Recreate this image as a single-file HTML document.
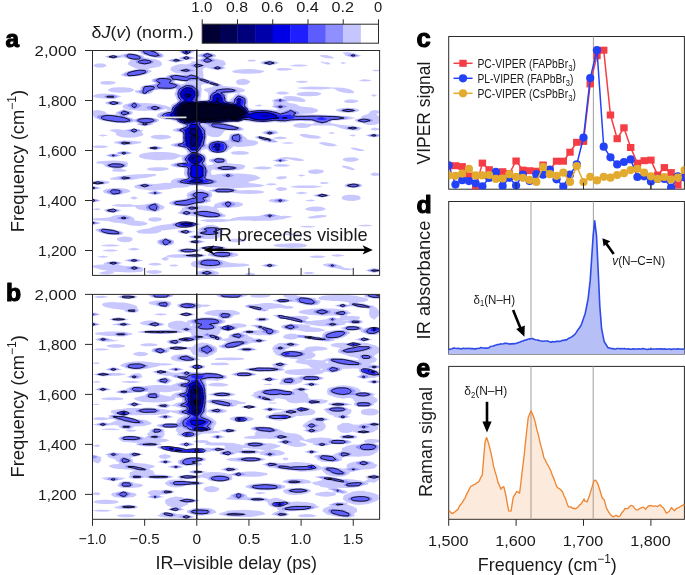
<!DOCTYPE html>
<html><head><meta charset="utf-8"><style>
html,body{margin:0;padding:0;background:#fff;}
svg{display:block;will-change:transform;}
text{font-family:'Liberation Sans', sans-serif;}
</style></head><body>
<svg width="685" height="575" viewBox="0 0 685 575">
<rect width="685" height="575" fill="#fff"/>
<clipPath id="cpa"><rect x="92.5" y="50.5" width="287.10" height="224.90"/></clipPath>
<g clip-path="url(#cpa)">
<path d="M160.3,57.9 155.1,57.8 150.7,56.8 149.9,56.6 145.9,55.5 144.6,55.1 141.5,54.2 140.8,53.0 139.4,52.0 138.5,51.8 136.7,50.5 137.4,49.2 139.4,48.6 144.6,48.3 149.8,49.2 149.9,49.3 154.1,50.5 155.1,50.8 158.4,51.8 160.1,53.0 160.3,53.1 163.4,54.2 163.8,55.5 163.6,56.8 160.3,57.9ZM186.4,55.1 183.2,54.2 181.2,53.0 181.1,53.0 178.3,51.8 181.2,50.5 181.2,50.5 183.2,49.2 186.4,48.5 189.7,49.2 191.6,50.3 192.3,50.5 194.9,51.8 192.1,53.0 191.6,53.1 190.1,54.2 186.4,55.1ZM165.5,189.6 160.3,190.1 155.1,190.4 149.9,190.4 144.6,189.7 140.7,189.2 139.4,189.1 135.2,188.0 134.5,186.8 134.5,185.5 139.4,184.3 139.7,184.2 144.6,183.2 149.9,183.8 155.1,183.9 160.3,183.4 163.4,183.0 165.5,182.7 170.4,183.0 170.7,183.0 170.8,183.0 170.9,181.8 171.3,180.5 173.7,179.2 175.9,178.6 180.8,178.0 181.2,178.0 182.6,178.0 186.4,178.0 186.4,178.0 186.4,177.3 186.0,176.8 184.4,175.5 184.3,174.2 183.9,173.0 184.1,171.8 184.2,170.5 184.6,169.2 184.1,168.0 181.2,167.8 175.9,167.3 173.1,166.8 170.7,165.5 170.6,165.5 170.7,165.1 170.9,164.2 175.0,163.0 175.9,162.8 181.2,162.2 182.8,161.8 182.2,160.5 181.7,159.2 181.4,158.0 181.4,156.8 181.2,155.9 180.1,156.8 177.3,158.0 175.9,158.6 175.0,159.2 170.7,159.8 165.5,159.8 160.3,160.3 155.1,160.2 149.9,159.6 146.4,159.2 144.6,159.0 141.5,158.0 139.4,157.2 138.5,156.8 139.4,155.7 139.6,155.5 139.9,154.2 144.6,153.1 145.1,153.0 149.9,152.2 155.1,151.9 160.3,151.9 165.5,152.0 170.7,152.5 174.5,153.0 175.9,153.4 178.2,154.2 181.2,155.3 186.4,154.4 186.6,154.2 187.6,153.0 187.0,151.8 186.4,150.5 186.4,150.5 184.4,149.2 182.7,148.0 181.2,147.7 175.9,147.0 174.5,146.8 170.9,145.5 171.2,144.2 175.9,143.0 175.9,143.0 181.2,142.2 181.9,141.8 182.0,140.5 182.1,139.2 181.9,138.0 182.0,136.8 182.0,135.5 182.0,134.2 181.8,133.0 181.2,132.6 176.2,131.8 175.9,131.7 172.6,130.5 173.1,129.2 175.9,128.4 177.6,128.0 181.2,127.4 182.7,126.8 182.9,125.5 181.2,124.5 180.5,124.2 177.7,123.0 176.3,121.8 175.9,121.4 173.1,120.5 170.7,120.0 165.5,119.5 164.2,119.2 160.3,118.2 159.1,118.0 157.1,116.8 156.8,115.5 157.5,114.2 159.2,113.0 160.3,112.6 163.7,111.8 165.5,111.3 167.9,110.5 166.6,109.2 165.5,108.5 165.0,109.2 160.3,110.3 159.3,110.5 155.1,111.3 149.9,110.5 144.6,110.9 139.4,110.8 135.4,110.5 134.2,110.3 129.0,109.9 126.0,109.2 123.8,108.2 123.0,108.0 122.8,106.8 122.9,105.5 123.8,105.2 124.8,104.2 129.0,103.4 129.7,103.0 134.2,102.0 139.3,103.0 139.4,103.1 144.6,103.1 149.9,103.3 155.1,103.7 159.1,104.2 160.3,104.4 165.3,105.5 165.5,105.6 168.9,106.8 170.7,107.4 170.9,106.8 171.1,105.5 172.0,104.2 174.7,103.0 175.9,102.6 176.7,101.8 177.1,100.5 176.6,99.2 176.1,98.0 175.9,97.1 175.7,96.8 174.8,95.5 174.5,94.2 174.5,93.0 175.5,91.8 175.7,90.5 175.9,90.3 176.4,89.2 175.9,89.0 174.3,89.2 170.7,89.7 165.5,89.9 160.3,89.5 155.1,90.2 154.1,90.5 153.0,91.8 151.9,93.0 149.9,93.5 147.0,94.2 144.6,94.8 142.2,94.2 139.4,93.4 137.0,93.0 135.0,91.8 134.9,90.5 139.4,89.9 140.4,89.2 140.6,88.0 141.0,86.8 143.8,85.5 144.6,85.3 149.9,84.7 152.9,84.2 155.1,83.4 155.9,83.0 155.1,82.7 152.0,81.8 151.6,80.5 152.0,79.2 155.1,78.3 156.2,78.0 160.3,77.2 165.5,77.1 166.5,76.8 166.8,75.5 170.7,74.4 175.9,74.3 181.2,74.4 186.2,74.2 181.2,73.8 175.9,73.2 175.6,73.0 173.0,71.8 170.8,70.5 170.7,70.2 170.4,69.2 170.7,68.6 171.0,68.0 171.7,66.8 175.1,65.5 175.9,65.1 179.6,64.2 181.2,64.1 184.8,64.2 186.4,64.4 186.9,64.2 191.0,63.0 191.3,61.8 191.6,61.6 196.8,61.2 197.0,60.5 197.9,59.2 202.0,58.5 203.1,58.0 202.0,57.6 198.2,56.8 197.9,55.5 198.8,54.2 202.0,53.6 204.1,53.0 207.2,52.3 210.4,53.0 212.4,53.6 215.1,54.2 216.2,55.5 215.7,56.8 212.4,57.8 211.9,58.0 212.4,58.2 217.7,59.2 217.7,59.2 222.9,60.3 223.5,60.5 224.9,61.8 225.4,63.0 226.0,64.2 224.5,65.5 222.9,66.4 222.8,66.8 222.9,66.8 226.6,68.0 222.9,69.1 222.2,69.2 217.7,70.2 212.8,69.2 212.4,69.2 207.6,68.0 207.2,67.4 204.1,68.0 203.3,69.2 202.4,70.5 203.4,71.8 203.0,73.0 203.5,74.2 203.6,75.5 203.3,76.8 203.8,78.0 206.2,79.2 207.2,79.5 210.8,80.5 212.4,81.1 215.1,81.8 216.2,83.0 217.7,83.4 221.6,84.2 222.5,85.5 222.9,85.7 228.1,86.4 233.2,86.8 233.3,86.8 238.5,87.5 240.3,88.0 243.7,89.1 244.0,89.2 245.2,90.5 243.7,91.7 243.7,91.8 238.5,92.9 237.3,93.0 233.3,93.3 228.1,93.8 227.6,94.2 227.3,95.5 227.1,96.8 227.3,98.0 227.3,99.2 227.6,100.5 228.1,100.9 229.5,100.5 230.2,99.2 231.7,98.0 233.3,97.2 233.6,96.8 234.5,95.5 235.5,94.2 238.5,93.1 241.1,94.2 243.7,95.0 244.8,95.5 246.6,96.8 247.4,98.0 247.7,99.2 247.8,100.5 247.9,101.8 247.8,103.0 247.7,104.2 247.7,105.5 248.2,106.8 248.9,108.0 248.9,108.1 251.6,109.2 254.2,109.5 258.7,109.2 259.4,109.2 264.6,109.2 265.4,109.2 269.8,109.4 275.0,110.0 279.6,109.2 275.2,108.0 275.0,107.9 271.5,106.8 273.3,105.5 273.5,104.2 273.3,103.0 273.6,101.8 271.6,100.5 275.0,99.3 275.3,99.2 280.2,98.1 285.4,99.2 285.5,99.3 285.6,99.2 285.5,99.1 283.3,98.0 283.6,96.8 285.5,96.2 290.7,96.1 295.9,96.4 296.7,96.8 301.1,97.8 301.6,98.0 304.1,99.2 306.0,100.5 304.6,101.8 301.1,102.1 298.6,101.8 295.9,101.4 290.7,100.7 286.5,101.8 289.4,103.0 290.7,103.2 295.9,104.0 296.6,104.2 298.3,105.5 301.1,106.6 303.1,106.8 306.3,106.9 311.5,107.5 313.3,108.0 316.7,109.1 317.2,109.2 318.2,110.5 317.1,111.8 316.7,112.0 313.6,113.0 311.5,113.4 306.3,113.8 301.1,114.1 300.9,114.2 301.1,114.3 306.3,114.4 311.5,114.4 316.7,114.6 322.0,114.7 327.2,114.9 332.4,115.1 335.7,115.5 337.6,115.6 342.8,115.9 348.0,116.3 350.8,116.8 353.2,117.4 356.1,118.0 353.2,118.6 350.7,119.2 348.0,119.6 342.8,120.1 337.6,120.4 335.8,120.5 332.4,120.8 330.8,121.8 330.1,123.0 332.4,123.6 337.2,124.2 337.6,124.4 342.8,124.9 347.1,125.5 348.0,125.6 353.2,125.8 357.5,126.8 358.5,127.0 362.1,128.0 359.9,129.2 358.9,130.5 358.5,130.6 356.8,130.5 353.2,130.4 348.0,129.9 345.2,129.2 342.8,128.7 339.9,128.0 337.6,127.1 336.5,126.8 332.4,125.5 327.2,125.5 322.0,125.6 318.4,125.5 316.7,125.4 313.5,125.5 311.5,125.6 309.7,126.8 306.3,127.7 301.1,127.9 295.9,127.2 294.3,126.8 292.9,125.5 294.3,124.2 295.9,123.8 301.1,123.1 306.3,123.5 311.5,123.9 314.8,123.0 313.2,121.8 311.5,121.2 306.3,121.3 301.1,121.1 295.9,121.1 291.1,121.8 290.7,121.9 285.5,122.5 280.2,122.5 275.0,122.0 269.8,122.5 264.6,122.9 259.4,122.8 254.2,122.5 250.0,121.8 248.9,121.6 243.7,121.0 241.3,121.8 238.5,122.5 233.3,122.6 228.1,122.9 227.1,123.0 228.1,123.3 229.7,124.2 233.3,124.9 235.6,125.5 238.5,126.4 240.1,126.8 242.6,128.0 243.7,129.0 244.4,129.2 243.7,129.6 241.9,130.5 238.5,131.0 233.3,131.0 229.2,130.5 228.1,130.4 224.8,130.5 224.3,131.8 222.9,133.0 222.9,133.1 222.2,134.2 221.0,135.5 218.9,136.8 217.7,137.2 212.4,137.0 211.5,136.8 207.8,135.5 207.2,135.1 207.2,135.5 207.0,136.8 206.8,138.0 206.6,139.2 206.4,140.5 206.3,141.8 206.2,143.0 206.9,144.2 207.2,144.7 207.5,144.2 208.4,143.0 209.4,141.8 212.4,140.8 214.9,140.5 217.7,139.8 221.5,140.5 222.9,140.6 225.6,140.5 228.1,140.1 228.6,139.2 229.0,138.0 229.2,136.8 229.4,135.5 230.5,134.2 233.3,133.6 238.5,133.0 238.5,133.0 238.5,133.0 242.0,134.2 243.0,135.5 243.7,136.3 244.9,136.8 246.4,138.0 247.2,139.2 248.9,139.8 254.2,140.4 254.6,140.5 257.9,141.8 258.2,143.0 257.0,144.2 254.2,145.5 254.1,145.5 248.9,146.2 243.7,146.7 243.1,146.8 238.5,146.9 236.9,146.8 233.3,146.3 232.9,146.8 231.6,148.0 229.8,149.2 228.1,149.9 227.6,150.5 226.9,151.8 222.9,152.8 221.6,153.0 217.7,153.6 214.2,153.0 212.4,152.7 209.3,151.8 208.2,150.5 207.4,149.2 207.2,148.9 205.5,149.2 202.0,149.9 201.6,150.5 201.0,151.8 201.1,153.0 202.0,153.4 204.4,154.2 205.7,155.5 206.3,156.8 206.5,158.0 206.6,159.2 206.4,160.5 206.2,161.8 206.2,163.0 206.7,164.2 207.2,165.5 207.2,165.5 207.3,165.5 212.4,164.4 213.5,164.2 213.5,163.0 212.4,162.6 209.9,161.8 208.7,160.5 209.3,159.2 212.4,158.6 214.7,158.0 217.7,157.3 222.9,157.7 224.0,158.0 226.6,159.2 227.1,160.5 227.2,161.8 227.2,163.0 228.1,163.3 233.3,163.7 238.5,163.9 240.7,164.2 243.7,165.0 245.0,165.5 245.1,166.8 244.5,168.0 243.7,168.4 242.2,169.2 238.5,170.0 233.3,170.5 232.0,170.5 228.1,170.8 222.9,170.7 220.3,170.5 217.7,170.4 212.4,169.4 211.6,170.5 211.0,171.8 211.1,173.0 211.5,174.2 212.4,175.1 217.4,174.2 217.7,174.2 222.9,173.6 228.1,173.0 233.3,173.4 238.5,173.5 243.7,173.7 248.9,174.2 249.3,174.2 254.2,175.0 256.3,175.5 258.4,176.8 259.4,177.3 260.8,178.0 259.4,178.7 258.0,179.2 254.7,180.5 254.2,180.6 248.9,181.7 248.9,181.8 248.5,183.0 248.9,183.0 254.2,183.4 259.4,184.2 260.2,184.2 264.6,185.3 267.1,185.5 264.6,185.6 261.0,186.8 259.4,186.9 254.2,187.2 248.9,187.6 243.7,187.8 238.5,187.9 233.3,187.9 228.1,187.8 222.9,187.7 217.7,187.6 212.4,187.3 207.2,187.0 205.8,186.8 202.0,186.0 196.8,185.7 194.5,185.5 191.6,185.5 190.7,185.5 188.3,186.8 186.4,187.3 181.2,187.8 175.9,187.7 173.4,188.0 170.7,188.9 169.0,189.2 165.5,189.6ZM353.2,57.7 349.4,56.8 348.0,56.4 344.9,55.5 344.7,54.2 342.8,53.0 342.8,53.0 342.8,52.6 348.0,52.0 352.1,53.0 353.2,53.1 357.1,54.2 358.5,54.7 361.1,55.5 358.5,56.7 358.3,56.8 353.2,57.7ZM129.0,77.0 127.1,76.8 123.8,76.3 121.3,75.5 121.3,74.2 123.8,73.1 123.9,73.0 125.9,71.8 129.0,70.9 130.9,70.5 134.2,69.5 138.2,69.2 134.9,68.0 134.2,67.8 132.2,66.8 129.6,65.5 129.0,65.0 128.0,64.2 128.1,63.0 129.0,61.9 129.2,61.8 130.3,60.5 129.5,59.2 129.0,59.1 125.1,58.0 123.8,57.2 118.6,58.0 118.5,58.0 113.4,58.8 108.4,58.0 108.1,57.9 104.7,56.8 108.1,55.6 108.5,55.5 113.4,54.7 118.6,55.4 122.4,54.2 123.8,53.9 129.0,53.3 134.2,53.5 137.6,54.2 139.4,54.7 143.0,55.5 143.9,56.8 144.6,57.5 148.6,58.0 149.9,58.4 155.1,59.1 155.6,59.2 159.0,60.5 160.3,61.2 161.0,61.8 161.7,63.0 162.2,64.2 161.3,65.5 160.3,66.3 159.2,66.8 155.1,67.5 152.3,68.0 149.9,68.4 147.7,69.2 149.9,69.9 151.2,70.5 151.6,71.8 149.9,72.3 148.8,73.0 146.7,74.2 144.6,74.7 141.9,75.5 139.4,76.1 134.2,76.6 131.5,76.8 129.0,77.0ZM332.4,58.5 327.2,58.3 326.0,58.0 322.0,57.0 321.2,56.8 319.6,55.5 322.0,54.9 327.2,55.3 328.2,55.5 332.2,56.8 332.4,56.8 333.9,58.0 332.4,58.5ZM186.4,60.2 181.5,59.2 181.2,59.1 178.0,58.0 181.2,57.0 182.0,56.8 186.4,55.8 190.9,56.8 191.6,57.0 196.0,58.0 191.6,59.1 191.3,59.2 186.4,60.2ZM175.9,62.7 171.5,61.8 170.7,61.6 166.5,60.5 170.7,59.5 171.5,59.2 175.9,58.4 180.8,59.2 181.2,59.4 185.1,60.5 181.2,61.6 180.4,61.8 175.9,62.7ZM254.2,61.4 248.9,61.4 247.3,60.5 248.9,59.7 254.2,59.7 256.2,60.5 254.2,61.4ZM275.0,64.4 269.8,65.4 264.6,64.6 263.1,64.2 260.0,63.0 261.6,61.8 264.6,60.7 267.4,60.5 269.8,60.3 271.8,60.5 275.0,61.0 276.8,61.8 279.4,63.0 275.4,64.2 275.0,64.4ZM322.0,63.0 320.4,61.8 322.0,61.4 324.6,61.8 322.0,63.0ZM327.2,64.4 326.4,64.2 322.0,63.0 327.2,62.1 329.8,63.0 330.5,64.2 327.2,64.4ZM342.8,64.0 340.1,63.0 342.8,62.0 346.9,63.0 342.8,64.0ZM102.9,67.5 97.7,67.8 95.0,66.8 93.1,65.5 95.0,64.2 97.7,63.4 102.9,63.4 105.3,64.2 106.6,65.5 105.3,66.8 102.9,67.5ZM306.3,65.9 301.1,66.5 295.9,66.4 290.7,65.7 289.7,65.5 290.7,65.3 295.9,64.6 301.1,64.6 306.3,65.1 308.2,65.5 306.3,65.9ZM285.5,70.6 280.2,70.7 278.8,70.5 275.7,69.2 279.7,68.0 280.2,67.9 285.5,67.9 286.0,68.0 290.7,68.6 292.5,69.2 290.7,70.0 286.2,70.5 285.5,70.6ZM259.4,73.2 254.2,73.6 248.9,73.8 243.7,73.8 238.5,73.3 236.1,73.0 233.3,72.4 231.8,71.8 233.3,70.8 233.7,70.5 238.5,69.5 243.7,69.3 244.1,69.2 248.9,69.0 253.8,69.2 254.2,69.3 259.4,70.0 262.8,70.5 264.5,71.8 260.4,73.0 259.4,73.2ZM379.3,71.2 374.1,71.2 372.0,70.5 374.1,69.8 379.3,69.8 381.1,70.5 379.3,71.2ZM243.7,85.1 238.5,84.8 237.6,84.2 236.2,83.0 236.0,81.8 236.5,80.5 238.5,79.5 240.1,79.2 243.7,78.7 246.0,79.2 248.9,80.4 249.2,80.5 250.4,81.8 249.2,83.0 248.9,83.3 247.5,84.2 243.7,85.1ZM182.0,84.2 185.3,83.0 186.0,81.8 181.2,81.4 176.1,80.5 175.9,80.5 175.8,80.5 174.3,81.8 175.9,82.8 177.0,83.0 180.7,84.2 181.2,84.6 182.0,84.2ZM368.9,81.3 363.7,81.5 358.5,80.5 363.7,79.3 368.9,79.8 371.6,80.5 368.9,81.3ZM108.1,84.8 102.9,84.5 102.0,84.2 99.9,83.0 100.9,81.8 102.9,81.3 108.1,81.1 113.4,81.4 114.7,81.8 115.9,83.0 113.4,84.1 112.8,84.2 108.1,84.8ZM306.3,82.4 301.1,82.9 295.9,82.0 295.3,81.8 295.9,81.5 301.1,80.7 306.3,81.1 308.2,81.8 306.3,82.4ZM207.8,99.2 207.9,98.0 207.9,96.8 208.1,95.5 208.2,94.2 208.0,93.0 207.2,92.0 206.1,91.8 204.5,90.5 203.3,89.2 207.2,88.2 207.8,88.0 212.4,86.9 213.4,86.8 213.3,85.5 212.4,85.3 208.4,84.2 207.2,83.9 202.4,84.2 202.0,84.7 201.2,85.5 201.0,86.8 201.6,88.0 201.8,89.2 201.8,90.5 201.6,91.8 201.4,93.0 201.4,94.2 201.2,95.5 200.9,96.8 200.7,98.0 200.1,99.2 202.0,100.0 207.2,99.7 207.8,99.2ZM353.2,93.2 348.0,93.2 346.7,93.0 342.8,92.4 340.4,91.8 337.6,90.9 336.7,90.5 335.3,89.2 332.4,88.5 327.2,89.0 323.9,89.2 322.0,89.4 316.7,89.5 311.5,89.5 306.3,89.3 305.7,89.2 301.1,88.7 296.4,88.0 301.1,87.3 306.3,86.9 308.4,86.8 311.5,86.6 316.7,86.7 320.1,86.8 322.0,86.8 327.2,87.0 332.4,87.6 337.6,87.5 342.8,87.8 343.9,88.0 348.0,88.7 350.0,89.2 352.3,90.5 353.2,91.1 354.2,91.8 353.8,93.0 353.2,93.2ZM129.0,92.2 123.8,92.5 118.6,92.7 113.4,92.3 110.6,91.8 108.1,90.7 107.8,90.5 108.1,89.9 108.6,89.2 111.2,88.0 113.4,87.6 118.6,87.3 123.8,87.3 129.0,87.7 130.5,88.0 133.7,89.2 133.6,90.5 131.3,91.8 129.0,92.2ZM285.5,94.6 280.2,94.5 279.2,94.2 275.2,93.0 279.5,91.8 280.2,91.6 285.3,91.8 285.5,91.8 289.8,93.0 286.3,94.2 285.5,94.6ZM316.7,95.8 311.5,96.3 306.3,96.3 301.1,95.9 298.7,95.5 296.4,94.2 297.4,93.0 301.1,92.2 306.0,91.8 306.3,91.7 310.8,91.8 311.5,91.8 316.7,92.1 320.9,93.0 321.2,94.2 318.3,95.5 316.7,95.8ZM113.4,98.9 108.1,98.8 102.9,98.4 98.1,98.0 97.7,98.0 93.4,96.8 93.2,95.5 96.6,94.2 97.7,94.1 102.9,93.6 108.1,93.7 113.4,94.1 113.7,94.2 118.6,95.5 118.6,95.5 121.6,96.8 118.6,97.5 117.5,98.0 113.4,98.9ZM374.1,96.7 370.9,95.5 374.1,94.3 377.1,95.5 374.1,96.7ZM353.2,103.1 348.0,103.1 347.3,103.0 343.6,101.8 344.7,100.5 348.0,99.6 353.2,99.5 357.9,100.5 358.3,101.8 353.7,103.0 353.2,103.1ZM118.6,105.0 113.4,105.3 108.1,104.6 106.9,104.2 104.8,103.0 106.7,101.8 108.1,101.4 113.4,100.8 118.6,101.2 121.1,101.8 122.7,103.0 122.4,104.2 118.6,105.0ZM259.4,106.6 254.3,105.5 259.4,104.4 262.6,105.5 259.4,106.6ZM353.2,112.6 348.0,112.8 342.8,112.5 338.6,111.8 337.6,111.2 336.0,110.5 336.5,109.2 337.6,108.9 342.8,108.0 343.3,108.0 348.0,107.7 352.6,108.0 353.2,108.0 358.5,109.2 358.6,109.2 359.5,110.5 358.5,111.0 357.4,111.8 353.2,112.6ZM144.6,126.3 140.6,125.5 139.4,125.2 136.4,124.2 138.0,123.0 134.2,121.9 129.4,123.0 129.0,123.1 123.8,123.3 120.2,123.0 118.6,122.9 113.4,122.6 108.1,121.8 108.0,121.8 102.9,120.8 101.7,120.5 98.0,119.2 97.7,119.1 95.0,118.0 93.9,116.8 93.1,115.5 92.5,115.1 90.5,114.2 90.3,113.0 90.8,111.8 92.5,110.8 93.9,110.5 97.7,110.1 100.9,110.5 102.9,110.9 105.4,111.8 106.1,113.0 108.1,114.0 108.9,114.2 113.4,114.5 116.4,114.2 115.4,113.0 116.7,111.8 118.6,111.2 120.0,110.5 123.8,109.3 128.5,110.5 129.0,110.6 132.9,111.8 132.8,113.0 132.2,114.2 129.0,115.2 127.7,115.5 127.2,116.8 129.0,117.3 131.8,118.0 134.2,119.2 138.2,118.0 139.4,117.7 144.6,117.2 149.9,117.3 153.6,118.0 155.1,118.3 158.9,119.2 158.9,120.5 158.2,121.8 155.1,122.7 153.7,123.0 153.1,124.2 149.9,125.2 148.6,125.5 144.6,126.3ZM374.1,125.1 368.9,125.1 365.5,124.2 363.7,123.7 362.8,123.0 358.5,122.5 356.2,121.8 354.6,120.5 355.2,119.2 358.5,118.4 360.6,118.0 361.3,116.8 363.0,115.5 363.7,115.2 367.4,114.2 368.9,113.3 369.3,113.0 369.6,111.8 372.1,110.5 374.1,110.1 378.1,110.5 379.3,110.7 381.1,111.8 379.6,113.0 379.3,113.2 375.9,114.2 378.0,115.5 379.3,116.6 379.5,116.8 381.2,118.0 381.6,119.2 381.5,120.5 380.8,121.8 379.7,123.0 379.3,123.2 377.0,124.2 374.1,125.1ZM374.1,130.5 373.9,130.5 370.1,129.2 372.7,128.0 374.1,127.6 376.3,128.0 379.3,128.5 380.9,129.2 379.3,130.0 374.7,130.5 374.1,130.5ZM134.2,137.6 129.0,137.8 123.8,137.5 120.4,136.8 118.6,136.1 117.2,135.5 115.8,134.2 116.2,133.0 113.4,131.8 113.3,131.8 109.0,130.5 113.0,129.2 113.4,129.2 118.6,129.2 118.8,129.2 123.8,130.1 129.0,129.3 129.2,129.2 134.2,128.3 139.1,129.2 139.4,129.4 143.4,130.5 141.3,131.8 142.5,133.0 143.5,134.2 142.6,135.5 139.4,136.5 138.1,136.8 134.2,137.6ZM269.8,135.1 265.8,134.2 264.6,133.8 261.4,133.0 263.7,131.8 264.6,131.2 267.6,130.5 269.8,130.2 274.7,130.5 275.0,130.5 277.4,131.8 278.7,133.0 275.0,134.0 274.2,134.2 269.8,135.1ZM332.4,133.9 327.2,133.0 332.4,132.1 334.8,133.0 332.4,133.9ZM316.7,138.8 311.5,138.5 308.2,138.0 306.3,137.7 302.5,136.8 301.1,136.1 299.6,135.5 300.4,134.2 301.1,134.1 306.3,134.1 307.1,134.2 311.5,134.9 316.1,135.5 316.7,135.6 320.3,136.8 321.1,138.0 316.7,138.8ZM374.1,137.5 369.7,136.8 368.9,136.6 365.2,135.5 368.9,134.5 369.7,134.2 374.1,133.4 378.2,134.2 379.3,134.6 382.5,135.5 379.3,136.4 378.1,136.8 374.1,137.5ZM108.1,135.6 102.9,136.6 98.2,135.5 102.9,134.4 108.1,135.4 108.7,135.5 108.1,135.6ZM160.3,139.5 157.8,139.2 155.1,138.8 151.5,138.0 150.7,136.8 152.8,135.5 155.1,135.0 160.3,134.7 165.5,135.0 169.0,135.5 170.7,136.4 171.2,136.8 170.7,137.8 170.5,138.0 165.5,139.0 163.7,139.2 160.3,139.5ZM353.2,136.4 348.8,135.5 353.2,134.6 356.0,135.5 353.2,136.4ZM275.0,142.7 269.8,142.5 266.2,141.8 264.6,141.3 260.7,140.5 260.2,139.2 259.4,139.0 255.4,138.0 254.8,136.8 259.4,135.9 263.1,136.8 264.6,137.1 268.8,138.0 269.8,138.3 274.5,139.2 275.0,140.1 275.6,140.5 278.7,141.8 275.0,142.7ZM280.2,139.3 279.3,139.2 275.0,138.8 273.0,138.0 275.0,137.2 278.6,136.8 280.2,136.6 281.8,136.8 285.5,137.3 287.2,138.0 285.5,138.8 281.2,139.2 280.2,139.3ZM134.2,144.3 129.0,145.0 123.8,145.2 119.1,144.2 118.6,144.1 113.8,143.0 114.6,141.8 118.6,141.0 123.8,140.6 129.0,140.6 134.2,140.9 139.4,141.4 141.3,141.8 141.1,143.0 139.4,143.3 134.5,144.2 134.2,144.3ZM290.7,143.8 285.5,143.8 281.0,143.0 285.5,142.2 290.7,142.3 294.5,143.0 290.7,143.8ZM337.6,145.5 332.4,146.6 327.2,145.9 325.0,145.5 322.0,144.6 320.9,144.2 318.5,143.0 322.0,142.0 327.2,142.5 329.5,143.0 332.4,143.6 334.7,144.2 337.6,145.5 337.6,145.5 337.6,145.5ZM102.9,148.0 97.7,148.0 97.2,148.0 92.5,147.3 91.0,146.8 92.5,146.2 96.6,145.5 97.7,145.4 102.9,145.4 104.3,145.5 108.1,146.5 109.0,146.8 108.1,147.0 103.4,148.0 102.9,148.0ZM155.1,150.3 150.4,149.2 149.9,149.1 146.3,148.0 149.9,146.8 150.3,146.8 155.1,145.9 159.6,146.8 160.3,146.9 163.6,148.0 160.3,149.1 159.6,149.2 155.1,150.3ZM363.7,151.1 358.5,150.9 356.8,150.5 353.2,149.6 352.1,149.2 350.4,148.0 353.2,147.4 356.7,148.0 358.5,148.4 361.5,149.2 363.7,150.0 364.7,150.5 363.7,151.1ZM123.8,155.1 119.1,154.2 118.6,154.1 115.3,153.0 118.6,152.0 119.4,151.8 123.8,150.9 128.4,151.8 129.0,151.9 132.9,153.0 129.0,154.1 128.3,154.2 123.8,155.1ZM243.7,154.7 238.5,154.8 233.3,154.4 232.8,154.2 230.4,153.0 232.5,151.8 233.3,151.6 238.5,151.1 243.7,151.2 247.0,151.8 248.9,152.7 249.6,153.0 248.9,153.4 247.0,154.2 243.7,154.7ZM113.4,157.5 109.7,156.8 108.1,156.3 105.2,155.5 108.1,154.7 109.5,154.2 113.4,153.4 117.9,154.2 118.6,154.5 121.7,155.5 118.6,156.3 117.1,156.8 113.4,157.5ZM280.2,162.6 276.7,161.8 275.0,161.2 272.4,160.5 275.0,159.8 276.9,159.2 279.7,158.0 280.2,157.8 285.5,157.1 290.7,157.5 295.9,157.7 297.3,158.0 301.1,158.9 302.6,159.2 304.4,160.5 301.1,160.9 295.9,160.7 294.9,160.5 290.7,159.6 288.0,159.2 285.5,158.9 284.8,159.2 285.5,159.4 288.9,160.5 285.5,161.2 283.8,161.8 280.2,162.6ZM353.2,161.8 348.0,161.8 347.5,161.8 343.4,160.5 342.8,159.6 342.6,159.2 342.8,159.1 344.8,158.0 348.0,157.4 353.2,157.2 356.6,158.0 358.5,158.8 359.1,159.2 358.5,159.8 357.5,160.5 353.5,161.8 353.2,161.8ZM118.6,171.8 117.3,171.8 113.4,171.4 111.3,170.5 113.4,169.6 115.2,169.2 113.4,168.9 112.0,168.0 108.1,167.4 105.4,166.8 104.4,165.5 103.1,164.2 102.9,164.1 97.7,163.4 96.0,163.0 97.0,161.8 97.7,161.6 102.9,161.1 108.1,160.7 113.4,160.5 118.6,160.7 123.8,161.2 126.8,161.8 127.8,163.0 127.8,164.2 127.6,165.5 127.1,166.8 123.8,167.6 120.6,168.0 122.7,169.2 123.8,169.4 127.3,170.5 123.8,171.7 121.1,171.8 118.6,171.8ZM280.2,166.8 279.0,166.8 275.0,166.2 273.3,165.5 275.0,164.7 277.7,164.2 280.2,164.0 285.5,164.2 285.8,164.2 290.7,165.4 291.1,165.5 290.7,165.6 285.5,166.7 284.6,166.8 280.2,166.8ZM264.6,169.5 259.4,169.3 259.0,169.2 254.2,168.4 251.8,168.0 254.2,167.6 258.5,166.8 259.4,166.6 264.6,166.6 266.4,166.8 269.8,167.1 272.3,168.0 269.8,168.8 267.2,169.2 264.6,169.5ZM353.2,170.2 348.0,169.3 348.0,169.2 344.7,168.0 342.8,167.2 341.9,166.8 342.8,165.5 348.0,166.3 349.6,166.8 352.6,168.0 353.2,168.2 355.3,169.2 353.2,170.2ZM160.3,171.0 155.1,171.0 150.6,170.5 149.9,170.4 146.3,169.2 148.5,168.0 149.9,167.8 155.1,167.3 160.3,167.2 165.5,167.6 167.6,168.0 169.2,169.2 165.5,170.3 164.5,170.5 160.3,171.0ZM322.0,173.0 316.7,173.9 311.5,173.7 309.1,173.0 308.0,171.8 308.7,170.5 311.5,169.7 316.0,169.2 316.7,169.2 317.3,169.2 322.0,169.9 323.6,170.5 323.8,171.8 322.0,173.0 322.0,173.0ZM374.1,176.0 372.0,175.5 370.3,174.2 372.3,173.0 374.1,172.6 377.8,173.0 379.3,173.4 380.6,174.2 379.3,175.5 379.3,175.5 374.1,176.0ZM134.2,179.4 129.0,180.1 123.8,180.3 118.6,180.0 113.4,179.8 109.5,179.2 110.9,178.0 113.4,177.5 116.2,176.8 118.6,176.3 123.8,175.6 125.5,175.5 129.0,175.0 134.2,174.5 139.4,174.3 140.2,174.2 144.6,174.1 149.9,173.9 155.1,174.1 156.2,174.2 156.0,175.5 155.1,175.8 151.3,176.8 149.9,177.0 145.4,178.0 144.6,178.1 139.4,178.6 135.5,179.2 134.2,179.4ZM301.1,176.4 297.5,175.5 301.1,174.6 305.9,175.5 301.1,176.4ZM280.2,179.5 278.8,179.2 275.3,178.0 277.8,176.8 280.2,176.2 285.5,176.3 286.9,176.8 286.5,178.0 285.5,178.5 282.3,179.2 280.2,179.5ZM102.9,184.5 97.7,185.1 92.5,184.3 92.0,184.2 88.3,183.0 90.4,181.8 92.5,181.2 97.7,180.5 102.9,180.5 108.1,181.3 109.2,181.8 109.5,183.0 108.1,183.5 104.8,184.2 102.9,184.5ZM327.2,183.7 322.0,183.9 319.7,183.0 322.0,182.1 327.2,182.3 329.0,183.0 327.2,183.7ZM275.0,185.1 269.8,185.5 265.4,184.2 269.8,183.3 275.0,183.6 277.0,184.2 275.0,185.1ZM358.5,187.5 353.2,187.7 348.0,187.4 345.2,186.8 344.4,185.5 345.5,184.2 348.0,183.6 353.2,183.3 358.5,183.5 361.7,184.2 362.1,185.5 361.4,186.8 358.5,187.5ZM311.5,188.0 306.3,188.1 301.1,188.0 300.8,188.0 295.9,187.8 290.7,187.0 289.6,186.8 290.7,186.5 295.9,185.8 299.1,185.5 301.1,185.4 306.3,185.4 311.5,185.4 313.1,185.5 316.7,185.8 322.0,186.6 322.4,186.8 322.0,186.8 316.7,187.6 312.2,188.0 311.5,188.0ZM92.5,190.1 88.4,189.2 87.3,188.9 84.2,188.0 87.3,187.1 88.3,186.8 92.5,185.9 96.6,186.8 97.7,187.1 101.5,188.0 97.7,189.0 96.6,189.2 92.5,190.1ZM280.2,191.0 277.8,190.5 275.9,189.2 276.6,188.0 280.2,187.1 285.5,187.7 286.6,188.0 287.0,189.2 285.5,190.2 284.3,190.5 280.2,191.0ZM118.6,195.0 113.4,195.2 109.0,194.2 108.1,193.9 104.2,193.0 103.3,191.8 102.9,190.7 102.7,190.5 102.9,190.4 105.6,189.2 108.1,188.7 113.4,188.1 118.6,188.1 123.8,188.4 127.7,189.2 129.0,189.9 130.1,190.5 130.1,191.8 129.0,192.3 126.3,193.0 123.8,193.4 122.4,194.2 118.6,195.0ZM259.4,193.5 254.2,193.8 248.9,193.9 243.7,193.7 238.5,193.5 234.3,193.0 233.3,192.9 228.1,192.8 222.9,192.7 217.7,192.7 212.6,191.8 212.4,191.7 207.8,190.5 212.4,189.4 212.8,189.2 217.7,188.1 222.9,188.1 228.1,188.0 233.3,188.0 236.5,189.2 238.5,190.5 238.5,190.5 238.5,190.5 243.7,190.2 248.9,190.1 254.2,190.3 259.4,190.4 259.8,190.5 264.5,191.8 262.9,193.0 259.4,193.5ZM222.9,217.3 217.7,217.8 212.4,217.9 207.2,217.8 202.0,217.4 196.8,216.9 196.0,216.8 191.6,215.8 190.2,215.5 186.4,215.4 181.4,214.2 181.2,214.2 177.2,213.0 179.7,211.8 180.6,210.5 181.2,210.0 182.1,209.2 181.9,208.0 186.1,206.8 181.2,206.5 175.9,206.1 173.5,205.5 170.7,204.4 170.1,204.2 168.4,203.0 170.2,201.8 170.7,201.6 173.8,200.5 175.9,200.0 181.2,199.6 183.5,199.2 186.4,198.3 187.6,198.0 187.0,196.8 186.8,195.5 186.8,194.2 187.5,193.0 190.1,191.8 191.6,191.1 193.0,190.5 196.8,189.6 202.0,189.3 205.5,190.5 207.2,190.9 211.5,191.8 211.6,193.0 212.2,194.2 212.2,195.5 211.8,196.8 210.4,198.0 210.2,199.2 210.8,200.5 210.4,201.8 207.2,202.5 205.0,203.0 202.0,203.9 196.8,204.1 196.3,204.2 196.8,205.2 201.9,205.5 202.0,205.5 207.2,205.8 211.9,206.8 212.4,207.0 213.6,206.8 214.1,205.5 214.8,204.2 217.4,203.0 217.7,202.9 221.3,201.8 222.9,201.6 228.1,200.7 233.3,201.6 235.2,201.8 238.5,202.1 241.8,203.0 243.0,204.2 242.7,205.5 238.9,206.8 238.5,206.9 233.3,207.6 228.1,207.9 222.9,207.8 218.1,208.0 217.7,208.1 216.8,209.2 217.7,209.6 219.3,210.5 218.8,211.8 221.6,213.0 222.9,213.8 224.2,214.2 225.9,215.5 225.3,216.8 222.9,217.3ZM155.1,195.0 151.3,194.2 149.9,193.9 146.7,193.0 149.9,192.1 151.1,191.8 155.1,190.5 159.1,191.8 160.3,192.1 163.4,193.0 160.3,193.8 158.8,194.2 155.1,195.0ZM306.3,193.4 301.1,194.2 295.9,193.2 295.4,193.0 295.9,192.8 301.1,191.8 306.3,192.6 307.4,193.0 306.3,193.4ZM322.0,197.6 317.1,196.8 316.7,196.7 312.8,195.5 316.7,194.3 317.1,194.2 322.0,193.4 327.2,194.2 327.2,194.3 331.2,195.5 327.2,196.7 326.9,196.8 322.0,197.6ZM353.2,200.9 348.0,200.8 346.2,200.5 342.8,199.5 342.2,199.2 341.7,198.0 342.2,196.8 342.8,196.3 344.2,195.5 348.0,194.8 353.2,194.7 358.1,195.5 358.5,195.6 360.1,196.8 360.6,198.0 360.3,199.2 358.5,199.9 356.0,200.5 353.2,200.9ZM134.2,199.4 133.3,199.2 129.7,198.0 132.9,196.8 134.2,196.5 135.4,196.8 138.1,198.0 135.1,199.2 134.2,199.4ZM92.5,202.6 88.0,201.8 87.3,201.5 84.2,200.5 87.3,199.5 87.9,199.2 92.5,198.4 97.2,199.2 97.7,199.4 100.9,200.5 97.7,201.5 97.0,201.8 92.5,202.6ZM285.5,202.0 280.2,202.9 275.0,202.7 269.8,201.8 269.8,201.8 268.5,200.5 269.8,199.7 270.8,199.2 275.0,198.7 280.2,198.2 285.2,199.2 285.5,199.3 289.3,200.5 286.2,201.8 285.5,202.0ZM311.5,201.4 306.3,200.9 305.3,200.5 306.3,200.2 311.5,199.5 315.4,200.5 311.5,201.4ZM155.1,212.1 152.6,211.8 149.9,211.2 144.6,210.5 144.5,210.5 139.4,209.5 138.3,209.2 136.2,208.0 135.2,206.8 134.2,206.5 129.7,206.8 129.0,206.8 123.8,206.9 120.6,206.8 118.6,206.6 113.4,206.1 111.1,205.5 113.4,204.9 117.3,204.2 118.6,204.2 123.8,204.2 129.0,204.2 129.9,204.2 134.2,204.9 139.4,205.0 144.6,204.4 145.0,204.2 149.9,203.4 152.0,203.0 155.1,202.5 157.5,203.0 159.8,204.2 160.3,204.8 162.7,205.5 164.6,206.8 164.3,208.0 163.0,209.2 160.3,210.0 159.7,210.5 156.9,211.8 155.1,212.1ZM322.0,210.7 316.7,211.4 311.5,211.1 307.9,210.5 306.3,210.0 305.1,209.2 306.3,208.2 306.6,208.0 311.5,206.8 311.6,206.8 316.7,206.5 319.6,206.8 322.0,207.1 324.6,208.0 325.8,209.2 323.1,210.5 322.0,210.7ZM97.7,210.2 92.5,209.4 92.1,209.2 92.5,209.1 97.7,208.3 101.1,209.2 97.7,210.2ZM113.4,212.7 108.1,212.4 105.9,211.8 104.2,210.5 104.6,209.2 108.1,208.7 113.4,208.4 117.9,209.2 118.6,209.5 121.7,210.5 118.6,211.5 117.9,211.8 113.4,212.7ZM222.9,221.9 217.7,222.1 212.4,222.2 207.2,221.9 206.6,221.8 202.0,221.0 199.7,220.5 202.0,220.0 207.2,219.3 208.5,219.2 212.4,219.0 217.7,218.7 222.9,219.1 225.3,219.2 228.1,219.4 230.3,219.2 233.0,218.0 233.3,217.9 238.5,216.9 240.3,216.8 243.7,216.6 248.9,216.2 254.2,216.2 259.4,216.1 260.1,215.5 264.6,214.4 265.2,214.2 269.8,213.4 274.6,214.2 275.0,214.4 279.6,215.5 280.2,216.1 285.5,215.7 290.7,216.3 292.0,216.8 290.7,217.4 286.7,218.0 285.5,218.5 283.0,219.2 280.2,219.6 275.0,220.3 272.6,220.5 269.8,220.7 264.6,220.8 259.4,220.8 254.2,220.9 248.9,220.6 243.7,220.6 241.5,220.5 238.5,220.3 236.7,220.5 233.3,220.7 228.1,221.3 224.2,221.8 222.9,221.9ZM139.4,225.9 134.2,225.8 131.3,225.5 129.0,225.1 126.1,224.2 123.8,223.6 118.6,223.0 118.2,223.0 113.4,222.5 110.9,221.8 108.1,221.0 102.9,220.8 97.7,220.6 97.0,220.5 92.5,219.9 90.4,219.2 92.5,218.6 97.6,218.0 97.7,218.0 102.9,217.9 108.1,217.4 111.1,216.8 113.4,215.7 114.2,215.5 118.6,214.9 123.8,214.7 127.9,215.5 129.0,215.8 131.8,216.8 133.8,218.0 134.2,219.1 134.4,219.2 134.5,220.5 139.4,221.1 144.2,221.8 144.6,221.9 147.5,223.0 147.1,224.2 144.6,225.2 143.2,225.5 139.4,225.9ZM316.7,218.2 311.5,218.4 307.7,218.0 308.6,216.8 311.5,216.2 315.6,215.5 316.7,215.3 322.0,215.1 327.2,215.5 327.3,215.5 327.2,215.6 326.0,216.8 322.0,217.5 318.6,218.0 316.7,218.2ZM155.1,221.8 154.5,221.8 149.9,220.9 148.9,220.5 148.2,219.2 149.4,218.0 149.9,217.8 155.1,217.2 160.3,217.8 160.9,218.0 161.8,219.2 160.9,220.5 160.3,220.8 155.5,221.8 155.1,221.8ZM92.5,225.0 88.5,224.2 87.3,224.0 84.0,223.0 87.3,222.0 88.4,221.8 92.5,220.7 96.6,221.8 97.7,222.1 101.2,223.0 97.7,224.0 96.5,224.2 92.5,225.0ZM155.1,233.4 149.9,233.7 144.6,233.7 139.4,233.2 138.4,233.0 136.1,231.8 137.7,230.5 139.4,230.0 142.7,229.2 144.6,228.9 149.9,228.2 150.4,228.0 153.4,226.8 155.1,226.4 158.9,225.5 160.3,225.2 165.5,224.5 167.6,224.2 170.7,224.0 172.5,223.0 175.9,222.3 178.1,221.8 181.2,221.1 186.4,220.9 191.0,221.8 191.6,221.8 196.4,223.0 196.8,223.1 201.3,224.2 196.8,225.4 196.6,225.5 195.2,226.8 191.6,227.6 186.4,227.9 183.1,228.0 181.2,228.3 175.9,229.1 174.4,229.2 170.7,229.5 165.5,230.2 161.1,230.5 161.0,231.8 160.3,232.0 157.0,233.0 155.1,233.4ZM217.7,238.2 212.4,239.1 207.2,239.0 202.0,238.7 196.8,238.9 192.2,238.0 191.6,237.8 188.2,236.8 191.6,235.7 192.3,235.5 196.8,234.4 197.9,234.2 196.8,233.5 195.2,233.0 196.8,232.4 197.6,231.8 199.1,230.5 197.7,229.2 200.1,228.0 202.0,227.0 203.4,226.8 206.7,225.5 207.2,225.1 212.4,224.7 215.3,225.5 217.7,226.3 218.6,226.8 222.4,228.0 222.9,228.2 226.1,229.2 222.9,230.5 222.9,230.5 222.9,230.6 223.1,231.8 222.9,232.2 222.7,233.0 222.3,234.2 221.7,235.5 220.4,236.8 218.0,238.0 217.7,238.2ZM368.9,226.3 363.7,226.4 358.5,225.7 357.7,225.5 358.5,225.3 363.7,224.7 368.9,224.7 373.2,225.5 368.9,226.3ZM311.5,227.5 306.3,227.6 301.1,227.1 299.5,226.8 301.1,226.3 306.3,225.8 311.5,226.0 316.0,226.8 311.5,227.5ZM118.6,235.2 113.4,235.1 108.1,234.7 106.1,234.2 102.9,233.5 100.7,233.0 98.4,231.8 97.7,231.4 95.5,230.5 95.7,229.2 97.7,228.7 102.9,228.2 108.1,228.4 112.9,229.2 113.4,229.3 118.2,230.5 118.6,230.6 122.1,231.8 123.6,233.0 123.2,234.2 118.6,235.2ZM186.4,233.9 181.2,233.4 179.3,233.0 177.5,231.8 178.4,230.5 181.2,229.7 186.4,229.5 190.5,230.5 191.6,230.9 195.9,231.8 191.6,232.6 190.7,233.0 186.4,233.9ZM301.1,234.4 295.9,235.1 290.7,235.4 285.5,235.1 280.2,234.3 280.2,234.2 280.2,234.2 285.5,233.5 290.7,233.2 295.9,233.4 301.1,234.1 301.7,234.2 301.1,234.4ZM129.0,242.0 123.8,242.2 120.5,241.8 118.6,241.1 117.7,240.5 116.6,239.2 117.6,238.0 118.6,237.6 122.5,236.8 123.8,236.6 127.8,236.8 129.0,236.8 132.4,238.0 132.7,239.2 132.1,240.5 130.0,241.8 129.0,242.0ZM165.5,246.1 162.8,245.5 160.3,244.7 158.7,244.2 157.2,243.0 157.1,241.8 157.3,240.5 160.3,239.5 160.9,239.2 165.5,238.1 170.7,239.2 170.7,239.3 173.9,240.5 174.2,241.8 174.0,243.0 173.0,244.2 170.7,244.9 168.4,245.5 165.5,246.1ZM238.5,242.3 233.3,242.3 230.0,241.8 228.1,240.9 227.2,240.5 228.1,240.1 230.4,239.2 233.3,238.7 238.5,238.7 243.3,239.2 243.7,239.4 246.1,240.5 243.7,241.7 243.5,241.8 238.5,242.3ZM196.8,243.8 191.6,243.3 190.2,243.0 187.9,241.8 190.5,240.5 191.6,240.2 196.8,239.6 201.1,240.5 202.0,240.8 206.0,241.8 202.0,242.6 200.8,243.0 196.8,243.8ZM301.1,247.4 295.9,247.8 290.7,247.9 285.5,247.4 280.2,247.2 277.2,246.8 275.0,246.2 273.0,245.5 275.0,244.6 276.6,244.2 280.2,243.8 285.5,243.7 290.7,243.3 295.9,243.3 301.1,243.6 305.0,244.2 306.3,244.9 307.5,245.5 306.3,246.3 305.4,246.8 301.1,247.4ZM118.6,245.9 113.4,246.6 108.1,246.6 102.9,246.1 100.6,245.5 102.9,244.9 108.1,244.5 113.4,244.4 118.6,245.2 119.9,245.5 118.6,245.9ZM222.9,249.7 217.7,250.1 212.4,250.1 207.2,250.1 202.2,249.2 202.0,249.2 198.2,248.0 202.0,246.8 202.0,246.7 207.2,245.9 212.4,245.8 217.7,245.9 222.9,246.4 224.3,246.8 227.5,248.0 224.4,249.2 222.9,249.7ZM134.2,250.6 133.7,250.5 129.0,249.7 128.0,249.2 129.0,248.8 132.6,248.0 134.2,247.8 135.8,248.0 139.4,249.0 140.0,249.2 139.4,249.5 134.7,250.5 134.2,250.6ZM196.8,252.1 191.6,252.6 186.4,252.7 181.2,252.5 178.4,251.8 177.5,250.5 178.8,249.2 181.2,248.7 186.4,248.4 191.6,248.4 196.8,248.8 201.2,249.2 200.4,250.5 198.2,251.8 196.8,252.1ZM113.4,251.4 108.1,251.4 102.9,250.8 102.0,250.5 102.9,250.2 108.1,249.5 113.4,249.4 118.5,250.5 113.4,251.4ZM233.3,257.0 228.1,257.8 222.9,258.0 217.7,257.8 212.6,256.8 212.4,256.7 208.1,255.5 208.0,254.2 209.1,253.0 212.4,252.2 214.5,251.8 217.7,251.1 222.9,251.0 228.1,251.4 230.2,251.8 233.3,252.5 236.0,253.0 238.2,254.2 238.4,255.5 234.5,256.8 233.3,257.0ZM202.0,257.0 196.8,257.7 191.6,257.7 186.4,257.6 181.2,257.8 175.9,257.7 170.7,257.4 165.9,256.8 167.2,255.5 170.7,254.8 175.9,254.3 177.9,254.2 181.2,254.2 186.4,254.1 191.6,253.5 196.8,253.4 202.0,254.1 203.3,254.2 206.7,255.5 202.9,256.8 202.0,257.0ZM316.7,258.0 316.1,258.0 311.5,257.5 309.4,256.8 311.5,256.0 316.3,255.5 316.7,255.5 317.8,255.5 322.0,255.7 326.1,256.8 322.0,257.8 317.9,258.0 316.7,258.0ZM342.8,256.1 337.6,256.7 332.4,255.9 330.8,255.5 332.4,255.1 337.6,254.3 342.8,255.0 344.5,255.5 342.8,256.1ZM108.1,256.9 102.9,257.8 97.7,257.1 96.6,256.8 97.7,256.4 102.9,255.7 108.1,256.6 108.5,256.8 108.1,256.9ZM165.5,260.8 164.0,260.5 161.4,259.2 162.3,258.0 165.5,256.8 168.8,258.0 168.6,259.2 166.6,260.5 165.5,260.8ZM134.2,262.6 129.1,261.8 129.0,261.7 123.8,260.5 128.1,259.2 129.0,259.1 134.2,258.4 138.9,259.2 139.4,259.4 143.7,260.5 139.4,261.6 139.0,261.8 134.2,262.6ZM217.7,268.3 212.4,268.7 207.2,269.0 202.0,268.6 199.2,268.0 196.8,267.5 193.4,266.8 191.6,265.7 191.3,265.5 191.0,264.2 190.8,263.0 191.6,262.4 192.2,261.8 196.8,260.5 196.9,260.5 201.5,259.2 202.0,259.2 207.2,258.3 212.4,258.3 217.3,259.2 217.7,259.3 222.7,260.5 222.9,260.6 227.2,261.8 228.1,262.3 231.9,263.0 233.3,263.1 238.5,263.4 243.7,263.5 248.3,264.2 248.9,264.7 250.4,265.5 248.9,265.8 243.7,266.5 239.2,266.8 238.5,266.8 233.3,266.9 228.1,267.2 222.9,267.6 219.1,268.0 217.7,268.3ZM108.1,274.4 104.6,274.2 102.9,274.2 98.2,273.0 102.9,271.8 103.1,271.8 107.8,270.5 102.9,269.9 99.4,269.2 97.7,268.6 95.4,268.0 92.5,267.2 91.6,266.8 92.5,266.0 93.4,265.5 97.7,264.7 102.9,264.4 104.0,264.2 103.9,263.0 108.1,261.8 108.6,261.8 113.4,260.9 118.2,261.8 118.6,261.8 122.4,263.0 118.6,264.2 118.5,264.2 118.6,264.4 122.0,265.5 123.8,265.7 129.0,266.3 134.2,265.8 139.3,266.8 139.4,266.8 143.5,268.0 143.2,269.2 143.5,270.5 141.7,271.8 139.4,272.0 134.2,272.2 129.0,272.5 123.8,272.3 118.6,272.0 114.5,271.8 113.4,271.7 112.3,271.8 113.4,272.0 114.6,273.0 113.4,273.3 109.0,274.2 108.1,274.4ZM155.1,265.6 153.7,265.5 149.9,264.9 148.1,264.2 149.9,263.5 152.7,263.0 155.1,262.8 157.5,263.0 160.3,263.5 162.0,264.2 160.3,265.0 156.8,265.5 155.1,265.6ZM269.8,267.6 265.2,266.8 264.6,266.6 260.8,265.5 264.6,264.5 265.2,264.2 269.8,263.4 274.6,264.2 275.0,264.4 278.4,265.5 275.0,266.5 274.5,266.8 269.8,267.6ZM353.2,269.5 348.0,270.2 342.8,269.7 340.5,269.2 337.6,268.5 334.1,268.0 332.4,267.9 327.2,266.8 327.2,266.7 323.5,265.5 322.8,264.2 327.2,263.6 332.4,263.3 336.3,264.2 337.6,264.8 340.4,265.5 342.3,266.8 342.8,267.1 344.8,268.0 348.0,268.3 353.2,269.0 353.9,269.2 353.2,269.5ZM175.9,266.5 170.7,266.2 169.0,265.5 170.7,264.8 175.9,264.4 178.6,265.5 175.9,266.5ZM379.3,271.8 374.1,272.7 369.3,271.8 368.9,271.6 365.5,270.5 368.9,269.3 368.9,269.2 374.1,268.1 379.3,268.9 380.3,269.2 383.1,270.5 379.5,271.8 379.3,271.8ZM160.3,273.1 155.1,273.9 149.9,273.4 147.7,273.0 146.0,271.8 148.4,270.5 149.9,270.5 155.1,270.1 159.0,270.5 160.3,270.8 162.2,271.8 160.6,273.0 160.3,273.1ZM212.4,275.6 207.2,275.8 202.0,275.6 201.2,275.5 196.8,274.2 196.8,274.2 196.1,273.0 196.4,271.8 196.8,271.6 201.7,270.5 202.0,270.3 207.2,269.4 212.4,270.0 213.1,270.5 217.7,271.7 217.9,271.8 219.2,273.0 217.7,274.2 217.7,274.3 213.0,275.5 212.4,275.6ZM248.9,275.9 246.9,275.5 245.0,274.2 247.0,273.0 248.9,272.6 252.4,273.0 254.2,273.6 255.3,274.2 254.2,275.1 253.0,275.5 248.9,275.9ZM311.5,274.0 306.3,274.0 302.9,273.0 306.3,272.0 311.5,271.9 315.3,273.0 311.5,274.0Z" fill="#c8c8ff" fill-rule="evenodd"/>
<path d="M160.3,57.1 155.1,57.2 153.2,56.8 149.9,56.0 147.9,55.5 144.6,54.4 144.2,54.2 142.6,53.0 141.4,51.8 139.4,50.6 139.3,50.5 139.4,50.3 141.2,49.2 144.6,48.9 146.8,49.2 149.9,49.9 152.0,50.5 155.1,51.3 156.5,51.8 158.2,53.0 160.3,53.9 161.1,54.2 161.9,55.5 161.2,56.8 160.3,57.1ZM186.4,54.5 185.2,54.2 182.4,53.0 181.2,51.9 180.7,51.8 181.2,51.6 182.5,50.5 185.3,49.2 186.4,49.0 187.5,49.2 190.3,50.5 191.6,51.5 192.3,51.8 191.6,52.0 190.4,53.0 187.7,54.2 186.4,54.5ZM212.4,61.8 207.2,63.0 202.3,61.8 202.0,61.6 200.0,60.5 202.0,59.6 202.8,59.2 205.5,58.0 202.4,56.8 202.0,56.6 200.4,55.5 202.0,54.5 202.5,54.2 206.7,53.0 207.2,52.9 207.8,53.0 212.3,54.2 212.4,54.3 214.3,55.5 212.5,56.8 212.4,56.8 209.2,58.0 212.2,59.2 212.4,59.3 215.2,60.5 212.7,61.8 212.4,61.8ZM144.6,65.0 141.6,64.2 139.4,63.8 136.0,63.0 135.8,61.8 136.8,60.5 134.2,59.9 131.9,59.2 129.0,58.6 126.9,58.0 125.2,56.8 123.8,55.5 123.8,55.5 123.8,55.5 125.7,54.2 129.0,53.7 134.2,54.0 135.4,54.2 139.4,55.3 140.5,55.5 141.9,56.8 142.8,58.0 144.6,58.8 146.6,59.2 149.9,59.9 152.4,60.5 153.8,61.8 153.0,63.0 149.9,63.9 148.1,64.2 144.6,65.0ZM353.2,57.1 351.8,56.8 348.0,55.6 347.6,55.5 348.0,55.1 349.8,54.2 353.2,53.8 354.8,54.2 358.4,55.5 355.1,56.8 353.2,57.1ZM113.4,58.4 111.0,58.0 108.1,57.3 106.5,56.8 108.1,56.2 111.1,55.5 113.4,55.1 115.9,55.5 118.6,56.2 121.3,56.8 118.6,57.3 115.8,58.0 113.4,58.4ZM186.4,59.8 183.8,59.2 181.2,58.4 180.1,58.0 181.2,57.7 183.9,56.8 186.4,56.2 189.0,56.8 191.6,57.7 192.8,58.0 191.6,58.3 189.0,59.2 186.4,59.8ZM175.9,62.1 174.2,61.8 170.7,60.9 169.2,60.5 170.7,60.1 173.7,59.2 175.9,58.8 178.4,59.2 181.2,60.0 182.9,60.5 181.2,61.0 177.7,61.8 175.9,62.1ZM269.8,64.9 266.7,64.2 264.6,63.7 262.3,63.0 264.6,62.1 266.1,61.8 269.8,61.1 272.9,61.8 275.0,62.4 277.0,63.0 275.0,63.6 272.7,64.2 269.8,64.9ZM196.8,67.7 193.0,66.8 191.6,66.0 189.8,65.5 191.6,65.0 193.5,64.2 196.8,63.5 200.7,64.2 202.0,64.6 205.5,65.5 202.0,66.5 201.1,66.8 196.8,67.7ZM217.7,69.7 215.5,69.2 212.4,68.4 210.7,68.0 212.4,67.4 214.4,66.8 217.7,65.8 220.4,66.8 222.9,67.6 224.0,68.0 222.9,68.3 219.7,69.2 217.7,69.7ZM186.4,72.3 183.3,71.8 181.2,71.3 177.5,70.5 181.2,69.6 182.5,69.2 186.4,68.3 190.2,69.2 191.6,69.7 195.0,70.5 191.6,71.3 189.9,71.8 186.4,72.3ZM134.2,76.0 129.0,76.3 124.2,75.5 124.2,74.2 126.0,73.0 128.2,71.8 129.0,71.5 133.6,70.5 134.2,70.3 139.4,69.7 144.6,69.7 147.7,70.5 148.2,71.8 147.0,73.0 144.6,74.0 143.4,74.2 139.4,75.4 138.8,75.5 134.2,76.0ZM202.0,184.6 196.8,184.7 191.6,184.7 186.4,184.3 185.5,184.2 181.2,183.8 178.7,183.0 176.6,181.8 177.2,180.5 181.2,179.5 182.3,179.2 186.4,178.7 187.9,178.0 187.6,176.8 187.1,175.5 186.9,174.2 186.6,173.0 186.7,171.8 186.9,170.5 187.0,169.2 187.3,168.0 186.4,167.5 181.2,167.1 178.0,166.8 175.9,166.3 173.9,165.5 173.9,164.2 175.9,163.7 180.9,163.0 181.2,163.0 185.7,161.8 184.0,160.5 183.6,159.2 183.7,158.0 184.3,156.8 186.4,155.6 186.5,155.5 188.2,154.2 190.0,153.0 188.8,151.8 188.0,150.5 187.0,149.2 186.4,148.3 185.9,148.0 181.2,147.1 179.0,146.8 175.9,146.0 174.1,145.5 174.6,144.2 175.9,143.9 181.0,143.0 181.2,143.0 182.9,141.8 183.0,140.5 183.1,139.2 182.9,138.0 183.0,136.8 183.1,135.5 182.9,134.2 182.8,133.0 181.2,131.8 180.6,131.8 176.3,130.5 177.0,129.2 181.2,128.3 182.0,128.0 184.8,126.8 185.8,125.5 184.0,124.2 181.2,123.4 180.2,123.0 177.7,121.8 176.4,120.5 175.9,120.0 171.7,119.2 170.7,119.1 165.5,118.7 162.7,118.0 160.3,116.8 160.3,116.8 159.8,115.5 160.3,114.9 160.9,114.2 163.2,113.0 165.5,112.4 170.0,111.8 170.7,111.5 171.3,110.5 171.3,109.2 171.7,108.0 172.2,106.8 173.2,105.5 175.2,104.2 175.9,104.0 177.0,103.0 178.3,101.8 179.1,100.5 178.4,99.2 177.6,98.0 177.2,96.8 177.0,95.5 176.7,94.2 176.7,93.0 177.2,91.8 177.4,90.5 177.9,89.2 175.9,88.0 170.7,89.0 165.6,89.2 165.5,89.3 165.5,89.2 160.3,88.7 157.1,89.2 155.1,89.6 151.9,90.5 150.9,91.8 149.9,92.5 148.9,93.0 144.6,94.1 140.6,93.0 139.4,92.3 138.2,91.8 139.4,91.2 140.7,90.5 142.1,89.2 142.2,88.0 142.8,86.8 144.6,86.0 148.2,85.5 149.9,85.3 155.1,84.8 156.0,84.2 158.0,83.0 155.1,82.0 154.2,81.8 153.5,80.5 154.1,79.2 155.1,79.0 158.7,78.0 160.3,77.7 165.5,77.7 168.5,76.8 169.4,75.5 170.7,75.1 175.9,74.8 181.2,75.3 186.4,75.2 191.6,74.5 195.7,75.5 196.8,75.9 199.7,76.8 200.5,78.0 202.0,78.4 204.5,79.2 207.2,80.0 209.1,80.5 212.4,81.7 212.4,81.8 214.6,83.0 217.7,83.8 219.8,84.2 220.3,85.5 217.7,86.2 215.3,85.5 212.4,84.9 210.1,84.2 207.2,83.4 204.8,83.0 203.7,81.8 202.0,81.3 198.2,80.5 196.8,79.9 191.9,80.5 191.6,80.6 186.4,81.2 181.2,80.9 179.0,80.5 175.9,79.9 173.5,80.5 172.4,81.8 173.1,83.0 175.9,83.7 177.9,84.2 179.7,85.5 181.2,86.6 182.9,85.5 186.4,84.5 191.6,84.5 194.4,85.5 196.0,86.8 196.6,88.0 196.8,88.2 198.3,89.2 199.4,90.5 199.6,91.8 199.6,93.0 199.6,94.2 199.6,95.5 199.0,96.8 198.7,98.0 197.1,99.2 196.8,99.9 196.6,100.5 196.8,100.6 202.0,100.9 207.2,100.7 207.9,100.5 209.1,99.2 209.1,98.0 209.2,96.8 209.5,95.5 210.2,94.2 210.7,93.0 212.4,91.8 212.5,91.8 213.8,90.5 216.6,89.2 217.7,88.9 222.9,88.3 228.1,88.3 233.3,88.7 235.7,89.2 237.5,90.5 235.5,91.8 233.3,92.2 228.1,92.5 224.2,93.0 225.2,94.2 225.6,95.5 225.6,96.8 226.0,98.0 226.1,99.2 226.2,100.5 227.7,101.8 228.1,101.9 230.3,101.8 233.1,100.5 233.3,100.1 233.5,99.2 234.6,98.0 235.4,96.8 237.2,95.5 238.5,95.0 240.6,95.5 243.7,96.5 244.2,96.8 245.6,98.0 246.3,99.2 246.4,100.5 246.5,101.8 246.5,103.0 246.1,104.2 246.0,105.5 246.5,106.8 247.8,108.0 248.3,109.2 248.9,110.5 248.9,110.6 251.2,110.5 254.2,110.4 259.4,109.9 264.6,110.0 269.8,110.3 271.0,110.5 275.0,111.3 276.9,111.8 280.2,113.0 283.6,111.8 285.5,111.1 286.8,110.5 290.7,109.3 294.6,110.5 295.9,111.0 298.5,111.8 299.4,113.0 297.5,114.2 295.9,115.0 295.2,115.5 295.9,115.7 300.8,115.5 301.1,115.5 306.3,115.5 311.5,115.2 316.7,115.4 321.5,115.5 322.0,115.5 327.2,115.7 332.4,115.9 337.6,116.2 342.8,116.6 344.5,116.8 348.0,117.7 349.1,118.0 348.0,118.3 345.1,119.2 342.8,119.5 337.6,119.8 332.4,120.1 330.8,120.5 328.9,121.8 327.2,122.5 324.8,123.0 322.0,123.8 319.3,123.0 316.7,122.4 315.2,121.8 311.5,120.6 306.3,120.6 304.3,120.5 301.1,120.3 295.9,120.3 291.2,120.5 290.7,120.6 285.5,121.5 280.2,121.5 275.0,121.0 269.8,121.5 267.2,121.8 264.6,122.0 259.4,122.0 256.8,121.8 254.2,121.5 248.9,120.5 248.8,120.5 243.7,120.1 242.7,120.5 238.5,121.6 233.3,121.7 232.0,121.8 228.1,121.9 222.9,122.7 220.2,123.0 222.9,123.4 226.3,124.2 228.1,124.6 232.6,125.5 233.3,125.7 237.0,126.8 238.5,127.2 240.5,128.0 241.2,129.2 238.5,130.1 233.3,130.2 228.1,129.9 222.9,129.4 221.5,129.2 217.7,128.8 213.8,128.0 212.4,127.7 209.6,126.8 208.4,125.5 207.3,124.2 207.2,124.2 202.4,123.0 202.0,123.0 201.9,123.0 200.8,124.2 201.5,125.5 202.0,126.2 203.4,126.8 205.1,128.0 205.9,129.2 206.1,130.5 206.1,131.8 205.9,133.0 206.1,134.2 205.9,135.5 205.9,136.8 205.7,138.0 205.4,139.2 205.2,140.5 205.1,141.8 204.8,143.0 205.2,144.2 205.6,145.5 205.3,146.8 202.0,147.6 201.7,148.0 201.1,149.2 200.1,150.5 199.2,151.8 198.6,153.0 201.6,154.2 202.0,154.4 204.0,155.5 204.9,156.8 205.4,158.0 205.5,159.2 205.2,160.5 204.8,161.8 204.1,163.0 204.6,164.2 205.6,165.5 206.2,166.8 206.8,168.0 207.2,169.2 207.4,169.2 208.0,170.5 208.2,171.8 207.4,173.0 207.2,174.2 207.2,174.3 206.9,175.5 206.3,176.8 206.3,178.0 207.2,178.7 211.5,179.2 212.4,179.4 215.9,180.5 217.2,181.8 215.1,183.0 212.4,183.7 207.2,184.2 207.0,184.2 202.0,184.6ZM222.9,86.8 222.7,86.8 222.9,86.7 223.0,86.8 222.9,86.8ZM113.4,98.4 108.1,98.1 107.7,98.0 104.0,96.8 105.6,95.5 108.1,95.2 113.4,95.0 115.5,95.5 117.7,96.8 115.1,98.0 113.4,98.4ZM280.2,102.6 277.6,101.8 275.0,100.9 274.2,100.5 275.0,100.2 277.8,99.2 280.2,98.7 282.8,99.2 285.5,100.3 286.6,100.5 285.5,100.8 282.7,101.8 280.2,102.6ZM113.4,104.9 109.7,104.2 108.1,103.6 106.7,103.0 108.1,102.3 109.7,101.8 113.4,101.2 117.6,101.8 118.6,102.1 120.6,103.0 118.6,103.8 117.4,104.2 113.4,104.9ZM134.2,108.7 131.5,108.0 129.4,106.8 129.0,106.5 127.1,105.5 129.0,104.6 129.6,104.2 131.9,103.0 134.2,102.5 136.9,103.0 139.2,104.2 139.4,104.4 142.0,105.5 140.0,106.8 139.4,106.9 138.1,108.0 134.2,108.7ZM280.2,108.6 277.9,108.0 275.0,107.1 274.0,106.8 275.0,106.3 277.5,105.5 280.2,104.5 284.4,105.5 285.5,105.8 287.6,106.8 285.5,107.2 283.0,108.0 280.2,108.6ZM155.1,110.3 149.9,109.4 148.4,109.2 146.6,108.0 146.9,106.8 149.9,106.1 155.1,105.6 160.0,106.8 160.3,106.8 162.9,108.0 160.3,109.2 160.2,109.2 155.1,110.3ZM348.0,112.3 344.2,111.8 342.8,111.5 339.7,110.5 342.8,109.2 342.8,109.2 348.0,108.6 352.6,109.2 353.2,109.4 356.6,110.5 353.2,111.6 352.0,111.8 348.0,112.3ZM129.0,122.1 123.8,122.6 118.6,122.4 113.4,122.1 111.3,121.8 108.1,121.1 105.1,120.5 102.9,120.0 100.3,119.2 98.0,118.0 97.7,117.8 96.8,116.8 97.7,115.9 98.5,115.5 102.9,114.7 108.1,114.8 113.4,115.1 117.0,115.5 118.6,115.8 120.7,115.5 120.0,114.2 118.6,113.4 117.8,113.0 118.6,112.5 120.0,111.8 122.4,110.5 123.8,110.1 125.6,110.5 129.0,111.4 130.2,111.8 131.0,113.0 130.0,114.2 129.0,114.5 125.0,115.5 124.4,116.8 128.9,118.0 129.0,118.0 131.5,119.2 133.2,120.5 130.5,121.8 129.0,122.1ZM144.6,125.8 143.0,125.5 139.4,124.5 138.5,124.2 139.4,123.8 141.6,123.0 139.4,122.5 136.7,121.8 135.1,120.5 136.6,119.2 139.4,118.5 142.2,118.0 144.6,117.7 149.9,117.9 150.3,118.0 155.1,118.9 156.5,119.2 156.9,120.5 156.0,121.8 155.1,122.0 150.7,123.0 151.1,124.2 149.9,124.6 146.2,125.5 144.6,125.8ZM368.9,122.1 363.7,122.5 359.6,121.8 358.5,121.5 356.3,120.5 358.5,119.5 359.6,119.2 363.7,118.4 368.9,118.6 371.5,119.2 373.0,120.5 370.6,121.8 368.9,122.1ZM353.2,129.8 350.1,129.2 348.0,128.8 344.7,128.0 348.0,127.2 350.2,126.8 353.2,126.4 354.9,126.8 358.5,127.6 360.0,128.0 358.5,128.6 356.1,129.2 353.2,129.8ZM134.2,132.8 130.4,131.8 129.0,131.2 126.6,130.5 129.0,130.0 131.3,129.2 134.2,128.7 137.0,129.2 139.4,130.1 141.0,130.5 139.4,131.0 137.5,131.8 134.2,132.8ZM269.8,134.7 267.9,134.2 264.6,133.2 264.0,133.0 264.6,132.7 267.3,131.8 269.8,131.1 272.6,131.8 275.0,132.6 276.0,133.0 275.0,133.2 271.9,134.2 269.8,134.7ZM238.5,142.8 233.3,142.2 231.8,141.8 230.6,140.5 230.5,139.2 230.6,138.0 230.8,136.8 231.3,135.5 233.3,134.6 234.8,134.2 238.5,133.7 240.1,134.2 241.3,135.5 242.0,136.8 242.6,138.0 242.1,139.2 242.0,140.5 242.3,141.8 238.5,142.8ZM374.1,137.1 372.4,136.8 368.9,135.9 367.4,135.5 368.9,135.1 372.0,134.2 374.1,133.9 376.0,134.2 379.3,135.2 380.3,135.5 379.3,135.8 375.6,136.8 374.1,137.1ZM269.8,141.7 265.2,140.5 264.6,140.4 261.9,139.2 259.4,138.5 257.4,138.0 257.0,136.8 259.4,136.3 261.3,136.8 264.6,137.5 266.9,138.0 269.8,138.8 272.1,139.2 272.9,140.5 269.8,141.7ZM123.8,144.7 121.7,144.2 118.6,143.1 118.2,143.0 118.6,142.8 120.9,141.8 123.8,141.3 128.7,141.8 129.0,141.8 133.0,143.0 129.0,144.1 128.2,144.2 123.8,144.7ZM222.9,152.2 217.7,152.9 212.4,152.1 211.4,151.8 209.7,150.5 208.7,149.2 208.2,148.0 207.7,146.8 208.3,145.5 208.8,144.2 210.0,143.0 212.4,141.8 212.4,141.7 217.7,140.9 222.9,141.4 225.2,141.8 226.6,143.0 227.4,144.2 228.1,145.3 228.7,145.5 229.4,146.8 228.1,148.0 228.1,148.0 227.2,149.2 226.0,150.5 224.6,151.8 222.9,152.2ZM275.0,142.1 270.2,141.8 275.0,141.2 276.4,141.8 275.0,142.1ZM155.1,149.7 153.0,149.2 149.9,148.6 148.1,148.0 149.9,147.4 152.8,146.8 155.1,146.4 157.2,146.8 160.3,147.6 161.5,148.0 160.3,148.4 157.1,149.2 155.1,149.7ZM123.8,154.7 121.5,154.2 118.6,153.4 117.3,153.0 118.6,152.6 121.9,151.8 123.8,151.4 125.8,151.8 129.0,152.6 130.5,153.0 129.0,153.4 126.0,154.2 123.8,154.7ZM113.4,157.0 112.0,156.8 108.1,155.7 107.4,155.5 108.1,155.3 111.7,154.2 113.4,153.9 115.3,154.2 118.6,155.3 119.1,155.5 118.6,155.6 114.7,156.8 113.4,157.0ZM217.7,163.2 217.0,163.0 213.3,161.8 212.4,161.4 210.8,160.5 212.4,159.4 212.8,159.2 217.4,158.0 217.7,157.9 218.3,158.0 222.9,158.5 225.0,159.2 225.5,160.5 225.4,161.8 222.9,162.6 219.0,163.0 217.7,163.2ZM280.2,162.1 278.7,161.8 275.1,160.5 279.2,159.2 280.2,158.8 281.7,159.2 285.5,160.3 286.0,160.5 285.5,160.6 281.7,161.8 280.2,162.1ZM123.8,167.1 118.6,167.7 113.4,167.6 108.1,166.8 108.0,166.8 106.3,165.5 107.1,164.2 108.1,163.8 113.0,163.0 113.4,162.9 114.7,163.0 118.6,163.1 123.8,163.7 125.2,164.2 125.7,165.5 125.1,166.8 123.8,167.1ZM233.3,169.7 228.1,169.9 222.9,169.9 219.4,169.2 217.7,168.8 214.6,168.0 217.7,167.0 218.6,166.8 222.9,165.9 228.1,165.8 233.3,166.1 235.7,166.8 238.2,168.0 235.5,169.2 233.3,169.7ZM228.1,177.6 224.7,176.8 222.9,175.9 221.7,175.5 222.9,175.2 225.4,174.2 228.1,173.7 230.9,174.2 233.3,175.3 234.4,175.5 233.3,175.8 231.9,176.8 228.1,177.6ZM123.8,179.7 121.1,179.2 118.6,178.0 121.0,176.8 123.8,176.2 128.3,176.8 129.0,176.9 133.0,178.0 129.0,179.1 127.9,179.2 123.8,179.7ZM97.7,184.6 95.5,184.2 92.5,183.6 90.5,183.0 92.5,182.3 94.6,181.8 97.7,181.1 101.8,181.8 102.9,182.0 106.0,183.0 102.9,183.7 100.1,184.2 97.7,184.6ZM144.6,187.5 141.5,186.8 139.4,186.2 137.2,185.5 139.4,185.0 142.4,184.2 144.6,183.8 147.3,184.2 149.9,184.9 153.3,185.5 149.9,186.3 148.3,186.8 144.6,187.5ZM358.5,186.9 353.2,187.3 348.0,186.9 347.6,186.8 346.0,185.5 348.0,184.3 348.2,184.2 353.2,183.7 358.5,184.0 359.6,184.2 360.4,185.5 359.2,186.8 358.5,186.9ZM92.5,189.6 90.7,189.2 87.3,188.3 86.3,188.0 87.3,187.7 90.5,186.8 92.5,186.3 94.4,186.8 97.7,187.7 98.9,188.0 97.7,188.3 94.3,189.2 92.5,189.6ZM113.4,194.7 111.3,194.2 108.1,193.0 108.1,193.0 106.2,191.8 107.9,190.5 108.1,190.4 110.9,189.2 113.4,188.8 118.6,189.2 119.1,189.2 122.4,190.5 122.6,191.8 122.0,193.0 118.6,194.2 118.3,194.2 113.4,194.7ZM233.3,191.8 228.1,192.3 222.9,192.3 217.7,192.2 215.1,191.8 212.4,190.7 211.8,190.5 212.4,190.4 215.2,189.2 217.7,188.7 222.9,188.6 228.1,188.6 233.1,189.2 233.3,189.3 236.3,190.5 233.5,191.8 233.3,191.8ZM155.1,194.5 153.7,194.2 149.9,193.2 149.1,193.0 149.9,192.8 153.7,191.8 155.1,191.3 156.5,191.8 160.3,192.8 161.0,193.0 160.3,193.2 156.5,194.2 155.1,194.5ZM186.4,206.0 181.2,205.9 178.0,205.5 175.9,205.2 173.0,204.2 171.8,203.0 173.0,201.8 175.9,200.8 177.8,200.5 181.2,200.1 186.4,199.4 186.7,199.2 191.5,198.0 191.6,197.2 191.6,196.8 191.6,196.7 189.6,195.5 189.9,194.2 191.6,193.5 192.5,193.0 196.8,191.8 196.9,191.8 202.0,191.4 203.6,191.8 207.2,192.5 208.8,193.0 209.9,194.2 210.0,195.5 209.5,196.8 207.2,197.6 205.9,198.0 206.2,199.2 207.2,199.9 208.2,200.5 207.2,201.3 206.5,201.8 202.0,202.8 200.3,203.0 196.8,203.5 193.6,204.2 191.6,204.9 189.0,205.5 186.4,206.0ZM322.0,197.2 319.6,196.8 316.7,196.1 314.9,195.5 316.7,194.9 319.5,194.2 322.0,193.8 324.6,194.2 327.2,194.9 329.2,195.5 327.2,196.1 324.4,196.8 322.0,197.2ZM92.5,202.2 90.3,201.8 87.3,200.8 86.4,200.5 87.3,200.2 89.9,199.2 92.5,198.8 95.1,199.2 97.7,200.1 98.9,200.5 97.7,200.9 94.8,201.8 92.5,202.2ZM280.2,202.3 277.0,201.8 275.0,201.0 273.4,200.5 275.0,200.0 277.5,199.2 280.2,198.8 282.4,199.2 285.5,200.2 286.4,200.5 285.5,200.8 282.9,201.8 280.2,202.3ZM228.1,207.4 225.0,206.8 222.9,205.7 222.2,205.5 221.1,204.2 222.6,203.0 222.9,202.9 225.5,201.8 228.1,201.2 230.7,201.8 233.3,202.9 233.7,203.0 235.7,204.2 234.3,205.5 233.3,205.7 231.2,206.8 228.1,207.4ZM155.1,211.3 151.6,210.5 149.9,210.0 146.9,209.2 146.2,208.0 145.9,206.8 146.8,205.5 149.9,204.5 150.6,204.2 155.1,203.3 157.8,204.2 158.6,205.5 159.8,206.8 159.5,208.0 158.8,209.2 157.4,210.5 155.1,211.3ZM191.6,210.1 188.5,209.2 186.4,208.5 185.1,208.0 186.4,207.6 189.2,206.8 191.6,206.1 195.4,206.8 196.8,207.0 200.8,208.0 196.8,209.0 195.6,209.2 191.6,210.1ZM113.4,212.3 108.9,211.8 108.1,211.6 105.8,210.5 108.1,209.4 109.0,209.2 113.4,208.7 115.9,209.2 118.6,210.2 119.4,210.5 118.6,210.8 116.0,211.8 113.4,212.3ZM217.7,217.2 212.4,217.3 207.2,217.3 204.1,216.8 202.0,216.3 197.8,215.5 196.8,215.2 193.5,214.2 191.6,213.6 189.9,214.2 186.4,214.9 183.6,214.2 181.2,213.3 180.0,213.0 181.2,212.6 183.0,211.8 186.4,210.9 190.7,211.8 191.6,212.2 193.7,211.8 196.8,210.9 202.0,210.8 207.2,210.8 212.1,211.8 212.4,211.8 217.7,212.8 218.3,213.0 221.2,214.2 222.8,215.5 220.5,216.8 217.7,217.2ZM269.8,217.7 266.1,216.8 264.6,216.0 263.4,215.5 264.6,215.2 268.1,214.2 269.8,213.9 271.6,214.2 275.0,215.2 276.4,215.5 275.0,216.1 273.6,216.8 269.8,217.7ZM123.8,220.1 120.6,219.2 118.6,218.7 116.3,218.0 118.6,217.4 120.5,216.8 123.8,216.1 126.6,216.8 129.0,217.6 130.4,218.0 129.0,218.5 126.8,219.2 123.8,220.1ZM92.5,224.5 91.1,224.2 87.3,223.4 86.0,223.0 87.3,222.6 90.5,221.8 92.5,221.2 94.5,221.8 97.7,222.7 99.0,223.0 97.7,223.4 93.9,224.2 92.5,224.5ZM186.4,227.5 181.2,227.6 176.8,226.8 175.9,226.4 172.5,225.5 173.0,224.2 175.9,223.1 176.2,223.0 180.9,221.8 181.2,221.7 186.4,221.4 188.4,221.8 191.6,222.2 195.1,223.0 196.8,223.7 199.0,224.2 196.8,224.8 195.2,225.5 191.6,226.7 191.6,226.8 186.4,227.5ZM212.4,235.2 207.2,235.1 202.0,234.6 201.5,234.2 198.4,233.0 200.8,231.8 202.0,231.3 203.9,230.5 202.0,229.8 200.4,229.2 202.0,228.7 204.1,228.0 207.2,227.3 212.4,227.1 217.7,227.5 219.7,228.0 222.9,229.2 223.0,229.2 222.9,229.3 220.2,230.5 217.7,231.5 217.0,231.8 217.7,231.9 220.5,233.0 217.7,234.1 217.2,234.2 212.4,235.2ZM118.6,234.7 113.4,234.7 109.7,234.2 108.1,234.0 103.7,233.0 102.9,232.8 100.5,231.8 98.4,230.5 99.0,229.2 102.9,228.7 108.1,228.9 110.1,229.2 113.4,229.9 115.9,230.5 118.6,231.2 120.1,231.8 121.3,233.0 120.5,234.2 118.6,234.7ZM186.4,233.5 182.4,233.0 181.2,232.6 179.3,231.8 181.2,230.8 182.4,230.5 186.4,230.0 188.5,230.5 191.6,231.6 192.3,231.8 191.6,231.9 188.9,233.0 186.4,233.5ZM196.8,238.5 194.5,238.0 191.6,237.2 190.0,236.8 191.6,236.3 194.9,235.5 196.8,235.1 200.3,235.5 202.0,235.8 205.3,236.8 202.0,237.5 200.2,238.0 196.8,238.5ZM165.5,245.5 161.6,244.2 160.3,243.5 159.4,243.0 159.1,241.8 159.5,240.5 160.3,240.2 163.1,239.2 165.5,238.6 168.3,239.2 170.7,240.1 171.9,240.5 172.5,241.8 172.1,243.0 170.7,244.0 170.2,244.2 165.5,245.5ZM196.8,243.4 193.7,243.0 191.6,242.6 189.4,241.8 191.6,240.9 193.9,240.5 196.8,240.0 198.9,240.5 202.0,241.5 202.9,241.8 202.0,241.9 198.7,243.0 196.8,243.4ZM217.7,249.6 212.4,249.7 207.2,249.7 204.8,249.2 202.0,248.6 200.1,248.0 202.0,247.4 204.9,246.8 207.2,246.4 212.4,246.2 217.7,246.3 220.7,246.8 222.9,247.2 225.3,248.0 222.9,248.8 220.6,249.2 217.7,249.6ZM191.6,252.2 186.4,252.3 181.2,251.8 181.0,251.8 179.1,250.5 181.2,249.4 181.8,249.2 186.4,248.8 191.6,248.9 194.6,249.2 196.8,249.7 198.8,250.5 196.8,251.3 194.8,251.8 191.6,252.2ZM222.9,257.2 218.5,256.8 217.7,256.7 212.4,255.7 211.7,255.5 210.3,254.2 212.4,253.1 212.6,253.0 217.7,251.9 220.3,251.8 222.9,251.6 224.0,251.8 228.1,252.1 231.8,253.0 233.1,254.2 231.9,255.5 228.1,256.5 226.0,256.8 222.9,257.2ZM196.8,257.1 191.6,257.0 189.1,256.8 186.4,256.3 182.3,255.5 186.4,254.8 189.8,254.2 191.6,254.0 196.8,253.9 199.4,254.2 202.0,254.8 204.5,255.5 202.0,256.2 198.8,256.8 196.8,257.1ZM134.2,262.0 132.5,261.8 129.0,260.9 127.4,260.5 129.0,260.1 131.8,259.2 134.2,258.9 136.3,259.2 139.4,260.3 140.2,260.5 139.4,260.7 135.8,261.8 134.2,262.0ZM217.7,266.0 212.4,266.3 207.2,266.4 202.3,265.5 202.0,265.5 198.0,264.2 197.6,263.0 198.4,261.8 200.0,260.5 202.0,260.0 207.2,259.3 212.4,259.4 217.7,259.9 220.1,260.5 221.7,261.8 222.9,262.9 223.1,263.0 222.9,263.3 222.5,264.2 220.7,265.5 217.7,266.0ZM113.4,265.0 110.6,264.2 108.1,263.6 106.2,263.0 108.1,262.5 111.4,261.8 113.4,261.4 115.4,261.8 118.6,262.5 120.2,263.0 118.6,263.5 115.9,264.2 113.4,265.0ZM269.8,267.2 267.6,266.8 264.6,265.7 263.8,265.5 264.6,265.3 267.6,264.2 269.8,263.8 272.1,264.2 275.0,265.4 275.4,265.5 275.0,265.6 272.0,266.8 269.8,267.2ZM332.4,267.2 330.4,266.8 327.4,265.5 329.9,264.2 332.4,263.9 333.9,264.2 336.6,265.5 335.3,266.8 332.4,267.2ZM134.2,270.1 130.4,269.2 129.0,268.7 125.5,268.0 129.0,267.5 131.4,266.8 134.2,266.3 136.8,266.8 139.4,267.5 141.2,268.0 139.4,268.7 137.6,269.2 134.2,270.1ZM374.1,272.2 371.9,271.8 368.9,271.0 367.4,270.5 368.9,270.0 371.9,269.2 374.1,268.8 376.6,269.2 379.3,269.8 381.2,270.5 379.3,271.1 376.5,271.8 374.1,272.2ZM207.2,275.0 203.0,274.2 202.0,274.0 199.4,273.0 202.0,272.0 202.7,271.8 207.2,270.9 211.3,271.8 212.4,272.2 215.0,273.0 212.4,273.8 210.9,274.2 207.2,275.0Z" fill="#9090ff" fill-rule="evenodd"/>
<path d="M155.1,56.3 150.3,55.5 149.9,55.4 147.5,54.2 144.6,53.2 144.4,53.0 143.9,51.8 142.8,50.5 144.6,49.7 149.9,50.5 150.0,50.5 153.8,51.8 155.1,52.1 156.2,53.0 157.9,54.2 159.2,55.5 155.1,56.3ZM186.4,54.0 183.7,53.0 182.5,51.8 183.9,50.5 186.4,49.5 188.9,50.5 190.3,51.8 189.1,53.0 186.4,54.0ZM139.4,59.0 134.2,59.2 129.0,58.1 128.8,58.0 127.4,56.8 127.0,55.5 128.6,54.2 129.0,54.2 130.1,54.2 134.2,54.7 137.2,55.5 139.4,56.5 139.8,56.8 140.2,58.0 139.4,59.0ZM207.2,57.6 205.7,56.8 203.6,55.5 205.5,54.2 207.2,53.7 209.1,54.2 212.2,55.5 208.9,56.8 207.2,57.6ZM353.2,56.2 351.1,55.5 353.2,54.7 355.1,55.5 353.2,56.2ZM113.4,57.8 109.1,56.8 113.4,55.7 116.7,56.8 113.4,57.8ZM186.4,59.3 186.1,59.2 183.5,58.0 185.8,56.8 186.4,56.6 187.0,56.8 189.0,58.0 186.6,59.2 186.4,59.3ZM175.9,61.1 173.6,60.5 175.9,59.2 175.9,59.2 176.0,59.2 179.4,60.5 175.9,61.1ZM207.2,62.2 205.4,61.8 203.6,60.5 205.3,59.2 207.2,58.3 209.4,59.2 211.7,60.5 209.3,61.8 207.2,62.2ZM144.6,63.8 139.7,63.0 139.4,62.9 138.1,61.8 139.4,60.8 140.4,60.5 144.6,59.8 148.8,60.5 149.9,60.8 151.3,61.8 149.9,62.9 149.4,63.0 144.6,63.8ZM269.8,64.4 269.2,64.2 264.6,63.0 264.6,63.0 264.6,63.0 269.3,61.8 269.8,61.7 270.2,61.8 274.1,63.0 270.3,64.2 269.8,64.4ZM196.8,67.1 195.5,66.8 194.3,65.5 196.0,64.2 196.8,64.1 197.8,64.2 202.0,65.3 202.7,65.5 202.0,65.7 198.3,66.8 196.8,67.1ZM217.7,69.0 214.5,68.0 217.3,66.8 217.7,66.7 218.0,66.8 220.4,68.0 217.7,69.0ZM129.0,75.7 128.0,75.5 127.5,74.2 128.1,73.0 129.0,72.5 131.3,71.8 134.2,71.1 137.4,70.5 139.4,70.2 144.6,70.4 145.1,70.5 145.6,71.8 145.2,73.0 144.6,73.2 140.4,74.2 139.4,74.5 134.2,75.5 134.2,75.5 129.0,75.7ZM186.4,71.3 181.2,70.5 181.0,70.5 181.2,70.5 186.4,69.4 189.3,70.5 186.4,71.3ZM186.4,80.7 183.5,80.5 181.2,80.2 175.9,79.4 172.3,79.2 172.3,78.0 170.7,77.1 170.4,76.8 170.7,76.5 174.3,75.5 175.9,75.4 177.2,75.5 181.2,76.2 184.8,76.8 186.4,77.2 188.1,76.8 189.2,75.5 191.6,75.1 193.1,75.5 196.8,76.7 196.9,76.8 198.4,78.0 196.8,78.7 191.6,78.5 188.5,79.2 187.5,80.5 186.4,80.7ZM170.7,88.3 165.5,88.2 160.3,88.0 158.9,88.0 157.6,86.8 157.4,85.5 159.0,84.2 160.2,83.0 157.6,81.8 156.3,80.5 157.6,79.2 160.3,78.5 165.5,78.6 169.5,79.2 170.7,79.8 171.1,80.5 170.7,81.3 169.8,81.8 169.4,83.0 170.7,83.3 174.5,84.2 175.9,84.8 176.9,85.5 175.9,86.7 175.8,86.8 172.5,88.0 170.7,88.3ZM207.2,82.7 205.9,81.8 202.0,80.7 201.0,80.5 199.5,79.2 202.0,79.0 202.8,79.2 207.2,80.5 207.4,80.5 209.2,81.8 207.2,82.7ZM217.7,85.6 217.4,85.5 212.4,84.4 211.9,84.2 209.6,83.0 212.4,82.7 212.9,83.0 217.7,84.2 218.0,84.2 218.0,85.5 217.7,85.6ZM196.8,152.4 191.6,152.5 190.6,151.8 189.7,150.5 188.2,149.2 187.7,148.0 186.4,147.2 183.6,146.8 181.2,146.2 178.3,145.5 178.5,144.2 181.2,143.8 183.1,143.0 184.0,141.8 184.0,140.5 184.2,139.2 183.8,138.0 184.0,136.8 184.1,135.5 183.9,134.2 183.9,133.0 182.6,131.8 181.2,130.9 179.7,130.5 180.3,129.2 181.2,129.1 184.3,128.0 186.4,127.0 186.8,126.8 187.4,125.5 187.1,124.2 186.4,124.1 182.7,123.0 181.2,122.6 179.2,121.8 177.7,120.5 176.2,119.2 175.9,119.1 170.7,118.5 165.6,118.0 165.5,118.0 163.1,116.8 162.5,115.5 163.6,114.2 165.5,113.4 166.9,113.0 170.7,112.3 171.6,111.8 172.2,110.5 172.3,109.2 172.9,108.0 173.6,106.8 175.2,105.5 175.9,105.1 176.8,104.2 178.3,103.0 179.8,101.8 181.2,100.5 181.2,100.5 181.2,100.5 180.2,99.2 179.0,98.0 178.6,96.8 178.4,95.5 178.0,94.2 178.0,93.0 178.6,91.8 178.9,90.5 179.5,89.2 181.2,88.2 181.7,88.0 184.0,86.8 186.3,85.5 186.4,85.5 186.7,85.5 191.6,86.1 193.0,86.8 194.8,88.0 195.7,89.2 196.8,90.3 197.1,90.5 197.7,91.8 197.8,93.0 197.8,94.2 197.9,95.5 197.0,96.8 196.8,97.4 196.6,98.0 195.3,99.2 195.0,100.5 196.4,101.8 196.8,101.9 198.5,101.8 202.0,101.5 207.2,101.3 209.5,100.5 210.4,99.2 210.4,98.0 210.4,96.8 210.9,95.5 212.1,94.2 212.4,93.8 213.7,93.0 216.2,91.8 216.5,90.5 217.7,90.1 222.3,89.2 222.9,89.2 228.1,88.9 231.2,89.2 233.3,89.7 235.2,90.5 233.3,91.3 230.2,91.8 228.1,91.9 222.9,92.2 220.8,93.0 222.8,94.2 222.9,94.4 224.0,95.5 224.1,96.8 224.7,98.0 224.8,99.2 224.9,100.5 226.0,101.8 228.1,102.6 231.3,103.0 233.3,103.4 234.0,103.0 234.4,101.8 234.7,100.5 234.8,99.2 236.2,98.0 237.2,96.8 238.5,96.0 240.9,96.8 243.7,97.9 243.9,98.0 244.9,99.2 245.0,100.5 245.1,101.8 245.1,103.0 244.6,104.2 244.3,105.5 244.9,106.8 246.7,108.0 247.3,109.2 248.0,110.5 248.7,111.8 248.9,112.0 250.1,111.8 254.2,111.1 259.4,110.6 264.6,110.7 269.8,111.2 272.5,111.8 275.0,112.3 277.4,113.0 280.2,114.1 284.8,113.0 285.5,112.7 288.4,111.8 290.1,110.5 290.7,110.3 291.3,110.5 293.1,111.8 295.9,112.9 296.0,113.0 295.9,113.1 294.0,114.2 293.1,115.5 295.9,116.3 301.1,116.3 306.3,116.3 311.5,116.1 316.7,116.2 322.0,116.2 327.2,116.4 332.4,116.5 337.6,116.7 338.3,116.8 342.8,117.7 343.9,118.0 342.8,118.3 337.8,119.2 337.6,119.3 332.4,119.5 328.4,120.5 327.2,121.6 326.6,121.8 322.0,122.7 318.1,121.8 316.7,121.4 314.9,120.5 311.5,119.7 306.3,119.6 301.1,119.5 295.9,119.7 290.7,119.9 286.9,120.5 285.5,120.8 280.2,120.7 278.4,120.5 275.0,120.1 272.5,120.5 269.8,120.8 264.6,121.4 259.4,121.3 254.2,120.7 253.0,120.5 248.9,119.7 243.7,119.4 241.1,120.5 238.5,121.2 233.3,121.2 228.1,121.3 224.4,121.8 222.9,122.0 217.7,122.6 212.4,122.8 207.2,122.7 202.0,122.4 199.1,123.0 199.3,124.2 200.1,125.5 201.0,126.8 202.0,128.0 202.0,128.0 203.3,129.2 204.3,130.5 204.3,131.8 204.3,133.0 204.8,134.2 204.6,135.5 204.8,136.8 204.6,138.0 204.3,139.2 204.0,140.5 203.9,141.8 203.3,143.0 203.4,144.2 203.1,145.5 202.0,146.1 201.4,146.8 200.4,148.0 199.9,149.2 198.6,150.5 197.3,151.8 196.8,152.4ZM144.6,93.4 143.0,93.0 142.8,91.8 143.2,90.5 143.7,89.2 143.8,88.0 144.6,86.8 144.6,86.7 149.9,86.1 153.8,86.8 154.4,88.0 153.1,89.2 149.9,90.4 149.3,90.5 146.7,91.8 146.4,93.0 144.6,93.4ZM113.4,97.2 108.1,97.2 106.7,96.8 108.1,96.2 113.4,96.3 114.0,96.8 113.4,97.2ZM280.2,101.1 279.1,100.5 280.2,99.5 281.3,100.5 280.2,101.1ZM113.4,104.5 112.0,104.2 109.6,103.0 112.3,101.8 113.4,101.6 114.6,101.8 118.2,103.0 114.9,104.2 113.4,104.5ZM134.2,107.7 132.7,106.8 131.8,105.5 132.5,104.2 134.1,103.0 134.2,103.0 134.4,103.0 136.1,104.2 136.5,105.5 135.9,106.8 134.2,107.7ZM155.1,109.6 153.1,109.2 151.2,108.0 152.8,106.8 155.1,106.4 156.6,106.8 159.4,108.0 156.8,109.2 155.1,109.6ZM280.2,107.7 278.6,106.8 280.2,106.1 282.2,106.8 280.2,107.7ZM353.2,110.9 348.0,111.6 342.8,110.7 342.3,110.5 342.8,110.3 348.0,109.3 353.2,110.1 354.4,110.5 353.2,110.9ZM123.8,114.9 122.3,114.2 120.9,113.0 122.6,111.8 123.8,111.1 126.2,111.8 129.0,112.9 129.1,113.0 129.0,113.1 126.6,114.2 123.8,114.9ZM123.8,122.0 118.6,121.8 116.9,121.8 113.4,121.2 108.4,120.5 108.1,120.5 102.9,119.3 102.6,119.2 101.5,118.0 101.6,116.8 102.9,116.2 106.1,115.5 108.1,115.4 110.5,115.5 113.4,115.8 118.6,116.6 119.5,116.8 123.8,117.6 125.1,118.0 128.1,119.2 129.0,119.5 130.1,120.5 129.0,121.0 125.7,121.8 123.8,122.0ZM144.6,124.9 142.5,124.2 144.5,123.0 139.5,121.8 139.4,121.7 137.7,120.5 138.9,119.2 139.4,119.1 144.6,118.5 149.9,118.8 152.8,119.2 154.0,120.5 152.2,121.8 149.9,122.3 144.9,123.0 147.4,124.2 144.6,124.9ZM363.7,122.0 362.3,121.8 358.5,120.7 358.0,120.5 358.5,120.3 362.9,119.2 363.7,119.1 365.3,119.2 368.9,120.0 370.1,120.5 368.9,120.9 365.8,121.8 363.7,122.0ZM233.3,129.4 228.1,129.4 226.9,129.2 222.9,128.5 219.3,128.0 217.7,127.5 213.6,126.8 212.4,126.3 211.7,125.5 212.0,124.2 212.4,124.0 217.7,123.8 222.9,124.2 223.2,124.2 228.1,125.3 229.3,125.5 233.3,126.4 234.4,126.8 238.4,128.0 236.6,129.2 233.3,129.4ZM353.2,129.1 348.2,128.0 353.2,127.2 356.5,128.0 353.2,129.1ZM134.2,132.1 133.1,131.8 131.1,130.5 133.4,129.2 134.2,129.1 135.0,129.2 137.0,130.5 135.2,131.8 134.2,132.1ZM269.8,134.1 267.5,133.0 269.8,132.1 272.3,133.0 269.8,134.1ZM238.5,141.7 234.0,140.5 233.3,140.3 232.4,139.2 232.2,138.0 232.4,136.8 233.3,135.5 233.4,135.5 238.5,134.5 239.7,135.5 239.7,136.8 240.2,138.0 239.6,139.2 239.6,140.5 238.5,141.7ZM374.1,136.1 371.4,135.5 374.1,134.5 376.1,135.5 374.1,136.1ZM264.6,139.7 263.6,139.2 259.4,138.0 259.3,138.0 259.2,136.8 259.4,136.7 259.5,136.8 264.6,137.9 265.0,138.0 269.5,139.2 264.6,139.7ZM269.8,140.8 268.8,140.5 269.8,139.4 270.5,140.5 269.8,140.8ZM217.7,152.3 214.1,151.8 212.4,151.3 211.3,150.5 210.1,149.2 209.6,148.0 209.3,146.8 209.8,145.5 210.1,144.2 211.6,143.0 212.4,142.6 216.4,141.8 217.7,141.5 219.5,141.8 222.9,142.3 224.3,143.0 225.6,144.2 226.3,145.5 226.6,146.8 226.0,148.0 225.6,149.2 224.5,150.5 222.9,151.5 221.9,151.8 217.7,152.3ZM129.0,143.2 123.8,144.0 121.5,143.0 123.8,142.1 129.0,142.8 129.8,143.0 129.0,143.2ZM155.1,148.8 150.2,148.0 155.1,147.1 157.2,148.0 155.1,148.8ZM123.8,154.2 121.8,153.0 123.8,152.4 125.7,153.0 123.8,154.2ZM207.2,183.6 202.0,183.8 196.8,184.0 191.6,183.9 186.4,183.3 184.6,183.0 181.2,182.2 179.9,181.8 181.2,180.9 181.8,180.5 186.4,179.5 187.4,179.2 189.4,178.0 188.9,176.8 188.4,175.5 188.1,174.2 188.0,173.0 188.2,171.8 188.3,170.5 188.2,169.2 188.5,168.0 186.4,166.8 185.2,166.8 181.2,166.4 177.6,165.5 177.3,164.2 181.2,163.6 186.4,163.3 187.4,163.0 187.4,161.8 186.4,160.9 185.8,160.5 185.4,159.2 185.9,158.0 186.4,157.5 186.8,156.8 187.8,155.5 189.9,154.2 191.6,153.3 196.8,153.2 199.4,154.2 202.0,155.3 202.3,155.5 203.6,156.8 204.2,158.0 204.4,159.2 204.0,160.5 203.3,161.8 202.0,163.0 202.0,163.0 202.0,163.1 202.5,164.2 203.9,165.5 204.8,166.8 205.5,168.0 205.7,169.2 205.9,170.5 206.1,171.8 205.8,173.0 205.6,174.2 205.6,175.5 204.9,176.8 204.7,178.0 205.9,179.2 207.2,179.6 211.5,180.5 212.4,181.1 213.4,181.8 212.4,182.3 210.8,183.0 207.2,183.6ZM113.4,155.9 112.2,155.5 113.4,154.9 114.4,155.5 113.4,155.9ZM222.9,162.0 217.7,162.3 216.0,161.8 214.3,160.5 215.5,159.2 217.7,158.7 222.9,159.1 223.4,159.2 224.0,160.5 223.6,161.8 222.9,162.0ZM280.2,161.0 279.4,160.5 280.2,160.2 281.2,160.5 280.2,161.0ZM118.6,167.2 113.4,167.0 111.6,166.8 108.3,165.5 111.3,164.2 113.4,163.8 118.6,164.0 120.7,164.2 123.8,165.4 123.9,165.5 123.8,165.7 122.2,166.8 118.6,167.2ZM228.1,169.3 222.9,169.4 222.3,169.2 218.0,168.0 222.3,166.8 222.9,166.6 228.1,166.6 229.7,166.8 233.3,167.3 235.5,168.0 233.3,168.8 229.4,169.2 228.1,169.3ZM228.1,176.6 226.1,175.5 228.1,174.4 229.9,175.5 228.1,176.6ZM129.0,178.1 123.8,179.0 121.8,178.0 123.8,176.9 129.0,177.8 129.6,178.0 129.0,178.1ZM102.9,183.1 97.7,183.9 92.9,183.0 97.7,181.8 97.7,181.7 97.8,181.8 102.9,182.9 103.4,183.0 102.9,183.1ZM353.2,186.9 351.5,186.8 348.0,185.8 347.5,185.5 348.0,185.2 352.2,184.2 353.2,184.1 355.2,184.2 358.5,185.2 358.7,185.5 358.5,185.7 355.2,186.8 353.2,186.9ZM144.6,186.8 144.5,186.8 140.8,185.5 144.6,184.6 148.6,185.5 144.9,186.8 144.6,186.8ZM92.5,188.8 90.3,188.0 92.5,187.0 94.8,188.0 92.5,188.8ZM228.1,191.9 222.9,191.9 217.7,191.8 217.6,191.8 215.4,190.5 217.7,189.3 217.9,189.2 222.9,189.1 228.1,189.2 228.7,189.2 233.3,190.2 234.0,190.5 233.3,190.8 229.3,191.8 228.1,191.9ZM118.6,193.4 113.4,194.1 111.7,193.0 110.4,191.8 111.3,190.5 113.4,189.7 118.6,190.2 119.6,190.5 120.0,191.8 119.8,193.0 118.6,193.4ZM155.1,193.4 153.9,193.0 155.1,192.6 156.2,193.0 155.1,193.4ZM186.4,205.2 181.2,204.9 175.9,204.4 175.5,204.2 174.6,203.0 175.6,201.8 175.9,201.7 181.2,201.0 184.1,200.5 186.4,200.3 189.7,199.2 191.6,198.7 195.8,198.0 195.6,196.8 193.0,195.5 193.3,194.2 195.1,193.0 196.8,192.5 202.0,192.6 204.2,193.0 207.2,194.0 207.5,194.2 207.9,195.5 207.2,196.6 207.0,196.8 202.8,198.0 203.3,199.2 204.9,200.5 203.3,201.8 202.0,202.0 196.8,202.7 195.3,203.0 191.6,203.9 190.1,204.2 186.4,205.2ZM327.2,195.5 322.0,196.5 318.3,195.5 321.9,194.2 322.0,194.2 322.0,194.2 327.2,195.5 327.2,195.5 327.2,195.5ZM92.5,201.8 92.5,201.8 90.6,200.5 91.9,199.2 92.5,199.1 93.1,199.2 94.9,200.5 92.5,201.8 92.5,201.8ZM280.2,201.6 278.6,200.5 280.2,199.8 281.8,200.5 280.2,201.6ZM228.1,206.8 228.0,206.8 226.2,205.5 225.6,204.2 225.5,203.0 228.1,201.9 230.7,203.0 230.8,204.2 230.0,205.5 228.2,206.8 228.1,206.8ZM155.1,210.5 154.9,210.5 151.1,209.2 149.9,208.6 149.3,208.0 149.0,206.8 149.9,205.6 150.0,205.5 154.0,204.2 155.1,204.0 155.7,204.2 156.1,205.5 157.3,206.8 156.4,208.0 156.6,209.2 155.2,210.5 155.1,210.5ZM191.6,209.3 191.4,209.2 188.6,208.0 191.6,207.0 196.8,207.7 197.9,208.0 196.8,208.3 191.8,209.2 191.6,209.3ZM113.4,211.9 112.1,211.8 108.1,210.9 107.3,210.5 108.1,210.1 112.3,209.2 113.4,209.1 114.0,209.2 116.2,210.5 114.2,211.8 113.4,211.9ZM186.4,214.4 185.8,214.2 183.2,213.0 185.1,211.8 186.4,211.4 187.9,211.8 190.1,213.0 187.0,214.2 186.4,214.4ZM212.4,216.8 208.5,216.8 207.2,216.7 202.0,215.7 201.1,215.5 196.8,214.3 196.7,214.2 193.8,213.0 196.8,212.4 199.4,211.8 202.0,211.4 207.2,211.5 208.4,211.8 212.4,212.5 215.0,213.0 217.7,213.7 218.9,214.2 219.6,215.5 217.7,216.4 213.5,216.8 212.4,216.8ZM269.8,216.9 269.3,216.8 268.2,215.5 269.8,215.0 271.5,215.5 270.3,216.8 269.8,216.9ZM123.8,218.8 121.3,218.0 123.8,217.1 126.0,218.0 123.8,218.8ZM92.5,223.4 90.4,223.0 92.5,222.1 94.3,223.0 92.5,223.4ZM186.4,227.1 181.2,227.1 179.1,226.8 175.9,225.5 175.8,225.5 175.6,224.2 175.9,224.1 178.1,223.0 181.2,222.2 186.4,221.9 191.6,222.5 193.7,223.0 196.7,224.2 193.8,225.5 191.6,226.3 188.8,226.8 186.4,227.1ZM212.4,234.4 207.2,234.5 205.3,234.2 202.0,233.6 200.4,233.0 202.0,232.3 206.1,231.8 206.7,230.5 204.2,229.2 206.8,228.0 207.2,227.9 212.4,227.7 216.1,228.0 217.7,228.3 219.9,229.2 217.7,230.4 217.3,230.5 213.4,231.8 217.7,232.8 218.2,233.0 217.7,233.2 213.4,234.2 212.4,234.4ZM118.6,233.6 113.4,233.8 108.1,233.4 106.4,233.0 102.9,231.9 102.7,231.8 101.1,230.5 102.7,229.2 102.9,229.2 104.0,229.2 108.1,229.8 113.4,230.4 113.6,230.5 117.1,231.8 118.6,232.3 119.1,233.0 118.6,233.6ZM186.4,233.2 185.2,233.0 181.2,231.8 181.0,231.8 181.2,231.7 186.1,230.5 186.4,230.5 186.5,230.5 188.9,231.8 187.1,233.0 186.4,233.2ZM196.8,238.0 196.8,238.0 193.9,236.8 196.8,236.2 201.0,236.8 196.8,238.0 196.8,238.0ZM165.5,244.7 163.9,244.2 163.4,243.0 162.6,241.8 163.5,240.5 165.2,239.2 165.5,239.2 165.8,239.2 168.0,240.5 170.7,241.6 170.8,241.8 170.7,241.9 168.6,243.0 167.4,244.2 165.5,244.7ZM196.8,242.8 191.6,242.0 191.0,241.8 191.6,241.5 196.8,240.7 198.2,241.8 196.8,242.8ZM212.4,249.3 209.3,249.2 207.2,249.1 202.2,248.0 207.2,247.0 209.0,246.8 212.4,246.6 216.6,246.8 217.7,247.0 222.9,247.9 223.1,248.0 222.9,248.1 217.7,248.7 214.0,249.2 212.4,249.3ZM191.6,251.8 186.4,251.9 184.7,251.8 181.2,250.7 180.8,250.5 181.2,250.3 186.0,249.2 186.4,249.2 188.2,249.2 191.6,249.4 196.8,250.3 197.2,250.5 196.8,250.7 191.9,251.8 191.6,251.8ZM228.1,255.9 222.9,256.4 217.7,256.0 215.1,255.5 212.9,254.2 215.5,253.0 217.7,252.5 222.9,252.4 228.1,252.7 229.5,253.0 229.7,254.2 229.5,255.5 228.1,255.9ZM202.0,255.6 196.8,256.2 191.6,255.9 186.4,255.5 186.2,255.5 186.4,255.5 191.6,255.1 196.8,254.5 202.0,255.4 202.3,255.5 202.0,255.6ZM134.2,261.3 131.2,260.5 134.2,259.5 136.8,260.5 134.2,261.3ZM212.4,265.6 208.4,265.5 207.2,265.4 202.0,264.6 200.9,264.2 200.9,263.0 201.4,261.8 202.0,261.3 204.0,260.5 207.2,260.1 212.4,260.1 217.0,260.5 217.7,260.7 218.9,261.8 219.8,263.0 219.4,264.2 217.7,264.8 213.4,265.5 212.4,265.6ZM113.4,264.3 113.3,264.2 109.8,263.0 113.4,262.3 116.6,263.0 113.4,264.2 113.4,264.3ZM269.8,266.5 267.3,265.5 269.8,264.4 272.0,265.5 269.8,266.5ZM332.4,266.2 330.9,265.5 332.4,264.8 333.7,265.5 332.4,266.2ZM134.2,269.4 133.7,269.2 131.5,268.0 134.2,266.8 134.2,266.7 134.2,266.8 137.3,268.0 134.7,269.2 134.2,269.4ZM379.3,270.5 374.1,271.3 371.4,270.5 374.1,269.9 379.3,270.5 379.3,270.5 379.3,270.5ZM207.2,274.4 206.6,274.2 202.3,273.0 205.5,271.8 207.2,271.4 208.8,271.8 211.2,273.0 207.7,274.2 207.2,274.4Z" fill="#6262ff" fill-rule="evenodd"/>
<path d="M186.4,53.6 184.9,53.0 184.2,51.8 185.3,50.5 186.4,50.1 187.5,50.5 188.6,51.8 187.9,53.0 186.4,53.6ZM196.8,150.7 191.6,150.8 191.4,150.5 189.4,149.2 189.2,148.0 187.2,146.8 186.4,146.3 183.2,145.5 182.6,144.2 185.1,143.0 185.0,141.8 184.9,140.5 185.2,139.2 184.7,138.0 185.0,136.8 185.1,135.5 184.9,134.2 184.9,133.0 184.3,131.8 182.7,130.5 183.5,129.2 186.4,128.1 186.6,128.0 188.5,126.8 188.7,125.5 189.7,124.2 186.4,123.4 185.1,123.0 181.2,122.0 180.6,121.8 178.9,120.5 177.3,119.2 175.9,118.4 172.2,118.0 170.7,117.7 166.5,116.8 165.5,116.0 165.2,115.5 165.5,115.1 166.7,114.2 170.7,113.1 170.8,113.0 172.6,111.8 173.2,110.5 173.3,109.2 174.0,108.0 175.0,106.8 175.9,106.1 176.6,105.5 177.9,104.2 179.6,103.0 181.2,101.9 181.4,101.8 183.7,100.5 182.1,99.2 181.2,98.6 180.5,98.0 180.0,96.8 179.7,95.5 179.2,94.2 179.2,93.0 179.9,91.8 180.5,90.5 181.1,89.2 181.2,89.2 183.7,88.0 186.4,86.9 191.6,87.3 192.9,88.0 193.8,89.2 195.3,90.5 196.0,91.8 196.1,93.0 196.0,94.2 196.3,95.5 195.5,96.8 195.1,98.0 193.7,99.2 193.3,100.5 194.5,101.8 196.8,102.4 202.0,102.1 207.2,101.9 208.2,101.8 211.1,100.5 211.8,99.2 211.6,98.0 211.6,96.8 212.3,95.5 212.4,95.3 214.2,94.2 217.3,93.0 217.7,92.8 218.0,93.0 220.8,94.2 222.3,95.5 222.5,96.8 222.9,97.1 223.4,98.0 223.6,99.2 223.5,100.5 224.3,101.8 227.0,103.0 228.1,103.2 232.9,104.2 233.3,104.3 233.7,104.2 235.9,103.0 236.2,101.8 236.2,100.5 236.1,99.2 237.9,98.0 238.5,97.3 240.0,98.0 243.2,99.2 243.5,100.5 243.7,101.3 243.8,101.8 243.7,103.0 243.7,103.0 242.5,104.2 242.6,105.5 243.3,106.8 243.7,107.0 245.6,108.0 246.4,109.2 247.1,110.5 248.0,111.8 248.9,113.0 248.9,113.1 249.3,113.0 254.2,111.8 254.7,111.8 259.4,111.5 264.6,111.4 267.3,111.8 269.8,112.1 274.1,113.0 275.0,113.4 276.7,114.2 280.2,115.2 285.5,115.1 290.7,114.4 291.0,115.5 294.0,116.8 294.8,118.0 290.7,119.1 288.8,119.2 285.5,119.5 280.2,119.7 275.1,119.2 275.0,119.2 275.0,119.2 269.8,119.9 267.2,120.5 264.6,120.8 259.4,120.5 259.2,120.5 254.2,120.0 250.8,119.2 248.9,118.6 243.7,118.7 242.7,119.2 239.5,120.5 238.5,120.8 233.3,120.7 228.1,120.8 222.9,121.4 219.1,121.8 217.7,121.9 212.4,122.2 207.2,122.1 202.0,121.9 196.8,122.6 195.9,123.0 196.8,123.3 197.9,124.2 198.7,125.5 199.6,126.8 200.5,128.0 201.3,129.2 202.0,130.1 202.4,130.5 202.5,131.8 202.6,133.0 203.6,134.2 203.3,135.5 203.7,136.8 203.5,138.0 203.1,139.2 202.8,140.5 202.6,141.8 202.0,142.9 201.9,143.0 201.7,144.2 201.2,145.5 200.1,146.8 199.1,148.0 198.6,149.2 197.0,150.5 196.8,150.7ZM327.2,119.3 322.0,120.1 316.7,119.3 316.6,119.2 316.7,119.1 318.3,118.0 322.0,117.1 324.2,118.0 327.2,119.2 327.6,119.2 327.2,119.3ZM217.7,151.8 217.4,151.8 213.4,150.5 212.4,150.2 211.4,149.2 211.0,148.0 210.9,146.8 211.4,145.5 211.4,144.2 212.4,143.5 214.9,143.0 217.7,142.5 220.7,143.0 222.9,143.5 223.8,144.2 224.4,145.5 224.4,146.8 224.0,148.0 224.1,149.2 222.9,150.5 222.9,150.5 217.9,151.8 217.7,151.8ZM202.0,183.0 196.8,183.4 191.6,183.1 190.8,183.0 186.4,182.4 183.6,181.8 186.0,180.5 186.4,180.4 191.4,179.2 190.8,178.0 190.2,176.8 189.6,175.5 189.3,174.2 189.3,173.0 189.7,171.8 189.8,170.5 189.4,169.2 189.8,168.0 188.7,166.8 186.4,165.9 182.9,165.5 182.3,164.2 186.4,164.1 189.6,163.0 188.8,161.8 187.5,160.5 187.1,159.2 187.4,158.0 188.4,156.8 189.2,155.5 191.5,154.2 191.6,154.2 196.8,154.1 197.2,154.2 200.4,155.5 202.0,156.5 202.2,156.8 203.0,158.0 203.3,159.2 202.8,160.5 202.0,161.6 201.9,161.8 200.2,163.0 199.6,164.2 202.0,165.3 202.2,165.5 203.4,166.8 204.2,168.0 204.2,169.2 204.2,170.5 204.4,171.8 204.2,173.0 204.0,174.2 204.3,175.5 203.5,176.8 203.2,178.0 203.2,179.2 207.2,180.4 207.8,180.5 209.1,181.8 207.2,182.6 203.1,183.0 202.0,183.0ZM191.6,202.1 190.0,201.8 191.6,201.5 194.2,201.8 191.6,202.1ZM191.6,225.8 186.4,226.6 181.2,226.5 179.1,225.5 178.3,224.2 180.0,223.0 181.2,222.7 186.4,222.4 191.6,222.8 192.3,223.0 194.5,224.2 192.5,225.5 191.6,225.8Z" fill="#2222ff" fill-rule="evenodd"/>
<path d="M186.4,53.1 186.2,53.0 185.9,51.8 186.4,51.0 186.9,51.8 186.6,53.0 186.4,53.1ZM191.6,123.0 191.5,123.0 186.4,122.8 182.3,121.8 181.2,121.2 180.1,120.5 178.3,119.2 176.4,118.0 175.9,117.6 172.1,116.8 170.7,115.8 170.2,115.5 170.7,114.7 170.8,114.2 172.5,113.0 173.7,111.8 174.2,110.5 174.3,109.2 175.1,108.0 175.9,107.1 176.2,106.8 177.6,105.5 179.0,104.2 180.9,103.0 181.2,102.8 183.2,101.8 186.2,100.5 184.2,99.2 182.5,98.0 181.5,96.8 181.2,95.7 181.1,95.5 180.5,94.2 180.5,93.0 181.2,91.9 181.4,91.8 182.7,90.5 183.3,89.2 185.7,88.0 186.4,87.7 189.3,88.0 191.6,88.7 192.0,89.2 193.7,90.5 194.5,91.8 194.3,93.0 194.4,94.2 194.7,95.5 193.9,96.8 193.5,98.0 192.1,99.2 191.6,100.5 192.5,101.8 196.8,102.9 202.0,102.6 207.2,102.4 211.6,101.8 212.4,100.9 212.8,100.5 213.4,99.2 213.2,98.0 213.7,96.8 214.4,95.5 216.3,94.2 217.7,93.7 218.9,94.2 220.4,95.5 220.2,96.8 221.8,98.0 222.0,99.2 221.8,100.5 222.6,101.8 222.9,102.0 224.1,103.0 228.1,103.9 229.8,104.2 233.3,104.8 237.1,104.2 237.9,103.0 238.0,101.8 237.7,100.5 237.5,99.2 238.5,98.6 240.6,99.2 240.3,100.5 239.8,101.8 239.8,103.0 239.7,104.2 241.0,105.5 241.9,106.8 243.7,107.6 244.5,108.0 245.4,109.2 246.3,110.5 247.2,111.8 247.9,113.0 248.5,114.2 248.9,115.2 250.6,114.2 253.9,113.0 254.2,112.9 259.4,112.5 264.6,112.2 269.3,113.0 269.8,113.1 273.0,114.2 275.0,115.0 276.9,115.5 275.4,116.8 279.0,118.0 275.0,118.3 269.8,118.8 267.8,119.2 264.6,120.0 259.4,119.8 254.5,119.2 254.2,119.2 250.9,118.0 248.9,116.9 244.4,118.0 243.7,118.0 241.3,119.2 238.5,120.3 233.3,120.3 228.1,120.1 225.8,120.5 222.9,120.9 217.7,121.4 212.4,121.6 207.2,121.5 202.0,121.4 196.8,121.4 195.5,121.8 191.6,123.0 191.6,123.0ZM285.5,118.2 282.4,118.0 285.5,117.5 287.2,118.0 285.5,118.2ZM196.8,149.7 191.6,149.8 190.7,149.2 190.7,148.0 188.8,146.8 186.9,145.5 186.4,144.2 187.0,143.0 186.4,142.3 186.1,141.8 185.9,140.5 186.3,139.2 185.6,138.0 186.0,136.8 186.1,135.5 185.8,134.2 186.0,133.0 185.9,131.8 185.2,130.5 186.4,129.5 186.6,129.2 188.6,128.0 190.1,126.8 190.0,125.5 191.6,124.5 196.8,124.7 197.3,125.5 198.2,126.8 199.1,128.0 199.8,129.2 200.7,130.5 200.9,131.8 200.8,133.0 202.0,133.9 202.3,134.2 202.0,135.5 202.5,136.8 202.4,138.0 202.0,139.0 201.8,139.2 201.3,140.5 201.2,141.8 200.0,143.0 200.0,144.2 199.8,145.5 198.8,146.8 197.8,148.0 197.4,149.2 196.8,149.7ZM217.7,147.4 212.8,146.8 216.2,145.5 214.7,144.2 217.7,143.8 219.7,144.2 219.6,145.5 220.1,146.8 217.7,147.4ZM217.7,150.6 217.4,150.5 215.5,149.2 217.7,148.8 219.7,149.2 217.9,150.5 217.7,150.6ZM196.8,164.2 192.0,163.0 191.6,162.9 190.2,161.8 189.2,160.5 188.7,159.2 188.7,158.0 189.9,156.8 190.5,155.5 191.6,154.9 196.8,154.8 198.5,155.5 200.6,156.8 201.6,158.0 202.0,158.6 202.2,159.2 202.0,159.7 201.3,160.5 200.3,161.8 198.4,163.0 196.8,164.2ZM202.0,181.9 196.8,182.5 191.6,182.0 189.4,181.8 191.4,180.5 191.6,180.5 195.0,179.2 196.0,178.0 191.6,176.9 191.5,176.8 190.9,175.5 190.5,174.2 190.7,173.0 191.2,171.8 191.2,170.5 190.6,169.2 191.1,168.0 191.3,166.8 191.6,165.8 191.8,165.5 196.8,164.3 199.5,165.5 202.0,166.7 202.0,166.8 202.9,168.0 202.7,169.2 202.5,170.5 202.6,171.8 202.7,173.0 202.4,174.2 203.1,175.5 202.1,176.8 202.0,176.9 198.2,178.0 199.2,179.2 202.0,180.5 202.0,180.5 203.0,181.8 202.0,181.9ZM186.4,225.6 185.6,225.5 181.2,224.5 180.9,224.2 181.2,224.0 185.8,223.0 186.4,223.0 186.8,223.0 191.6,223.8 192.3,224.2 191.6,224.9 187.1,225.5 186.4,225.6Z" fill="#0000e6" fill-rule="evenodd"/>
<path d="M186.4,99.4 186.2,99.2 185.0,98.0 183.8,96.8 183.2,95.5 182.7,94.2 183.4,93.0 184.6,91.8 185.4,90.5 185.6,89.2 186.4,88.9 187.9,89.2 191.6,90.2 192.0,90.5 193.0,91.8 192.6,93.0 192.7,94.2 193.1,95.5 192.4,96.8 192.0,98.0 191.6,98.3 186.9,99.2 186.4,99.4ZM191.6,122.3 186.4,122.4 184.0,121.8 181.4,120.5 181.2,120.4 179.4,119.2 177.6,118.0 176.0,116.8 175.9,116.7 173.1,115.5 173.0,114.2 174.1,113.0 174.7,111.8 175.2,110.5 175.3,109.2 175.9,108.4 176.3,108.0 177.2,106.8 178.6,105.5 180.1,104.2 181.2,103.6 182.8,103.0 185.0,101.8 186.4,101.2 189.5,101.8 191.6,102.1 195.0,103.0 196.8,103.3 202.0,103.1 206.4,103.0 207.2,103.0 212.4,102.2 214.5,101.8 215.2,100.5 215.5,99.2 215.4,98.0 217.3,96.8 216.7,95.5 217.7,94.8 218.5,95.5 217.9,96.8 219.7,98.0 219.9,99.2 219.8,100.5 220.3,101.8 221.4,103.0 222.9,103.3 226.9,104.2 228.1,104.5 233.3,105.2 238.5,104.9 239.3,105.5 240.5,106.8 243.3,108.0 243.7,108.3 244.5,109.2 245.4,110.5 246.5,111.8 246.9,113.0 247.4,114.2 247.1,115.5 247.0,116.8 243.7,117.5 242.4,118.0 240.0,119.2 238.5,119.8 233.3,120.0 228.1,119.4 222.9,120.4 221.3,120.5 217.7,120.9 212.4,121.2 207.2,120.9 202.0,121.0 196.8,120.8 193.5,121.8 191.6,122.3ZM259.4,114.7 258.4,114.2 259.4,114.1 261.8,114.2 259.4,114.7ZM264.6,117.4 262.2,116.8 260.3,115.5 264.6,114.4 269.8,114.7 271.5,115.5 269.8,116.0 266.9,116.8 264.6,117.4ZM191.6,126.3 191.3,125.5 191.6,125.3 192.8,125.5 191.6,126.3ZM196.8,147.6 191.6,147.5 190.5,146.8 188.9,145.5 188.9,144.2 188.6,143.0 188.3,141.8 188.0,140.5 188.8,139.2 187.1,138.0 187.9,136.8 188.9,135.5 187.8,134.2 187.7,133.0 187.8,131.8 188.0,130.5 188.4,129.2 190.6,128.0 191.6,127.0 196.1,126.8 196.8,126.7 196.8,126.8 197.6,128.0 198.4,129.2 199.1,130.5 199.3,131.8 198.9,133.0 200.3,134.2 199.2,135.5 200.8,136.8 199.8,138.0 200.0,139.2 199.5,140.5 199.6,141.8 198.1,143.0 198.3,144.2 198.4,145.5 197.5,146.8 196.8,147.6ZM196.8,162.9 191.7,161.8 191.6,161.7 190.9,160.5 190.3,159.2 190.0,158.0 191.4,156.8 191.6,156.3 196.8,155.6 198.9,156.8 198.8,158.0 199.5,159.2 198.9,160.5 198.7,161.8 196.8,162.9ZM196.8,172.0 195.8,171.8 196.8,171.4 197.8,171.8 196.8,172.0Z" fill="#0000aa" fill-rule="evenodd"/>
<path d="M186.4,97.0 186.1,96.8 185.4,95.5 186.2,94.2 186.4,94.1 186.9,94.2 191.1,95.5 187.3,96.8 186.4,97.0ZM186.4,121.9 185.7,121.8 183.4,120.5 181.2,119.7 180.4,119.2 178.8,118.0 177.3,116.8 175.9,115.6 175.6,115.5 175.2,114.2 175.7,113.0 175.7,111.8 175.9,111.1 176.2,110.5 176.2,109.2 177.3,108.0 178.1,106.8 179.6,105.5 181.2,104.3 181.2,104.2 184.8,103.0 186.4,102.0 191.6,102.6 192.9,103.0 196.8,103.7 202.0,103.6 207.2,103.4 211.3,103.0 212.4,102.8 217.3,101.8 217.6,100.5 217.5,99.2 217.6,98.0 217.7,97.9 217.7,98.0 217.9,99.2 217.8,100.5 217.9,101.8 218.7,103.0 222.9,104.0 224.2,104.2 228.1,105.1 231.3,105.5 233.3,105.7 238.5,106.2 239.1,106.8 241.7,108.0 243.4,109.2 243.7,109.5 244.6,110.5 245.7,111.8 246.0,113.0 246.2,114.2 245.0,115.5 244.8,116.8 243.7,117.0 241.0,118.0 238.6,119.2 238.5,119.3 233.3,119.6 230.5,119.2 228.1,118.9 226.3,119.2 222.9,119.9 217.7,120.4 216.6,120.5 212.4,120.8 208.3,120.5 207.2,120.4 202.8,120.5 202.0,120.5 201.6,120.5 196.8,120.2 195.4,120.5 191.6,121.7 190.5,121.8 186.4,121.9ZM196.8,135.3 191.6,134.7 191.2,134.2 189.9,133.0 189.7,131.8 191.0,130.5 190.2,129.2 191.6,128.5 196.8,129.1 196.9,129.2 197.5,130.5 197.8,131.8 197.1,133.0 198.1,134.2 196.8,135.3ZM196.8,145.8 191.6,146.0 191.0,145.5 191.3,144.2 190.2,143.0 190.8,141.8 191.1,140.5 191.5,139.2 191.0,138.0 190.6,136.8 191.6,135.9 196.8,135.7 198.6,136.8 196.8,137.9 195.1,138.0 196.8,138.1 198.1,139.2 197.6,140.5 197.9,141.8 196.8,142.6 195.4,143.0 194.5,144.2 196.8,144.7 197.0,145.5 196.8,145.8ZM196.8,157.3 195.5,156.8 196.8,156.5 197.3,156.8 196.8,157.3ZM191.6,158.7 191.3,158.0 191.6,157.7 193.7,158.0 191.6,158.7ZM196.8,161.9 196.1,161.8 196.8,161.1 197.1,161.8 196.8,161.9Z" fill="#00007d" fill-rule="evenodd"/>
<path d="M191.6,120.8 186.4,121.1 185.3,120.5 181.8,119.2 181.2,118.9 180.0,118.0 178.6,116.8 177.3,115.5 176.7,114.2 176.9,113.0 176.9,111.8 177.4,110.5 177.3,109.2 178.4,108.0 179.1,106.8 180.6,105.5 181.2,105.1 183.2,104.2 186.4,103.2 191.6,103.2 196.8,104.1 202.0,104.0 207.2,103.9 212.4,103.6 217.7,103.5 221.1,104.2 222.9,104.9 225.7,105.5 228.1,105.7 233.3,106.3 236.4,106.8 238.5,107.2 240.2,108.0 242.2,109.2 243.7,110.5 243.7,110.5 245.0,111.8 245.0,113.0 245.1,114.2 243.7,115.2 243.1,115.5 242.5,116.8 239.6,118.0 238.5,118.6 233.3,119.2 228.1,118.6 224.0,119.2 222.9,119.5 217.7,119.7 212.4,120.3 207.2,120.0 202.0,119.9 196.8,119.7 192.5,120.5 191.6,120.8Z" fill="#00004a" fill-rule="evenodd"/>
<path d="M212.4,119.6 207.2,119.5 202.0,119.3 200.4,119.2 196.8,119.1 196.2,119.2 191.6,120.1 186.4,120.2 183.8,119.2 181.2,118.0 181.1,118.0 179.9,116.8 178.9,115.5 177.8,114.2 178.0,113.0 178.2,111.8 178.7,110.5 178.3,109.2 179.5,108.0 180.0,106.8 181.2,105.9 182.6,105.5 185.1,104.2 186.4,103.8 191.6,103.6 195.3,104.2 196.8,105.0 202.0,105.0 207.2,104.6 212.4,104.4 216.4,104.2 217.7,104.2 217.8,104.2 220.8,105.5 222.9,105.9 228.1,106.4 232.1,106.8 233.3,106.9 238.5,107.9 238.7,108.0 240.9,109.2 241.6,110.5 243.7,111.3 244.2,111.8 244.0,113.0 243.9,114.2 243.7,114.4 241.3,115.5 240.1,116.8 238.5,117.6 237.2,118.0 233.3,118.5 228.1,118.2 222.9,118.2 217.7,118.9 215.2,119.2 212.4,119.6Z" fill="#000020" fill-rule="evenodd"/>
<path d="M155.1,56.3 150.3,55.5 149.9,55.4 147.5,54.2 144.6,53.2 144.4,53.0 143.9,51.8 142.8,50.5 144.6,49.7 149.9,50.5 150.0,50.5 153.8,51.8 155.1,52.1 156.2,53.0 157.9,54.2 159.2,55.5 155.1,56.3ZM186.4,54.0 183.7,53.0 182.5,51.8 183.9,50.5 186.4,49.5 188.9,50.5 190.3,51.8 189.1,53.0 186.4,54.0ZM139.4,59.0 134.2,59.2 129.0,58.1 128.8,58.0 127.4,56.8 127.0,55.5 128.6,54.2 129.0,54.2 130.1,54.2 134.2,54.7 137.2,55.5 139.4,56.5 139.8,56.8 140.2,58.0 139.4,59.0ZM207.2,57.6 205.7,56.8 203.6,55.5 205.5,54.2 207.2,53.7 209.1,54.2 212.2,55.5 208.9,56.8 207.2,57.6ZM353.2,56.2 351.1,55.5 353.2,54.7 355.1,55.5 353.2,56.2ZM113.4,57.8 109.1,56.8 113.4,55.7 116.7,56.8 113.4,57.8ZM186.4,59.3 186.1,59.2 183.5,58.0 185.8,56.8 186.4,56.6 187.0,56.8 189.0,58.0 186.6,59.2 186.4,59.3ZM175.9,61.1 173.6,60.5 175.9,59.2 175.9,59.2 176.0,59.2 179.4,60.5 175.9,61.1ZM207.2,62.2 205.4,61.8 203.6,60.5 205.3,59.2 207.2,58.3 209.4,59.2 211.7,60.5 209.3,61.8 207.2,62.2ZM144.6,63.8 139.7,63.0 139.4,62.9 138.1,61.8 139.4,60.8 140.4,60.5 144.6,59.8 148.8,60.5 149.9,60.8 151.3,61.8 149.9,62.9 149.4,63.0 144.6,63.8ZM269.8,64.4 269.2,64.2 264.6,63.0 264.6,63.0 264.6,63.0 269.3,61.8 269.8,61.7 270.2,61.8 274.1,63.0 270.3,64.2 269.8,64.4ZM196.8,67.1 195.5,66.8 194.3,65.5 196.0,64.2 196.8,64.1 197.8,64.2 202.0,65.3 202.7,65.5 202.0,65.7 198.3,66.8 196.8,67.1ZM217.7,69.0 214.5,68.0 217.3,66.8 217.7,66.7 218.0,66.8 220.4,68.0 217.7,69.0ZM129.0,75.7 128.0,75.5 127.5,74.2 128.1,73.0 129.0,72.5 131.3,71.8 134.2,71.1 137.4,70.5 139.4,70.2 144.6,70.4 145.1,70.5 145.6,71.8 145.2,73.0 144.6,73.2 140.4,74.2 139.4,74.5 134.2,75.5 134.2,75.5 129.0,75.7ZM186.4,71.3 181.2,70.5 181.0,70.5 181.2,70.5 186.4,69.4 189.3,70.5 186.4,71.3ZM186.4,80.7 183.5,80.5 181.2,80.2 175.9,79.4 172.3,79.2 172.3,78.0 170.7,77.1 170.4,76.8 170.7,76.5 174.3,75.5 175.9,75.4 177.2,75.5 181.2,76.2 184.8,76.8 186.4,77.2 188.1,76.8 189.2,75.5 191.6,75.1 193.1,75.5 196.8,76.7 196.9,76.8 198.4,78.0 196.8,78.7 191.6,78.5 188.5,79.2 187.5,80.5 186.4,80.7ZM170.7,88.3 165.5,88.2 160.3,88.0 158.9,88.0 157.6,86.8 157.4,85.5 159.0,84.2 160.2,83.0 157.6,81.8 156.3,80.5 157.6,79.2 160.3,78.5 165.5,78.6 169.5,79.2 170.7,79.8 171.1,80.5 170.7,81.3 169.8,81.8 169.4,83.0 170.7,83.3 174.5,84.2 175.9,84.8 176.9,85.5 175.9,86.7 175.8,86.8 172.5,88.0 170.7,88.3ZM207.2,82.7 205.9,81.8 202.0,80.7 201.0,80.5 199.5,79.2 202.0,79.0 202.8,79.2 207.2,80.5 207.4,80.5 209.2,81.8 207.2,82.7ZM217.7,85.6 217.4,85.5 212.4,84.4 211.9,84.2 209.6,83.0 212.4,82.7 212.9,83.0 217.7,84.2 218.0,84.2 218.0,85.5 217.7,85.6ZM196.8,152.4 191.6,152.5 190.6,151.8 189.7,150.5 188.2,149.2 187.7,148.0 186.4,147.2 183.6,146.8 181.2,146.2 178.3,145.5 178.5,144.2 181.2,143.8 183.1,143.0 184.0,141.8 184.0,140.5 184.2,139.2 183.8,138.0 184.0,136.8 184.1,135.5 183.9,134.2 183.9,133.0 182.6,131.8 181.2,130.9 179.7,130.5 180.3,129.2 181.2,129.1 184.3,128.0 186.4,127.0 186.8,126.8 187.4,125.5 187.1,124.2 186.4,124.1 182.7,123.0 181.2,122.6 179.2,121.8 177.7,120.5 176.2,119.2 175.9,119.1 170.7,118.5 165.6,118.0 165.5,118.0 163.1,116.8 162.5,115.5 163.6,114.2 165.5,113.4 166.9,113.0 170.7,112.3 171.6,111.8 172.2,110.5 172.3,109.2 172.9,108.0 173.6,106.8 175.2,105.5 175.9,105.1 176.8,104.2 178.3,103.0 179.8,101.8 181.2,100.5 181.2,100.5 181.2,100.5 180.2,99.2 179.0,98.0 178.6,96.8 178.4,95.5 178.0,94.2 178.0,93.0 178.6,91.8 178.9,90.5 179.5,89.2 181.2,88.2 181.7,88.0 184.0,86.8 186.3,85.5 186.4,85.5 186.7,85.5 191.6,86.1 193.0,86.8 194.8,88.0 195.7,89.2 196.8,90.3 197.1,90.5 197.7,91.8 197.8,93.0 197.8,94.2 197.9,95.5 197.0,96.8 196.8,97.4 196.6,98.0 195.3,99.2 195.0,100.5 196.4,101.8 196.8,101.9 198.5,101.8 202.0,101.5 207.2,101.3 209.5,100.5 210.4,99.2 210.4,98.0 210.4,96.8 210.9,95.5 212.1,94.2 212.4,93.8 213.7,93.0 216.2,91.8 216.5,90.5 217.7,90.1 222.3,89.2 222.9,89.2 228.1,88.9 231.2,89.2 233.3,89.7 235.2,90.5 233.3,91.3 230.2,91.8 228.1,91.9 222.9,92.2 220.8,93.0 222.8,94.2 222.9,94.4 224.0,95.5 224.1,96.8 224.7,98.0 224.8,99.2 224.9,100.5 226.0,101.8 228.1,102.6 231.3,103.0 233.3,103.4 234.0,103.0 234.4,101.8 234.7,100.5 234.8,99.2 236.2,98.0 237.2,96.8 238.5,96.0 240.9,96.8 243.7,97.9 243.9,98.0 244.9,99.2 245.0,100.5 245.1,101.8 245.1,103.0 244.6,104.2 244.3,105.5 244.9,106.8 246.7,108.0 247.3,109.2 248.0,110.5 248.7,111.8 248.9,112.0 250.1,111.8 254.2,111.1 259.4,110.6 264.6,110.7 269.8,111.2 272.5,111.8 275.0,112.3 277.4,113.0 280.2,114.1 284.8,113.0 285.5,112.7 288.4,111.8 290.1,110.5 290.7,110.3 291.3,110.5 293.1,111.8 295.9,112.9 296.0,113.0 295.9,113.1 294.0,114.2 293.1,115.5 295.9,116.3 301.1,116.3 306.3,116.3 311.5,116.1 316.7,116.2 322.0,116.2 327.2,116.4 332.4,116.5 337.6,116.7 338.3,116.8 342.8,117.7 343.9,118.0 342.8,118.3 337.8,119.2 337.6,119.3 332.4,119.5 328.4,120.5 327.2,121.6 326.6,121.8 322.0,122.7 318.1,121.8 316.7,121.4 314.9,120.5 311.5,119.7 306.3,119.6 301.1,119.5 295.9,119.7 290.7,119.9 286.9,120.5 285.5,120.8 280.2,120.7 278.4,120.5 275.0,120.1 272.5,120.5 269.8,120.8 264.6,121.4 259.4,121.3 254.2,120.7 253.0,120.5 248.9,119.7 243.7,119.4 241.1,120.5 238.5,121.2 233.3,121.2 228.1,121.3 224.4,121.8 222.9,122.0 217.7,122.6 212.4,122.8 207.2,122.7 202.0,122.4 199.1,123.0 199.3,124.2 200.1,125.5 201.0,126.8 202.0,128.0 202.0,128.0 203.3,129.2 204.3,130.5 204.3,131.8 204.3,133.0 204.8,134.2 204.6,135.5 204.8,136.8 204.6,138.0 204.3,139.2 204.0,140.5 203.9,141.8 203.3,143.0 203.4,144.2 203.1,145.5 202.0,146.1 201.4,146.8 200.4,148.0 199.9,149.2 198.6,150.5 197.3,151.8 196.8,152.4ZM144.6,93.4 143.0,93.0 142.8,91.8 143.2,90.5 143.7,89.2 143.8,88.0 144.6,86.8 144.6,86.7 149.9,86.1 153.8,86.8 154.4,88.0 153.1,89.2 149.9,90.4 149.3,90.5 146.7,91.8 146.4,93.0 144.6,93.4ZM113.4,97.2 108.1,97.2 106.7,96.8 108.1,96.2 113.4,96.3 114.0,96.8 113.4,97.2ZM280.2,101.1 279.1,100.5 280.2,99.5 281.3,100.5 280.2,101.1ZM113.4,104.5 112.0,104.2 109.6,103.0 112.3,101.8 113.4,101.6 114.6,101.8 118.2,103.0 114.9,104.2 113.4,104.5ZM134.2,107.7 132.7,106.8 131.8,105.5 132.5,104.2 134.1,103.0 134.2,103.0 134.4,103.0 136.1,104.2 136.5,105.5 135.9,106.8 134.2,107.7ZM155.1,109.6 153.1,109.2 151.2,108.0 152.8,106.8 155.1,106.4 156.6,106.8 159.4,108.0 156.8,109.2 155.1,109.6ZM280.2,107.7 278.6,106.8 280.2,106.1 282.2,106.8 280.2,107.7ZM353.2,110.9 348.0,111.6 342.8,110.7 342.3,110.5 342.8,110.3 348.0,109.3 353.2,110.1 354.4,110.5 353.2,110.9ZM123.8,114.9 122.3,114.2 120.9,113.0 122.6,111.8 123.8,111.1 126.2,111.8 129.0,112.9 129.1,113.0 129.0,113.1 126.6,114.2 123.8,114.9ZM123.8,122.0 118.6,121.8 116.9,121.8 113.4,121.2 108.4,120.5 108.1,120.5 102.9,119.3 102.6,119.2 101.5,118.0 101.6,116.8 102.9,116.2 106.1,115.5 108.1,115.4 110.5,115.5 113.4,115.8 118.6,116.6 119.5,116.8 123.8,117.6 125.1,118.0 128.1,119.2 129.0,119.5 130.1,120.5 129.0,121.0 125.7,121.8 123.8,122.0ZM144.6,124.9 142.5,124.2 144.5,123.0 139.5,121.8 139.4,121.7 137.7,120.5 138.9,119.2 139.4,119.1 144.6,118.5 149.9,118.8 152.8,119.2 154.0,120.5 152.2,121.8 149.9,122.3 144.9,123.0 147.4,124.2 144.6,124.9ZM363.7,122.0 362.3,121.8 358.5,120.7 358.0,120.5 358.5,120.3 362.9,119.2 363.7,119.1 365.3,119.2 368.9,120.0 370.1,120.5 368.9,120.9 365.8,121.8 363.7,122.0ZM233.3,129.4 228.1,129.4 226.9,129.2 222.9,128.5 219.3,128.0 217.7,127.5 213.6,126.8 212.4,126.3 211.7,125.5 212.0,124.2 212.4,124.0 217.7,123.8 222.9,124.2 223.2,124.2 228.1,125.3 229.3,125.5 233.3,126.4 234.4,126.8 238.4,128.0 236.6,129.2 233.3,129.4ZM353.2,129.1 348.2,128.0 353.2,127.2 356.5,128.0 353.2,129.1ZM134.2,132.1 133.1,131.8 131.1,130.5 133.4,129.2 134.2,129.1 135.0,129.2 137.0,130.5 135.2,131.8 134.2,132.1ZM269.8,134.1 267.5,133.0 269.8,132.1 272.3,133.0 269.8,134.1ZM238.5,141.7 234.0,140.5 233.3,140.3 232.4,139.2 232.2,138.0 232.4,136.8 233.3,135.5 233.4,135.5 238.5,134.5 239.7,135.5 239.7,136.8 240.2,138.0 239.6,139.2 239.6,140.5 238.5,141.7ZM374.1,136.1 371.4,135.5 374.1,134.5 376.1,135.5 374.1,136.1ZM264.6,139.7 263.6,139.2 259.4,138.0 259.3,138.0 259.2,136.8 259.4,136.7 259.5,136.8 264.6,137.9 265.0,138.0 269.5,139.2 264.6,139.7ZM269.8,140.8 268.8,140.5 269.8,139.4 270.5,140.5 269.8,140.8ZM217.7,152.3 214.1,151.8 212.4,151.3 211.3,150.5 210.1,149.2 209.6,148.0 209.3,146.8 209.8,145.5 210.1,144.2 211.6,143.0 212.4,142.6 216.4,141.8 217.7,141.5 219.5,141.8 222.9,142.3 224.3,143.0 225.6,144.2 226.3,145.5 226.6,146.8 226.0,148.0 225.6,149.2 224.5,150.5 222.9,151.5 221.9,151.8 217.7,152.3ZM129.0,143.2 123.8,144.0 121.5,143.0 123.8,142.1 129.0,142.8 129.8,143.0 129.0,143.2ZM155.1,148.8 150.2,148.0 155.1,147.1 157.2,148.0 155.1,148.8ZM123.8,154.2 121.8,153.0 123.8,152.4 125.7,153.0 123.8,154.2ZM207.2,183.6 202.0,183.8 196.8,184.0 191.6,183.9 186.4,183.3 184.6,183.0 181.2,182.2 179.9,181.8 181.2,180.9 181.8,180.5 186.4,179.5 187.4,179.2 189.4,178.0 188.9,176.8 188.4,175.5 188.1,174.2 188.0,173.0 188.2,171.8 188.3,170.5 188.2,169.2 188.5,168.0 186.4,166.8 185.2,166.8 181.2,166.4 177.6,165.5 177.3,164.2 181.2,163.6 186.4,163.3 187.4,163.0 187.4,161.8 186.4,160.9 185.8,160.5 185.4,159.2 185.9,158.0 186.4,157.5 186.8,156.8 187.8,155.5 189.9,154.2 191.6,153.3 196.8,153.2 199.4,154.2 202.0,155.3 202.3,155.5 203.6,156.8 204.2,158.0 204.4,159.2 204.0,160.5 203.3,161.8 202.0,163.0 202.0,163.0 202.0,163.1 202.5,164.2 203.9,165.5 204.8,166.8 205.5,168.0 205.7,169.2 205.9,170.5 206.1,171.8 205.8,173.0 205.6,174.2 205.6,175.5 204.9,176.8 204.7,178.0 205.9,179.2 207.2,179.6 211.5,180.5 212.4,181.1 213.4,181.8 212.4,182.3 210.8,183.0 207.2,183.6ZM113.4,155.9 112.2,155.5 113.4,154.9 114.4,155.5 113.4,155.9ZM222.9,162.0 217.7,162.3 216.0,161.8 214.3,160.5 215.5,159.2 217.7,158.7 222.9,159.1 223.4,159.2 224.0,160.5 223.6,161.8 222.9,162.0ZM280.2,161.0 279.4,160.5 280.2,160.2 281.2,160.5 280.2,161.0ZM118.6,167.2 113.4,167.0 111.6,166.8 108.3,165.5 111.3,164.2 113.4,163.8 118.6,164.0 120.7,164.2 123.8,165.4 123.9,165.5 123.8,165.7 122.2,166.8 118.6,167.2ZM228.1,169.3 222.9,169.4 222.3,169.2 218.0,168.0 222.3,166.8 222.9,166.6 228.1,166.6 229.7,166.8 233.3,167.3 235.5,168.0 233.3,168.8 229.4,169.2 228.1,169.3ZM228.1,176.6 226.1,175.5 228.1,174.4 229.9,175.5 228.1,176.6ZM129.0,178.1 123.8,179.0 121.8,178.0 123.8,176.9 129.0,177.8 129.6,178.0 129.0,178.1ZM102.9,183.1 97.7,183.9 92.9,183.0 97.7,181.8 97.7,181.7 97.8,181.8 102.9,182.9 103.4,183.0 102.9,183.1ZM353.2,186.9 351.5,186.8 348.0,185.8 347.5,185.5 348.0,185.2 352.2,184.2 353.2,184.1 355.2,184.2 358.5,185.2 358.7,185.5 358.5,185.7 355.2,186.8 353.2,186.9ZM144.6,186.8 144.5,186.8 140.8,185.5 144.6,184.6 148.6,185.5 144.9,186.8 144.6,186.8ZM92.5,188.8 90.3,188.0 92.5,187.0 94.8,188.0 92.5,188.8ZM228.1,191.9 222.9,191.9 217.7,191.8 217.6,191.8 215.4,190.5 217.7,189.3 217.9,189.2 222.9,189.1 228.1,189.2 228.7,189.2 233.3,190.2 234.0,190.5 233.3,190.8 229.3,191.8 228.1,191.9ZM118.6,193.4 113.4,194.1 111.7,193.0 110.4,191.8 111.3,190.5 113.4,189.7 118.6,190.2 119.6,190.5 120.0,191.8 119.8,193.0 118.6,193.4ZM155.1,193.4 153.9,193.0 155.1,192.6 156.2,193.0 155.1,193.4ZM186.4,205.2 181.2,204.9 175.9,204.4 175.5,204.2 174.6,203.0 175.6,201.8 175.9,201.7 181.2,201.0 184.1,200.5 186.4,200.3 189.7,199.2 191.6,198.7 195.8,198.0 195.6,196.8 193.0,195.5 193.3,194.2 195.1,193.0 196.8,192.5 202.0,192.6 204.2,193.0 207.2,194.0 207.5,194.2 207.9,195.5 207.2,196.6 207.0,196.8 202.8,198.0 203.3,199.2 204.9,200.5 203.3,201.8 202.0,202.0 196.8,202.7 195.3,203.0 191.6,203.9 190.1,204.2 186.4,205.2ZM327.2,195.5 322.0,196.5 318.3,195.5 321.9,194.2 322.0,194.2 322.0,194.2 327.2,195.5 327.2,195.5 327.2,195.5ZM92.5,201.8 92.5,201.8 90.6,200.5 91.9,199.2 92.5,199.1 93.1,199.2 94.9,200.5 92.5,201.8 92.5,201.8ZM280.2,201.6 278.6,200.5 280.2,199.8 281.8,200.5 280.2,201.6ZM228.1,206.8 228.0,206.8 226.2,205.5 225.6,204.2 225.5,203.0 228.1,201.9 230.7,203.0 230.8,204.2 230.0,205.5 228.2,206.8 228.1,206.8ZM155.1,210.5 154.9,210.5 151.1,209.2 149.9,208.6 149.3,208.0 149.0,206.8 149.9,205.6 150.0,205.5 154.0,204.2 155.1,204.0 155.7,204.2 156.1,205.5 157.3,206.8 156.4,208.0 156.6,209.2 155.2,210.5 155.1,210.5ZM191.6,209.3 191.4,209.2 188.6,208.0 191.6,207.0 196.8,207.7 197.9,208.0 196.8,208.3 191.8,209.2 191.6,209.3ZM113.4,211.9 112.1,211.8 108.1,210.9 107.3,210.5 108.1,210.1 112.3,209.2 113.4,209.1 114.0,209.2 116.2,210.5 114.2,211.8 113.4,211.9ZM186.4,214.4 185.8,214.2 183.2,213.0 185.1,211.8 186.4,211.4 187.9,211.8 190.1,213.0 187.0,214.2 186.4,214.4ZM212.4,216.8 208.5,216.8 207.2,216.7 202.0,215.7 201.1,215.5 196.8,214.3 196.7,214.2 193.8,213.0 196.8,212.4 199.4,211.8 202.0,211.4 207.2,211.5 208.4,211.8 212.4,212.5 215.0,213.0 217.7,213.7 218.9,214.2 219.6,215.5 217.7,216.4 213.5,216.8 212.4,216.8ZM269.8,216.9 269.3,216.8 268.2,215.5 269.8,215.0 271.5,215.5 270.3,216.8 269.8,216.9ZM123.8,218.8 121.3,218.0 123.8,217.1 126.0,218.0 123.8,218.8ZM92.5,223.4 90.4,223.0 92.5,222.1 94.3,223.0 92.5,223.4ZM186.4,227.1 181.2,227.1 179.1,226.8 175.9,225.5 175.8,225.5 175.6,224.2 175.9,224.1 178.1,223.0 181.2,222.2 186.4,221.9 191.6,222.5 193.7,223.0 196.7,224.2 193.8,225.5 191.6,226.3 188.8,226.8 186.4,227.1ZM212.4,234.4 207.2,234.5 205.3,234.2 202.0,233.6 200.4,233.0 202.0,232.3 206.1,231.8 206.7,230.5 204.2,229.2 206.8,228.0 207.2,227.9 212.4,227.7 216.1,228.0 217.7,228.3 219.9,229.2 217.7,230.4 217.3,230.5 213.4,231.8 217.7,232.8 218.2,233.0 217.7,233.2 213.4,234.2 212.4,234.4ZM118.6,233.6 113.4,233.8 108.1,233.4 106.4,233.0 102.9,231.9 102.7,231.8 101.1,230.5 102.7,229.2 102.9,229.2 104.0,229.2 108.1,229.8 113.4,230.4 113.6,230.5 117.1,231.8 118.6,232.3 119.1,233.0 118.6,233.6ZM186.4,233.2 185.2,233.0 181.2,231.8 181.0,231.8 181.2,231.7 186.1,230.5 186.4,230.5 186.5,230.5 188.9,231.8 187.1,233.0 186.4,233.2ZM196.8,238.0 196.8,238.0 193.9,236.8 196.8,236.2 201.0,236.8 196.8,238.0 196.8,238.0ZM165.5,244.7 163.9,244.2 163.4,243.0 162.6,241.8 163.5,240.5 165.2,239.2 165.5,239.2 165.8,239.2 168.0,240.5 170.7,241.6 170.8,241.8 170.7,241.9 168.6,243.0 167.4,244.2 165.5,244.7ZM196.8,242.8 191.6,242.0 191.0,241.8 191.6,241.5 196.8,240.7 198.2,241.8 196.8,242.8ZM212.4,249.3 209.3,249.2 207.2,249.1 202.2,248.0 207.2,247.0 209.0,246.8 212.4,246.6 216.6,246.8 217.7,247.0 222.9,247.9 223.1,248.0 222.9,248.1 217.7,248.7 214.0,249.2 212.4,249.3ZM191.6,251.8 186.4,251.9 184.7,251.8 181.2,250.7 180.8,250.5 181.2,250.3 186.0,249.2 186.4,249.2 188.2,249.2 191.6,249.4 196.8,250.3 197.2,250.5 196.8,250.7 191.9,251.8 191.6,251.8ZM228.1,255.9 222.9,256.4 217.7,256.0 215.1,255.5 212.9,254.2 215.5,253.0 217.7,252.5 222.9,252.4 228.1,252.7 229.5,253.0 229.7,254.2 229.5,255.5 228.1,255.9ZM202.0,255.6 196.8,256.2 191.6,255.9 186.4,255.5 186.2,255.5 186.4,255.5 191.6,255.1 196.8,254.5 202.0,255.4 202.3,255.5 202.0,255.6ZM134.2,261.3 131.2,260.5 134.2,259.5 136.8,260.5 134.2,261.3ZM212.4,265.6 208.4,265.5 207.2,265.4 202.0,264.6 200.9,264.2 200.9,263.0 201.4,261.8 202.0,261.3 204.0,260.5 207.2,260.1 212.4,260.1 217.0,260.5 217.7,260.7 218.9,261.8 219.8,263.0 219.4,264.2 217.7,264.8 213.4,265.5 212.4,265.6ZM113.4,264.3 113.3,264.2 109.8,263.0 113.4,262.3 116.6,263.0 113.4,264.2 113.4,264.3ZM269.8,266.5 267.3,265.5 269.8,264.4 272.0,265.5 269.8,266.5ZM332.4,266.2 330.9,265.5 332.4,264.8 333.7,265.5 332.4,266.2ZM134.2,269.4 133.7,269.2 131.5,268.0 134.2,266.8 134.2,266.7 134.2,266.8 137.3,268.0 134.7,269.2 134.2,269.4ZM379.3,270.5 374.1,271.3 371.4,270.5 374.1,269.9 379.3,270.5 379.3,270.5 379.3,270.5ZM207.2,274.4 206.6,274.2 202.3,273.0 205.5,271.8 207.2,271.4 208.8,271.8 211.2,273.0 207.7,274.2 207.2,274.4Z" fill="none" stroke="#000" stroke-width="0.85" stroke-linejoin="round"/>
<path d="M186.4,53.1 186.2,53.0 185.9,51.8 186.4,51.0 186.9,51.8 186.6,53.0 186.4,53.1ZM191.6,123.0 191.5,123.0 186.4,122.8 182.3,121.8 181.2,121.2 180.1,120.5 178.3,119.2 176.4,118.0 175.9,117.6 172.1,116.8 170.7,115.8 170.2,115.5 170.7,114.7 170.8,114.2 172.5,113.0 173.7,111.8 174.2,110.5 174.3,109.2 175.1,108.0 175.9,107.1 176.2,106.8 177.6,105.5 179.0,104.2 180.9,103.0 181.2,102.8 183.2,101.8 186.2,100.5 184.2,99.2 182.5,98.0 181.5,96.8 181.2,95.7 181.1,95.5 180.5,94.2 180.5,93.0 181.2,91.9 181.4,91.8 182.7,90.5 183.3,89.2 185.7,88.0 186.4,87.7 189.3,88.0 191.6,88.7 192.0,89.2 193.7,90.5 194.5,91.8 194.3,93.0 194.4,94.2 194.7,95.5 193.9,96.8 193.5,98.0 192.1,99.2 191.6,100.5 192.5,101.8 196.8,102.9 202.0,102.6 207.2,102.4 211.6,101.8 212.4,100.9 212.8,100.5 213.4,99.2 213.2,98.0 213.7,96.8 214.4,95.5 216.3,94.2 217.7,93.7 218.9,94.2 220.4,95.5 220.2,96.8 221.8,98.0 222.0,99.2 221.8,100.5 222.6,101.8 222.9,102.0 224.1,103.0 228.1,103.9 229.8,104.2 233.3,104.8 237.1,104.2 237.9,103.0 238.0,101.8 237.7,100.5 237.5,99.2 238.5,98.6 240.6,99.2 240.3,100.5 239.8,101.8 239.8,103.0 239.7,104.2 241.0,105.5 241.9,106.8 243.7,107.6 244.5,108.0 245.4,109.2 246.3,110.5 247.2,111.8 247.9,113.0 248.5,114.2 248.9,115.2 250.6,114.2 253.9,113.0 254.2,112.9 259.4,112.5 264.6,112.2 269.3,113.0 269.8,113.1 273.0,114.2 275.0,115.0 276.9,115.5 275.4,116.8 279.0,118.0 275.0,118.3 269.8,118.8 267.8,119.2 264.6,120.0 259.4,119.8 254.5,119.2 254.2,119.2 250.9,118.0 248.9,116.9 244.4,118.0 243.7,118.0 241.3,119.2 238.5,120.3 233.3,120.3 228.1,120.1 225.8,120.5 222.9,120.9 217.7,121.4 212.4,121.6 207.2,121.5 202.0,121.4 196.8,121.4 195.5,121.8 191.6,123.0 191.6,123.0ZM285.5,118.2 282.4,118.0 285.5,117.5 287.2,118.0 285.5,118.2ZM196.8,149.7 191.6,149.8 190.7,149.2 190.7,148.0 188.8,146.8 186.9,145.5 186.4,144.2 187.0,143.0 186.4,142.3 186.1,141.8 185.9,140.5 186.3,139.2 185.6,138.0 186.0,136.8 186.1,135.5 185.8,134.2 186.0,133.0 185.9,131.8 185.2,130.5 186.4,129.5 186.6,129.2 188.6,128.0 190.1,126.8 190.0,125.5 191.6,124.5 196.8,124.7 197.3,125.5 198.2,126.8 199.1,128.0 199.8,129.2 200.7,130.5 200.9,131.8 200.8,133.0 202.0,133.9 202.3,134.2 202.0,135.5 202.5,136.8 202.4,138.0 202.0,139.0 201.8,139.2 201.3,140.5 201.2,141.8 200.0,143.0 200.0,144.2 199.8,145.5 198.8,146.8 197.8,148.0 197.4,149.2 196.8,149.7ZM217.7,147.4 212.8,146.8 216.2,145.5 214.7,144.2 217.7,143.8 219.7,144.2 219.6,145.5 220.1,146.8 217.7,147.4ZM217.7,150.6 217.4,150.5 215.5,149.2 217.7,148.8 219.7,149.2 217.9,150.5 217.7,150.6ZM196.8,164.2 192.0,163.0 191.6,162.9 190.2,161.8 189.2,160.5 188.7,159.2 188.7,158.0 189.9,156.8 190.5,155.5 191.6,154.9 196.8,154.8 198.5,155.5 200.6,156.8 201.6,158.0 202.0,158.6 202.2,159.2 202.0,159.7 201.3,160.5 200.3,161.8 198.4,163.0 196.8,164.2ZM202.0,181.9 196.8,182.5 191.6,182.0 189.4,181.8 191.4,180.5 191.6,180.5 195.0,179.2 196.0,178.0 191.6,176.9 191.5,176.8 190.9,175.5 190.5,174.2 190.7,173.0 191.2,171.8 191.2,170.5 190.6,169.2 191.1,168.0 191.3,166.8 191.6,165.8 191.8,165.5 196.8,164.3 199.5,165.5 202.0,166.7 202.0,166.8 202.9,168.0 202.7,169.2 202.5,170.5 202.6,171.8 202.7,173.0 202.4,174.2 203.1,175.5 202.1,176.8 202.0,176.9 198.2,178.0 199.2,179.2 202.0,180.5 202.0,180.5 203.0,181.8 202.0,181.9ZM186.4,225.6 185.6,225.5 181.2,224.5 180.9,224.2 181.2,224.0 185.8,223.0 186.4,223.0 186.8,223.0 191.6,223.8 192.3,224.2 191.6,224.9 187.1,225.5 186.4,225.6Z" fill="none" stroke="#000" stroke-width="0.85" stroke-linejoin="round"/>
<path d="M186.4,97.0 186.1,96.8 185.4,95.5 186.2,94.2 186.4,94.1 186.9,94.2 191.1,95.5 187.3,96.8 186.4,97.0ZM186.4,121.9 185.7,121.8 183.4,120.5 181.2,119.7 180.4,119.2 178.8,118.0 177.3,116.8 175.9,115.6 175.6,115.5 175.2,114.2 175.7,113.0 175.7,111.8 175.9,111.1 176.2,110.5 176.2,109.2 177.3,108.0 178.1,106.8 179.6,105.5 181.2,104.3 181.2,104.2 184.8,103.0 186.4,102.0 191.6,102.6 192.9,103.0 196.8,103.7 202.0,103.6 207.2,103.4 211.3,103.0 212.4,102.8 217.3,101.8 217.6,100.5 217.5,99.2 217.6,98.0 217.7,97.9 217.7,98.0 217.9,99.2 217.8,100.5 217.9,101.8 218.7,103.0 222.9,104.0 224.2,104.2 228.1,105.1 231.3,105.5 233.3,105.7 238.5,106.2 239.1,106.8 241.7,108.0 243.4,109.2 243.7,109.5 244.6,110.5 245.7,111.8 246.0,113.0 246.2,114.2 245.0,115.5 244.8,116.8 243.7,117.0 241.0,118.0 238.6,119.2 238.5,119.3 233.3,119.6 230.5,119.2 228.1,118.9 226.3,119.2 222.9,119.9 217.7,120.4 216.6,120.5 212.4,120.8 208.3,120.5 207.2,120.4 202.8,120.5 202.0,120.5 201.6,120.5 196.8,120.2 195.4,120.5 191.6,121.7 190.5,121.8 186.4,121.9ZM196.8,135.3 191.6,134.7 191.2,134.2 189.9,133.0 189.7,131.8 191.0,130.5 190.2,129.2 191.6,128.5 196.8,129.1 196.9,129.2 197.5,130.5 197.8,131.8 197.1,133.0 198.1,134.2 196.8,135.3ZM196.8,145.8 191.6,146.0 191.0,145.5 191.3,144.2 190.2,143.0 190.8,141.8 191.1,140.5 191.5,139.2 191.0,138.0 190.6,136.8 191.6,135.9 196.8,135.7 198.6,136.8 196.8,137.9 195.1,138.0 196.8,138.1 198.1,139.2 197.6,140.5 197.9,141.8 196.8,142.6 195.4,143.0 194.5,144.2 196.8,144.7 197.0,145.5 196.8,145.8ZM196.8,157.3 195.5,156.8 196.8,156.5 197.3,156.8 196.8,157.3ZM191.6,158.7 191.3,158.0 191.6,157.7 193.7,158.0 191.6,158.7ZM196.8,161.9 196.1,161.8 196.8,161.1 197.1,161.8 196.8,161.9Z" fill="none" stroke="#000" stroke-width="0.85" stroke-linejoin="round"/>
<path d="M212.4,119.6 207.2,119.5 202.0,119.3 200.4,119.2 196.8,119.1 196.2,119.2 191.6,120.1 186.4,120.2 183.8,119.2 181.2,118.0 181.1,118.0 179.9,116.8 178.9,115.5 177.8,114.2 178.0,113.0 178.2,111.8 178.7,110.5 178.3,109.2 179.5,108.0 180.0,106.8 181.2,105.9 182.6,105.5 185.1,104.2 186.4,103.8 191.6,103.6 195.3,104.2 196.8,105.0 202.0,105.0 207.2,104.6 212.4,104.4 216.4,104.2 217.7,104.2 217.8,104.2 220.8,105.5 222.9,105.9 228.1,106.4 232.1,106.8 233.3,106.9 238.5,107.9 238.7,108.0 240.9,109.2 241.6,110.5 243.7,111.3 244.2,111.8 244.0,113.0 243.9,114.2 243.7,114.4 241.3,115.5 240.1,116.8 238.5,117.6 237.2,118.0 233.3,118.5 228.1,118.2 222.9,118.2 217.7,118.9 215.2,119.2 212.4,119.6Z" fill="none" stroke="#000" stroke-width="0.85" stroke-linejoin="round"/>
</g>
<clipPath id="cpb"><rect x="92.5" y="294.4" width="287.10" height="224.90"/></clipPath>
<g clip-path="url(#cpb)">
<path d="M160.3,298.3 159.6,298.1 155.1,297.9 150.9,296.9 149.9,296.3 148.1,295.6 149.9,295.0 150.9,294.4 155.1,293.4 159.5,293.1 160.3,293.0 161.6,293.1 165.5,293.3 170.7,294.1 172.2,294.4 173.8,295.6 171.7,296.9 170.7,297.1 165.5,298.0 161.3,298.1 160.3,298.3ZM228.1,298.2 228.0,298.1 222.9,297.8 218.7,296.9 217.7,296.3 216.0,295.6 217.7,295.0 218.7,294.4 222.9,293.5 227.8,293.1 228.1,293.1 233.3,293.1 233.4,293.1 238.5,293.5 243.1,294.4 243.7,294.7 248.3,295.6 243.7,296.7 243.3,296.9 238.5,297.8 233.3,298.1 232.9,298.1 228.1,298.2ZM379.3,298.9 374.1,298.8 370.1,298.1 368.9,298.0 364.4,296.9 364.4,295.6 363.7,294.9 362.0,294.4 363.7,293.7 364.2,293.1 368.9,292.4 373.2,293.1 374.1,293.3 378.2,294.4 379.3,294.7 382.7,295.6 383.1,296.9 382.2,298.1 379.3,298.9ZM264.6,297.5 259.4,297.7 254.2,297.5 251.2,296.9 250.1,295.6 254.2,294.4 254.6,294.4 259.4,294.1 263.9,294.4 264.6,294.5 269.8,295.3 270.9,295.6 269.8,296.3 268.4,296.9 264.6,297.5ZM316.7,304.9 311.5,305.4 306.3,305.1 303.6,304.4 301.1,303.7 298.1,303.1 295.9,302.2 290.7,301.9 285.5,302.8 280.2,303.0 276.3,301.9 275.0,301.4 272.3,300.6 275.0,300.0 276.7,299.4 280.2,298.5 285.5,298.4 289.8,298.1 285.5,297.4 284.2,296.9 283.0,295.6 285.5,294.5 287.1,294.4 290.7,294.2 292.5,294.4 295.9,295.0 297.3,295.6 301.1,296.4 305.7,296.9 306.3,296.9 311.5,297.7 315.1,298.1 316.4,299.4 316.7,299.7 320.7,300.6 320.4,301.9 319.9,303.1 318.5,304.4 316.7,304.9ZM134.2,298.5 129.0,299.0 123.8,298.9 120.7,298.1 118.6,297.3 116.4,296.9 118.6,296.5 120.7,295.6 123.8,294.9 129.0,294.9 134.2,295.5 135.1,295.6 138.0,296.9 135.5,298.1 134.2,298.5ZM374.1,319.6 373.5,319.4 371.7,318.1 370.1,316.9 369.5,315.6 369.2,314.4 369.0,313.1 369.2,311.9 369.3,310.6 369.7,309.4 368.9,309.3 364.3,308.1 363.7,308.1 358.5,307.7 355.3,306.9 353.2,306.3 348.0,306.5 346.7,306.9 342.8,307.9 338.8,306.9 337.6,306.6 334.2,305.6 337.6,304.8 338.9,304.4 342.8,303.4 346.8,304.4 348.0,304.8 349.1,304.4 348.9,303.1 348.0,302.1 346.5,301.9 342.8,301.5 337.6,301.1 332.4,300.9 329.1,300.6 327.2,300.5 322.0,300.1 319.0,299.4 318.2,298.1 319.4,296.9 322.0,296.3 324.5,295.6 327.2,295.3 332.4,295.0 337.6,294.6 342.8,294.8 348.0,295.0 353.2,295.4 355.1,295.6 358.5,296.4 360.4,296.9 363.7,297.5 366.3,298.1 368.4,299.4 367.9,300.6 363.8,301.9 363.7,301.9 358.5,302.4 357.7,303.1 358.5,303.3 363.7,303.6 366.9,304.4 368.9,305.0 373.2,305.6 374.1,306.4 375.1,306.9 376.8,308.1 377.9,309.4 378.9,310.6 378.9,311.9 379.3,312.6 379.7,313.1 379.3,313.7 378.8,314.4 378.6,315.6 377.5,316.9 376.0,318.1 374.7,319.4 374.1,319.6ZM108.1,297.1 102.9,297.9 97.7,297.9 93.2,296.9 97.7,296.0 102.9,295.8 108.1,296.7 108.9,296.9 108.1,297.1ZM165.5,307.6 160.7,306.9 160.3,306.8 155.4,305.6 155.1,305.3 150.6,304.4 149.9,304.1 148.5,303.1 149.0,301.9 149.9,301.7 155.1,300.7 155.5,300.6 160.3,300.5 163.7,300.6 165.5,300.7 170.7,301.8 170.9,301.9 171.1,303.1 171.7,304.4 170.7,304.7 170.0,305.6 168.8,306.9 165.5,307.6ZM134.2,312.7 129.0,312.6 125.8,311.9 124.3,310.6 123.8,309.9 119.5,309.4 118.6,309.3 113.4,308.7 110.4,308.1 108.1,307.8 105.1,306.9 102.9,305.7 102.8,305.6 101.9,304.4 102.9,303.5 103.7,303.1 108.1,302.2 113.4,302.0 118.6,302.4 123.8,302.6 126.5,303.1 129.0,303.6 132.5,304.4 134.2,305.1 135.7,305.6 137.6,306.9 136.7,308.1 138.9,309.4 138.7,310.6 137.9,311.9 134.2,312.7ZM196.8,308.8 191.6,308.9 186.4,309.0 182.0,308.1 181.2,308.0 177.8,306.9 177.3,305.6 177.2,304.4 181.2,303.3 182.2,303.1 186.4,302.4 191.6,302.7 196.1,303.1 196.8,303.2 201.2,304.4 202.0,304.8 207.2,304.5 211.1,305.6 207.2,306.7 202.0,306.7 201.7,306.9 199.1,308.1 196.8,308.8ZM264.6,311.5 259.4,310.9 258.1,310.6 254.2,309.5 253.6,309.4 249.8,308.1 248.9,307.9 245.1,306.9 245.0,305.6 248.9,304.6 253.7,304.4 254.2,304.3 259.4,303.8 263.9,303.1 264.6,303.1 269.8,303.0 271.8,303.1 275.0,303.5 280.2,304.0 281.8,304.4 284.9,305.6 285.5,305.7 290.7,306.0 293.5,306.9 293.1,308.1 290.7,308.8 285.5,308.8 281.2,308.1 280.2,307.9 278.3,308.1 275.0,308.5 269.8,309.0 268.4,309.4 268.3,310.6 264.6,311.5ZM337.6,325.7 332.4,326.7 327.2,326.3 322.0,326.3 316.7,325.7 315.8,325.6 311.5,324.9 309.5,324.4 306.3,324.2 303.7,323.1 301.1,323.0 296.1,321.9 295.9,321.9 290.7,320.6 290.7,320.6 285.7,319.4 285.5,319.3 280.2,318.9 277.0,318.1 276.4,316.9 275.0,316.3 272.5,315.6 275.0,314.8 280.2,314.7 284.7,315.6 285.5,315.8 290.7,316.1 295.9,316.0 301.1,315.7 306.3,316.1 308.2,316.9 309.2,318.1 307.0,319.4 306.3,319.6 305.8,320.6 306.3,320.9 311.5,321.0 313.8,320.6 316.7,320.3 322.0,320.1 324.1,319.4 327.2,318.9 328.5,318.1 332.4,317.2 337.1,318.1 337.6,318.6 339.5,318.1 340.4,316.9 340.1,315.6 337.6,315.5 332.4,315.4 328.2,315.6 327.2,315.7 322.0,315.7 320.8,315.6 316.7,315.3 311.5,315.1 306.6,314.4 306.3,314.4 301.1,313.6 299.5,313.1 298.4,311.9 300.6,310.6 301.1,310.5 306.3,309.5 307.1,309.4 311.5,308.8 316.7,308.5 322.0,308.2 327.2,308.4 332.4,308.6 337.6,308.9 341.0,309.4 342.8,309.6 347.1,310.6 348.0,311.2 349.7,311.9 351.5,313.1 348.0,314.3 347.9,314.4 346.3,315.6 348.0,315.9 353.2,315.9 358.5,316.6 359.8,316.9 360.3,318.1 358.5,319.1 357.4,319.4 358.5,319.5 361.8,320.6 363.5,321.9 361.6,323.1 358.5,323.9 353.2,324.1 348.7,323.1 348.0,322.8 345.7,323.1 344.9,324.4 342.8,325.0 337.6,325.6 337.6,325.7ZM228.1,318.7 222.9,319.3 218.7,318.1 218.0,316.9 217.7,316.5 212.4,315.7 212.0,315.6 207.2,314.8 206.2,314.4 204.0,313.1 206.2,311.9 207.2,311.6 211.0,310.6 212.4,310.4 217.7,309.7 222.9,309.9 228.1,310.0 233.3,310.3 235.0,310.6 238.4,311.9 238.5,312.0 240.3,313.1 239.3,314.4 238.5,314.6 233.3,315.5 233.3,315.6 232.4,316.9 230.5,318.1 228.1,318.7ZM92.5,316.4 88.8,315.6 87.3,315.2 84.4,314.4 87.3,313.6 88.9,313.1 92.5,312.4 96.1,313.1 97.7,313.6 100.7,314.4 97.7,315.2 96.2,315.6 92.5,316.4ZM186.4,316.5 182.0,315.6 181.2,315.5 177.5,314.4 181.2,313.3 181.9,313.1 186.4,312.3 191.0,313.1 191.6,313.3 195.6,314.4 191.6,315.5 190.9,315.6 186.4,316.5ZM165.5,314.9 160.3,315.5 155.1,314.7 154.2,314.4 155.1,314.1 160.3,313.3 165.5,313.8 167.2,314.4 165.5,314.9ZM123.8,320.8 118.6,321.5 113.4,320.8 112.6,320.6 108.9,319.4 112.7,318.1 113.4,318.0 118.6,317.3 123.8,318.1 123.9,318.1 128.5,319.4 124.6,320.6 123.8,320.8ZM228.1,348.7 222.9,348.3 221.2,348.1 218.8,346.9 218.8,345.6 222.7,344.4 222.9,344.4 224.3,343.1 227.3,341.9 223.5,340.6 222.9,340.6 217.7,340.4 212.8,339.4 212.4,339.3 207.2,338.9 202.0,339.2 201.7,339.4 196.8,340.4 196.0,340.6 191.6,341.6 186.4,341.6 183.8,341.9 181.2,342.8 180.6,343.1 176.3,344.4 175.9,344.5 175.6,344.4 170.7,343.9 167.6,343.1 167.1,341.9 167.5,340.6 170.7,339.8 175.5,339.4 175.9,339.3 179.7,338.1 181.2,337.8 186.4,337.1 188.5,336.9 191.6,335.7 191.7,335.6 191.6,335.0 191.2,334.4 191.0,333.1 189.1,331.9 186.4,331.8 182.3,330.6 181.2,330.3 177.7,330.6 181.2,331.0 185.5,331.9 181.2,332.7 176.5,333.1 175.9,333.3 170.7,333.8 165.5,333.9 160.3,334.0 155.1,333.9 149.9,333.8 145.0,333.1 144.6,333.1 139.4,332.6 136.5,331.9 139.4,331.4 144.6,330.8 145.4,330.6 149.9,330.0 155.1,329.9 160.3,329.9 165.5,329.7 170.7,329.6 175.6,329.4 170.7,328.5 170.0,328.1 168.5,326.9 167.7,325.6 167.9,324.4 168.6,323.1 170.7,322.0 171.0,321.9 175.9,320.7 181.2,320.7 185.7,321.9 186.4,322.3 186.6,321.9 187.8,320.6 191.4,319.4 191.6,319.4 196.8,318.3 197.6,318.1 202.0,317.5 207.2,317.3 212.4,317.3 216.3,318.1 217.7,318.3 222.4,319.4 222.9,319.6 225.3,320.6 225.6,321.9 224.1,323.1 222.9,323.5 220.1,324.4 217.7,325.5 217.5,325.6 217.7,325.8 222.9,325.9 223.7,325.6 228.1,324.5 229.9,324.4 233.3,323.5 238.5,323.3 243.7,323.9 245.7,324.4 246.9,325.6 245.4,326.9 243.7,327.3 238.5,327.8 238.1,328.1 236.1,329.4 233.3,330.0 230.7,330.6 228.1,331.4 224.0,330.6 222.9,330.4 220.1,330.6 220.4,331.9 220.1,333.1 218.3,334.4 217.7,335.0 217.6,335.6 217.7,335.7 221.9,336.9 222.3,338.1 222.9,339.0 228.1,338.1 228.1,338.1 228.6,336.9 228.9,335.6 229.5,334.4 233.3,333.4 234.5,333.1 238.5,332.4 242.6,333.1 243.7,333.7 247.2,334.4 248.2,335.6 248.9,336.4 251.3,336.9 253.4,338.1 254.2,338.6 259.4,338.4 263.0,339.4 264.6,339.8 267.6,340.6 264.6,341.5 263.2,341.9 259.4,342.8 254.2,342.8 251.9,343.1 248.9,343.7 248.0,344.4 243.7,345.3 242.8,345.6 238.5,346.9 238.3,346.9 233.3,348.0 231.6,348.1 228.1,348.7ZM264.6,321.3 259.4,321.4 256.4,320.6 254.6,319.4 256.5,318.1 259.4,317.5 264.6,317.4 267.6,318.1 269.6,319.4 267.3,320.6 264.6,321.3ZM160.3,325.9 155.1,326.6 149.9,326.1 146.7,325.6 144.6,325.1 141.7,324.4 139.7,323.1 141.5,321.9 144.6,321.0 148.1,320.6 149.9,320.5 151.4,320.6 155.1,321.2 157.0,321.9 160.3,322.7 162.5,323.1 164.8,324.4 162.5,325.6 160.3,325.9ZM348.4,320.6 348.0,320.4 342.8,320.5 342.1,320.6 342.8,320.8 348.0,320.9 348.4,320.6ZM92.5,326.5 88.6,325.6 87.3,325.3 84.1,324.4 87.3,323.5 88.6,323.1 92.5,322.3 96.4,323.1 97.7,323.5 100.9,324.4 97.7,325.3 96.4,325.6 92.5,326.5ZM123.8,326.4 118.6,325.6 118.6,325.6 113.4,324.9 111.8,324.4 113.4,323.9 118.6,323.2 118.8,323.1 123.8,322.3 127.7,323.1 129.0,323.5 132.5,324.4 129.0,325.3 127.7,325.6 123.8,326.4ZM192.0,325.6 192.8,324.4 191.6,324.0 189.7,324.4 190.2,325.6 191.6,326.2 192.0,325.6ZM316.7,331.9 311.5,332.1 306.8,331.9 306.3,331.9 301.1,331.1 299.2,330.6 295.9,330.0 290.7,330.4 286.0,329.4 285.5,329.3 281.5,328.1 280.9,326.9 281.6,325.6 285.5,324.6 286.3,324.4 290.7,323.5 295.9,323.9 301.1,324.3 303.1,324.4 306.3,324.7 310.4,325.6 309.9,326.9 311.5,327.3 316.7,327.7 319.1,328.1 322.0,328.9 323.9,329.4 325.8,330.6 322.0,331.2 317.0,331.9 316.7,331.9ZM269.8,335.5 264.6,335.3 259.4,335.2 254.2,334.5 253.8,334.4 248.9,334.2 244.9,333.1 243.7,332.9 240.4,331.9 243.7,330.9 245.0,330.6 248.9,329.8 254.2,330.4 259.4,329.8 259.7,329.4 259.4,329.2 256.0,328.1 255.4,326.9 254.2,326.4 249.8,325.6 254.2,324.8 259.4,325.0 262.2,325.6 264.6,326.2 267.8,326.9 269.8,327.9 271.1,328.1 274.7,329.4 275.0,329.6 278.9,330.6 279.4,331.9 278.6,333.1 275.0,334.3 274.9,334.4 269.8,335.5ZM374.1,335.0 368.9,334.8 367.1,334.4 363.9,333.1 363.7,333.1 361.0,331.9 360.8,330.6 358.5,330.2 353.4,330.6 353.2,330.7 352.2,330.6 348.0,330.6 343.4,329.4 342.8,329.0 340.2,328.1 342.8,327.3 343.5,326.9 348.0,325.8 352.0,325.6 353.2,325.5 353.8,325.6 358.5,326.1 361.5,326.9 362.5,328.1 363.7,328.9 365.4,328.1 368.9,327.3 372.9,326.9 374.1,326.7 375.0,326.9 379.3,327.5 382.1,328.1 383.3,329.4 382.8,330.6 382.5,331.9 381.4,333.1 379.3,333.7 376.7,334.4 374.1,335.0ZM332.4,341.2 327.2,341.5 322.0,341.2 319.6,340.6 316.7,340.3 311.5,339.8 309.7,339.4 306.3,339.0 302.1,338.1 301.1,337.9 297.7,338.1 295.9,338.9 292.3,339.4 290.7,339.5 289.6,339.4 285.5,338.7 284.0,338.1 282.9,336.9 283.8,335.6 285.5,334.5 285.7,334.4 290.7,333.6 295.9,334.1 296.7,334.4 301.1,334.7 306.3,335.2 308.3,335.6 311.5,336.1 316.7,336.6 320.3,336.9 322.0,337.0 322.2,336.9 322.3,335.6 322.3,334.4 323.3,333.1 324.9,331.9 327.2,331.0 332.4,330.7 332.4,330.6 337.6,329.8 342.8,329.7 347.6,330.6 348.0,330.8 350.0,331.9 350.5,333.1 348.0,334.3 347.9,334.4 347.0,335.6 344.1,336.9 342.8,337.5 341.4,338.1 337.6,339.1 333.7,339.4 335.0,340.6 332.4,341.2ZM123.8,336.5 118.6,336.4 113.4,336.0 108.1,335.9 103.0,335.6 102.9,335.6 97.7,334.7 96.0,334.4 94.8,333.1 97.7,332.4 102.9,332.0 103.6,331.9 108.1,331.5 113.4,331.4 118.6,331.6 123.8,331.8 124.7,331.9 129.0,332.7 131.2,333.1 133.0,334.4 129.0,335.3 128.1,335.6 123.8,336.5ZM118.6,340.7 113.4,341.5 108.1,341.8 102.9,341.7 97.8,340.6 97.7,340.6 94.7,339.4 97.7,338.6 99.2,338.1 102.9,337.2 106.6,338.1 108.1,338.6 112.6,339.4 113.4,339.9 118.6,340.6 118.8,340.6 118.6,340.7ZM363.7,341.8 359.2,340.6 358.5,340.4 354.9,339.4 358.5,338.6 359.7,338.1 363.7,337.3 368.1,338.1 368.9,338.4 372.7,339.4 368.9,340.5 368.2,340.6 363.7,341.8ZM207.2,357.0 202.0,357.2 199.4,356.9 196.8,356.4 195.5,355.6 192.6,354.4 192.2,353.1 191.6,352.6 190.9,351.9 190.7,350.6 188.5,349.4 186.4,349.3 186.0,349.4 181.2,350.2 175.9,350.2 170.7,349.7 168.9,350.6 168.7,351.9 165.5,353.0 165.0,353.1 160.3,354.0 156.8,353.1 155.1,352.6 151.9,351.9 151.5,350.6 151.8,349.4 154.2,348.1 155.1,347.9 160.3,347.4 164.1,348.1 165.5,348.8 166.4,348.1 169.6,346.9 170.7,346.6 175.9,346.1 181.2,346.1 185.9,346.9 186.4,347.0 191.6,347.1 192.0,346.9 194.2,345.6 194.7,344.4 196.8,343.7 200.4,343.1 202.0,342.4 205.5,343.1 207.2,343.2 211.5,344.4 212.4,345.1 213.3,345.6 216.2,346.9 216.9,348.1 217.1,349.4 217.1,350.6 216.6,351.9 214.5,353.1 213.4,354.4 212.4,354.8 210.2,355.6 207.4,356.9 207.2,357.0ZM290.7,384.7 285.5,384.8 280.4,384.4 280.2,384.4 279.0,383.1 280.2,382.3 280.5,381.9 280.7,380.6 280.9,379.4 283.3,378.1 285.5,377.6 290.7,377.1 295.9,377.7 298.0,376.9 301.1,376.1 306.3,375.7 306.4,375.6 306.3,375.6 301.1,375.2 295.9,375.0 290.7,374.5 290.1,374.4 285.5,373.2 285.3,373.1 284.2,371.9 285.5,371.0 286.0,370.6 290.7,369.5 292.9,369.4 295.9,369.2 301.1,368.9 306.3,368.6 311.5,368.4 313.3,368.1 311.5,367.7 310.0,366.9 308.9,365.6 306.3,364.6 306.0,364.4 301.1,363.7 297.3,363.1 295.9,362.5 295.1,361.9 295.9,361.2 296.9,360.6 298.1,359.4 295.9,359.1 290.7,358.7 288.1,358.1 285.5,357.9 282.0,356.9 280.2,356.3 277.7,355.6 275.5,354.4 275.0,353.4 274.8,353.1 273.4,351.9 273.2,350.6 272.7,349.4 271.7,348.1 273.5,346.9 274.1,345.6 275.0,344.9 276.4,344.4 278.7,343.1 280.2,342.9 285.5,343.0 290.7,342.2 295.6,343.1 295.9,343.2 300.3,344.4 298.3,345.6 295.9,346.5 292.8,346.9 290.7,347.1 289.0,348.1 285.5,349.4 285.4,349.4 285.1,350.6 285.5,350.7 287.6,350.6 290.7,350.5 295.9,350.6 301.1,350.5 304.7,349.4 305.1,348.1 306.3,347.5 308.3,346.9 311.5,346.6 316.7,346.3 322.0,346.7 323.4,346.9 327.2,348.1 327.4,348.1 327.4,349.4 327.2,349.4 322.0,350.5 316.8,350.6 316.7,350.7 311.5,351.9 311.5,351.9 311.5,351.9 314.1,353.1 315.5,354.4 315.7,355.6 314.4,356.9 312.2,358.1 311.5,358.7 306.3,359.1 305.1,359.4 306.3,359.5 311.5,359.5 316.7,360.0 322.0,360.6 324.7,359.4 327.2,358.4 328.2,358.1 332.4,357.7 337.6,357.8 339.5,358.1 342.8,358.4 348.0,358.8 350.2,359.4 353.2,359.8 358.5,360.3 358.7,359.4 358.5,359.0 356.8,358.1 353.2,357.1 352.0,356.9 348.0,356.0 347.2,355.6 344.5,354.4 342.8,354.2 339.0,353.1 337.7,351.9 338.0,350.6 338.7,349.4 340.2,348.1 337.6,347.4 335.2,346.9 332.4,346.4 330.8,345.6 330.9,344.4 332.4,343.7 335.9,343.1 337.6,342.9 342.8,342.8 348.0,343.1 353.2,342.0 358.5,342.3 363.7,342.8 367.1,343.1 368.9,343.5 371.8,344.4 374.1,344.9 375.7,345.6 378.0,346.9 379.3,347.7 380.0,348.1 380.0,349.4 380.4,350.6 379.8,351.9 379.3,352.5 378.6,353.1 375.8,354.4 374.4,355.6 374.1,356.0 374.0,356.9 374.1,357.1 375.9,358.1 377.1,359.4 376.4,360.6 375.2,361.9 374.1,362.5 372.6,363.1 368.9,364.4 368.9,364.4 368.9,364.4 374.1,364.5 378.5,365.6 379.3,365.9 383.1,366.9 379.3,367.8 378.2,368.1 374.1,369.3 369.4,368.1 368.9,368.0 368.0,368.1 368.9,368.2 373.8,369.4 374.1,369.5 378.2,370.6 379.0,371.9 379.3,372.2 382.2,373.1 383.1,374.4 382.0,375.6 379.3,376.6 376.7,376.9 374.1,378.1 370.9,378.1 368.9,378.2 363.7,379.1 360.0,378.1 358.5,377.6 355.9,376.9 358.5,376.1 359.5,375.6 361.1,374.4 361.3,373.1 359.2,371.9 359.2,370.6 358.8,369.4 358.5,368.6 353.2,368.6 348.0,368.8 342.8,368.8 342.2,369.4 341.3,370.6 337.6,371.7 336.5,371.9 332.4,372.8 327.7,371.9 327.2,371.6 324.4,371.9 323.0,373.1 322.0,373.5 318.2,374.4 316.7,374.6 313.4,375.6 316.7,375.8 321.7,376.9 322.0,377.0 324.5,378.1 322.0,379.2 321.6,379.4 316.7,380.4 312.9,380.6 311.5,380.9 309.4,380.6 306.3,380.5 302.5,380.6 301.9,381.9 301.1,382.5 299.4,383.1 295.9,384.3 295.0,384.4 290.7,384.7ZM123.8,347.0 118.6,347.7 113.4,347.7 108.1,347.0 107.8,346.9 106.7,345.6 108.1,345.1 111.6,344.4 113.4,344.2 118.6,344.2 120.2,344.4 123.8,345.1 125.4,345.6 124.1,346.9 123.8,347.0ZM155.1,346.0 149.9,346.3 144.6,346.2 141.3,345.6 139.8,344.4 144.6,343.4 149.9,343.3 155.1,343.8 157.8,344.4 156.9,345.6 155.1,346.0ZM248.9,351.4 243.7,351.3 240.8,350.6 238.5,350.1 235.9,349.4 238.5,348.7 240.8,348.1 243.7,347.4 248.9,347.3 253.0,348.1 254.2,348.4 257.3,349.4 254.2,350.4 253.1,350.6 248.9,351.4ZM108.1,349.7 102.9,350.4 97.7,350.3 93.0,349.4 97.7,348.5 102.9,348.4 108.1,349.0 109.3,349.4 108.1,349.7ZM144.6,355.9 139.4,356.2 136.4,355.6 134.2,355.1 132.9,354.4 133.8,353.1 134.2,353.0 138.1,351.9 139.4,351.7 141.6,351.9 144.6,352.2 147.6,353.1 147.9,354.4 145.8,355.6 144.6,355.9ZM191.6,361.5 186.4,361.7 181.2,361.5 175.9,361.2 174.2,360.6 171.6,359.4 170.7,358.1 171.2,356.9 173.5,355.6 175.9,354.8 181.2,354.5 186.4,354.6 191.0,355.6 191.6,355.9 196.5,356.9 196.3,358.1 196.8,358.3 200.9,359.4 196.8,360.3 195.4,360.6 191.6,361.5ZM243.7,359.5 238.5,360.0 233.3,360.3 228.1,360.3 222.9,360.1 217.7,359.9 214.3,359.4 217.2,358.1 217.7,358.1 222.9,357.8 228.1,357.5 233.3,357.6 238.5,357.8 243.2,358.1 243.7,358.7 244.5,359.4 243.7,359.5ZM139.4,369.7 134.2,369.8 132.1,369.4 129.0,369.0 125.0,368.1 123.8,367.1 122.9,366.9 119.9,365.6 121.1,364.4 123.8,363.2 124.0,363.1 129.0,362.1 130.3,361.9 134.2,361.5 139.4,361.3 144.6,361.4 149.0,361.9 149.9,362.0 155.1,362.7 158.6,363.1 160.3,363.3 165.5,363.3 170.7,363.8 173.0,364.4 170.7,365.0 165.5,365.6 160.3,365.6 160.3,365.6 155.7,366.9 155.1,367.0 150.3,368.1 149.9,368.2 144.6,369.0 141.6,369.4 139.4,369.7ZM328.5,363.1 328.2,361.9 327.2,360.9 324.8,361.9 326.7,363.1 327.2,363.2 328.5,363.1ZM97.7,364.1 92.5,363.5 91.7,363.1 92.5,362.8 97.7,362.2 100.1,363.1 97.7,364.1ZM228.1,364.7 222.9,365.2 217.7,365.3 212.4,364.9 210.3,364.4 211.9,363.1 212.4,363.0 217.7,362.7 222.9,362.6 227.4,363.1 228.1,363.5 229.7,364.4 228.1,364.7ZM280.2,370.9 275.0,371.6 269.8,371.6 264.6,371.5 259.4,371.5 254.2,371.4 248.9,370.9 247.6,370.6 243.8,369.4 248.0,368.1 248.9,368.0 254.2,367.4 259.4,367.3 264.6,367.3 269.8,367.2 273.4,366.9 272.9,365.6 271.3,364.4 275.0,363.3 275.7,363.1 280.2,362.3 284.2,363.1 285.5,363.5 289.0,364.4 285.5,365.6 285.2,365.6 284.4,366.9 282.2,368.1 284.9,369.4 283.7,370.6 280.2,370.9ZM196.8,369.8 195.6,369.4 191.6,368.2 191.3,368.1 188.4,366.9 190.7,365.6 191.6,365.4 195.6,364.4 196.8,364.1 198.1,364.4 202.0,365.1 204.5,365.6 205.6,366.9 204.2,368.1 202.0,368.7 197.8,369.4 196.8,369.8ZM113.4,371.6 109.7,370.6 108.1,370.2 105.1,369.4 108.1,368.6 109.6,368.1 113.4,367.2 117.4,368.1 118.6,368.5 122.2,369.4 118.6,370.2 117.1,370.6 113.4,371.6ZM175.9,371.6 172.4,370.6 170.7,370.2 167.6,369.4 170.7,368.6 172.3,368.1 175.9,367.4 179.5,368.1 181.2,368.6 184.1,369.4 181.2,370.2 179.4,370.6 175.9,371.6ZM322.4,369.4 322.0,368.4 319.3,369.4 322.0,370.1 322.4,369.4ZM191.6,437.6 186.4,437.7 182.8,436.9 181.2,436.4 178.7,435.6 177.2,434.4 177.7,433.1 177.7,431.9 175.9,431.0 175.4,430.6 175.9,429.9 176.2,429.4 176.3,428.1 175.9,428.1 174.9,428.1 170.7,428.6 169.0,428.1 165.5,428.0 160.3,427.3 158.7,426.9 156.5,425.6 157.6,424.4 160.3,424.0 165.5,423.3 169.3,423.1 170.7,423.0 173.6,423.1 175.9,423.2 176.4,423.1 176.6,421.9 177.0,420.6 177.9,419.4 179.2,418.1 181.2,417.3 181.9,416.9 184.8,415.6 181.2,414.9 179.0,414.4 175.9,413.3 174.0,413.1 171.0,411.9 170.7,411.6 170.5,411.9 168.2,413.1 165.5,413.7 161.5,414.4 160.3,414.6 155.1,414.9 149.9,415.1 144.6,415.0 139.4,415.3 134.2,415.2 129.0,415.2 126.9,415.6 128.0,416.9 129.0,417.2 133.4,418.1 134.2,418.4 139.3,419.4 139.4,419.5 144.6,420.1 147.1,420.6 149.8,421.9 149.9,421.9 151.7,423.1 150.6,424.4 149.9,424.6 146.0,425.6 144.6,425.9 139.4,426.3 134.2,426.5 134.0,426.9 132.6,428.1 129.0,429.3 123.8,429.1 120.1,428.1 118.9,426.9 118.6,425.8 117.9,425.6 113.4,424.9 108.1,425.5 107.7,425.6 102.9,426.5 98.3,425.6 97.7,425.5 92.5,424.4 97.7,423.4 98.5,423.1 102.9,422.2 108.0,423.1 108.1,423.2 110.1,423.1 112.7,421.9 113.4,421.7 116.6,420.6 114.5,419.4 113.4,418.9 108.1,419.3 108.0,419.4 102.9,420.3 97.7,420.1 93.4,419.4 93.5,418.1 97.7,417.3 102.9,417.3 108.1,417.9 109.1,416.9 108.2,415.6 113.4,414.6 114.4,414.4 113.4,413.5 111.1,413.1 111.0,411.9 111.2,410.6 113.4,410.0 117.6,409.4 118.6,409.3 123.8,408.7 127.6,408.1 129.0,408.0 134.2,407.9 138.8,408.1 139.4,408.2 139.9,408.1 144.6,407.8 149.9,407.6 154.2,408.1 155.1,408.2 160.3,408.8 165.5,409.4 165.7,409.4 170.7,410.5 175.9,410.4 180.8,409.4 181.2,409.3 182.0,408.1 181.2,407.9 176.9,406.9 175.9,406.5 170.7,405.7 169.3,406.9 165.5,407.9 160.3,407.7 157.8,406.9 156.3,405.6 158.1,404.4 160.3,403.6 165.5,403.4 169.3,404.4 170.7,405.5 173.7,404.4 175.9,403.2 176.1,403.1 181.2,402.1 181.6,401.9 182.1,400.6 181.8,399.4 181.4,398.1 181.2,398.0 175.9,397.8 174.9,398.1 175.5,399.4 172.1,400.6 170.7,400.9 165.8,401.9 165.5,401.9 160.3,402.3 155.1,402.4 149.9,402.2 144.6,402.1 143.5,401.9 139.4,401.3 136.8,400.6 134.6,399.4 134.2,398.6 134.0,398.1 134.2,398.1 137.7,396.9 139.4,396.5 143.8,395.6 144.6,395.5 145.4,394.4 147.9,393.1 148.4,391.9 144.6,391.8 144.2,391.9 139.4,392.8 134.2,392.6 129.0,393.1 128.9,393.1 123.8,393.9 119.7,393.1 118.6,392.9 115.2,391.9 118.6,390.9 119.4,390.6 123.8,389.8 126.0,389.4 127.6,388.1 129.0,387.8 130.9,386.9 134.2,386.1 139.4,385.9 144.6,386.2 147.8,385.6 149.9,385.4 155.1,385.1 160.3,385.1 165.5,385.2 170.7,385.5 172.8,384.4 175.9,383.4 176.6,383.1 181.2,382.1 183.8,381.9 185.5,380.6 181.2,379.4 181.2,379.4 177.1,378.1 175.9,377.8 172.1,376.9 170.7,375.7 165.5,375.7 164.9,375.6 160.3,375.1 158.0,374.4 155.9,373.1 155.1,372.9 151.8,371.9 155.1,370.9 156.0,370.6 160.3,369.7 165.5,370.5 166.2,370.6 170.2,371.9 170.7,372.3 175.9,373.1 181.2,372.3 182.4,371.9 186.4,371.0 190.7,371.9 191.6,372.2 196.8,372.1 202.0,372.5 207.2,372.2 212.4,372.4 215.9,373.1 217.7,373.4 221.7,374.4 222.9,374.8 226.3,375.6 226.9,376.9 227.2,378.1 222.9,379.3 222.1,379.4 218.6,380.6 217.7,380.9 213.3,380.6 212.4,380.6 207.2,380.2 206.4,380.6 205.7,381.9 206.2,383.1 207.0,384.4 206.9,385.6 206.4,386.9 206.6,388.1 206.7,389.4 206.8,390.6 206.8,391.9 206.9,393.1 207.1,394.4 207.1,395.6 207.0,396.9 207.0,398.1 207.0,399.4 207.1,400.6 207.2,401.9 207.4,400.6 210.3,399.4 212.4,399.2 217.7,399.3 222.9,399.0 228.1,399.4 228.4,399.4 233.3,399.8 237.5,400.6 238.5,401.0 241.7,401.9 243.7,402.1 247.0,403.1 243.7,404.0 238.5,404.3 237.3,404.4 236.5,405.6 233.3,406.7 228.1,406.7 222.9,406.4 219.0,405.6 217.7,405.3 212.9,404.4 212.4,404.1 208.5,403.1 207.2,401.9 207.1,403.1 206.9,404.4 206.7,405.6 206.6,406.9 206.6,408.1 206.9,409.4 207.2,410.6 207.1,411.9 206.5,413.1 205.9,414.4 207.1,415.6 207.2,415.7 209.9,416.9 211.8,418.1 212.4,418.6 213.9,419.4 215.2,420.6 216.3,421.9 216.5,423.1 215.9,424.4 214.9,425.6 214.0,426.9 213.9,428.1 213.7,429.4 212.4,430.5 212.3,430.6 212.4,430.7 217.7,431.1 221.1,431.9 217.7,432.9 216.0,433.1 212.4,433.4 207.2,433.4 202.0,433.8 200.6,434.4 198.4,435.6 196.8,436.2 194.9,436.9 191.6,437.6ZM118.6,375.8 113.4,375.8 108.1,376.0 102.9,376.5 97.8,375.6 97.7,375.6 92.9,374.4 97.7,373.2 97.9,373.1 102.9,372.3 108.1,372.9 113.4,372.8 118.6,373.1 119.2,373.1 123.8,373.7 126.6,374.4 123.8,375.0 120.0,375.6 118.6,375.8ZM248.9,376.5 243.7,376.5 238.5,376.5 234.4,375.6 233.3,375.2 230.5,374.4 233.3,373.6 234.5,373.1 238.5,372.3 243.7,372.2 248.9,372.3 253.5,373.1 254.2,373.3 257.2,374.4 254.2,375.5 253.6,375.6 248.9,376.5ZM139.4,378.4 134.2,379.2 130.6,378.1 129.0,377.6 126.0,376.9 129.0,376.0 130.0,375.6 131.3,374.4 134.2,373.6 139.4,373.3 141.4,374.4 141.8,375.6 142.7,376.9 140.1,378.1 139.4,378.4ZM181.6,374.4 181.2,374.2 178.8,374.4 181.2,375.1 181.6,374.4ZM165.5,384.2 161.1,383.1 160.3,383.0 156.8,381.9 156.6,380.6 156.9,379.4 160.3,378.4 161.5,378.1 165.5,377.3 168.5,378.1 170.5,379.4 170.7,379.7 172.5,380.6 170.7,381.6 170.4,381.9 169.0,383.1 165.5,384.2ZM269.8,381.5 265.0,380.6 264.6,380.5 261.2,379.4 264.6,378.3 265.1,378.1 269.8,377.3 273.8,378.1 275.0,378.6 279.2,379.4 275.0,380.2 273.8,380.6 269.8,381.5ZM374.1,383.9 370.8,383.1 368.9,382.6 366.2,381.9 368.9,381.1 370.4,380.6 374.1,379.7 377.5,380.6 379.3,381.2 382.0,381.9 379.3,382.6 377.4,383.1 374.1,383.9ZM97.7,382.8 92.5,382.2 91.7,381.9 92.5,381.6 97.7,381.0 101.3,381.9 97.7,382.8ZM139.4,382.3 134.2,382.9 129.0,382.9 123.8,382.6 120.6,381.9 123.8,381.2 129.0,380.9 134.2,380.9 139.4,381.5 141.7,381.9 139.4,382.3ZM222.9,386.4 217.7,386.5 212.4,386.3 208.8,385.6 208.1,384.4 212.3,383.1 212.4,383.1 217.7,382.8 221.7,383.1 222.9,383.3 228.1,384.3 228.3,384.4 228.1,384.9 227.7,385.6 222.9,386.4ZM311.5,386.5 307.8,385.6 306.3,385.2 302.2,384.4 306.3,383.5 307.7,383.1 311.5,382.3 315.2,383.1 316.7,383.6 320.1,384.4 316.7,385.2 315.2,385.6 311.5,386.5ZM269.8,385.2 264.6,384.8 263.3,384.4 264.6,384.0 269.8,383.7 272.7,384.4 269.8,385.2ZM363.7,407.2 362.8,406.9 358.5,406.7 354.4,405.6 353.7,404.4 353.9,403.1 355.4,401.9 353.7,400.6 353.4,399.4 353.2,399.0 350.8,398.1 348.0,398.0 346.6,398.1 342.8,398.7 340.2,398.1 337.6,397.7 334.2,396.9 332.4,396.3 330.0,395.6 327.7,394.4 327.3,393.1 327.2,392.6 326.8,391.9 327.2,391.0 327.2,390.6 327.2,389.4 328.1,388.1 332.4,386.9 332.6,386.9 337.6,385.8 340.6,385.6 342.8,385.3 346.0,385.6 348.0,385.8 353.2,386.6 354.0,386.9 357.9,388.1 358.5,388.7 359.4,389.4 361.0,390.6 360.1,391.9 363.7,392.0 368.9,392.2 372.5,393.1 374.1,393.9 375.9,394.4 374.1,395.1 373.3,395.6 373.9,396.9 374.1,397.0 376.4,398.1 377.4,399.4 377.6,400.6 376.7,401.9 374.9,403.1 374.1,403.5 373.8,404.4 373.1,405.6 368.9,406.7 364.7,406.9 363.7,407.2ZM102.9,391.5 99.0,390.6 97.7,390.3 94.6,389.4 97.7,388.5 99.0,388.1 102.9,387.3 106.9,388.1 108.1,388.5 111.4,389.4 108.1,390.3 106.8,390.6 102.9,391.5ZM322.0,403.7 316.7,404.0 311.5,404.2 306.8,403.1 306.3,402.6 301.1,402.7 298.7,403.1 295.9,403.6 293.2,403.1 290.7,402.7 288.2,401.9 286.5,400.6 285.5,399.8 284.8,399.4 280.2,398.4 275.0,398.5 274.5,399.4 274.4,400.6 269.8,401.6 265.8,400.6 264.6,400.4 260.0,399.4 259.4,399.2 254.9,398.1 254.2,396.9 254.2,396.8 250.6,395.6 253.7,394.4 253.5,393.1 254.2,392.5 254.8,391.9 259.2,390.6 259.4,390.6 263.4,389.4 264.6,389.2 269.8,388.5 275.0,388.4 280.2,388.7 283.8,389.4 285.5,389.8 290.1,390.6 290.7,390.7 293.8,390.6 291.7,389.4 295.9,388.4 296.9,388.1 301.1,387.3 304.9,388.1 306.3,388.5 309.9,389.4 306.3,390.5 305.5,390.6 304.1,391.9 306.3,392.9 306.7,393.1 307.7,394.4 308.4,395.6 307.9,396.9 309.1,398.1 311.5,399.2 316.7,399.0 322.0,399.2 323.2,399.4 327.2,400.3 328.0,400.6 327.2,401.9 327.2,401.9 325.0,403.1 322.0,403.7ZM171.7,395.6 172.3,394.4 175.1,393.1 175.9,392.8 181.2,392.0 181.5,391.9 181.3,390.6 181.2,389.4 181.2,389.3 180.9,389.4 179.4,390.6 175.9,391.1 170.7,391.8 170.2,391.9 165.5,392.3 160.3,392.1 159.3,393.1 160.2,394.4 160.3,394.5 165.0,395.6 165.5,395.8 170.7,396.6 171.7,395.6ZM233.3,395.7 228.1,396.7 222.9,396.8 217.7,396.7 212.4,395.7 211.7,395.6 207.7,394.4 212.4,393.2 212.6,393.1 217.7,392.1 222.9,392.1 228.1,392.2 232.6,393.1 233.3,393.4 236.3,394.4 233.4,395.6 233.3,395.7ZM118.6,399.9 113.4,400.2 108.1,400.1 102.9,399.6 101.6,399.4 101.9,398.1 102.9,398.0 108.1,397.5 113.4,397.3 118.6,397.6 123.2,398.1 122.9,399.4 118.6,399.9ZM134.2,406.7 130.1,405.6 129.0,405.3 125.9,404.4 129.0,403.5 130.1,403.1 134.2,402.1 138.6,403.1 139.4,403.4 143.0,404.4 139.4,405.3 138.4,405.6 134.2,406.7ZM275.0,403.8 269.8,403.6 268.3,403.1 269.8,402.6 275.0,402.5 277.2,403.1 275.0,403.8ZM342.8,419.0 339.0,418.1 337.6,417.6 334.1,416.9 333.8,415.6 332.4,415.4 329.5,414.4 327.5,413.1 327.2,412.9 326.0,411.9 324.6,410.6 323.4,409.4 326.1,408.1 327.2,407.9 332.4,407.1 335.2,406.9 332.4,406.3 331.0,405.6 327.9,404.4 329.1,403.1 332.4,402.8 337.6,402.2 342.8,402.4 346.1,403.1 348.0,403.6 352.5,404.4 348.0,405.2 346.2,405.6 342.8,406.6 340.0,406.9 342.8,407.1 347.7,408.1 348.0,408.4 351.2,409.4 351.5,410.6 351.4,411.9 350.8,413.1 348.9,414.4 348.0,414.7 347.5,415.6 348.0,415.9 350.8,416.9 348.0,417.6 346.5,418.1 342.8,419.0ZM97.7,405.1 92.5,404.8 91.2,404.4 92.5,404.0 97.7,403.7 99.7,404.4 97.7,405.1ZM248.9,409.0 244.5,408.1 243.7,408.0 240.2,406.9 243.7,405.9 244.7,405.6 248.9,404.8 253.4,405.6 254.2,405.8 257.7,406.9 254.2,408.0 253.4,408.1 248.9,409.0ZM269.8,411.6 266.0,410.6 264.6,410.2 261.6,409.4 264.6,408.6 266.1,408.1 269.8,407.4 274.8,408.1 275.0,408.2 280.2,408.7 284.9,409.4 280.2,410.3 275.0,410.6 274.8,410.6 269.8,411.6ZM280.2,421.0 277.1,420.6 275.0,420.4 271.9,419.4 269.8,419.2 266.2,418.1 265.3,416.9 266.2,415.6 269.8,414.6 271.2,414.4 273.4,413.1 275.0,412.6 280.2,412.1 280.4,411.9 283.3,410.6 285.5,409.7 287.3,409.4 290.7,408.9 295.9,408.2 296.0,408.1 301.1,407.0 306.3,407.4 309.6,408.1 311.5,409.2 312.3,409.4 314.7,410.6 315.5,411.9 315.3,413.1 313.1,414.4 311.5,414.9 306.3,415.5 305.1,415.6 301.1,416.1 295.9,415.8 295.2,416.9 290.9,418.1 290.7,418.2 286.2,419.4 285.5,419.8 282.0,420.6 280.2,421.0ZM217.7,413.4 213.4,413.1 212.4,413.1 207.7,411.9 207.3,410.6 209.1,409.4 212.4,408.7 217.7,408.2 222.9,409.1 224.1,409.4 227.3,410.6 225.9,411.9 222.9,413.1 222.5,413.1 217.7,413.4ZM374.1,415.2 368.9,415.5 363.7,414.8 362.6,414.4 360.9,413.1 360.9,411.9 361.3,410.6 363.3,409.4 363.7,409.2 368.9,408.5 374.1,408.7 376.5,409.4 378.2,410.6 378.7,411.9 378.5,413.1 376.7,414.4 374.1,415.2ZM165.5,418.9 161.9,418.1 160.3,417.7 156.7,416.9 160.3,415.9 161.2,415.6 165.5,414.5 169.5,415.6 170.7,416.1 173.8,416.9 170.7,417.7 169.1,418.1 165.5,418.9ZM238.5,422.2 236.6,421.9 233.3,421.0 232.2,420.6 230.1,419.4 229.7,418.1 232.7,416.9 233.3,416.8 238.5,416.0 243.7,416.0 248.9,416.7 249.8,416.9 253.3,418.1 253.6,419.4 251.4,420.6 248.9,421.2 243.7,421.8 241.3,421.9 238.5,422.2ZM316.7,432.4 311.5,433.1 307.0,431.9 306.3,431.6 302.8,430.6 305.9,429.4 305.3,428.1 303.4,426.9 302.3,425.6 303.5,424.4 305.2,423.1 306.3,422.2 306.8,421.9 308.9,420.6 311.5,419.5 311.6,419.4 312.8,418.1 316.7,417.3 322.0,417.2 325.9,418.1 327.2,418.6 330.0,419.4 327.2,420.3 326.1,420.6 323.1,421.9 324.2,423.1 325.3,424.4 325.7,425.6 325.8,426.9 325.0,428.1 324.1,429.4 322.6,430.6 322.0,430.9 318.1,431.9 316.7,432.4ZM363.7,434.1 358.7,433.1 358.5,433.1 353.5,431.9 353.2,431.2 351.0,431.9 348.0,433.0 342.8,432.7 340.2,431.9 338.8,430.6 337.6,429.5 337.5,429.4 337.1,428.1 337.1,426.9 337.4,425.6 337.6,425.5 340.0,424.4 342.5,423.1 342.8,423.1 348.0,422.9 348.8,423.1 353.2,424.4 353.2,424.5 358.5,424.7 359.4,424.4 363.7,423.4 368.9,423.2 369.0,423.1 374.1,422.2 378.6,423.1 379.3,423.3 383.0,424.4 379.3,425.6 379.0,425.6 377.7,426.9 378.3,428.1 377.9,429.4 375.7,430.6 374.1,431.4 373.9,431.9 368.9,433.1 368.8,433.1 363.7,434.1ZM301.1,446.8 295.9,446.9 290.7,446.0 289.0,445.6 286.4,444.4 285.5,444.4 281.0,443.1 280.2,442.9 276.5,441.9 280.2,440.9 281.2,440.6 283.0,439.4 280.2,439.3 275.0,438.5 269.8,439.0 264.6,438.5 259.4,438.8 254.2,439.0 248.9,438.7 243.7,438.2 243.6,438.1 243.7,437.9 244.3,436.9 248.9,436.1 254.2,435.7 254.5,435.6 255.4,434.4 254.3,433.1 256.6,431.9 255.0,430.6 254.2,430.4 251.0,429.4 250.5,428.1 253.6,426.9 254.2,426.8 259.4,426.3 264.6,426.6 266.5,426.9 269.8,427.1 274.6,428.1 275.0,428.3 279.9,429.4 280.2,430.0 281.6,430.6 284.2,431.9 285.5,432.4 289.8,433.1 290.7,433.2 295.9,433.6 298.4,434.4 301.1,435.5 301.4,435.6 302.0,436.9 303.8,438.1 304.9,439.4 301.1,440.4 300.8,440.6 299.0,441.9 301.1,442.2 304.0,443.1 306.3,444.0 307.1,444.4 306.3,445.4 306.2,445.6 301.1,446.8ZM118.6,429.8 113.4,430.2 108.1,430.1 102.9,429.7 101.5,429.4 102.9,429.1 108.1,428.6 113.4,428.6 118.6,429.0 120.6,429.4 118.6,429.8ZM155.1,446.2 149.9,446.5 144.6,446.4 140.1,445.6 139.4,445.5 135.5,444.4 138.0,443.1 134.2,442.8 129.0,442.3 123.8,442.0 123.0,441.9 120.4,440.6 119.1,439.4 118.6,438.6 117.7,438.1 118.6,437.9 119.8,436.9 123.8,436.0 128.7,435.6 129.0,435.6 129.9,435.6 134.2,435.7 139.4,436.3 142.8,436.9 144.6,437.8 145.7,436.9 148.3,435.6 147.0,434.4 147.6,433.1 149.9,432.0 149.9,431.9 149.9,431.7 149.2,430.6 149.9,430.4 150.8,429.4 155.1,428.2 160.3,428.5 164.0,429.4 164.2,430.6 164.5,431.9 164.0,433.1 165.4,434.4 163.1,435.6 164.2,436.9 160.3,438.1 160.2,438.1 160.3,438.3 165.5,439.0 167.8,439.4 169.2,440.6 165.5,441.8 165.0,441.9 160.3,442.5 159.1,443.1 160.3,443.5 162.3,444.4 160.3,445.0 158.0,445.6 155.1,446.2ZM233.3,432.3 228.1,432.8 223.4,431.9 222.9,431.7 218.3,430.6 222.9,429.8 224.3,429.4 228.1,428.6 233.3,429.0 235.2,429.4 237.0,430.6 235.2,431.9 233.3,432.3ZM134.2,431.4 129.0,431.7 125.0,430.6 129.0,429.6 134.2,429.8 136.8,430.6 134.2,431.4ZM217.7,438.9 214.2,438.1 212.4,437.6 209.8,436.9 212.4,436.2 214.2,435.6 217.7,434.8 221.1,435.6 222.9,436.3 225.2,436.9 222.9,437.5 221.1,438.1 217.7,438.9ZM353.2,438.8 348.0,439.0 342.8,438.9 340.7,438.1 339.0,436.9 341.0,435.6 342.8,435.0 348.0,434.6 353.2,435.0 355.8,435.6 357.8,436.9 356.0,438.1 353.2,438.8ZM322.0,446.5 317.7,445.6 316.7,445.4 312.7,444.4 312.9,443.1 311.5,443.0 307.0,441.9 306.3,441.6 301.7,440.6 306.3,439.6 306.8,439.4 311.5,438.3 313.0,438.1 316.7,437.8 322.0,437.5 327.2,437.9 328.9,438.1 332.4,439.3 337.6,439.1 339.6,439.4 342.8,439.6 348.0,440.2 350.0,440.6 351.8,441.9 350.7,443.1 348.0,443.9 342.8,444.3 339.7,444.4 337.6,444.6 336.7,444.4 332.4,444.1 331.1,444.4 327.2,445.4 326.3,445.6 322.0,446.5ZM332.4,462.3 327.2,462.0 325.2,461.9 322.0,461.7 319.2,460.6 316.8,459.4 316.8,458.1 316.7,458.1 314.1,456.9 314.7,455.6 316.7,455.1 322.0,454.4 327.2,454.5 332.4,455.1 333.5,454.4 336.7,453.1 337.6,452.8 339.9,451.9 341.8,450.6 342.2,449.4 342.0,448.1 342.8,447.8 344.7,446.9 347.5,445.6 348.0,445.5 353.2,444.6 358.5,444.4 358.5,444.4 363.7,443.2 365.8,443.1 364.1,441.9 364.4,440.6 367.0,439.4 368.9,439.0 374.1,438.9 377.2,439.4 379.3,440.0 380.5,440.6 380.0,441.9 379.3,442.2 374.1,443.1 373.9,443.1 374.1,443.2 377.7,444.4 379.2,445.6 379.3,445.8 381.5,446.9 380.5,448.1 379.3,448.7 378.8,449.4 377.9,450.6 377.7,451.9 375.4,453.1 374.1,453.9 373.6,454.4 370.6,455.6 368.9,456.1 363.7,456.2 358.5,456.8 353.2,456.5 348.0,456.7 345.7,456.9 342.8,457.6 341.4,458.1 342.0,459.4 341.7,460.6 337.6,461.7 334.7,461.9 332.4,462.3ZM275.0,455.9 269.8,456.7 264.9,455.6 264.6,455.6 259.8,454.4 259.8,453.1 259.4,452.7 259.0,453.1 254.2,453.7 248.9,454.0 243.7,453.8 240.2,453.1 238.5,452.8 237.1,453.1 233.4,454.4 233.3,454.4 228.9,455.6 228.1,455.9 227.3,455.6 222.9,455.0 220.3,454.4 219.3,453.1 219.8,451.9 222.9,450.8 224.1,450.6 222.9,450.6 222.6,450.6 217.7,451.6 212.4,451.0 209.2,451.9 207.2,452.2 202.0,453.0 198.3,453.1 196.8,453.4 195.5,453.1 191.6,453.0 186.4,453.0 181.2,452.8 175.9,452.5 173.2,451.9 170.7,451.6 166.7,450.6 165.5,450.4 161.6,449.4 160.3,448.9 157.5,448.1 156.9,446.9 160.3,446.0 165.5,445.9 170.7,446.0 175.7,446.9 175.9,446.9 181.2,447.4 184.1,448.1 186.4,448.7 191.6,448.4 194.8,448.1 196.8,447.7 202.0,447.9 207.2,447.8 210.1,448.1 212.4,448.3 212.9,448.1 217.7,447.3 222.6,448.1 222.9,448.2 224.3,448.1 225.4,446.9 224.0,445.6 222.9,445.5 218.2,445.6 217.7,445.7 217.3,445.6 212.4,445.4 207.2,444.9 204.5,444.4 206.5,443.1 202.0,443.0 196.8,442.6 193.5,441.9 195.2,440.6 196.8,440.4 202.0,440.1 207.2,440.6 207.6,440.6 209.4,441.9 212.4,442.6 217.7,442.6 222.9,442.5 228.1,442.7 233.3,443.1 233.8,443.1 238.5,444.2 240.9,444.4 243.7,445.6 243.8,444.4 245.1,443.1 248.9,442.3 254.2,442.2 259.4,442.2 264.6,443.1 264.6,443.2 269.8,443.3 275.0,444.0 276.5,444.4 280.2,445.6 280.5,445.6 280.2,445.9 279.4,446.9 275.8,448.1 275.0,448.5 270.4,449.4 275.0,449.8 280.1,450.6 280.2,450.7 283.9,451.9 285.0,453.1 283.7,454.4 280.2,455.4 278.0,455.6 275.0,455.9ZM186.4,446.5 181.6,445.6 181.2,445.5 178.0,444.4 181.2,443.3 181.4,443.1 186.4,442.2 191.3,443.1 191.6,443.3 195.1,444.4 191.6,445.5 191.3,445.6 186.4,446.5ZM97.7,446.9 97.3,446.9 92.5,445.9 92.0,445.6 92.5,445.4 97.6,444.4 97.7,444.4 97.8,444.4 100.2,445.6 97.9,446.9 97.7,446.9ZM264.6,450.6 264.6,450.6 259.4,449.5 258.4,449.4 254.2,449.1 248.9,448.5 244.8,448.1 243.7,447.9 243.5,448.1 242.1,449.4 243.7,449.6 248.9,449.6 254.2,449.6 257.5,450.6 259.4,451.6 264.6,450.7 264.6,450.6ZM311.5,454.0 308.0,453.1 306.3,452.5 303.9,451.9 306.3,451.3 308.0,450.6 311.5,449.9 315.0,450.6 316.7,451.2 319.5,451.9 316.7,452.6 315.1,453.1 311.5,454.0ZM165.5,479.0 160.3,479.0 155.1,478.9 149.9,478.5 147.8,478.1 144.6,477.5 142.8,478.1 139.4,478.8 134.2,478.9 129.6,478.1 129.0,477.3 128.0,476.9 129.0,476.6 129.8,475.6 130.1,474.4 129.1,473.1 130.6,471.9 134.2,470.8 135.3,470.6 134.2,470.5 129.0,469.6 125.1,469.4 123.8,469.3 118.6,468.9 113.4,468.3 112.6,468.1 110.0,466.9 108.6,465.6 112.4,464.4 113.4,464.2 118.6,463.9 119.4,463.1 118.6,462.3 117.8,461.9 115.7,460.6 115.4,459.4 113.4,458.8 110.1,458.1 108.1,457.1 107.9,456.9 107.6,455.6 104.7,454.4 108.1,453.5 109.3,453.1 113.4,452.2 118.6,453.0 120.2,453.1 123.8,453.4 129.0,453.4 129.5,453.1 134.2,452.3 139.4,453.1 139.7,453.1 143.1,454.4 139.9,455.6 139.4,455.8 134.2,456.9 133.7,456.9 130.4,458.1 132.8,459.4 132.9,460.6 133.0,461.9 134.2,463.0 136.8,463.1 139.4,463.3 144.6,463.5 149.1,464.4 149.9,464.6 154.1,465.6 154.8,466.9 151.8,468.1 149.9,468.5 149.3,469.4 149.9,469.8 153.0,470.6 153.6,471.9 154.4,473.1 154.8,474.4 155.1,474.4 160.3,474.7 165.5,475.0 168.7,475.6 170.7,476.0 174.2,476.9 170.7,477.8 168.8,478.1 165.5,479.0ZM165.5,459.0 160.3,458.2 160.2,458.1 158.6,456.9 159.5,455.6 160.3,455.1 163.3,454.4 165.5,454.1 167.0,454.4 170.6,455.6 170.7,456.6 170.8,456.9 170.7,456.9 168.8,458.1 165.5,459.0ZM97.7,463.5 96.2,463.1 93.7,461.9 92.5,460.8 92.4,460.6 91.9,459.4 88.9,458.1 87.3,457.5 84.9,456.9 87.3,456.3 89.1,455.6 92.5,454.8 96.9,455.6 97.7,455.9 101.5,456.9 100.9,458.1 101.3,459.4 101.1,460.6 100.2,461.9 98.7,463.1 97.7,463.5ZM196.8,466.1 194.8,465.6 191.6,465.4 189.1,465.6 186.4,466.1 184.1,465.6 181.2,464.9 179.5,464.4 177.9,463.1 177.8,461.9 178.1,460.6 180.9,459.4 181.2,459.3 184.1,458.1 186.4,457.6 191.6,457.0 195.3,456.9 196.8,456.8 197.3,456.9 202.0,457.4 205.2,458.1 206.0,459.4 205.2,460.6 202.0,461.4 197.2,461.9 201.0,463.1 202.0,464.4 202.1,464.4 202.0,464.5 199.6,465.6 196.8,466.1ZM259.4,461.4 254.2,461.7 248.9,461.8 243.7,461.7 238.5,461.5 233.3,461.2 228.5,460.6 228.1,460.5 226.0,459.4 228.1,458.8 231.1,458.1 233.3,457.9 238.5,457.4 243.7,457.1 248.9,457.1 254.2,457.1 259.4,457.4 262.7,458.1 264.6,458.9 266.5,459.4 264.6,459.9 262.7,460.6 259.4,461.4ZM285.5,460.4 282.7,459.4 283.1,458.1 285.5,457.5 288.0,458.1 288.4,459.4 285.5,460.4ZM165.5,464.0 161.9,463.1 160.3,462.7 157.3,461.9 160.3,461.2 162.1,460.6 165.5,459.6 168.9,460.6 170.7,461.3 173.2,461.9 170.7,462.5 168.9,463.1 165.5,464.0ZM342.8,476.5 337.6,476.7 332.4,476.5 329.0,475.6 327.2,474.9 325.9,474.4 324.8,473.1 323.3,471.9 322.4,470.6 322.0,469.4 322.0,468.5 321.8,469.4 317.2,470.6 316.7,470.7 311.5,471.3 306.3,471.5 301.1,471.7 295.9,471.3 292.2,470.6 290.7,470.6 285.5,470.2 282.3,469.4 280.2,469.2 275.0,468.2 274.4,468.1 269.8,467.4 268.0,466.9 265.2,465.6 264.6,465.3 262.0,464.4 264.6,463.7 265.9,463.1 269.8,462.2 275.0,462.5 280.0,463.1 280.2,463.2 284.1,463.1 285.5,463.1 290.7,462.4 295.9,462.0 301.1,462.2 306.3,462.7 309.3,463.1 311.5,463.7 316.4,464.4 316.7,464.5 319.1,465.6 321.9,466.9 322.0,467.8 322.1,466.9 327.2,466.1 331.3,466.9 332.4,467.0 337.6,467.9 340.2,468.1 342.8,468.8 346.5,468.1 347.1,466.9 346.4,465.6 347.1,464.4 348.0,463.9 349.5,463.1 353.2,461.9 353.2,461.9 358.5,461.0 361.4,460.6 363.7,460.2 365.6,460.6 368.9,461.1 372.4,461.9 373.9,463.1 374.1,463.4 376.9,464.4 377.3,465.6 376.0,466.9 374.9,468.1 374.1,468.4 368.9,469.2 365.1,469.4 363.7,469.5 358.5,470.5 357.7,470.6 353.2,471.7 349.9,471.9 350.0,473.1 348.3,474.4 348.0,474.6 345.8,475.6 342.8,476.5ZM175.9,468.9 172.5,468.1 170.7,467.7 167.2,466.9 170.7,466.1 172.4,465.6 175.9,464.9 179.4,465.6 181.2,466.1 183.9,466.9 181.2,467.6 179.4,468.1 175.9,468.9ZM233.3,471.4 228.1,471.7 224.0,470.6 222.9,470.2 220.1,469.4 222.9,468.7 224.4,468.1 228.1,467.3 233.3,467.5 236.9,468.1 238.5,469.1 239.0,469.4 238.5,469.6 236.4,470.6 233.3,471.4ZM196.8,474.2 191.9,473.1 191.6,473.1 188.2,471.9 191.6,470.7 192.1,470.6 196.8,469.9 201.0,470.6 202.0,470.8 206.9,471.9 202.0,473.1 201.8,473.1 196.8,474.2ZM228.1,481.1 222.9,481.8 217.7,481.8 212.4,481.3 209.2,480.6 207.7,479.4 207.2,478.8 204.5,478.1 202.0,477.2 199.3,478.1 196.8,478.4 191.6,479.0 186.4,479.2 181.2,479.4 178.6,478.1 177.1,476.9 179.7,475.6 181.2,475.3 186.4,474.8 191.6,474.8 196.8,475.2 201.6,474.4 202.0,474.1 204.1,473.1 207.2,472.6 211.7,471.9 212.4,471.8 214.5,471.9 217.7,472.0 222.9,472.7 225.2,473.1 228.1,474.3 233.3,473.2 233.4,473.1 238.5,472.0 241.9,471.9 243.7,471.8 248.9,471.6 254.2,471.6 259.4,471.9 259.5,471.9 264.6,472.7 266.8,473.1 267.9,474.4 264.6,475.6 264.4,475.6 259.4,476.4 254.2,476.8 248.9,476.8 243.7,476.6 238.5,476.7 233.5,475.6 233.3,475.6 231.3,475.6 232.3,476.9 232.4,478.1 232.1,479.4 230.1,480.6 228.1,481.1ZM342.8,494.0 339.7,493.1 337.6,493.0 332.8,491.9 333.3,490.6 332.4,490.4 328.4,489.4 328.4,488.1 327.2,487.7 322.0,487.1 321.3,486.9 318.7,485.6 316.7,485.2 314.4,484.4 311.6,483.1 313.5,481.9 316.7,481.6 320.2,480.6 322.0,480.3 322.3,479.4 322.0,479.3 318.1,478.1 316.7,477.5 314.8,476.9 316.7,476.2 322.0,475.9 327.2,475.9 331.6,476.9 332.4,477.0 337.5,478.1 337.6,478.2 342.8,478.9 348.0,479.0 352.1,479.4 353.2,479.6 358.5,480.2 360.7,480.6 363.7,481.4 366.0,480.6 367.6,479.4 367.0,478.1 365.0,476.9 368.2,475.6 368.9,475.3 373.4,474.4 374.1,474.2 374.7,474.4 379.1,475.6 379.3,475.7 382.8,476.9 379.7,478.1 379.3,478.8 378.9,479.4 378.0,480.6 375.9,481.9 374.1,482.8 368.9,482.1 368.5,483.1 367.8,484.4 363.7,485.5 363.4,485.6 358.5,486.9 358.3,486.9 353.2,487.8 348.0,488.0 342.8,488.0 337.6,487.8 336.7,488.1 337.6,488.2 341.9,489.4 342.8,490.2 345.1,490.6 347.6,491.9 347.4,493.1 342.8,494.0ZM113.4,481.5 109.7,480.6 108.1,480.2 104.1,479.4 102.9,478.6 99.5,478.1 102.9,477.7 108.1,477.1 113.4,477.0 118.6,477.2 123.8,477.7 126.9,478.1 123.8,478.6 122.6,479.4 118.6,480.2 117.1,480.6 113.4,481.5ZM306.3,483.4 301.1,483.8 295.9,484.2 290.7,484.2 285.6,483.1 285.5,483.1 281.8,481.9 284.2,480.6 285.5,480.0 287.4,479.4 290.7,479.0 295.9,478.8 301.1,478.9 305.0,479.4 306.3,479.8 309.4,480.6 311.0,481.9 311.5,483.1 306.3,483.4ZM175.9,487.4 172.0,486.9 170.7,486.7 167.4,485.6 165.7,484.4 165.5,483.9 164.9,483.1 165.5,482.6 166.0,481.9 168.3,480.6 170.7,479.8 175.9,479.5 181.2,479.4 185.7,480.6 186.4,480.7 191.6,481.0 196.8,481.1 200.6,481.9 202.0,482.3 205.2,483.1 202.0,484.0 200.6,484.4 196.8,485.2 191.6,485.3 186.4,485.6 186.3,485.6 181.2,486.9 181.0,486.9 175.9,487.4ZM139.4,487.2 134.2,487.8 129.0,488.1 123.8,487.9 119.1,486.9 118.6,486.4 117.2,485.6 118.0,484.4 118.6,484.2 119.2,483.1 120.8,481.9 123.8,481.2 129.0,481.3 132.2,481.9 134.2,483.1 134.2,483.2 139.4,483.8 142.4,484.4 143.1,485.6 140.8,486.9 139.4,487.2ZM275.0,489.9 269.8,490.3 264.6,490.3 259.4,490.2 254.2,489.4 254.1,489.4 248.9,488.4 247.7,488.1 245.0,486.9 246.6,485.6 248.9,484.8 250.5,484.4 254.2,483.7 259.4,483.2 264.6,483.2 269.8,483.2 275.0,483.4 280.2,484.3 280.6,484.4 284.9,485.6 285.2,486.9 284.8,488.1 280.2,489.2 278.1,489.4 275.0,489.9ZM212.4,492.3 207.7,491.9 207.2,491.8 204.8,490.6 203.6,489.4 204.3,488.1 205.9,486.9 207.2,486.4 212.4,486.1 215.8,486.9 217.7,487.5 218.8,488.1 219.2,489.4 218.3,490.6 217.7,491.0 214.6,491.9 212.4,492.3ZM301.1,494.5 295.9,494.9 290.7,494.8 288.9,494.4 285.5,493.4 284.9,493.1 283.3,491.9 283.0,490.6 284.4,489.4 285.5,489.0 290.7,488.2 293.3,488.1 295.9,488.0 301.1,487.9 302.6,488.1 306.3,488.4 310.0,489.4 311.0,490.6 310.3,491.9 307.8,493.1 306.3,493.6 301.8,494.4 301.1,494.5ZM155.1,499.0 151.5,498.1 149.9,497.7 146.6,496.9 149.9,495.9 150.8,495.6 149.9,494.7 149.0,494.4 147.8,493.1 148.1,491.9 149.9,491.0 150.8,490.6 155.1,490.0 160.3,490.5 165.5,489.7 170.7,490.1 172.8,490.6 174.7,491.9 173.0,493.1 170.7,493.8 165.5,494.2 162.6,494.4 160.3,494.9 159.5,495.6 160.3,495.9 164.1,496.9 160.3,497.7 158.8,498.1 155.1,499.0ZM129.0,497.6 123.8,498.1 118.6,497.6 114.0,496.9 113.4,496.6 111.9,495.6 110.9,494.4 112.3,493.1 113.4,492.8 117.3,491.9 118.6,491.7 123.8,490.8 128.9,491.9 129.0,491.9 134.2,493.1 134.3,493.1 136.9,494.4 136.1,495.6 134.2,496.7 133.7,496.9 129.0,497.6ZM332.4,496.1 327.2,496.8 322.0,496.6 317.4,495.6 316.7,495.4 314.7,494.4 316.4,493.1 316.7,493.1 322.0,491.9 322.2,491.9 327.2,491.6 330.1,491.9 332.4,492.3 335.3,493.1 336.2,494.4 334.7,495.6 332.4,496.1ZM363.7,504.5 358.5,505.0 354.2,504.4 353.2,504.3 349.2,503.1 348.0,502.7 346.3,501.9 344.2,500.6 342.8,499.4 342.8,499.4 342.8,499.3 343.2,498.1 343.2,496.9 343.8,495.6 345.5,494.4 348.0,493.5 349.2,493.1 352.1,491.9 353.2,491.6 358.5,490.8 363.7,490.8 367.9,491.9 368.9,492.1 373.5,493.1 374.1,493.3 377.1,494.4 378.9,495.6 378.3,496.9 379.1,498.1 378.4,499.4 377.4,500.6 374.3,501.9 374.1,502.0 371.0,503.1 368.9,503.8 364.5,504.4 363.7,504.5ZM97.7,495.2 92.5,494.5 92.3,494.4 91.4,493.1 92.5,492.7 97.7,492.3 99.7,493.1 100.2,494.4 97.7,495.2ZM285.5,516.2 280.2,516.8 275.6,515.6 275.0,515.4 271.1,514.4 273.2,513.1 275.0,512.0 275.2,511.9 279.4,510.6 277.5,509.4 277.0,508.1 275.0,507.5 272.4,506.9 269.8,506.0 269.2,505.6 268.1,504.4 267.9,503.1 267.3,501.9 264.6,501.1 259.4,501.5 254.2,501.3 250.5,500.6 248.9,500.3 243.7,500.0 238.5,500.1 233.3,499.8 228.1,499.5 227.3,499.4 225.9,498.1 228.1,497.8 229.6,496.9 230.3,495.6 231.3,494.4 233.3,493.9 235.3,493.1 238.5,492.4 241.7,493.1 243.7,493.8 246.0,494.4 247.0,495.6 247.5,496.9 248.9,497.4 254.2,497.3 259.4,497.3 264.6,497.9 266.5,498.1 269.8,499.2 273.7,498.1 275.0,497.8 277.4,498.1 280.2,498.7 282.6,499.4 285.1,500.6 285.5,500.7 290.6,501.9 290.7,501.9 292.0,501.9 295.9,501.6 301.1,501.8 302.5,501.9 306.3,502.1 311.5,502.9 312.3,503.1 315.9,504.4 316.4,505.6 316.7,505.8 319.9,506.9 316.7,508.1 316.7,508.1 312.2,509.4 311.5,509.5 306.3,510.4 301.1,510.6 299.6,510.6 295.9,511.2 290.7,511.3 285.5,511.4 283.6,511.9 285.5,512.2 287.6,513.1 289.3,514.4 287.5,515.6 285.5,516.2ZM264.6,493.6 259.4,494.3 254.5,493.1 259.4,492.1 264.6,492.6 266.0,493.1 264.6,493.6ZM175.9,511.6 171.4,510.6 170.7,510.5 166.9,509.4 170.7,508.2 171.1,508.1 171.7,506.9 170.7,506.8 167.5,505.6 166.6,504.4 165.5,503.4 165.3,503.1 165.2,501.9 165.1,500.6 165.5,499.9 165.9,499.4 169.3,498.1 170.7,497.4 173.3,496.9 175.9,496.6 179.8,496.9 181.2,497.0 184.6,498.1 186.4,498.2 191.6,498.5 195.8,499.4 196.8,499.6 200.1,500.6 196.8,501.6 195.7,501.9 191.6,503.0 188.3,503.1 188.1,504.4 186.4,505.3 185.7,505.6 182.3,506.9 181.2,507.3 180.8,508.1 181.2,508.3 185.0,509.4 181.2,510.2 180.0,510.6 175.9,511.6ZM113.4,503.8 108.1,504.1 102.9,504.1 97.7,503.6 95.3,503.1 93.2,501.9 95.9,500.6 97.7,500.3 102.9,499.8 108.1,499.8 113.4,500.2 116.4,500.6 118.6,501.7 118.9,501.9 118.6,502.2 117.3,503.1 113.4,503.8ZM348.0,517.7 342.8,517.2 340.1,516.9 337.6,516.7 332.4,515.8 332.0,515.6 327.2,514.6 326.5,514.4 325.3,513.1 323.1,511.9 322.5,510.6 322.9,509.4 324.5,508.1 327.2,507.0 327.4,506.9 330.9,505.6 328.3,504.4 332.4,503.5 333.6,503.1 337.6,502.2 342.8,502.3 347.5,503.1 347.7,504.4 348.0,505.1 350.3,505.6 353.2,506.6 354.0,506.9 356.3,508.1 357.0,509.4 357.1,510.6 357.0,511.9 354.8,513.1 353.9,514.4 355.3,515.6 353.2,516.5 352.4,516.9 348.0,517.7ZM134.2,508.7 129.0,509.1 123.8,509.1 118.6,508.7 114.7,508.1 114.5,506.9 118.6,506.1 119.7,505.6 123.8,505.0 129.0,504.8 134.2,505.4 135.4,505.6 138.3,506.9 136.6,508.1 134.2,508.7ZM207.2,515.1 202.0,515.5 196.8,515.4 192.0,514.4 191.6,514.3 187.6,513.1 186.9,511.9 187.1,510.6 190.8,509.4 191.6,509.1 195.4,508.1 196.8,507.9 202.0,507.7 207.2,507.9 208.8,508.1 212.4,509.1 213.3,509.4 214.9,510.6 216.4,511.9 215.6,513.1 212.4,513.8 210.8,514.4 207.2,515.1ZM108.1,511.4 102.9,511.7 97.7,511.4 92.5,510.7 92.5,510.6 92.5,510.6 97.7,509.8 102.9,509.7 108.1,509.9 111.8,510.6 108.1,511.4ZM248.9,517.1 243.7,516.9 241.8,516.9 238.5,516.9 233.3,516.8 228.1,516.6 223.8,515.6 222.9,515.5 218.8,514.4 220.2,513.1 222.9,512.3 224.3,511.9 228.0,510.6 228.1,510.6 233.3,510.3 238.5,510.0 243.7,509.8 248.9,510.0 254.2,510.5 255.1,510.6 259.4,511.1 262.9,511.9 264.6,513.1 264.7,513.1 264.9,514.4 264.6,514.5 259.4,515.5 259.0,515.6 254.2,516.5 250.5,516.9 248.9,517.1ZM186.4,519.0 182.0,518.1 181.2,517.9 175.9,517.7 170.7,517.7 165.5,517.5 160.7,516.9 160.3,516.8 156.6,515.6 160.1,514.4 160.3,514.2 160.5,513.1 165.5,512.1 170.7,512.4 174.7,513.1 175.9,513.7 181.2,514.1 183.7,514.4 186.4,514.5 190.8,515.6 191.6,515.9 195.1,516.9 191.6,517.8 190.4,518.1 186.4,519.0ZM129.0,517.3 123.8,517.2 120.3,516.9 118.6,516.6 116.4,515.6 118.6,514.8 121.9,514.4 123.8,514.3 129.0,514.2 131.1,514.4 134.2,515.0 135.6,515.6 134.2,516.2 132.2,516.9 129.0,517.3ZM311.5,517.1 306.3,517.3 301.1,517.1 300.2,516.9 297.4,515.6 301.1,514.5 301.6,514.4 306.3,514.0 311.5,514.3 311.9,514.4 316.7,515.5 317.4,515.6 316.7,515.8 313.3,516.9 311.5,517.1Z" fill="#c8c8ff" fill-rule="evenodd"/>
<path d="M379.3,298.2 378.0,298.1 374.1,298.0 368.9,297.0 368.7,296.9 366.4,295.6 365.5,294.4 367.2,293.1 368.9,292.9 370.5,293.1 374.1,293.8 376.4,294.4 379.3,295.2 380.9,295.6 381.6,296.9 379.6,298.1 379.3,298.2ZM165.5,297.5 160.3,297.7 155.1,297.4 152.9,296.9 151.3,295.6 152.9,294.4 155.1,293.9 160.3,293.7 165.5,293.7 169.2,294.4 170.7,295.1 171.6,295.6 170.7,296.1 168.9,296.9 165.5,297.5ZM238.5,297.4 233.3,297.7 228.1,297.6 222.9,297.3 221.0,296.9 219.0,295.6 220.8,294.4 222.9,294.0 228.1,293.7 233.3,293.6 238.5,293.9 241.0,294.4 243.2,295.6 241.1,296.9 238.5,297.4ZM129.0,298.6 123.8,298.3 123.0,298.1 119.8,296.9 123.0,295.6 123.8,295.5 129.0,295.3 131.5,295.6 134.2,296.2 136.2,296.9 134.2,297.7 132.2,298.1 129.0,298.6ZM311.5,304.8 306.6,304.4 306.3,304.4 301.9,303.1 301.1,303.0 297.8,301.9 296.7,300.6 295.9,300.0 294.4,299.4 295.9,298.9 297.0,298.1 301.1,297.3 306.3,297.6 309.2,298.1 311.5,298.7 314.0,299.4 315.4,300.6 316.7,301.3 317.8,301.9 317.4,303.1 316.7,303.6 314.5,304.4 311.5,304.8ZM285.5,302.3 280.2,302.4 278.5,301.9 275.2,300.6 278.6,299.4 280.2,299.0 285.5,299.0 288.1,299.4 290.7,300.1 293.7,300.6 290.7,301.0 287.6,301.9 285.5,302.3ZM165.5,307.1 164.2,306.9 160.3,306.2 157.9,305.6 156.7,304.4 156.3,303.1 160.3,302.2 163.3,301.9 165.5,301.6 166.7,301.9 168.8,303.1 169.1,304.4 168.4,305.6 166.4,306.9 165.5,307.1ZM186.4,308.5 184.8,308.1 181.2,307.4 179.7,306.9 179.1,305.6 179.4,304.4 181.2,303.9 185.3,303.1 186.4,303.0 188.1,303.1 191.6,303.5 196.0,304.4 196.8,304.9 198.9,305.6 196.8,306.6 196.4,306.9 191.6,307.8 189.1,308.1 186.4,308.5ZM368.9,308.3 368.3,308.1 363.7,307.6 358.5,307.1 357.6,306.9 353.3,305.6 353.2,305.6 350.8,304.4 352.1,303.1 353.2,302.8 354.5,303.1 358.5,303.8 363.7,304.2 364.3,304.4 368.4,305.6 368.9,305.8 371.9,306.9 369.8,308.1 368.9,308.3ZM342.8,307.4 341.0,306.9 337.6,306.0 336.3,305.6 337.6,305.3 340.8,304.4 342.8,303.9 344.9,304.4 348.0,305.4 352.8,305.6 348.0,305.9 344.6,306.9 342.8,307.4ZM259.4,310.2 256.1,309.4 254.2,309.0 251.3,308.1 248.9,307.4 247.1,306.9 247.1,305.6 248.9,305.1 251.8,305.6 254.2,306.1 258.1,306.9 259.4,307.2 263.0,308.1 263.3,309.4 259.4,310.2ZM134.2,312.3 129.1,311.9 129.0,311.9 126.2,310.6 128.2,309.4 129.0,309.2 134.2,308.9 135.9,309.4 136.8,310.6 135.8,311.9 134.2,312.3ZM322.0,314.9 319.6,314.4 316.7,313.6 314.4,313.1 313.3,311.9 314.0,310.6 316.7,310.1 319.5,309.4 322.0,308.9 324.8,309.4 327.2,310.0 329.7,310.6 331.1,311.9 330.0,313.1 327.2,313.8 324.7,314.4 322.0,314.9ZM264.6,311.0 261.9,310.6 264.6,309.9 266.2,310.6 264.6,311.0ZM342.8,315.2 337.6,314.8 335.2,314.4 333.6,313.1 334.7,311.9 337.6,311.4 342.8,310.9 346.3,311.9 347.5,313.1 345.7,314.4 342.8,315.2ZM92.5,316.0 91.0,315.6 87.3,314.5 86.8,314.4 87.3,314.3 91.2,313.1 92.5,312.9 93.8,313.1 97.7,314.2 98.6,314.4 97.7,314.6 94.0,315.6 92.5,316.0ZM186.4,316.1 184.0,315.6 181.2,315.0 179.1,314.4 181.2,313.8 183.9,313.1 186.4,312.7 188.9,313.1 191.6,313.9 193.5,314.4 191.6,314.9 188.7,315.6 186.4,316.1ZM222.9,318.3 222.3,318.1 220.0,316.9 219.0,315.6 218.8,314.4 219.7,313.1 222.9,312.5 228.0,313.1 228.1,313.2 231.7,314.4 231.2,315.6 230.5,316.9 228.1,317.9 224.6,318.1 222.9,318.3ZM306.3,322.1 301.1,322.5 298.3,321.9 295.9,321.4 292.7,320.6 290.7,320.1 287.7,319.4 285.5,318.9 280.2,318.4 279.1,318.1 277.8,316.9 275.3,315.6 280.2,315.1 283.0,315.6 285.5,316.2 290.7,316.9 290.7,316.9 295.9,317.6 298.7,318.1 300.8,319.4 301.1,319.5 303.8,320.6 306.3,321.8 306.9,321.9 306.3,322.1ZM118.6,320.9 116.7,320.6 113.4,320.2 110.8,319.4 113.4,318.6 116.3,318.1 118.6,317.8 120.7,318.1 123.8,318.7 126.5,319.4 123.8,320.1 120.4,320.6 118.6,320.9ZM207.2,330.3 202.0,329.8 200.4,329.4 196.8,328.5 195.9,328.1 194.5,326.9 196.8,325.8 197.0,325.6 198.2,324.4 196.8,324.1 193.4,323.1 191.6,322.3 190.6,321.9 191.6,320.9 191.7,320.6 194.8,319.4 196.8,319.0 202.0,318.3 204.1,318.1 207.2,318.0 210.0,318.1 212.4,318.3 217.7,319.0 219.4,319.4 222.0,320.6 222.6,321.9 220.6,323.1 217.7,324.0 215.1,324.4 215.1,325.6 216.0,326.9 215.8,328.1 212.4,329.3 211.4,329.4 207.2,330.3ZM264.6,320.7 259.4,320.8 258.7,320.6 256.8,319.4 259.0,318.1 259.4,318.1 264.6,318.0 265.3,318.1 267.4,319.4 264.7,320.6 264.6,320.7ZM332.4,321.4 329.7,320.6 328.9,319.4 330.7,318.1 332.4,317.7 334.4,318.1 336.0,319.4 334.6,320.6 332.4,321.4ZM358.5,323.4 353.2,323.5 351.6,323.1 349.0,321.9 351.0,320.6 353.2,320.0 358.5,320.3 359.5,320.6 361.4,321.9 359.3,323.1 358.5,323.4ZM92.5,326.0 90.7,325.6 87.3,324.7 86.2,324.4 87.3,324.1 90.6,323.1 92.5,322.8 94.4,323.1 97.7,324.1 98.8,324.4 97.7,324.7 94.3,325.6 92.5,326.0ZM123.8,326.0 121.7,325.6 118.6,324.9 116.0,324.4 118.6,323.9 121.7,323.1 123.8,322.8 125.4,323.1 129.0,324.1 130.2,324.4 129.0,324.7 125.4,325.6 123.8,326.0ZM155.1,326.2 151.4,325.6 149.9,325.2 146.7,324.4 149.9,323.4 150.5,323.1 155.1,322.3 158.7,323.1 160.3,323.8 162.3,324.4 160.3,325.0 158.5,325.6 155.1,326.2ZM332.4,326.0 330.1,325.6 327.2,324.9 324.8,324.4 327.2,323.6 328.6,323.1 332.4,322.3 335.4,323.1 337.6,323.7 339.8,324.4 337.6,324.9 334.4,325.6 332.4,326.0ZM290.7,329.8 288.8,329.4 285.5,328.5 284.3,328.1 283.1,326.9 284.8,325.6 285.5,325.5 289.3,324.4 290.7,324.1 292.6,324.4 295.9,325.4 297.2,325.6 299.4,326.9 297.7,328.1 295.9,328.5 293.1,329.4 290.7,329.8ZM228.1,330.6 222.9,329.6 221.6,329.4 219.4,328.1 219.9,326.9 222.9,326.4 225.9,325.6 228.1,325.1 231.4,325.6 233.3,326.3 235.9,326.9 236.1,328.1 233.3,329.3 233.1,329.4 228.1,330.6ZM269.8,334.6 268.2,334.4 264.7,333.1 264.6,333.1 261.2,331.9 263.7,330.6 261.6,329.4 259.4,328.5 258.4,328.1 256.9,326.9 254.2,325.8 253.5,325.6 254.2,325.5 259.4,325.5 259.8,325.6 264.6,326.7 265.5,326.9 268.0,328.1 269.8,328.5 273.1,329.4 275.0,330.4 276.0,330.6 276.4,331.9 275.0,332.5 274.0,333.1 271.0,334.4 269.8,334.6ZM358.5,329.7 353.2,330.2 348.0,330.1 345.4,329.4 343.7,328.1 345.7,326.9 348.0,326.3 353.2,326.1 358.5,326.7 359.3,326.9 360.9,328.1 361.0,329.4 358.5,329.7ZM186.4,331.0 185.0,330.6 181.2,329.5 180.8,329.4 181.2,329.3 183.9,328.1 186.4,327.6 188.5,328.1 191.6,329.3 192.1,329.4 191.6,329.5 188.3,330.6 186.4,331.0ZM374.1,334.2 368.9,334.0 366.2,333.1 363.7,331.9 363.6,331.9 363.4,330.6 363.7,330.4 365.2,329.4 367.8,328.1 368.9,327.9 374.1,327.1 379.3,328.1 379.6,328.1 382.0,329.4 381.1,330.6 380.5,331.9 379.3,332.7 378.1,333.1 374.1,334.2ZM170.7,333.3 165.5,333.4 160.3,333.5 155.1,333.4 149.9,333.2 149.9,333.1 144.6,332.5 141.0,331.9 144.6,331.3 149.9,330.7 150.4,330.6 155.1,330.5 160.3,330.4 165.5,330.2 170.7,330.6 171.0,330.6 175.9,331.1 180.9,331.9 175.9,332.6 171.6,333.1 170.7,333.3ZM248.9,333.5 247.6,333.1 243.7,332.2 242.6,331.9 243.7,331.6 247.8,330.6 248.9,330.4 250.7,330.6 254.2,331.3 257.9,331.9 254.2,332.6 250.9,333.1 248.9,333.5ZM327.2,341.0 323.4,340.6 322.0,340.4 316.7,339.9 313.1,339.4 311.5,339.1 306.3,338.5 304.5,338.1 301.1,337.3 298.1,336.9 297.2,335.6 301.1,335.3 304.1,335.6 306.3,336.0 311.5,336.5 314.5,336.9 316.7,337.3 322.0,337.8 324.3,336.9 324.3,335.6 324.7,334.4 327.2,333.5 328.2,333.1 330.6,331.9 332.4,331.5 337.6,330.8 340.3,330.6 342.8,330.5 343.6,330.6 346.6,331.9 347.4,333.1 345.7,334.4 344.6,335.6 342.8,336.2 340.9,336.9 337.6,337.8 335.1,338.1 332.4,338.6 329.6,339.4 330.0,340.6 327.2,341.0ZM123.8,335.8 120.5,335.6 118.6,335.5 114.1,334.4 116.1,333.1 118.6,332.9 123.8,332.6 126.0,333.1 128.2,334.4 124.8,335.6 123.8,335.8ZM238.5,338.9 236.1,338.1 233.3,337.4 231.8,336.9 230.8,335.6 231.7,334.4 233.3,334.0 237.3,333.1 238.5,332.9 239.8,333.1 242.3,334.4 243.7,335.1 245.0,335.6 243.7,336.6 243.3,336.9 241.2,338.1 238.5,338.9ZM217.7,340.0 214.9,339.4 212.4,338.3 211.4,338.1 208.8,336.9 207.2,336.0 204.6,335.6 203.6,334.4 207.2,333.3 211.5,334.4 212.4,334.5 215.7,335.6 217.7,336.3 219.6,336.9 220.6,338.1 220.9,339.4 217.7,340.0ZM191.6,341.0 186.4,341.3 182.5,340.6 181.2,340.4 177.4,339.4 181.2,338.4 182.7,338.1 186.4,337.5 191.6,337.2 192.1,336.9 194.8,335.6 196.8,335.0 200.4,335.6 202.0,335.9 205.2,336.9 202.0,337.9 200.0,338.1 198.2,339.4 196.8,339.7 193.3,340.6 191.6,341.0ZM102.9,341.1 100.6,340.6 97.7,339.6 97.2,339.4 97.7,339.3 101.3,338.1 102.9,337.8 104.5,338.1 108.1,339.1 109.6,339.4 108.1,340.2 106.8,340.6 102.9,341.1ZM363.7,341.2 361.5,340.6 358.5,339.6 357.7,339.4 358.5,339.2 361.6,338.1 363.7,337.7 366.0,338.1 368.9,338.9 370.7,339.4 368.9,339.9 365.9,340.6 363.7,341.2ZM259.4,342.3 256.3,341.9 254.2,341.3 250.9,340.6 254.2,340.2 257.5,339.4 259.4,339.1 260.6,339.4 264.6,340.5 265.3,340.6 264.6,340.8 261.1,341.9 259.4,342.3ZM175.9,343.9 170.7,343.4 169.7,343.1 168.8,341.9 169.5,340.6 170.7,340.3 175.9,339.9 179.6,340.6 180.5,341.9 178.6,343.1 175.9,343.9ZM233.3,347.5 228.1,348.0 222.9,347.2 222.1,346.9 221.7,345.6 222.9,345.3 224.8,344.4 226.9,343.1 228.1,342.7 231.2,341.9 233.3,341.2 238.5,340.8 243.7,340.8 248.3,341.9 246.8,343.1 243.8,344.4 243.7,344.4 240.6,345.6 238.5,346.2 236.0,346.9 233.3,347.5ZM290.7,346.2 287.7,345.6 285.5,345.1 283.2,344.4 285.5,343.9 288.4,343.1 290.7,342.7 292.8,343.1 295.9,344.0 297.5,344.4 295.9,345.0 293.2,345.6 290.7,346.2ZM353.2,346.8 349.1,345.6 348.0,345.3 344.2,344.4 348.0,343.7 349.8,343.1 353.2,342.4 357.0,343.1 358.5,343.5 362.2,344.4 358.5,345.4 357.3,345.6 353.2,346.8ZM207.2,354.5 206.5,354.4 202.6,353.1 202.0,352.9 199.4,351.9 198.2,350.6 198.7,349.4 198.2,348.1 200.6,346.9 202.0,346.4 203.7,345.6 207.2,344.8 209.9,345.6 212.0,346.9 212.4,347.1 214.0,348.1 214.5,349.4 214.6,350.6 212.8,351.9 212.4,352.0 210.4,353.1 207.7,354.4 207.2,354.5ZM181.2,349.7 175.9,349.8 172.9,349.4 170.7,349.0 168.3,348.1 170.7,347.3 173.1,346.9 175.9,346.5 181.2,346.6 182.7,346.9 186.4,347.6 189.3,348.1 186.4,348.7 183.0,349.4 181.2,349.7ZM280.2,350.1 277.2,349.4 275.0,348.2 275.0,348.1 275.0,348.1 277.5,346.9 280.2,346.1 282.9,346.9 285.5,348.0 285.7,348.1 285.5,348.2 282.4,349.4 280.2,350.1ZM353.2,352.7 348.0,352.9 342.8,352.6 340.8,351.9 340.4,350.6 342.8,349.7 343.8,349.4 346.6,348.1 348.0,347.7 353.2,347.1 353.9,346.9 358.5,346.0 363.7,345.9 368.9,346.0 372.1,346.9 372.3,348.1 370.3,349.4 368.9,349.8 365.9,350.6 363.7,351.2 358.5,351.8 358.0,351.9 353.2,352.7ZM160.3,353.5 158.8,353.1 155.1,351.9 155.0,351.9 153.4,350.6 153.7,349.4 155.1,348.8 159.0,348.1 160.3,348.0 161.1,348.1 164.4,349.4 165.5,349.9 167.1,350.6 166.5,351.9 165.5,352.2 162.2,353.1 160.3,353.5ZM248.9,350.9 243.7,350.7 243.4,350.6 238.7,349.4 243.6,348.1 243.7,348.1 248.9,347.9 250.2,348.1 254.2,349.1 255.2,349.4 254.2,349.7 250.3,350.6 248.9,350.9ZM295.9,357.2 290.7,357.2 288.7,356.9 285.5,356.6 281.6,355.6 280.2,354.9 278.6,354.4 280.2,353.7 281.0,353.1 282.7,351.9 285.5,351.5 290.7,351.1 295.9,351.3 300.3,351.9 301.1,352.1 304.7,353.1 305.0,354.4 303.6,355.6 301.1,356.3 298.1,356.9 295.9,357.2ZM191.6,360.9 186.4,361.0 183.9,360.6 181.2,360.1 178.0,359.4 177.1,358.1 177.8,356.9 181.2,356.1 183.7,355.6 186.4,355.2 188.2,355.6 190.8,356.9 191.6,357.2 193.8,358.1 196.8,359.1 197.9,359.4 196.8,359.6 192.8,360.6 191.6,360.9ZM368.9,359.1 363.7,359.2 360.6,358.1 360.3,356.9 360.0,355.6 363.7,354.7 368.9,354.9 371.4,355.6 372.1,356.9 372.1,358.1 368.9,359.1ZM358.5,365.6 353.2,365.5 348.0,365.3 342.8,364.8 341.3,364.4 337.6,363.8 335.9,363.1 332.4,361.9 332.3,361.9 329.4,360.6 328.6,359.4 332.4,358.5 337.6,358.6 342.8,358.8 346.2,359.4 348.0,359.8 352.8,360.6 353.2,360.8 357.5,361.9 358.5,362.2 361.5,363.1 362.0,364.4 358.5,365.6ZM280.2,366.4 277.0,365.6 275.0,365.1 273.4,364.4 275.0,363.9 277.9,363.1 280.2,362.7 282.3,363.1 285.5,364.1 286.6,364.4 285.5,364.8 282.6,365.6 280.2,366.4ZM139.4,368.9 134.2,369.0 129.0,368.2 128.7,368.1 125.8,366.9 125.7,365.6 126.5,364.4 129.0,363.7 134.2,363.2 139.4,363.2 144.6,364.3 145.0,364.4 148.2,365.6 147.5,366.9 144.6,367.9 144.0,368.1 139.4,368.9ZM196.8,369.1 192.9,368.1 191.6,367.4 190.4,366.9 191.6,366.4 192.7,365.6 196.8,364.6 201.6,365.6 202.0,365.9 204.0,366.9 202.0,367.9 201.5,368.1 196.8,369.1ZM374.1,368.7 372.0,368.1 368.9,367.2 367.2,366.9 368.9,366.5 372.0,365.6 374.1,365.2 375.7,365.6 379.3,366.6 380.5,366.9 379.3,367.2 375.9,368.1 374.1,368.7ZM332.4,372.1 331.1,371.9 328.3,370.6 327.2,369.9 326.2,369.4 327.2,368.7 327.9,368.1 330.1,366.9 332.4,366.3 335.5,366.9 337.6,367.3 340.1,368.1 340.1,369.4 339.0,370.6 337.6,371.0 333.5,371.9 332.4,372.1ZM113.4,371.0 111.7,370.6 108.1,369.6 107.4,369.4 108.1,369.2 111.7,368.1 113.4,367.7 115.2,368.1 118.6,369.1 119.6,369.4 118.6,369.6 115.0,370.6 113.4,371.0ZM175.9,370.9 174.8,370.6 170.7,369.6 170.1,369.4 170.7,369.2 174.6,368.1 175.9,367.9 177.2,368.1 181.2,369.2 181.9,369.4 181.2,369.6 177.1,370.6 175.9,370.9ZM275.0,371.0 269.8,371.1 264.6,371.1 259.4,371.2 254.2,370.9 251.8,370.6 248.9,370.1 246.5,369.4 248.9,368.7 252.3,368.1 254.2,367.9 259.4,367.6 264.6,367.7 269.8,367.7 275.0,367.6 277.1,368.1 280.2,368.8 282.1,369.4 280.2,369.9 277.0,370.6 275.0,371.0ZM374.1,375.7 374.1,375.6 368.9,375.0 367.1,374.4 364.7,373.1 363.7,372.8 360.8,371.9 360.4,370.6 360.2,369.4 363.7,368.2 368.9,368.7 372.0,369.4 374.1,370.3 375.3,370.6 377.9,371.9 379.1,373.1 379.3,373.3 381.1,374.4 379.3,375.4 374.2,375.6 374.1,375.7ZM160.3,373.9 158.2,373.1 155.1,372.3 153.9,371.9 155.1,371.5 158.2,370.6 160.3,370.2 163.0,370.6 165.5,371.2 168.1,371.9 165.5,372.8 163.8,373.1 160.3,373.9ZM191.6,436.6 186.4,436.9 181.9,435.6 181.2,435.1 180.0,434.4 181.2,433.8 182.1,433.1 186.2,431.9 186.4,431.8 190.2,430.6 186.5,429.4 186.4,429.3 183.1,428.1 182.6,426.9 181.2,426.3 179.7,426.9 175.9,427.5 170.7,427.7 165.5,427.5 162.1,426.9 160.3,426.1 159.4,425.6 160.3,425.3 162.1,424.4 165.5,423.8 170.7,423.6 175.9,423.8 179.7,423.1 179.7,421.9 180.8,420.6 181.2,420.3 181.9,419.4 184.0,418.1 186.4,417.1 186.7,416.9 188.0,415.6 186.9,414.4 186.4,414.2 181.2,413.5 179.9,413.1 178.5,411.9 179.9,410.6 181.2,410.4 185.3,409.4 185.6,408.1 182.3,406.9 181.2,406.7 177.6,405.6 177.8,404.4 180.9,403.1 181.2,403.1 184.0,401.9 184.1,400.6 183.6,399.4 183.8,398.1 181.2,397.0 180.8,396.9 177.0,395.6 176.4,394.4 180.9,393.1 181.2,393.1 184.2,391.9 184.6,390.6 184.9,389.4 185.5,388.1 181.2,386.9 181.0,386.9 177.5,385.6 177.6,384.4 181.2,383.2 182.0,383.1 186.4,382.7 187.7,381.9 187.8,380.6 186.4,380.1 183.5,379.4 181.2,378.9 178.7,378.1 175.9,377.3 174.1,376.9 173.8,375.6 175.9,375.1 178.3,375.6 181.2,376.2 184.6,375.6 183.9,374.4 181.2,373.4 179.9,373.1 181.2,372.9 184.3,371.9 186.4,371.5 188.6,371.9 191.6,372.8 195.2,373.1 196.8,373.4 202.0,373.5 204.0,373.1 207.2,372.7 212.4,373.0 213.2,373.1 217.7,373.8 220.0,374.4 222.9,375.3 224.1,375.6 225.0,376.9 224.7,378.1 222.9,378.6 217.7,378.9 212.4,378.6 207.2,379.0 204.7,379.4 203.2,380.6 203.7,381.9 204.3,383.1 205.0,384.4 205.4,385.6 205.1,386.9 205.4,388.1 205.7,389.4 205.8,390.6 205.7,391.9 206.0,393.1 206.0,394.4 206.2,395.6 206.0,396.9 206.1,398.1 206.1,399.4 206.1,400.6 206.2,401.9 206.0,403.1 205.8,404.4 205.7,405.6 205.5,406.9 205.3,408.1 205.4,409.4 205.5,410.6 205.3,411.9 204.3,413.1 203.2,414.4 203.0,415.6 204.7,416.9 207.2,417.9 207.9,418.1 210.0,419.4 211.7,420.6 212.4,421.2 213.5,421.9 213.0,423.1 212.4,423.7 211.8,424.4 211.0,425.6 210.4,426.9 211.3,428.1 211.5,429.4 208.1,430.6 207.2,431.3 202.0,431.8 196.8,431.7 191.8,431.9 195.4,433.1 196.3,434.4 195.0,435.6 191.6,436.6ZM102.9,376.0 100.9,375.6 97.7,375.0 95.4,374.4 97.7,373.8 101.1,373.1 102.9,372.8 105.1,373.1 108.1,373.7 111.9,374.4 108.1,375.2 105.4,375.6 102.9,376.0ZM248.9,376.0 243.7,376.1 238.5,376.1 236.5,375.6 233.3,374.4 233.2,374.4 233.3,374.4 236.7,373.1 238.5,372.8 243.7,372.6 248.9,372.8 251.0,373.1 254.2,374.1 255.0,374.4 254.2,374.7 251.1,375.6 248.9,376.0ZM134.2,378.6 132.8,378.1 129.0,377.0 128.7,376.9 129.0,376.8 132.3,375.6 134.2,375.0 137.4,375.6 139.4,376.8 139.5,376.9 139.4,376.9 136.5,378.1 134.2,378.6ZM363.7,378.5 362.2,378.1 358.8,376.9 361.8,375.6 363.7,375.0 367.3,375.6 368.5,376.9 365.8,378.1 363.7,378.5ZM316.7,380.0 311.5,380.2 306.3,380.1 302.2,379.4 301.1,378.9 299.0,378.1 301.1,377.5 302.6,376.9 306.3,376.2 311.5,376.1 316.7,376.3 319.3,376.9 321.8,378.1 319.6,379.4 316.7,380.0ZM165.5,383.4 164.4,383.1 160.3,382.4 158.8,381.9 158.3,380.6 158.6,379.4 160.3,378.9 164.7,378.1 165.5,378.0 166.1,378.1 168.5,379.4 169.5,380.6 168.3,381.9 166.4,383.1 165.5,383.4ZM269.8,381.1 267.2,380.6 264.6,380.0 262.9,379.4 264.6,378.9 267.3,378.1 269.8,377.7 271.9,378.1 275.0,379.3 275.5,379.4 275.0,379.5 271.9,380.6 269.8,381.1ZM290.7,383.6 285.8,383.1 285.5,383.1 282.5,381.9 282.5,380.6 283.0,379.4 285.5,378.6 288.6,378.1 290.7,377.8 292.3,378.1 294.4,379.4 295.2,380.6 294.5,381.9 292.8,383.1 290.7,383.6ZM374.1,383.4 373.1,383.1 369.1,381.9 372.8,380.6 374.1,380.3 375.3,380.6 379.3,381.9 379.5,381.9 379.3,381.9 375.1,383.1 374.1,383.4ZM311.5,386.0 309.9,385.6 306.3,384.7 305.0,384.4 306.3,384.1 310.0,383.1 311.5,382.8 313.0,383.1 316.7,384.2 317.7,384.4 316.7,384.6 313.2,385.6 311.5,386.0ZM139.4,392.1 135.0,391.9 134.2,391.8 130.7,390.6 129.2,389.4 130.6,388.1 134.1,386.9 134.2,386.9 139.4,386.7 140.9,386.9 144.6,387.6 147.9,388.1 148.0,389.4 147.4,390.6 144.6,391.2 140.7,391.9 139.4,392.1ZM368.9,396.2 363.7,396.6 358.5,396.3 355.1,395.6 353.2,395.0 348.0,395.0 342.8,395.4 337.6,395.0 335.1,394.4 332.4,393.6 331.2,393.1 329.5,391.9 329.4,390.6 330.0,389.4 332.4,388.4 333.2,388.1 337.6,387.2 342.4,386.9 342.8,386.8 343.1,386.9 348.0,387.4 351.1,388.1 353.2,389.3 353.6,389.4 355.5,390.6 355.1,391.9 353.2,392.8 352.7,393.1 353.2,393.4 354.2,393.1 358.5,392.6 363.7,392.4 368.9,392.9 370.0,393.1 372.4,394.4 370.3,395.6 368.9,396.2ZM102.9,391.0 101.2,390.6 97.7,389.7 96.7,389.4 97.7,389.1 101.1,388.1 102.9,387.8 104.7,388.1 108.1,389.1 109.3,389.4 108.1,389.7 104.7,390.6 102.9,391.0ZM301.1,391.2 299.0,390.6 295.9,389.8 294.7,389.4 295.9,389.1 299.7,388.1 301.1,387.9 302.4,388.1 306.3,389.0 307.7,389.4 306.3,389.8 302.8,390.6 301.1,391.2ZM290.7,395.3 285.5,395.3 280.2,394.9 275.0,395.3 269.8,395.4 265.6,394.4 264.6,394.2 261.0,393.1 261.1,391.9 262.4,390.6 264.6,390.1 268.7,389.4 269.8,389.2 275.0,389.0 279.8,389.4 280.2,389.5 285.3,390.6 285.5,390.7 290.7,391.2 294.0,391.9 294.2,393.1 294.6,394.4 290.7,395.3ZM123.8,393.4 122.6,393.1 118.6,392.4 117.1,391.9 118.6,391.4 121.8,390.6 123.8,390.2 126.8,390.6 129.0,391.2 133.9,391.9 129.0,392.5 125.3,393.1 123.8,393.4ZM155.1,398.8 151.8,398.1 149.9,398.0 146.3,396.9 146.5,395.6 147.2,394.4 149.9,393.6 153.5,393.1 155.1,392.8 156.0,393.1 158.3,394.4 159.3,395.6 159.5,396.9 157.4,398.1 155.1,398.8ZM228.1,395.8 222.9,396.3 217.7,396.1 215.4,395.6 212.4,394.8 210.9,394.4 212.4,394.0 215.6,393.1 217.7,392.7 222.9,392.6 228.0,393.1 228.1,393.2 232.3,394.4 228.8,395.6 228.1,395.8ZM269.8,401.0 268.4,400.6 264.6,399.9 262.3,399.4 259.4,398.5 258.0,398.1 256.6,396.9 258.0,395.6 259.4,395.5 260.5,395.6 264.6,396.2 266.7,396.9 268.3,398.1 269.8,398.6 272.2,399.4 271.5,400.6 269.8,401.0ZM233.3,405.7 228.1,406.3 222.9,405.8 222.4,405.6 217.7,404.6 216.6,404.4 213.6,403.1 212.4,402.8 209.6,401.9 210.0,400.6 212.4,400.0 217.7,400.0 221.0,400.6 222.9,401.0 227.0,401.9 228.1,402.2 232.1,403.1 231.8,404.4 233.3,405.6 233.5,405.6 233.3,405.7ZM311.5,403.7 309.1,403.1 307.5,401.9 309.1,400.6 311.5,400.1 315.2,400.6 316.7,400.8 321.1,401.9 316.7,402.9 314.9,403.1 311.5,403.7ZM134.2,406.2 132.0,405.6 129.0,404.7 128.1,404.4 129.0,404.1 132.0,403.1 134.2,402.6 136.5,403.1 139.4,404.0 140.8,404.4 139.4,404.8 136.4,405.6 134.2,406.2ZM342.8,405.8 337.6,406.2 335.3,405.6 332.4,405.2 330.1,404.4 332.4,403.7 335.1,403.1 337.6,402.8 342.8,403.1 343.0,403.1 348.0,404.2 349.0,404.4 348.0,404.6 343.2,405.6 342.8,405.8ZM368.9,406.2 363.7,406.4 358.5,406.2 356.2,405.6 355.8,404.4 355.9,403.1 358.5,402.4 363.7,402.1 368.9,402.2 371.7,403.1 371.9,404.4 371.1,405.6 368.9,406.2ZM165.5,407.4 162.5,406.9 160.3,406.5 158.0,405.6 160.3,404.7 162.8,404.4 165.5,404.0 166.9,404.4 168.8,405.6 167.2,406.9 165.5,407.4ZM248.9,408.6 246.7,408.1 243.7,407.4 242.1,406.9 243.7,406.4 247.1,405.6 248.9,405.3 250.9,405.6 254.2,406.3 256.0,406.9 254.2,407.5 251.2,408.1 248.9,408.6ZM269.8,411.1 268.1,410.6 264.6,409.6 263.9,409.4 264.6,409.2 268.3,408.1 269.8,407.8 271.8,408.1 275.0,409.0 277.3,409.4 275.0,409.8 272.0,410.6 269.8,411.1ZM301.1,411.7 296.8,410.6 295.9,410.0 294.5,409.4 295.9,409.1 297.8,408.1 301.1,407.4 305.3,408.1 306.3,408.4 310.0,409.4 306.3,410.6 305.9,410.6 301.1,411.7ZM342.8,411.6 337.6,411.8 332.4,411.5 328.9,410.6 327.2,409.9 326.2,409.4 327.2,409.0 329.3,408.1 332.4,407.6 337.6,407.3 342.8,407.6 345.5,408.1 347.2,409.4 346.1,410.6 342.8,411.6ZM155.1,412.7 149.9,413.0 144.6,412.9 139.4,412.5 136.6,411.9 135.4,410.6 138.3,409.4 139.4,409.2 144.6,408.6 149.9,408.5 155.1,408.8 158.2,409.4 160.2,410.6 158.9,411.9 155.1,412.7ZM217.7,412.6 214.0,411.9 212.4,411.6 209.6,410.6 212.4,409.8 214.1,409.4 217.7,408.8 220.7,409.4 222.9,410.5 223.3,410.6 222.9,410.8 220.8,411.9 217.7,412.6ZM290.7,413.9 287.6,413.1 285.5,412.6 283.1,411.9 285.5,411.3 287.7,410.6 290.7,409.9 294.6,410.6 295.9,411.0 299.8,411.9 295.9,412.8 294.3,413.1 290.7,413.9ZM123.8,415.5 118.6,414.4 118.6,414.4 115.0,413.1 117.7,411.9 118.6,411.6 123.8,410.7 128.6,411.9 129.0,412.2 132.9,413.1 129.0,414.1 128.5,414.4 123.8,415.5ZM139.4,423.9 134.2,423.4 133.1,423.1 129.0,422.7 126.0,421.9 123.8,421.5 121.1,420.6 118.6,419.8 117.4,419.4 114.6,418.1 113.4,417.8 111.1,416.9 111.2,415.6 113.4,415.2 117.6,415.6 118.6,415.8 123.8,416.0 126.1,416.9 129.0,417.6 131.4,418.1 134.2,418.8 136.9,419.4 139.4,420.2 141.5,420.6 143.0,421.9 144.5,423.1 139.4,423.9ZM165.5,418.4 164.2,418.1 160.3,417.2 159.2,416.9 160.3,416.6 163.6,415.6 165.5,415.2 167.3,415.6 170.7,416.8 171.1,416.9 170.7,417.0 166.8,418.1 165.5,418.4ZM285.5,419.0 280.2,419.1 275.0,419.1 269.8,418.5 268.6,418.1 267.2,416.9 268.7,415.6 269.8,415.3 275.0,414.7 280.2,414.7 285.5,414.8 289.1,415.6 290.7,416.2 293.0,416.9 290.7,417.5 288.9,418.1 285.5,419.0ZM342.8,418.5 341.2,418.1 337.9,416.9 340.1,415.6 342.8,414.9 345.0,415.6 347.7,416.9 344.4,418.1 342.8,418.5ZM243.7,421.4 238.5,421.6 234.5,420.6 234.3,419.4 234.3,418.1 238.5,417.1 243.7,417.2 247.7,418.1 248.0,419.4 247.3,420.6 243.7,421.4ZM322.0,421.2 316.7,420.8 316.1,420.6 313.6,419.4 316.7,418.2 316.9,418.1 322.0,417.7 323.8,418.1 327.2,419.4 327.3,419.4 327.2,419.4 323.7,420.6 322.0,421.2ZM102.9,426.0 100.9,425.6 97.7,424.7 96.5,424.4 97.7,424.2 101.2,423.1 102.9,422.8 104.9,423.1 108.1,424.2 109.2,424.4 108.1,424.6 105.0,425.6 102.9,426.0ZM374.1,426.3 371.4,425.6 368.9,425.1 366.4,424.4 368.9,423.9 372.2,423.1 374.1,422.8 375.8,423.1 379.3,423.9 381.0,424.4 379.3,424.9 375.9,425.6 374.1,426.3ZM311.5,428.0 307.6,426.9 306.3,426.2 305.3,425.6 306.3,425.2 307.5,424.4 311.5,423.3 316.2,424.4 316.7,424.8 319.1,425.6 316.7,426.6 316.2,426.9 311.5,428.0ZM129.0,428.4 123.8,428.3 123.1,428.1 120.9,426.9 122.1,425.6 123.8,425.1 129.0,425.1 130.5,425.6 131.8,426.9 129.7,428.1 129.0,428.4ZM363.7,429.0 360.5,428.1 358.5,427.2 357.6,426.9 358.5,426.7 361.1,425.6 363.7,425.0 366.8,425.6 368.9,426.6 370.2,426.9 368.9,427.3 367.4,428.1 363.7,429.0ZM269.8,432.7 266.8,431.9 264.6,431.7 259.4,431.3 257.5,430.6 254.2,429.5 253.8,429.4 252.5,428.1 254.2,427.5 259.4,427.1 264.6,427.3 269.8,427.6 272.4,428.1 275.0,428.9 277.0,429.4 277.6,430.6 275.0,431.6 273.1,431.9 269.8,432.7ZM160.3,432.6 155.1,433.0 151.9,431.9 151.9,430.6 152.5,429.4 155.1,428.7 160.3,429.0 162.0,429.4 162.4,430.6 162.1,431.9 160.3,432.6ZM228.1,432.3 225.9,431.9 222.9,430.9 221.7,430.6 222.9,430.4 226.3,429.4 228.1,429.0 231.6,429.4 233.3,429.7 235.5,430.6 233.3,431.6 231.5,431.9 228.1,432.3ZM311.5,432.5 309.3,431.9 306.3,430.8 305.8,430.6 306.3,430.4 308.7,429.4 311.5,428.4 315.1,429.4 316.7,430.0 318.5,430.6 316.7,431.1 314.2,431.9 311.5,432.5ZM363.7,433.5 361.9,433.1 358.5,432.6 355.8,431.9 358.5,431.2 361.3,430.6 363.7,429.9 366.5,430.6 368.9,431.1 371.4,431.9 368.9,432.5 365.5,433.1 363.7,433.5ZM155.1,438.8 152.9,438.1 149.9,437.6 147.9,436.9 149.9,436.2 152.8,435.6 155.1,434.8 157.7,435.6 160.3,436.2 162.0,436.9 160.3,437.4 156.9,438.1 155.1,438.8ZM217.7,438.4 216.4,438.1 212.8,436.9 216.2,435.6 217.7,435.3 219.1,435.6 222.2,436.9 218.9,438.1 217.7,438.4ZM280.2,438.8 277.3,438.1 275.0,437.3 272.8,436.9 275.0,436.2 276.3,435.6 280.2,434.8 284.2,435.6 285.5,435.9 289.5,436.9 285.5,437.9 284.3,438.1 280.2,438.8ZM348.0,438.5 345.3,438.1 342.8,437.7 340.9,436.9 342.8,436.1 344.7,435.6 348.0,435.1 352.3,435.6 353.2,435.9 355.7,436.9 353.2,438.1 353.2,438.1 348.0,438.5ZM139.4,440.2 134.2,440.4 129.0,440.3 123.8,440.1 121.3,439.4 120.5,438.1 122.0,436.9 123.8,436.5 129.0,436.1 134.2,436.2 139.2,436.9 139.4,437.0 142.6,438.1 142.3,439.4 139.4,440.2ZM285.5,443.8 283.0,443.1 280.2,442.2 279.1,441.9 280.2,441.6 283.6,440.6 285.5,440.0 288.5,440.6 290.7,441.4 292.4,441.9 290.7,442.7 289.7,443.1 285.5,443.8ZM342.8,443.8 337.6,443.9 332.4,443.7 329.4,443.1 328.2,441.9 329.1,440.6 332.4,440.0 337.6,439.8 342.8,440.0 346.4,440.6 348.0,441.3 349.2,441.9 348.0,442.4 346.4,443.1 342.8,443.8ZM149.9,446.0 144.6,445.8 143.5,445.6 139.4,444.9 137.6,444.4 139.4,443.8 143.2,443.1 144.6,442.7 149.9,442.4 154.0,443.1 155.1,443.3 159.0,444.4 155.1,445.4 153.6,445.6 149.9,446.0ZM186.4,446.1 183.7,445.6 181.2,444.7 180.3,444.4 181.2,444.1 183.8,443.1 186.4,442.7 189.0,443.1 191.6,444.1 192.4,444.4 191.6,444.7 189.1,445.6 186.4,446.1ZM259.4,446.5 254.2,446.6 248.9,446.1 247.6,445.6 245.9,444.4 247.7,443.1 248.9,442.9 254.2,442.6 259.4,442.7 261.7,443.1 264.6,444.1 266.2,444.4 264.6,444.9 263.0,445.6 259.4,446.5ZM322.0,446.1 319.7,445.6 316.7,444.8 315.2,444.4 316.7,443.9 319.4,443.1 322.0,442.4 324.4,443.1 327.2,443.8 328.8,444.4 327.2,444.8 324.3,445.6 322.0,446.1ZM374.1,450.0 368.9,450.5 363.7,450.4 359.3,449.4 358.5,448.9 356.2,448.1 355.6,446.9 357.5,445.6 358.5,445.4 361.2,444.4 363.7,443.9 368.9,443.6 374.1,444.2 374.7,444.4 377.1,445.6 378.0,446.9 377.1,448.1 376.2,449.4 374.1,450.0ZM202.0,452.6 196.8,452.9 191.6,452.6 186.4,452.6 181.2,452.5 176.0,451.9 175.9,451.9 170.7,451.2 168.2,450.6 165.5,450.0 163.1,449.4 160.3,448.3 159.9,448.1 159.0,446.9 160.3,446.5 165.5,446.2 170.7,446.4 173.7,446.9 175.9,447.3 181.2,448.0 181.8,448.1 186.4,449.2 191.6,448.7 196.8,448.3 202.0,448.6 206.2,449.4 206.7,450.6 205.8,451.9 202.0,452.6ZM217.7,451.1 214.8,450.6 212.4,449.9 209.4,449.4 212.4,449.0 215.4,448.1 217.7,447.7 220.0,448.1 222.9,448.7 226.0,449.4 222.9,450.1 220.3,450.6 217.7,451.1ZM248.9,453.5 243.7,453.2 243.7,453.1 238.5,452.0 237.9,451.9 238.5,451.8 243.7,450.7 243.9,450.6 248.9,450.3 251.3,450.6 254.2,451.0 257.3,451.9 254.2,452.8 251.7,453.1 248.9,453.5ZM311.5,453.5 310.1,453.1 306.8,451.9 310.1,450.6 311.5,450.3 313.0,450.6 316.7,451.9 313.0,453.1 311.5,453.5ZM228.1,455.2 223.0,454.4 222.9,454.4 221.0,453.1 222.7,451.9 222.9,451.8 228.1,451.1 231.5,451.9 233.3,452.8 234.1,453.1 233.3,453.4 231.4,454.4 228.1,455.2ZM113.4,456.4 110.8,455.6 108.1,454.6 107.7,454.4 108.1,454.3 111.7,453.1 113.4,452.8 115.6,453.1 118.6,454.2 119.7,454.4 118.6,454.8 117.3,455.6 113.4,456.4ZM134.2,456.2 131.1,455.6 129.2,454.4 131.9,453.1 134.2,452.7 136.8,453.1 139.4,453.7 141.4,454.4 139.4,455.1 136.8,455.6 134.2,456.2ZM269.8,456.0 268.0,455.6 264.6,454.6 263.9,454.4 264.6,454.1 266.7,453.1 269.8,452.3 273.9,453.1 275.0,453.9 275.9,454.4 275.0,454.6 271.8,455.6 269.8,456.0ZM348.0,455.8 342.8,456.5 339.4,455.6 338.1,454.4 339.5,453.1 342.8,452.2 348.0,452.5 351.0,453.1 351.6,454.4 348.9,455.6 348.0,455.8ZM92.5,458.7 91.0,458.1 88.0,456.9 91.2,455.6 92.5,455.3 94.1,455.6 97.7,456.8 97.9,456.9 97.7,457.0 95.7,458.1 92.5,458.7ZM337.6,460.9 332.4,461.4 327.2,461.1 324.9,460.6 322.0,459.7 320.9,459.4 318.7,458.1 318.0,456.9 318.6,455.6 322.0,455.0 327.2,455.1 329.8,455.6 332.4,456.1 335.5,456.9 336.6,458.1 337.6,458.7 339.0,459.4 338.7,460.6 337.6,460.9ZM123.8,463.6 122.7,463.1 120.5,461.9 119.2,460.6 120.0,459.4 120.9,458.1 123.8,457.3 126.2,458.1 129.0,458.9 130.3,459.4 131.1,460.6 130.7,461.9 129.0,462.5 125.2,463.1 123.8,463.6ZM191.6,464.8 186.4,465.3 182.7,464.4 181.2,463.8 179.9,463.1 179.7,461.9 180.2,460.6 181.2,460.2 183.1,459.4 186.4,458.3 187.3,458.1 191.6,457.5 196.8,457.4 202.0,457.9 203.0,458.1 204.2,459.4 202.9,460.6 202.0,460.9 196.8,461.5 194.4,461.9 196.8,462.6 198.7,463.1 196.8,464.0 195.3,464.4 191.6,464.8ZM259.4,460.7 254.2,461.2 248.9,461.3 243.7,461.1 240.9,460.6 238.5,460.0 235.8,459.4 238.5,458.8 240.9,458.1 243.7,457.8 248.9,457.5 254.2,457.6 259.4,458.1 259.7,458.1 263.1,459.4 259.5,460.6 259.4,460.7ZM165.5,463.5 164.2,463.1 160.3,462.0 160.0,461.9 160.3,461.8 164.4,460.6 165.5,460.3 166.6,460.6 170.3,461.9 166.7,463.1 165.5,463.5ZM363.7,465.4 358.5,464.6 357.9,464.4 355.8,463.1 358.5,462.1 358.9,461.9 363.7,461.1 368.0,461.9 368.9,462.3 371.1,463.1 368.9,464.2 368.3,464.4 363.7,465.4ZM311.5,469.7 306.3,470.2 301.1,470.3 295.9,470.1 290.7,469.9 287.5,469.4 285.5,469.0 280.2,468.6 278.1,468.1 276.0,466.9 275.0,466.0 269.8,466.4 267.3,465.6 265.1,464.4 267.9,463.1 269.8,462.7 273.9,463.1 275.0,463.3 278.8,464.4 280.2,465.0 285.5,465.3 286.9,465.6 290.7,466.3 295.9,466.0 301.1,466.0 306.3,466.0 307.5,465.6 311.5,464.8 315.1,465.6 316.7,466.9 316.7,466.9 318.5,468.1 316.7,468.7 313.4,469.4 311.5,469.7ZM144.6,470.9 144.2,470.6 139.4,470.2 135.8,469.4 134.2,469.0 130.0,468.1 129.0,467.9 124.7,466.9 125.7,465.6 129.0,465.3 131.5,465.6 134.2,465.8 138.6,466.9 139.4,467.1 143.9,468.1 144.6,468.3 147.4,469.4 145.6,470.6 144.6,470.9ZM175.9,468.4 174.9,468.1 170.7,467.0 170.1,466.9 170.7,466.8 174.9,465.6 175.9,465.4 177.0,465.6 181.2,466.8 181.5,466.9 181.2,467.0 177.0,468.1 175.9,468.4ZM228.1,471.1 226.1,470.6 223.2,469.4 226.6,468.1 228.1,467.8 231.4,468.1 233.3,468.4 236.6,469.4 233.3,470.4 231.6,470.6 228.1,471.1ZM342.8,475.0 337.6,475.0 334.8,474.4 332.4,473.8 330.3,473.1 328.8,471.9 327.2,471.2 325.7,470.6 324.3,469.4 324.4,468.1 327.2,467.2 332.4,467.5 335.5,468.1 337.6,468.6 340.7,469.4 341.9,470.6 342.8,471.0 345.7,471.9 346.1,473.1 345.2,474.4 342.8,475.0ZM353.2,471.0 351.1,470.6 348.0,469.8 346.2,469.4 348.0,469.0 351.0,468.1 353.2,467.5 356.0,468.1 358.5,468.8 360.5,469.4 358.5,469.8 355.0,470.6 353.2,471.0ZM196.8,473.6 194.8,473.1 191.6,472.4 190.0,471.9 191.6,471.4 195.3,470.6 196.8,470.4 198.1,470.6 202.0,471.4 204.4,471.9 202.0,472.5 198.8,473.1 196.8,473.6ZM238.5,476.2 236.1,475.6 233.3,474.9 231.3,474.4 233.3,473.9 235.7,473.1 238.5,472.5 242.4,473.1 243.7,473.7 246.6,474.4 243.7,474.9 241.6,475.6 238.5,476.2ZM139.4,478.2 134.2,478.3 133.4,478.1 130.9,476.9 132.7,475.6 134.2,475.1 139.4,475.3 140.6,475.6 143.5,476.9 139.6,478.1 139.4,478.2ZM160.3,478.5 155.1,478.4 152.7,478.1 149.9,477.7 146.1,476.9 149.9,475.9 151.6,475.6 155.1,475.2 160.3,475.2 165.1,475.6 165.5,475.7 170.7,476.6 171.7,476.9 170.7,477.2 165.5,478.0 164.3,478.1 160.3,478.5ZM191.6,478.5 186.4,478.7 183.2,478.1 181.2,477.8 178.8,476.9 181.2,476.0 183.2,475.6 186.4,475.2 191.6,475.3 194.1,475.6 196.8,476.2 199.7,476.9 196.8,477.6 194.2,478.1 191.6,478.5ZM222.9,481.3 217.7,481.3 212.7,480.6 212.4,480.6 209.8,479.4 209.0,478.1 209.5,476.9 212.4,476.0 214.8,475.6 217.7,475.0 222.9,475.2 224.4,475.6 228.1,476.4 229.5,476.9 230.5,478.1 230.3,479.4 228.1,480.3 226.7,480.6 222.9,481.3ZM374.1,479.2 370.9,478.1 368.9,477.7 366.8,476.9 368.9,476.2 371.5,475.6 374.1,475.0 376.5,475.6 379.3,476.3 381.0,476.9 379.3,477.5 376.9,478.1 374.1,479.2ZM358.5,486.3 353.2,486.7 348.0,486.7 343.8,485.6 343.8,484.4 345.7,483.1 342.8,482.8 338.6,481.9 337.6,481.7 332.4,481.2 330.5,480.6 327.2,480.1 324.7,479.4 322.0,478.6 320.4,478.1 318.7,476.9 322.0,476.4 325.6,476.9 327.2,477.2 332.4,477.6 334.8,478.1 337.6,478.8 340.5,479.4 342.8,479.9 346.2,480.6 348.0,481.3 350.6,481.9 353.2,482.2 358.5,482.0 363.7,482.7 365.2,483.1 363.7,484.2 363.4,484.4 361.1,485.6 358.5,486.3ZM113.4,481.0 111.7,480.6 108.1,479.7 106.7,479.4 108.1,478.6 109.7,478.1 113.4,477.6 116.7,478.1 118.6,478.9 119.6,479.4 118.6,479.6 115.1,480.6 113.4,481.0ZM295.9,483.5 290.7,483.4 289.4,483.1 285.8,481.9 289.1,480.6 290.7,480.2 295.9,480.0 298.9,480.6 301.1,481.1 303.8,481.9 301.1,482.6 298.1,483.1 295.9,483.5ZM129.0,487.0 123.8,487.0 123.3,486.9 120.3,485.6 120.3,484.4 121.0,483.1 123.7,481.9 123.8,481.9 125.1,481.9 129.0,482.0 131.9,483.1 132.8,484.4 133.1,485.6 129.3,486.9 129.0,487.0ZM196.8,484.7 191.6,484.6 186.4,485.1 181.2,485.4 175.9,485.4 171.2,484.4 170.7,484.1 168.8,483.1 170.7,482.2 171.3,481.9 175.9,481.0 181.2,480.9 186.4,481.3 191.6,481.6 196.8,481.6 198.2,481.9 202.0,482.9 203.0,483.1 202.0,483.4 198.2,484.4 196.8,484.7ZM269.8,489.7 264.6,489.8 259.4,489.5 259.1,489.4 254.2,488.7 251.6,488.1 249.2,486.9 250.9,485.6 254.2,484.9 258.7,484.4 259.4,484.3 264.6,483.9 269.8,484.1 272.2,484.4 275.0,484.7 280.2,485.5 280.8,485.6 281.9,486.9 280.6,488.1 280.2,488.2 275.0,489.0 272.1,489.4 269.8,489.7ZM301.1,492.8 295.9,492.8 290.7,492.4 288.8,491.9 287.1,490.6 289.9,489.4 290.7,489.2 295.9,488.7 301.1,488.6 306.0,489.4 306.3,489.5 309.1,490.6 306.3,491.9 306.2,491.9 301.1,492.8ZM342.8,492.6 337.6,492.3 335.8,491.9 335.1,490.6 332.4,489.8 330.8,489.4 332.4,488.8 337.6,488.9 339.5,489.4 341.0,490.6 342.8,491.2 345.1,491.9 342.8,492.6ZM165.5,493.7 162.0,493.1 161.4,491.9 163.2,490.6 165.5,490.3 168.9,490.6 170.7,490.9 173.2,491.9 170.7,492.9 168.9,493.1 165.5,493.7ZM123.8,497.4 121.3,496.9 118.6,496.1 116.8,495.6 115.8,494.4 116.9,493.1 118.6,492.7 121.0,491.9 123.8,491.4 126.4,491.9 129.0,493.0 129.6,493.1 130.8,494.4 129.0,495.2 128.5,495.6 126.3,496.9 123.8,497.4ZM238.5,499.0 235.3,498.1 233.8,496.9 233.3,496.4 232.6,495.6 233.3,495.1 234.2,494.4 237.8,493.1 238.5,493.0 239.3,493.1 243.1,494.4 243.7,494.8 244.9,495.6 243.7,496.5 243.0,496.9 242.1,498.1 238.5,499.0ZM155.1,498.5 153.7,498.1 149.9,497.0 149.3,496.9 149.9,496.7 153.6,495.6 155.1,495.0 156.6,495.6 160.3,496.7 160.9,496.9 160.3,497.0 156.5,498.1 155.1,498.5ZM363.7,502.0 358.5,502.3 356.5,501.9 353.2,501.4 350.2,500.6 348.0,499.5 347.7,499.4 348.0,499.0 348.5,498.1 351.1,496.9 353.2,496.3 358.5,495.8 363.7,495.9 368.9,496.5 370.2,496.9 372.0,498.1 372.2,499.4 371.4,500.6 368.9,501.2 364.1,501.9 363.7,502.0ZM259.4,501.0 254.2,500.8 253.6,500.6 248.9,499.7 246.4,499.4 248.9,498.9 252.1,498.1 254.2,497.9 259.4,497.8 261.9,498.1 264.6,498.7 267.2,499.4 264.6,500.1 261.7,500.6 259.4,501.0ZM191.6,502.3 186.4,502.6 182.5,501.9 181.2,501.6 177.3,500.6 181.2,499.7 182.3,499.4 186.4,498.7 191.6,499.0 193.2,499.4 196.8,500.3 198.0,500.6 196.8,501.0 193.2,501.9 191.6,502.3ZM280.2,506.7 275.0,506.5 271.6,505.6 271.1,504.4 271.3,503.1 275.0,502.1 280.2,502.0 281.4,501.9 285.5,501.4 287.8,501.9 290.5,503.1 289.0,504.4 285.5,505.1 284.4,505.6 280.2,506.7ZM337.6,506.3 335.3,505.6 332.4,504.8 331.2,504.4 332.4,504.1 336.2,503.1 337.6,502.8 340.2,503.1 342.8,503.6 345.3,504.4 342.8,505.2 340.6,505.6 337.6,506.3ZM129.0,508.5 123.8,508.2 123.6,508.1 120.0,506.9 123.7,505.6 123.8,505.6 129.0,505.3 131.4,505.6 134.2,506.1 136.5,506.9 134.2,507.8 132.0,508.1 129.0,508.5ZM306.3,509.8 301.1,510.1 295.9,510.3 290.7,510.4 285.5,510.1 281.7,509.4 282.3,508.1 285.5,507.3 287.3,506.9 290.7,506.1 295.9,505.8 301.1,505.7 306.3,505.7 311.5,506.1 314.5,506.9 313.9,508.1 311.5,508.7 308.6,509.4 306.3,509.8ZM175.9,511.1 173.5,510.6 170.7,510.0 168.8,509.4 170.7,508.8 173.3,508.1 175.9,507.4 178.6,508.1 181.2,509.2 181.7,509.4 181.2,509.5 178.1,510.6 175.9,511.1ZM202.0,514.7 196.8,514.5 196.2,514.4 191.6,513.5 190.4,513.1 189.1,511.9 189.6,510.6 191.6,510.1 195.0,509.4 196.8,509.0 202.0,509.0 204.4,509.4 207.2,509.7 210.5,510.6 210.7,511.9 210.3,513.1 207.2,514.0 204.0,514.4 202.0,514.7ZM348.0,516.8 342.8,516.4 338.2,515.6 337.6,515.5 333.8,514.4 332.4,514.0 329.6,513.1 329.0,511.9 327.8,510.6 329.3,509.4 332.4,508.8 337.4,509.4 337.6,509.4 342.8,509.8 345.5,510.6 347.1,511.9 348.0,512.2 350.9,513.1 351.1,514.4 351.5,515.6 348.0,516.8ZM175.9,515.7 170.7,516.5 165.5,515.6 165.5,515.6 162.3,514.4 162.3,513.1 165.5,512.5 170.7,513.1 171.3,513.1 174.7,514.4 175.9,515.6 176.3,515.6 175.9,515.7ZM238.5,516.1 233.3,516.1 229.3,515.6 228.1,515.5 223.1,514.4 228.1,513.2 228.5,513.1 233.3,512.4 238.5,512.4 242.1,513.1 243.7,513.4 247.8,514.4 243.7,515.3 241.7,515.6 238.5,516.1ZM280.2,516.1 278.3,515.6 275.0,514.5 274.5,514.4 275.0,514.2 277.9,513.1 280.2,512.5 283.6,513.1 285.5,513.4 287.8,514.4 285.5,515.3 283.4,515.6 280.2,516.1ZM186.4,518.6 184.1,518.1 181.2,517.2 178.7,516.9 181.2,516.3 183.0,515.6 186.4,515.1 188.7,515.6 191.6,516.6 192.7,516.9 191.6,517.2 188.5,518.1 186.4,518.6Z" fill="#9090ff" fill-rule="evenodd"/>
<path d="M165.5,297.1 160.3,297.2 155.1,297.0 154.8,296.9 154.0,295.6 154.8,294.4 155.1,294.3 160.3,294.2 165.5,294.2 166.7,294.4 168.5,295.6 166.6,296.9 165.5,297.1ZM238.5,297.0 233.3,297.3 228.1,297.0 225.3,296.9 222.9,296.5 221.6,295.6 222.9,294.5 223.7,294.4 228.1,294.2 233.3,294.1 238.5,294.3 238.9,294.4 240.1,295.6 238.9,296.9 238.5,297.0ZM379.3,297.3 374.1,297.4 371.6,296.9 368.9,295.9 368.4,295.6 367.8,294.4 368.9,293.7 374.1,294.3 374.6,294.4 378.3,295.6 379.3,296.0 380.1,296.9 379.3,297.3ZM129.0,298.2 128.5,298.1 123.8,297.6 122.0,296.9 123.8,296.2 129.0,296.2 134.2,296.8 134.4,296.9 134.2,297.0 129.2,298.1 129.0,298.2ZM311.5,304.0 306.3,303.5 305.0,303.1 301.1,302.2 300.1,301.9 299.5,300.6 299.0,299.4 300.1,298.1 301.1,297.9 305.0,298.1 306.3,298.3 311.5,299.4 311.7,299.4 312.5,300.6 314.5,301.9 314.0,303.1 311.5,304.0ZM285.5,301.6 280.2,301.7 277.7,300.6 280.2,299.6 285.5,299.7 289.0,300.6 285.5,301.6ZM165.5,306.3 160.7,305.6 160.3,305.5 159.0,304.4 159.5,303.1 160.3,303.0 165.5,302.6 166.7,303.1 167.1,304.4 166.7,305.6 165.5,306.3ZM191.6,307.3 186.4,307.5 183.2,306.9 181.2,306.2 180.8,305.6 181.2,305.0 182.4,304.4 186.4,303.8 191.6,304.1 193.1,304.4 195.2,305.6 193.4,306.9 191.6,307.3ZM342.8,306.6 340.0,305.6 342.6,304.4 342.8,304.4 343.0,304.4 345.1,305.6 342.8,306.6ZM368.9,307.1 363.7,307.1 361.3,306.9 358.5,306.4 356.1,305.6 353.2,304.8 352.4,304.4 353.2,303.8 358.5,304.3 359.9,304.4 363.7,305.1 365.3,305.6 368.9,306.7 369.3,306.9 368.9,307.1ZM259.4,309.7 258.3,309.4 254.2,308.5 252.9,308.1 249.5,306.9 254.2,306.7 255.3,306.9 259.4,307.7 260.9,308.1 260.7,309.4 259.4,309.7ZM134.2,311.4 129.0,311.1 128.0,310.6 129.0,310.2 134.2,310.0 135.0,310.6 134.2,311.4ZM322.0,313.9 319.3,313.1 316.7,312.2 316.4,311.9 316.7,311.6 318.7,310.6 322.0,309.8 325.0,310.6 327.2,311.6 327.6,311.9 327.2,312.1 324.7,313.1 322.0,313.9ZM342.8,314.6 340.7,314.4 337.6,313.9 336.2,313.1 337.6,312.5 339.8,311.9 342.8,311.5 344.4,311.9 344.9,313.1 343.5,314.4 342.8,314.6ZM186.4,315.7 186.1,315.6 181.2,314.5 180.7,314.4 181.2,314.3 185.9,313.1 186.4,313.1 186.9,313.1 191.3,314.4 186.6,315.6 186.4,315.7ZM92.5,314.8 91.8,314.4 92.5,314.1 93.4,314.4 92.5,314.8ZM228.1,317.1 222.9,317.3 222.0,316.9 221.0,315.6 221.3,314.4 222.9,313.6 228.1,313.9 229.7,314.4 229.2,315.6 228.5,316.9 228.1,317.1ZM301.1,322.0 300.6,321.9 295.9,320.9 294.7,320.6 290.7,319.6 289.7,319.4 285.5,318.5 282.0,318.1 280.2,317.7 279.2,316.9 278.4,315.6 280.2,315.4 281.2,315.6 285.5,316.6 287.5,316.9 290.7,317.7 293.4,318.1 295.9,318.8 297.7,319.4 301.1,320.3 301.8,320.6 302.1,321.9 301.1,322.0ZM123.8,319.6 118.6,320.0 113.4,319.6 112.7,319.4 113.4,319.2 118.6,318.7 123.8,319.2 124.5,319.4 123.8,319.6ZM212.4,328.5 207.2,329.1 202.0,328.8 199.4,328.1 198.1,326.9 200.4,325.6 202.0,324.4 196.8,323.2 196.7,323.1 195.3,321.9 194.8,320.6 196.8,319.9 199.0,319.4 202.0,319.0 207.2,318.9 212.4,319.1 214.9,319.4 217.7,320.4 218.1,320.6 218.6,321.9 217.7,323.1 217.5,323.1 212.4,323.6 209.5,324.4 212.4,325.5 212.6,325.6 213.5,326.9 213.4,328.1 212.4,328.5ZM264.6,319.6 259.4,319.7 259.0,319.4 259.4,319.2 264.6,319.1 265.1,319.4 264.6,319.6ZM332.4,320.0 331.5,319.4 332.4,318.7 333.3,319.4 332.4,320.0ZM358.5,322.4 353.2,322.6 351.9,321.9 353.2,321.0 358.5,321.4 359.3,321.9 358.5,322.4ZM155.1,325.9 153.8,325.6 149.9,324.4 149.7,324.4 149.9,324.3 153.3,323.1 155.1,322.8 156.5,323.1 159.0,324.4 156.3,325.6 155.1,325.9ZM92.5,325.4 90.0,324.4 92.5,323.3 94.9,324.4 92.5,325.4ZM123.8,325.1 120.4,324.4 123.8,323.6 126.3,324.4 123.8,325.1ZM332.4,325.2 329.5,324.4 332.4,323.5 335.7,324.4 332.4,325.2ZM290.7,328.9 288.3,328.1 285.5,327.0 285.3,326.9 285.5,326.8 288.6,325.6 290.7,325.1 292.7,325.6 294.4,326.9 292.8,328.1 290.7,328.9ZM228.1,330.2 224.2,329.4 222.9,328.6 221.8,328.1 222.9,327.1 223.1,326.9 228.1,325.7 232.2,326.9 233.3,327.6 234.2,328.1 233.3,328.5 231.5,329.4 228.1,330.2ZM259.4,327.5 258.5,326.9 259.4,326.4 262.0,326.9 259.4,327.5ZM353.2,329.7 348.0,329.6 347.4,329.4 346.1,328.1 347.9,326.9 348.0,326.9 353.2,326.7 355.2,326.9 358.5,327.6 359.2,328.1 358.5,328.8 356.2,329.4 353.2,329.7ZM269.8,333.8 267.4,333.1 266.4,331.9 267.2,330.6 264.6,329.9 263.5,329.4 262.3,328.1 264.6,327.6 265.7,328.1 269.8,329.0 271.4,329.4 272.8,330.6 272.8,331.9 271.8,333.1 269.8,333.8ZM374.1,333.4 368.9,333.3 368.6,333.1 366.8,331.9 367.1,330.6 368.1,329.4 368.9,329.0 369.9,328.1 374.1,327.4 377.9,328.1 379.3,328.7 380.8,329.4 379.4,330.6 379.3,330.8 377.1,331.9 374.9,333.1 374.1,333.4ZM186.4,330.1 184.4,329.4 186.4,328.6 188.4,329.4 186.4,330.1ZM175.9,332.0 170.7,332.4 165.5,332.1 160.3,332.8 155.1,332.2 149.9,332.3 144.8,331.9 149.9,331.5 155.1,331.7 160.3,331.4 165.5,331.5 170.7,331.5 175.9,331.8 176.9,331.9 175.9,332.0ZM248.9,332.5 246.2,331.9 248.9,331.3 253.1,331.9 248.9,332.5ZM337.6,337.2 332.4,337.7 327.2,337.3 326.5,336.9 326.4,335.6 327.0,334.4 327.2,334.4 330.9,333.1 332.4,332.5 335.0,331.9 337.6,331.5 342.8,331.6 343.7,331.9 344.8,333.1 343.4,334.4 342.8,335.0 341.6,335.6 338.5,336.9 337.6,337.2ZM123.8,334.7 118.6,334.8 116.9,334.4 118.6,333.8 123.8,333.9 124.7,334.4 123.8,334.7ZM207.2,334.4 207.1,334.4 207.2,334.4 207.3,334.4 207.2,334.4ZM238.5,337.5 236.0,336.9 233.3,336.1 232.7,335.6 233.3,335.0 235.9,334.4 238.5,334.0 239.4,334.4 240.9,335.6 240.1,336.9 238.5,337.5ZM212.4,337.5 210.8,336.9 209.7,335.6 212.4,335.2 213.8,335.6 216.8,336.9 212.4,337.5ZM202.0,337.0 196.8,337.4 195.6,336.9 196.8,336.3 202.0,336.8 202.5,336.9 202.0,337.0ZM306.3,337.4 304.7,336.9 306.3,336.8 311.5,336.9 306.3,337.4ZM186.4,340.9 184.8,340.6 181.2,340.0 178.9,339.4 181.2,338.8 185.1,338.1 186.4,337.9 189.1,338.1 191.6,338.8 193.8,339.4 191.6,340.1 189.8,340.6 186.4,340.9ZM217.7,339.5 217.0,339.4 215.0,338.1 217.7,337.1 219.0,338.1 218.5,339.4 217.7,339.5ZM322.0,339.6 316.7,339.5 316.3,339.4 311.5,338.5 307.8,338.1 311.5,336.9 316.7,337.9 319.3,338.1 322.0,339.0 325.3,339.4 322.0,339.6ZM363.7,340.6 361.0,339.4 363.5,338.1 363.7,338.1 363.9,338.1 368.4,339.4 363.7,340.6ZM102.9,340.3 100.9,339.4 102.9,338.6 105.5,339.4 102.9,340.3ZM175.9,343.3 174.1,343.1 170.7,342.2 170.4,341.9 170.7,341.5 173.3,340.6 175.9,340.4 176.9,340.6 177.6,341.9 176.6,343.1 175.9,343.3ZM259.4,341.6 256.4,340.6 259.4,340.0 261.7,340.6 259.4,341.6ZM233.3,347.0 228.1,347.3 226.0,346.9 225.1,345.6 226.7,344.4 228.1,343.7 230.2,343.1 233.3,342.3 237.0,341.9 238.5,341.8 242.1,341.9 243.7,342.5 244.0,343.1 243.7,343.2 240.3,344.4 238.5,345.5 238.2,345.6 233.7,346.9 233.3,347.0ZM353.2,346.2 351.4,345.6 348.0,344.5 347.4,344.4 348.0,344.3 351.5,343.1 353.2,342.8 355.1,343.1 358.5,343.9 360.4,344.4 358.5,344.9 355.1,345.6 353.2,346.2ZM290.7,345.3 287.4,344.4 290.7,343.5 293.9,344.4 290.7,345.3ZM207.2,353.4 206.5,353.1 205.0,351.9 202.0,350.8 201.7,350.6 201.8,349.4 201.5,348.1 202.0,347.9 205.2,346.9 207.2,345.7 208.7,346.9 210.6,348.1 211.3,349.4 211.7,350.6 208.8,351.9 207.7,353.1 207.2,353.4ZM348.0,352.2 345.5,351.9 342.9,350.6 346.5,349.4 348.0,348.8 351.5,348.1 353.2,347.9 357.2,346.9 358.5,346.6 363.7,346.7 368.9,346.8 369.2,346.9 369.4,348.1 368.9,348.4 365.8,349.4 363.7,350.0 361.3,350.6 358.5,351.2 353.2,351.8 352.8,351.9 348.0,352.2ZM186.4,348.2 181.2,348.8 175.9,349.3 170.7,348.3 170.1,348.1 170.7,348.0 175.9,347.1 181.2,347.6 186.4,348.1 186.5,348.1 186.4,348.2ZM280.2,349.0 278.1,348.1 280.2,347.1 282.5,348.1 280.2,349.0ZM160.3,352.8 157.9,351.9 155.6,350.6 156.4,349.4 160.3,348.7 162.1,349.4 164.4,350.6 163.4,351.9 160.3,352.8ZM248.9,349.8 243.7,349.7 242.5,349.4 243.7,349.1 248.9,349.0 250.7,349.4 248.9,349.8ZM295.9,356.2 290.7,356.1 285.5,356.1 283.6,355.6 281.5,354.4 282.8,353.1 285.5,352.2 288.0,351.9 290.7,351.6 295.8,351.9 295.9,351.9 301.1,353.0 301.7,353.1 302.2,354.4 301.1,354.9 298.3,355.6 295.9,356.2ZM368.9,358.3 363.7,358.4 362.9,358.1 362.3,356.9 362.2,355.6 363.7,355.3 368.3,355.6 368.9,355.8 370.1,356.9 369.6,358.1 368.9,358.3ZM191.6,360.0 186.4,360.3 182.2,359.4 181.2,359.0 179.7,358.1 181.1,356.9 181.2,356.9 186.4,356.1 188.2,356.9 190.9,358.1 191.6,358.4 193.8,359.4 191.6,360.0ZM358.5,364.5 353.2,364.6 348.0,364.5 347.7,364.4 342.8,363.7 340.1,363.1 337.6,362.6 335.6,361.9 332.4,360.9 331.7,360.6 331.5,359.4 332.4,359.2 337.6,359.3 342.8,359.3 343.4,359.4 348.0,360.4 349.2,360.6 353.2,361.5 354.7,361.9 358.5,363.0 359.0,363.1 358.7,364.4 358.5,364.5ZM280.2,365.6 276.0,364.4 280.1,363.1 280.2,363.1 280.4,363.1 283.5,364.4 280.2,365.6ZM139.4,368.2 134.2,368.4 132.5,368.1 129.0,367.4 127.9,366.9 128.6,365.6 129.0,365.1 130.5,364.4 134.2,364.0 139.4,363.9 141.7,364.4 144.6,365.5 145.1,365.6 144.6,366.2 143.5,366.9 140.0,368.1 139.4,368.2ZM196.8,368.8 194.3,368.1 192.6,366.9 194.1,365.6 196.8,365.0 199.9,365.6 202.0,366.7 202.3,366.9 202.0,367.1 199.9,368.1 196.8,368.8ZM374.1,367.8 372.1,366.9 374.1,366.3 376.3,366.9 374.1,367.8ZM269.8,370.7 264.6,370.7 259.4,370.8 257.1,370.6 254.2,370.1 249.5,369.4 254.2,368.8 257.1,368.1 259.4,368.0 264.6,368.1 268.9,368.1 269.8,368.2 275.0,368.9 277.8,369.4 275.0,370.0 271.3,370.6 269.8,370.7ZM332.4,371.3 330.7,370.6 329.6,369.4 330.8,368.1 332.4,367.5 335.5,368.1 337.6,369.0 338.0,369.4 337.6,369.8 335.7,370.6 332.4,371.3ZM113.4,370.3 110.9,369.4 113.4,368.5 115.9,369.4 113.4,370.3ZM175.9,369.8 174.8,369.4 175.9,369.0 177.2,369.4 175.9,369.8ZM374.1,375.1 370.5,374.4 368.9,374.1 366.1,373.1 363.7,372.3 362.4,371.9 361.7,370.6 361.6,369.4 363.7,368.7 368.9,369.1 370.1,369.4 373.0,370.6 374.1,370.9 376.7,371.9 377.4,373.1 378.9,374.4 374.1,375.1ZM165.5,372.1 160.3,373.0 157.0,371.9 160.3,370.7 165.5,371.8 166.0,371.9 165.5,372.1ZM186.4,374.5 186.2,374.4 184.3,373.1 186.2,371.9 186.4,371.9 186.6,371.9 189.2,373.1 187.0,374.4 186.4,374.5ZM243.7,375.7 239.5,375.6 238.5,375.5 237.0,374.4 238.5,373.6 240.0,373.1 243.7,373.0 247.7,373.1 248.9,373.4 251.4,374.4 248.9,375.4 247.0,375.6 243.7,375.7ZM108.1,374.4 102.9,375.2 98.4,374.4 102.9,373.6 108.1,374.4 108.3,374.4 108.1,374.4ZM202.0,431.2 196.8,430.9 195.3,430.6 191.6,429.9 189.6,429.4 187.9,428.1 186.6,426.9 186.4,426.8 183.2,425.6 183.3,424.4 182.7,423.1 183.2,421.9 183.8,420.6 184.9,419.4 186.4,418.8 187.8,418.1 189.4,416.9 190.1,415.6 188.9,414.4 186.4,413.5 184.5,413.1 181.7,411.9 184.6,410.6 186.4,410.2 187.3,409.4 187.2,408.1 186.6,406.9 186.4,406.7 181.2,405.8 180.7,405.6 181.2,404.6 181.2,404.4 184.7,403.1 186.4,402.0 186.4,401.9 186.4,401.7 186.1,400.6 185.4,399.4 186.1,398.1 184.5,396.9 181.2,395.9 180.3,395.6 179.2,394.4 181.2,393.9 184.9,393.1 186.4,392.4 186.6,391.9 186.8,390.6 187.0,389.4 187.3,388.1 186.8,386.9 186.4,386.6 181.2,385.7 180.9,385.6 181.2,384.7 181.3,384.4 186.4,383.6 187.6,383.1 189.3,381.9 189.5,380.6 186.4,379.5 185.9,379.4 181.2,378.4 180.2,378.1 177.8,376.9 181.2,376.8 183.2,376.9 186.4,377.4 187.5,376.9 188.3,375.6 191.6,374.8 195.1,374.4 196.8,374.2 202.0,374.3 207.2,373.6 212.4,373.8 217.7,374.3 218.3,374.4 221.2,375.6 222.9,376.6 223.1,376.9 222.9,377.3 217.7,377.8 212.4,377.4 207.2,377.7 206.2,378.1 202.0,378.9 200.3,379.4 200.9,380.6 201.6,381.9 202.0,382.7 202.3,383.1 203.1,384.4 203.8,385.6 203.8,386.9 204.3,388.1 204.7,389.4 204.8,390.6 204.6,391.9 205.0,393.1 204.9,394.4 205.3,395.6 205.1,396.9 205.2,398.1 205.1,399.4 205.0,400.6 205.1,401.9 205.0,403.1 204.7,404.4 204.6,405.6 204.4,406.9 204.0,408.1 203.9,409.4 203.9,410.6 203.5,411.9 202.0,413.1 202.0,413.2 201.3,414.4 200.8,415.6 200.8,416.9 202.0,417.7 203.0,418.1 206.6,419.4 207.2,419.6 209.2,420.6 211.0,421.9 210.3,423.1 209.1,424.4 207.9,425.6 207.5,426.9 209.6,428.1 210.3,429.4 207.2,430.3 204.7,430.6 202.0,431.2ZM134.2,377.7 132.1,376.9 134.2,375.9 136.2,376.9 134.2,377.7ZM316.7,379.6 311.5,379.6 306.3,379.6 305.1,379.4 303.4,378.1 305.1,376.9 306.3,376.7 311.5,376.7 316.7,376.9 316.8,376.9 318.9,378.1 317.6,379.4 316.7,379.6ZM363.7,377.6 362.4,376.9 363.7,376.1 364.9,376.9 363.7,377.6ZM269.8,380.7 269.5,380.6 265.2,379.4 269.5,378.1 269.8,378.1 270.1,378.1 271.8,379.4 270.1,380.6 269.8,380.7ZM165.5,382.3 162.3,381.9 160.3,381.3 159.9,380.6 160.3,379.7 161.0,379.4 165.5,378.9 166.5,379.4 167.2,380.6 166.2,381.9 165.5,382.3ZM290.7,382.6 285.5,382.3 284.5,381.9 284.3,380.6 285.1,379.4 285.5,379.3 290.7,378.7 292.2,379.4 292.5,380.6 292.0,381.9 290.7,382.6ZM374.1,382.5 372.4,381.9 374.1,381.2 376.0,381.9 374.1,382.5ZM311.5,385.3 308.9,384.4 311.5,383.6 314.0,384.4 311.5,385.3ZM139.4,391.3 134.2,390.9 133.5,390.6 132.3,389.4 132.8,388.1 134.2,387.6 139.4,387.7 142.0,388.1 144.6,389.3 144.7,389.4 144.6,389.5 143.3,390.6 139.4,391.3ZM342.8,394.5 341.7,394.4 337.6,393.8 335.1,393.1 332.4,392.1 332.0,391.9 331.5,390.6 332.4,389.7 333.1,389.4 337.0,388.1 337.6,388.0 342.8,387.8 346.3,388.1 348.0,388.6 349.4,389.4 351.0,390.6 351.2,391.9 349.8,393.1 348.0,393.8 344.0,394.4 342.8,394.5ZM102.9,390.3 100.4,389.4 102.9,388.5 105.7,389.4 102.9,390.3ZM301.1,390.1 298.6,389.4 301.1,388.7 304.4,389.4 301.1,390.1ZM285.5,394.7 282.6,394.4 280.2,393.8 277.2,394.4 275.0,394.6 269.8,394.5 269.5,394.4 264.6,393.3 264.0,393.1 263.5,391.9 264.6,391.1 266.9,390.6 269.8,390.3 275.0,389.6 280.2,390.3 281.7,390.6 285.5,391.4 290.7,391.8 291.3,391.9 291.5,393.1 290.7,394.2 290.3,394.4 285.5,394.7ZM123.8,392.3 120.8,391.9 123.8,391.1 126.9,391.9 123.8,392.3ZM222.9,395.7 220.9,395.6 217.7,395.4 214.4,394.4 217.7,393.5 221.8,393.1 222.9,393.1 223.3,393.1 228.1,393.8 230.0,394.4 228.1,395.0 223.7,395.6 222.9,395.7ZM363.7,396.0 358.5,395.7 358.4,395.6 355.9,394.4 358.5,393.6 359.8,393.1 363.7,392.9 366.4,393.1 368.9,393.9 369.7,394.4 368.9,394.9 366.3,395.6 363.7,396.0ZM155.1,397.6 149.9,397.3 148.7,396.9 148.5,395.6 149.0,394.4 149.9,394.1 155.1,393.8 156.4,394.4 156.5,395.6 157.1,396.9 155.1,397.6ZM259.4,397.2 258.9,396.9 259.4,396.7 260.6,396.9 259.4,397.2ZM269.8,399.5 264.6,399.4 264.6,399.4 262.3,398.1 264.6,397.6 265.7,398.1 269.8,399.4 269.9,399.4 269.8,399.5ZM228.1,405.8 226.5,405.6 222.9,405.0 220.2,404.4 217.7,403.8 215.8,403.1 212.4,402.1 211.9,401.9 212.4,400.9 217.7,400.8 222.9,401.6 224.3,401.9 228.1,402.9 229.2,403.1 229.7,404.4 229.5,405.6 228.1,405.8ZM311.5,403.2 311.5,403.1 309.0,401.9 311.5,400.8 316.7,401.2 319.5,401.9 316.7,402.5 311.6,403.1 311.5,403.2ZM134.2,405.7 134.0,405.6 131.5,404.4 134.0,403.1 134.2,403.1 134.4,403.1 137.5,404.4 134.4,405.6 134.2,405.7ZM368.9,405.7 363.7,405.8 358.5,405.8 357.9,405.6 357.8,404.4 357.9,403.1 358.5,403.0 363.7,402.6 368.9,403.1 369.0,403.1 370.1,404.4 369.1,405.6 368.9,405.7ZM342.8,404.7 337.6,405.1 332.4,404.4 332.3,404.4 332.4,404.4 337.6,403.6 342.8,404.2 344.0,404.4 342.8,404.7ZM165.5,406.6 160.3,405.9 159.6,405.6 160.3,405.4 165.5,404.9 166.7,405.6 165.5,406.6ZM248.9,408.2 248.9,408.1 244.2,406.9 248.9,405.9 254.2,406.9 254.3,406.9 254.2,406.9 249.0,408.1 248.9,408.2ZM301.1,411.1 299.1,410.6 297.2,409.4 299.6,408.1 301.1,407.8 302.9,408.1 306.3,408.8 308.4,409.4 306.3,410.1 303.3,410.6 301.1,411.1ZM342.8,410.7 337.6,411.2 332.4,410.8 331.8,410.6 329.5,409.4 332.0,408.1 332.4,408.1 337.6,407.8 342.8,408.1 343.2,408.1 344.8,409.4 342.9,410.6 342.8,410.7ZM155.1,412.0 149.9,412.2 144.6,412.4 141.9,411.9 139.4,410.9 138.8,410.6 139.4,410.4 142.5,409.4 144.6,409.1 149.9,409.1 155.1,409.3 155.5,409.4 156.7,410.6 155.5,411.9 155.1,412.0ZM217.7,411.9 217.6,411.9 212.4,410.8 211.9,410.6 212.4,410.5 217.0,409.4 217.7,409.3 218.2,409.4 220.1,410.6 217.7,411.9 217.7,411.9ZM269.8,410.2 267.9,409.4 269.8,408.7 272.0,409.4 269.8,410.2ZM290.7,413.2 290.4,413.1 286.0,411.9 290.2,410.6 290.7,410.5 291.2,410.6 295.9,411.9 296.0,411.9 295.9,411.9 291.0,413.1 290.7,413.2ZM123.8,415.1 120.2,414.4 118.6,413.7 116.9,413.1 118.6,412.5 120.0,411.9 123.8,411.1 127.1,411.9 129.0,413.1 129.0,413.1 129.0,413.2 127.0,414.4 123.8,415.1ZM285.5,418.5 280.2,418.4 275.0,418.6 271.7,418.1 269.8,417.5 269.0,416.9 269.8,416.4 272.8,415.6 275.0,415.4 280.2,415.3 285.5,415.2 287.1,415.6 290.7,416.9 290.7,416.9 290.7,416.9 287.1,418.1 285.5,418.5ZM139.4,422.5 134.2,422.5 130.7,421.9 129.0,421.3 124.6,420.6 123.8,420.4 121.8,419.4 118.6,418.7 117.3,418.1 113.4,417.0 113.0,416.9 113.4,416.4 118.6,416.6 123.8,416.7 124.2,416.9 129.0,418.0 129.5,418.1 134.2,419.3 134.6,419.4 137.1,420.6 139.4,421.6 139.8,421.9 139.4,422.5ZM165.5,417.4 163.6,416.9 165.5,416.1 167.0,416.9 165.5,417.4ZM342.8,417.8 340.9,416.9 342.8,415.8 344.7,416.9 342.8,417.8ZM243.7,421.0 238.5,421.3 235.9,420.6 235.6,419.4 235.7,418.1 238.5,417.5 243.7,417.7 245.5,418.1 246.4,419.4 245.2,420.6 243.7,421.0ZM322.0,420.2 316.7,419.9 315.7,419.4 316.7,419.0 322.0,418.4 323.8,419.4 322.0,420.2ZM102.9,425.4 100.4,424.4 102.9,423.6 105.3,424.4 102.9,425.4ZM170.7,427.1 165.5,427.0 164.8,426.9 162.8,425.6 164.6,424.4 165.5,424.2 170.7,424.1 175.9,424.3 176.7,424.4 177.5,425.6 175.9,426.6 174.7,426.9 170.7,427.1ZM311.5,427.2 310.3,426.9 308.5,425.6 309.6,424.4 311.5,423.9 313.7,424.4 314.9,425.6 313.0,426.9 311.5,427.2ZM374.1,425.1 370.7,424.4 374.1,423.6 378.2,424.4 374.1,425.1ZM129.0,427.2 123.8,427.3 122.9,426.9 123.8,426.3 129.0,426.5 129.6,426.9 129.0,427.2ZM363.7,427.9 362.1,426.9 363.7,426.1 365.3,426.9 363.7,427.9ZM269.8,431.4 264.6,431.0 260.9,430.6 259.4,430.3 257.0,429.4 255.6,428.1 259.4,427.8 264.6,427.8 269.8,428.1 270.1,428.1 273.1,429.4 274.4,430.6 269.8,431.4ZM155.1,432.3 153.9,431.9 154.3,430.6 154.2,429.4 155.1,429.1 159.4,429.4 160.3,429.9 160.6,430.6 160.3,431.1 158.7,431.9 155.1,432.3ZM311.5,431.8 308.7,430.6 311.2,429.4 311.5,429.3 311.9,429.4 314.9,430.6 311.5,431.8ZM233.3,430.9 228.1,431.7 225.9,430.6 228.1,429.6 233.3,430.4 233.9,430.6 233.3,430.9ZM363.7,432.6 358.5,432.0 358.1,431.9 358.5,431.8 363.7,431.0 368.7,431.9 363.7,432.6ZM191.6,435.9 186.4,436.4 183.7,435.6 182.3,434.4 184.1,433.1 186.4,432.5 191.6,432.9 192.5,433.1 194.1,434.4 192.5,435.6 191.6,435.9ZM280.2,438.2 279.8,438.1 277.5,436.9 279.8,435.6 280.2,435.6 280.7,435.6 285.5,436.7 286.3,436.9 285.5,437.1 280.8,438.1 280.2,438.2ZM134.2,439.7 129.0,439.6 123.8,439.5 123.6,439.4 122.8,438.1 123.8,437.3 125.2,436.9 129.0,436.6 134.2,436.7 135.8,436.9 139.4,437.9 140.1,438.1 139.4,438.6 136.5,439.4 134.2,439.7ZM155.1,437.3 151.3,436.9 155.1,436.5 157.6,436.9 155.1,437.3ZM217.7,437.5 216.5,436.9 217.7,436.3 218.8,436.9 217.7,437.5ZM353.2,437.0 348.0,437.5 342.8,436.9 348.0,435.8 353.2,436.8 353.5,436.9 353.2,437.0ZM342.8,443.3 337.6,443.3 332.4,443.2 331.9,443.1 331.5,441.9 332.4,440.7 332.6,440.6 337.6,440.4 342.8,440.5 343.5,440.6 345.4,441.9 343.7,443.1 342.8,443.3ZM285.5,443.3 285.0,443.1 282.6,441.9 285.5,440.9 288.3,441.9 286.2,443.1 285.5,443.3ZM186.4,445.8 185.7,445.6 184.0,444.4 186.1,443.1 186.4,443.1 186.7,443.1 188.6,444.4 187.0,445.6 186.4,445.8ZM254.2,446.0 251.6,445.6 248.9,444.9 248.0,444.4 248.9,443.8 252.8,443.1 254.2,443.1 256.7,443.1 259.4,443.4 262.4,444.4 259.4,445.6 259.2,445.6 254.2,446.0ZM155.1,444.8 149.9,444.8 144.6,444.5 142.9,444.4 144.6,444.3 149.9,443.7 155.1,444.0 156.4,444.4 155.1,444.8ZM322.0,445.7 321.7,445.6 319.4,444.4 322.0,443.6 324.9,444.4 322.3,445.6 322.0,445.7ZM368.9,449.7 363.7,449.6 362.8,449.4 360.6,448.1 360.4,446.9 361.0,445.6 363.7,444.5 365.4,444.4 368.9,444.3 370.0,444.4 374.1,445.2 375.1,445.6 375.8,446.9 374.5,448.1 374.1,448.7 372.3,449.4 368.9,449.7ZM202.0,452.3 196.8,452.6 191.6,452.3 186.4,452.3 181.2,452.1 179.1,451.9 175.9,451.5 170.7,450.9 169.6,450.6 165.5,449.6 164.6,449.4 162.2,448.1 161.4,446.9 165.5,446.5 170.7,446.7 171.7,446.9 175.9,447.6 179.6,448.1 181.2,448.5 184.9,449.4 186.4,449.7 188.2,449.4 191.6,449.0 196.8,448.7 202.0,449.0 203.9,449.4 204.9,450.6 204.0,451.9 202.0,452.3ZM217.7,450.7 217.4,450.6 215.2,449.4 217.7,448.4 222.9,449.3 223.6,449.4 222.9,449.5 217.9,450.6 217.7,450.7ZM228.1,454.8 225.9,454.4 222.9,453.2 222.7,453.1 222.9,453.1 226.8,451.9 228.1,451.7 228.9,451.9 230.8,453.1 229.5,454.4 228.1,454.8ZM254.2,452.2 248.9,452.2 243.7,452.3 241.8,451.9 243.7,451.5 248.9,451.7 254.2,451.6 255.1,451.9 254.2,452.2ZM311.5,452.7 309.8,451.9 311.5,451.1 313.4,451.9 311.5,452.7ZM342.8,456.0 341.5,455.6 341.2,454.4 341.5,453.1 342.8,452.8 345.9,453.1 348.0,453.7 349.2,454.4 348.0,454.9 345.1,455.6 342.8,456.0ZM113.4,455.5 111.3,454.4 113.4,453.6 115.4,454.4 113.4,455.5ZM139.4,454.5 134.2,455.5 132.1,454.4 134.2,453.3 139.4,454.3 139.8,454.4 139.4,454.5ZM269.8,455.1 267.9,454.4 269.8,453.4 271.7,454.4 269.8,455.1ZM92.5,457.3 92.1,456.9 92.5,456.7 93.0,456.9 92.5,457.3ZM332.4,460.7 331.3,460.6 327.2,460.2 324.5,459.4 322.0,458.8 320.6,458.1 320.9,456.9 322.0,455.7 327.2,456.0 332.4,456.7 333.0,456.9 333.9,458.1 335.8,459.4 333.2,460.6 332.4,460.7ZM186.4,464.6 185.4,464.4 182.7,463.1 182.9,461.9 183.4,460.6 185.1,459.4 186.4,459.0 190.4,458.1 191.6,458.0 196.8,457.9 199.2,458.1 202.0,459.0 202.4,459.4 202.0,459.8 199.8,460.6 196.8,461.0 191.9,461.9 195.6,463.1 191.6,464.2 190.0,464.4 186.4,464.6ZM254.2,460.8 248.9,460.9 246.0,460.6 243.7,460.1 241.3,459.4 243.7,458.7 245.9,458.1 248.9,457.9 254.2,458.0 255.7,458.1 259.4,459.1 260.2,459.4 259.4,459.7 255.6,460.6 254.2,460.8ZM123.8,462.5 122.6,461.9 122.1,460.6 122.1,459.4 123.8,458.4 127.1,459.4 129.0,460.2 129.4,460.6 129.0,461.2 127.4,461.9 123.8,462.5ZM165.5,462.6 163.6,461.9 165.5,461.3 167.1,461.9 165.5,462.6ZM363.7,464.8 361.6,464.4 359.7,463.1 361.9,461.9 363.7,461.6 365.2,461.9 367.6,463.1 365.5,464.4 363.7,464.8ZM269.8,465.7 269.5,465.6 267.8,464.4 269.8,463.3 275.0,464.0 276.4,464.4 275.0,464.9 270.5,465.6 269.8,465.7ZM306.3,469.6 301.1,469.8 295.9,469.5 293.6,469.4 290.7,469.0 285.5,468.4 282.9,468.1 280.2,467.7 278.5,466.9 280.2,466.0 285.5,466.4 288.8,466.9 290.7,467.4 294.2,466.9 295.9,466.8 301.1,466.7 306.3,466.5 309.6,465.6 311.5,465.2 313.3,465.6 315.0,466.9 315.7,468.1 311.5,469.1 307.7,469.4 306.3,469.6ZM144.6,469.8 139.4,469.7 138.1,469.4 134.2,468.3 133.4,468.1 129.0,467.2 127.8,466.9 129.0,466.5 134.2,466.5 135.9,466.9 139.4,467.7 141.2,468.1 144.6,469.1 145.5,469.4 144.6,469.8ZM175.9,467.4 174.5,466.9 175.9,466.5 177.3,466.9 175.9,467.4ZM342.8,473.9 337.6,473.9 334.4,473.1 332.4,472.5 331.4,471.9 330.2,470.6 327.2,469.8 326.5,469.4 326.9,468.1 327.2,468.1 332.4,468.0 333.1,468.1 337.6,469.2 338.4,469.4 339.4,470.6 342.4,471.9 342.8,472.1 343.6,473.1 342.8,473.9ZM233.3,469.8 228.1,470.5 226.3,469.4 228.1,468.6 233.3,469.0 234.6,469.4 233.3,469.8ZM353.2,469.7 352.2,469.4 353.2,469.0 354.6,469.4 353.2,469.7ZM196.8,472.3 194.3,471.9 196.8,471.6 201.9,471.9 196.8,472.3ZM238.5,475.5 235.6,474.4 238.0,473.1 238.5,473.0 239.3,473.1 241.0,474.4 238.5,475.5ZM139.4,477.4 134.2,477.4 133.0,476.9 134.2,476.2 139.4,476.4 140.9,476.9 139.4,477.4ZM165.5,477.2 160.3,477.2 155.1,477.3 149.9,477.0 149.5,476.9 149.9,476.8 155.1,476.6 160.3,476.5 165.5,476.5 167.7,476.9 165.5,477.2ZM186.4,478.2 186.3,478.1 181.2,477.1 180.5,476.9 181.2,476.7 186.4,475.7 191.6,476.1 196.8,476.8 197.1,476.9 196.8,477.0 191.6,477.8 186.9,478.1 186.4,478.2ZM222.9,480.8 217.7,480.8 216.3,480.6 212.4,479.6 211.9,479.4 211.4,478.1 212.4,477.3 213.8,476.9 217.7,476.3 222.9,476.4 225.4,476.9 228.1,477.7 228.6,478.1 228.6,479.4 228.1,479.6 223.8,480.6 222.9,480.8ZM374.1,478.2 373.8,478.1 368.9,477.0 368.5,476.9 368.9,476.8 374.1,475.9 378.5,476.9 374.3,478.1 374.1,478.2ZM327.2,479.4 324.0,478.1 327.2,477.8 331.4,478.1 327.2,479.4ZM113.4,480.3 111.0,479.4 113.4,478.6 115.2,479.4 113.4,480.3ZM342.8,482.0 342.4,481.9 337.6,481.1 334.8,480.6 332.4,479.7 327.7,479.4 332.4,478.6 337.6,479.3 337.9,479.4 342.8,480.6 343.2,480.6 343.7,481.9 342.8,482.0ZM186.4,484.5 181.2,484.8 175.9,484.7 174.2,484.4 173.5,483.1 174.2,481.9 175.9,481.6 181.2,481.5 186.4,481.8 187.6,481.9 191.6,482.4 196.8,482.6 198.8,483.1 196.8,483.7 191.6,483.8 187.7,484.4 186.4,484.5ZM295.9,482.6 290.7,482.5 288.7,481.9 290.7,481.2 295.9,481.1 299.8,481.9 295.9,482.6ZM129.0,486.2 123.8,486.2 122.4,485.6 122.2,484.4 122.8,483.1 123.8,482.7 129.0,482.9 129.6,483.1 130.5,484.4 130.8,485.6 129.0,486.2ZM358.5,485.7 353.2,486.0 348.0,486.0 346.7,485.6 346.4,484.4 348.0,483.8 351.4,483.1 353.2,482.9 358.5,482.6 361.6,483.1 360.5,484.4 358.9,485.6 358.5,485.7ZM275.0,488.4 269.8,488.9 264.6,488.9 259.4,488.7 255.1,488.1 254.2,487.9 252.2,486.9 253.7,485.6 254.2,485.5 259.4,485.2 264.6,484.6 269.8,485.0 275.0,485.6 275.5,485.6 277.3,486.9 276.5,488.1 275.0,488.4ZM301.1,492.1 295.9,492.2 293.6,491.9 290.7,491.3 289.3,490.6 290.7,490.1 294.2,489.4 295.9,489.2 301.1,489.1 302.8,489.4 306.3,490.3 307.1,490.6 306.3,491.0 302.1,491.9 301.1,492.1ZM337.6,491.2 336.9,490.6 337.6,489.8 338.5,490.6 337.6,491.2ZM123.8,496.5 120.7,495.6 119.3,494.4 120.5,493.1 123.7,491.9 123.8,491.9 123.9,491.9 126.5,493.1 127.0,494.4 125.9,495.6 123.8,496.5ZM170.7,492.3 165.5,492.9 164.0,491.9 165.5,491.0 170.7,491.5 171.6,491.9 170.7,492.3ZM238.5,497.8 236.8,496.9 236.7,495.6 236.5,494.4 238.5,493.7 240.6,494.4 240.9,495.6 240.2,496.9 238.5,497.8ZM155.1,497.3 154.1,496.9 155.1,496.5 156.1,496.9 155.1,497.3ZM363.7,501.2 358.5,501.1 353.4,500.6 353.2,500.6 351.5,499.4 351.3,498.1 353.2,497.4 356.2,496.9 358.5,496.6 363.7,496.6 365.6,496.9 368.9,498.1 369.0,498.1 369.2,499.4 368.9,499.7 367.1,500.6 363.7,501.2ZM186.4,501.9 186.2,501.9 181.2,500.8 180.4,500.6 181.2,500.5 185.6,499.4 186.4,499.3 188.5,499.4 191.6,500.0 194.2,500.6 191.6,501.3 186.9,501.9 186.4,501.9ZM259.4,499.8 254.2,499.9 251.4,499.4 254.2,498.8 259.4,498.8 263.6,499.4 259.4,499.8ZM280.2,506.3 275.0,506.0 273.5,505.6 272.7,504.4 273.3,503.1 275.0,502.7 280.2,502.4 285.5,502.1 287.8,503.1 285.7,504.4 285.5,504.5 282.9,505.6 280.2,506.3ZM342.8,504.4 337.6,504.9 336.4,504.4 337.6,504.1 342.8,504.4 343.0,504.4 342.8,504.4ZM134.2,507.1 129.0,507.6 123.8,507.3 122.6,506.9 123.8,506.5 129.0,506.1 134.2,506.7 134.7,506.9 134.2,507.1ZM301.1,509.6 295.9,509.7 290.7,509.8 285.5,509.4 285.4,509.4 285.2,508.1 285.5,508.1 290.7,507.0 290.9,506.9 295.9,506.4 301.1,506.5 306.3,506.4 310.9,506.9 309.6,508.1 306.3,508.8 304.3,509.4 301.1,509.6ZM175.9,510.7 175.7,510.6 170.7,509.4 170.6,509.4 170.7,509.4 175.5,508.1 175.9,508.0 176.3,508.1 178.3,509.4 176.2,510.6 175.9,510.7ZM207.2,513.3 202.0,513.8 196.8,513.6 194.5,513.1 191.6,512.1 191.3,511.9 191.6,511.5 192.8,510.6 196.8,509.9 202.0,510.1 207.2,510.4 208.1,510.6 208.2,511.9 207.8,513.1 207.2,513.3ZM348.0,516.0 342.8,515.9 341.3,515.6 337.6,514.8 336.4,514.4 332.4,513.2 332.2,513.1 331.4,511.9 331.4,510.6 332.4,510.2 337.6,510.3 340.1,510.6 342.8,511.1 344.8,511.9 348.0,513.1 348.3,513.1 348.9,514.4 348.9,515.6 348.0,516.0ZM170.7,515.9 169.0,515.6 165.5,514.8 164.4,514.4 164.2,513.1 165.5,512.9 167.9,513.1 170.7,513.8 172.4,514.4 172.5,515.6 170.7,515.9ZM243.7,514.6 238.5,514.9 233.3,515.0 228.1,514.7 226.9,514.4 228.1,514.1 233.3,513.5 238.5,513.9 243.7,514.2 244.4,514.4 243.7,514.6ZM285.5,514.7 280.2,515.3 278.2,514.4 280.2,513.6 285.5,514.1 286.2,514.4 285.5,514.7ZM186.4,518.2 186.2,518.1 183.0,516.9 186.2,515.6 186.4,515.6 186.5,515.6 189.6,516.9 186.6,518.1 186.4,518.2Z" fill="#6262ff" fill-rule="evenodd"/>
<path d="M285.5,300.9 280.2,300.7 280.1,300.6 280.2,300.6 285.5,300.4 286.3,300.6 285.5,300.9ZM191.6,306.1 186.4,305.7 186.4,305.6 186.4,305.6 191.6,305.3 192.2,305.6 191.6,306.1ZM186.4,314.6 185.6,314.4 186.4,314.2 186.9,314.4 186.4,314.6ZM228.1,329.8 226.0,329.4 224.4,328.1 225.6,326.9 228.1,326.3 230.2,326.9 231.7,328.1 229.9,329.4 228.1,329.8ZM374.1,331.6 370.3,330.6 370.8,329.4 371.7,328.1 374.1,327.7 376.3,328.1 379.3,329.3 379.5,329.4 379.3,329.6 377.2,330.6 374.1,331.6ZM186.4,340.4 181.2,339.6 180.5,339.4 181.2,339.2 186.4,338.5 190.1,339.4 186.4,340.4ZM358.5,344.4 353.2,345.5 350.2,344.4 353.2,343.2 358.5,344.4 358.6,344.4 358.5,344.4ZM285.5,355.5 284.2,354.4 284.6,353.1 285.5,352.8 290.4,353.1 288.4,354.4 285.5,355.5ZM186.4,359.4 186.3,359.4 186.4,359.3 186.5,359.4 186.4,359.4ZM196.8,368.4 195.6,368.1 195.0,366.9 195.5,365.6 196.8,365.3 198.3,365.6 199.3,366.9 198.2,368.1 196.8,368.4ZM374.1,374.6 373.0,374.4 368.9,373.6 367.6,373.1 364.8,371.9 363.7,371.6 362.9,370.6 363.1,369.4 363.7,369.2 366.7,369.4 368.9,369.7 371.0,370.6 374.1,371.4 375.5,371.9 375.6,373.1 375.6,374.4 374.1,374.6ZM207.2,430.0 202.0,430.6 196.8,430.4 192.2,429.4 191.9,428.1 191.6,427.2 191.4,426.9 186.7,425.6 186.4,424.9 186.2,424.4 185.3,423.1 186.4,422.3 187.0,421.9 186.9,420.6 188.8,419.4 190.8,418.1 191.6,417.5 194.0,416.9 192.4,415.6 191.6,415.1 190.9,414.4 187.5,413.1 186.4,412.4 185.2,411.9 186.4,411.5 187.3,410.6 188.4,409.4 188.3,408.1 188.0,406.9 186.4,405.6 186.4,405.6 184.5,404.4 186.4,403.8 187.0,403.1 187.4,401.9 187.4,400.6 187.0,399.4 187.4,398.1 187.0,396.9 186.4,396.4 183.7,395.6 183.5,394.4 186.4,393.9 187.0,393.1 187.8,391.9 187.9,390.6 188.0,389.4 188.5,388.1 188.0,386.9 186.4,385.9 185.1,385.6 185.4,384.4 186.4,384.2 189.7,383.1 190.9,381.9 191.2,380.6 191.6,380.4 195.9,379.4 193.7,378.1 191.6,377.3 190.9,376.9 191.6,375.9 192.0,375.6 196.8,375.1 202.0,375.5 204.6,375.6 203.0,376.9 202.0,377.8 201.7,378.1 197.3,379.4 199.0,380.6 199.4,381.9 200.6,383.1 201.2,384.4 202.0,385.3 202.3,385.6 202.5,386.9 203.2,388.1 203.6,389.4 203.8,390.6 203.6,391.9 204.1,393.1 203.8,394.4 204.4,395.6 204.2,396.9 204.3,398.1 204.1,399.4 204.0,400.6 204.0,401.9 204.0,403.1 203.7,404.4 203.5,405.6 203.2,406.9 202.8,408.1 202.5,409.4 202.2,410.6 202.0,411.1 201.8,411.9 201.0,413.1 199.9,414.4 199.1,415.6 197.6,416.9 199.3,418.1 202.0,419.0 203.3,419.4 206.5,420.6 207.2,420.9 208.8,421.9 207.7,423.1 207.2,423.6 205.7,424.4 204.2,425.6 202.9,426.9 207.2,427.8 207.9,428.1 209.0,429.4 207.2,430.0ZM285.5,393.3 284.8,393.1 285.5,392.8 285.9,393.1 285.5,393.3ZM316.7,402.2 311.5,402.4 310.5,401.9 311.5,401.4 316.7,401.6 317.8,401.9 316.7,402.2ZM306.3,409.6 301.1,410.5 299.1,409.4 301.1,408.4 306.3,409.3 306.8,409.4 306.3,409.6ZM123.8,414.8 121.8,414.4 118.9,413.1 121.8,411.9 123.8,411.5 125.5,411.9 126.7,413.1 125.6,414.4 123.8,414.8ZM285.5,418.0 280.2,417.1 278.4,416.9 280.2,416.6 285.5,415.9 287.8,416.9 285.5,418.0ZM238.5,421.0 237.3,420.6 236.9,419.4 237.1,418.1 238.5,417.8 243.0,418.1 243.7,418.4 244.8,419.4 243.7,420.3 242.5,420.6 238.5,421.0ZM186.4,435.9 185.4,435.6 184.2,434.4 186.0,433.1 186.4,433.1 187.4,433.1 191.6,434.2 191.9,434.4 191.6,434.6 188.7,435.6 186.4,435.9ZM202.0,451.9 196.8,452.2 191.6,452.0 186.4,451.9 185.7,451.9 181.2,451.6 175.9,451.1 171.6,450.6 170.7,450.4 166.8,449.4 165.5,448.9 164.4,448.1 164.5,446.9 165.5,446.8 167.6,446.9 170.7,447.3 175.9,447.9 177.4,448.1 181.2,449.1 182.5,449.4 186.4,450.3 191.2,449.4 191.6,449.4 196.8,449.0 201.2,449.4 202.0,449.7 203.1,450.6 202.3,451.9 202.0,451.9ZM311.5,468.6 308.1,468.1 307.1,466.9 311.5,465.7 313.4,466.9 313.6,468.1 311.5,468.6ZM186.4,477.0 185.5,476.9 186.4,476.8 187.6,476.9 186.4,477.0ZM186.4,483.2 185.9,483.1 186.4,483.1 187.3,483.1 186.4,483.2ZM186.4,500.7 186.1,500.6 186.4,500.6 186.7,500.6 186.4,500.7ZM280.2,506.0 276.0,505.6 275.0,505.3 274.3,504.4 275.0,503.4 275.6,503.1 280.2,502.8 284.9,503.1 283.4,504.4 281.5,505.6 280.2,506.0Z" fill="#2222ff" fill-rule="evenodd"/>
<path d="M228.1,329.4 227.9,329.4 227.4,328.1 228.1,326.9 228.1,326.9 228.1,326.9 228.7,328.1 228.3,329.4 228.1,329.4ZM374.1,330.9 373.0,330.6 373.4,329.4 373.5,328.1 374.1,328.0 374.7,328.1 375.4,329.4 375.0,330.6 374.1,330.9ZM186.4,339.7 184.2,339.4 186.4,339.1 187.5,339.4 186.4,339.7ZM353.2,344.5 352.9,344.4 353.2,344.2 354.0,344.4 353.2,344.5ZM368.9,371.1 368.0,370.6 368.9,370.6 369.1,370.6 368.9,371.1ZM374.1,372.6 371.1,371.9 374.1,371.8 374.3,371.9 374.1,372.6ZM196.8,416.1 195.5,415.6 193.3,414.4 191.6,413.9 189.5,413.1 187.8,411.9 188.8,410.6 189.6,409.4 189.4,408.1 189.3,406.9 188.1,405.6 187.1,404.4 188.2,403.1 188.3,401.9 188.6,400.6 188.1,399.4 188.5,398.1 188.4,396.9 186.7,395.6 187.5,394.4 188.1,393.1 189.0,391.9 188.9,390.6 189.1,389.4 189.7,388.1 189.2,386.9 188.3,385.6 189.1,384.4 191.6,383.3 191.9,383.1 195.5,381.9 195.7,380.6 196.8,380.4 197.2,380.6 197.2,381.9 199.0,383.1 199.5,384.4 200.7,385.6 200.9,386.9 202.0,388.1 202.0,388.1 202.6,389.4 202.7,390.6 202.5,391.9 203.1,393.1 202.7,394.4 203.5,395.6 203.2,396.9 203.4,398.1 203.2,399.4 202.9,400.6 202.9,401.9 202.9,403.1 202.6,404.4 202.4,405.6 202.1,406.9 202.0,407.1 201.3,408.1 201.3,409.4 201.1,410.6 200.7,411.9 199.9,413.1 198.5,414.4 197.5,415.6 196.8,416.1ZM301.1,409.5 301.0,409.4 301.1,409.3 301.5,409.4 301.1,409.5ZM123.8,414.5 123.4,414.4 122.8,413.1 123.6,411.9 123.8,411.9 124.0,411.9 124.4,413.1 124.2,414.4 123.8,414.5ZM238.5,420.3 238.2,419.4 238.5,418.2 240.5,419.4 238.5,420.3ZM196.8,425.8 195.8,425.6 191.6,424.4 191.6,424.4 191.5,423.1 189.9,421.9 190.9,420.6 191.6,420.3 196.8,420.0 202.0,420.5 202.3,420.6 205.5,421.9 203.7,423.1 202.0,424.0 199.6,424.4 197.1,425.6 196.8,425.8ZM207.2,429.6 202.0,430.1 196.8,430.0 194.0,429.4 194.6,428.1 196.8,427.2 202.0,427.4 205.6,428.1 207.2,428.9 207.8,429.4 207.2,429.6ZM186.4,434.6 186.1,434.4 186.4,434.3 187.0,434.4 186.4,434.6ZM170.7,449.5 170.2,449.4 169.2,448.1 170.7,448.0 172.8,448.1 173.2,449.4 170.7,449.5ZM196.8,451.7 194.6,450.6 196.1,449.4 196.8,449.4 197.4,449.4 199.3,450.6 196.8,451.7ZM181.2,450.7 175.9,450.8 175.0,450.6 175.9,449.9 181.2,450.5 181.9,450.6 181.2,450.7ZM311.5,467.7 311.2,466.9 311.5,466.8 311.7,466.9 311.5,467.7ZM280.2,505.3 278.1,504.4 280.2,503.4 281.1,504.4 280.2,505.3Z" fill="#0000e6" fill-rule="evenodd"/>
<path d="M196.8,414.8 196.0,414.4 191.6,413.2 191.5,413.1 190.0,411.9 190.2,410.6 190.8,409.4 190.6,408.1 190.7,406.9 189.8,405.6 189.0,404.4 189.4,403.1 189.3,401.9 189.9,400.6 189.3,399.4 189.6,398.1 189.7,396.9 188.4,395.6 189.5,394.4 189.2,393.1 190.2,391.9 189.9,390.6 190.1,389.4 190.8,388.1 190.3,386.9 191.0,385.6 191.6,385.1 193.3,384.4 195.5,383.1 196.8,382.8 197.4,383.1 197.9,384.4 199.1,385.6 199.3,386.9 200.6,388.1 201.5,389.4 201.7,390.6 201.3,391.9 202.0,392.9 202.2,393.1 202.0,393.5 201.3,394.4 202.0,394.8 202.6,395.6 202.3,396.9 202.5,398.1 202.2,399.4 202.0,400.2 201.9,400.6 201.8,401.9 201.9,403.1 201.4,404.4 201.2,405.6 200.3,406.9 199.5,408.1 200.3,409.4 200.0,410.6 199.6,411.9 198.8,413.1 197.2,414.4 196.8,414.8ZM202.0,429.6 196.8,429.6 195.7,429.4 196.8,428.4 198.7,428.1 202.0,428.0 202.8,428.1 204.5,429.4 202.0,429.6Z" fill="#0000aa" fill-rule="evenodd"/>
<path d="M196.8,413.8 194.3,413.1 192.4,411.9 191.8,410.6 192.2,409.4 192.2,408.1 193.1,406.9 191.6,405.9 191.5,405.6 190.9,404.4 190.6,403.1 190.2,401.9 191.1,400.6 190.5,399.4 190.7,398.1 191.1,396.9 190.0,395.6 191.4,394.4 190.3,393.1 191.4,391.9 191.0,390.6 191.2,389.4 191.6,388.8 192.5,388.1 191.6,387.0 191.5,386.9 191.6,386.8 194.7,385.6 196.8,384.9 197.6,385.6 197.6,386.9 199.2,388.1 200.3,389.4 200.4,390.6 200.0,391.9 200.7,393.1 199.1,394.4 200.5,395.6 198.9,396.9 199.8,398.1 200.3,399.4 200.7,400.6 200.4,401.9 200.5,403.1 200.0,404.4 199.9,405.6 198.5,406.9 197.7,408.1 199.3,409.4 199.0,410.6 198.5,411.9 197.7,413.1 196.8,413.8Z" fill="#00007d" fill-rule="evenodd"/>
<path d="M196.8,394.8 196.5,394.4 191.6,393.3 191.4,393.1 191.6,392.9 193.6,391.9 192.5,390.6 192.9,389.4 195.1,388.1 196.8,387.5 197.7,388.1 199.0,389.4 199.1,390.6 198.7,391.9 199.2,393.1 196.9,394.4 196.8,394.8ZM196.8,406.8 193.6,405.6 193.2,404.4 192.0,403.1 191.6,402.8 191.2,401.9 191.6,401.4 192.7,400.6 192.1,399.4 196.8,398.6 198.2,399.4 199.5,400.6 198.9,401.9 199.1,403.1 198.7,404.4 198.6,405.6 196.8,406.8ZM196.8,412.9 195.2,411.9 194.3,410.6 194.1,409.4 196.8,408.5 198.3,409.4 197.9,410.6 197.4,411.9 196.8,412.9Z" fill="#00004a" fill-rule="evenodd"/>
<path d="M196.8,393.6 194.7,393.1 195.8,391.9 194.9,390.6 195.1,389.4 196.8,388.5 197.8,389.4 197.8,390.6 197.4,391.9 197.7,393.1 196.8,393.6ZM196.8,406.0 195.9,405.6 195.7,404.4 194.8,403.1 194.5,401.9 194.5,400.6 196.8,399.7 198.3,400.6 197.5,401.9 197.8,403.1 197.4,404.4 197.3,405.6 196.8,406.0ZM196.8,410.7 196.7,410.6 195.9,409.4 196.8,409.1 197.3,409.4 196.8,410.6 196.8,410.7Z" fill="#000020" fill-rule="evenodd"/>
<path d="M165.5,297.1 160.3,297.2 155.1,297.0 154.8,296.9 154.0,295.6 154.8,294.4 155.1,294.3 160.3,294.2 165.5,294.2 166.7,294.4 168.5,295.6 166.6,296.9 165.5,297.1ZM238.5,297.0 233.3,297.3 228.1,297.0 225.3,296.9 222.9,296.5 221.6,295.6 222.9,294.5 223.7,294.4 228.1,294.2 233.3,294.1 238.5,294.3 238.9,294.4 240.1,295.6 238.9,296.9 238.5,297.0ZM379.3,297.3 374.1,297.4 371.6,296.9 368.9,295.9 368.4,295.6 367.8,294.4 368.9,293.7 374.1,294.3 374.6,294.4 378.3,295.6 379.3,296.0 380.1,296.9 379.3,297.3ZM129.0,298.2 128.5,298.1 123.8,297.6 122.0,296.9 123.8,296.2 129.0,296.2 134.2,296.8 134.4,296.9 134.2,297.0 129.2,298.1 129.0,298.2ZM311.5,304.0 306.3,303.5 305.0,303.1 301.1,302.2 300.1,301.9 299.5,300.6 299.0,299.4 300.1,298.1 301.1,297.9 305.0,298.1 306.3,298.3 311.5,299.4 311.7,299.4 312.5,300.6 314.5,301.9 314.0,303.1 311.5,304.0ZM285.5,301.6 280.2,301.7 277.7,300.6 280.2,299.6 285.5,299.7 289.0,300.6 285.5,301.6ZM165.5,306.3 160.7,305.6 160.3,305.5 159.0,304.4 159.5,303.1 160.3,303.0 165.5,302.6 166.7,303.1 167.1,304.4 166.7,305.6 165.5,306.3ZM191.6,307.3 186.4,307.5 183.2,306.9 181.2,306.2 180.8,305.6 181.2,305.0 182.4,304.4 186.4,303.8 191.6,304.1 193.1,304.4 195.2,305.6 193.4,306.9 191.6,307.3ZM342.8,306.6 340.0,305.6 342.6,304.4 342.8,304.4 343.0,304.4 345.1,305.6 342.8,306.6ZM368.9,307.1 363.7,307.1 361.3,306.9 358.5,306.4 356.1,305.6 353.2,304.8 352.4,304.4 353.2,303.8 358.5,304.3 359.9,304.4 363.7,305.1 365.3,305.6 368.9,306.7 369.3,306.9 368.9,307.1ZM259.4,309.7 258.3,309.4 254.2,308.5 252.9,308.1 249.5,306.9 254.2,306.7 255.3,306.9 259.4,307.7 260.9,308.1 260.7,309.4 259.4,309.7ZM134.2,311.4 129.0,311.1 128.0,310.6 129.0,310.2 134.2,310.0 135.0,310.6 134.2,311.4ZM322.0,313.9 319.3,313.1 316.7,312.2 316.4,311.9 316.7,311.6 318.7,310.6 322.0,309.8 325.0,310.6 327.2,311.6 327.6,311.9 327.2,312.1 324.7,313.1 322.0,313.9ZM342.8,314.6 340.7,314.4 337.6,313.9 336.2,313.1 337.6,312.5 339.8,311.9 342.8,311.5 344.4,311.9 344.9,313.1 343.5,314.4 342.8,314.6ZM186.4,315.7 186.1,315.6 181.2,314.5 180.7,314.4 181.2,314.3 185.9,313.1 186.4,313.1 186.9,313.1 191.3,314.4 186.6,315.6 186.4,315.7ZM92.5,314.8 91.8,314.4 92.5,314.1 93.4,314.4 92.5,314.8ZM228.1,317.1 222.9,317.3 222.0,316.9 221.0,315.6 221.3,314.4 222.9,313.6 228.1,313.9 229.7,314.4 229.2,315.6 228.5,316.9 228.1,317.1ZM301.1,322.0 300.6,321.9 295.9,320.9 294.7,320.6 290.7,319.6 289.7,319.4 285.5,318.5 282.0,318.1 280.2,317.7 279.2,316.9 278.4,315.6 280.2,315.4 281.2,315.6 285.5,316.6 287.5,316.9 290.7,317.7 293.4,318.1 295.9,318.8 297.7,319.4 301.1,320.3 301.8,320.6 302.1,321.9 301.1,322.0ZM123.8,319.6 118.6,320.0 113.4,319.6 112.7,319.4 113.4,319.2 118.6,318.7 123.8,319.2 124.5,319.4 123.8,319.6ZM212.4,328.5 207.2,329.1 202.0,328.8 199.4,328.1 198.1,326.9 200.4,325.6 202.0,324.4 196.8,323.2 196.7,323.1 195.3,321.9 194.8,320.6 196.8,319.9 199.0,319.4 202.0,319.0 207.2,318.9 212.4,319.1 214.9,319.4 217.7,320.4 218.1,320.6 218.6,321.9 217.7,323.1 217.5,323.1 212.4,323.6 209.5,324.4 212.4,325.5 212.6,325.6 213.5,326.9 213.4,328.1 212.4,328.5ZM264.6,319.6 259.4,319.7 259.0,319.4 259.4,319.2 264.6,319.1 265.1,319.4 264.6,319.6ZM332.4,320.0 331.5,319.4 332.4,318.7 333.3,319.4 332.4,320.0ZM358.5,322.4 353.2,322.6 351.9,321.9 353.2,321.0 358.5,321.4 359.3,321.9 358.5,322.4ZM155.1,325.9 153.8,325.6 149.9,324.4 149.7,324.4 149.9,324.3 153.3,323.1 155.1,322.8 156.5,323.1 159.0,324.4 156.3,325.6 155.1,325.9ZM92.5,325.4 90.0,324.4 92.5,323.3 94.9,324.4 92.5,325.4ZM123.8,325.1 120.4,324.4 123.8,323.6 126.3,324.4 123.8,325.1ZM332.4,325.2 329.5,324.4 332.4,323.5 335.7,324.4 332.4,325.2ZM290.7,328.9 288.3,328.1 285.5,327.0 285.3,326.9 285.5,326.8 288.6,325.6 290.7,325.1 292.7,325.6 294.4,326.9 292.8,328.1 290.7,328.9ZM228.1,330.2 224.2,329.4 222.9,328.6 221.8,328.1 222.9,327.1 223.1,326.9 228.1,325.7 232.2,326.9 233.3,327.6 234.2,328.1 233.3,328.5 231.5,329.4 228.1,330.2ZM259.4,327.5 258.5,326.9 259.4,326.4 262.0,326.9 259.4,327.5ZM353.2,329.7 348.0,329.6 347.4,329.4 346.1,328.1 347.9,326.9 348.0,326.9 353.2,326.7 355.2,326.9 358.5,327.6 359.2,328.1 358.5,328.8 356.2,329.4 353.2,329.7ZM269.8,333.8 267.4,333.1 266.4,331.9 267.2,330.6 264.6,329.9 263.5,329.4 262.3,328.1 264.6,327.6 265.7,328.1 269.8,329.0 271.4,329.4 272.8,330.6 272.8,331.9 271.8,333.1 269.8,333.8ZM374.1,333.4 368.9,333.3 368.6,333.1 366.8,331.9 367.1,330.6 368.1,329.4 368.9,329.0 369.9,328.1 374.1,327.4 377.9,328.1 379.3,328.7 380.8,329.4 379.4,330.6 379.3,330.8 377.1,331.9 374.9,333.1 374.1,333.4ZM186.4,330.1 184.4,329.4 186.4,328.6 188.4,329.4 186.4,330.1ZM175.9,332.0 170.7,332.4 165.5,332.1 160.3,332.8 155.1,332.2 149.9,332.3 144.8,331.9 149.9,331.5 155.1,331.7 160.3,331.4 165.5,331.5 170.7,331.5 175.9,331.8 176.9,331.9 175.9,332.0ZM248.9,332.5 246.2,331.9 248.9,331.3 253.1,331.9 248.9,332.5ZM337.6,337.2 332.4,337.7 327.2,337.3 326.5,336.9 326.4,335.6 327.0,334.4 327.2,334.4 330.9,333.1 332.4,332.5 335.0,331.9 337.6,331.5 342.8,331.6 343.7,331.9 344.8,333.1 343.4,334.4 342.8,335.0 341.6,335.6 338.5,336.9 337.6,337.2ZM123.8,334.7 118.6,334.8 116.9,334.4 118.6,333.8 123.8,333.9 124.7,334.4 123.8,334.7ZM207.2,334.4 207.1,334.4 207.2,334.4 207.3,334.4 207.2,334.4ZM238.5,337.5 236.0,336.9 233.3,336.1 232.7,335.6 233.3,335.0 235.9,334.4 238.5,334.0 239.4,334.4 240.9,335.6 240.1,336.9 238.5,337.5ZM212.4,337.5 210.8,336.9 209.7,335.6 212.4,335.2 213.8,335.6 216.8,336.9 212.4,337.5ZM202.0,337.0 196.8,337.4 195.6,336.9 196.8,336.3 202.0,336.8 202.5,336.9 202.0,337.0ZM306.3,337.4 304.7,336.9 306.3,336.8 311.5,336.9 306.3,337.4ZM186.4,340.9 184.8,340.6 181.2,340.0 178.9,339.4 181.2,338.8 185.1,338.1 186.4,337.9 189.1,338.1 191.6,338.8 193.8,339.4 191.6,340.1 189.8,340.6 186.4,340.9ZM217.7,339.5 217.0,339.4 215.0,338.1 217.7,337.1 219.0,338.1 218.5,339.4 217.7,339.5ZM322.0,339.6 316.7,339.5 316.3,339.4 311.5,338.5 307.8,338.1 311.5,336.9 316.7,337.9 319.3,338.1 322.0,339.0 325.3,339.4 322.0,339.6ZM363.7,340.6 361.0,339.4 363.5,338.1 363.7,338.1 363.9,338.1 368.4,339.4 363.7,340.6ZM102.9,340.3 100.9,339.4 102.9,338.6 105.5,339.4 102.9,340.3ZM175.9,343.3 174.1,343.1 170.7,342.2 170.4,341.9 170.7,341.5 173.3,340.6 175.9,340.4 176.9,340.6 177.6,341.9 176.6,343.1 175.9,343.3ZM259.4,341.6 256.4,340.6 259.4,340.0 261.7,340.6 259.4,341.6ZM233.3,347.0 228.1,347.3 226.0,346.9 225.1,345.6 226.7,344.4 228.1,343.7 230.2,343.1 233.3,342.3 237.0,341.9 238.5,341.8 242.1,341.9 243.7,342.5 244.0,343.1 243.7,343.2 240.3,344.4 238.5,345.5 238.2,345.6 233.7,346.9 233.3,347.0ZM353.2,346.2 351.4,345.6 348.0,344.5 347.4,344.4 348.0,344.3 351.5,343.1 353.2,342.8 355.1,343.1 358.5,343.9 360.4,344.4 358.5,344.9 355.1,345.6 353.2,346.2ZM290.7,345.3 287.4,344.4 290.7,343.5 293.9,344.4 290.7,345.3ZM207.2,353.4 206.5,353.1 205.0,351.9 202.0,350.8 201.7,350.6 201.8,349.4 201.5,348.1 202.0,347.9 205.2,346.9 207.2,345.7 208.7,346.9 210.6,348.1 211.3,349.4 211.7,350.6 208.8,351.9 207.7,353.1 207.2,353.4ZM348.0,352.2 345.5,351.9 342.9,350.6 346.5,349.4 348.0,348.8 351.5,348.1 353.2,347.9 357.2,346.9 358.5,346.6 363.7,346.7 368.9,346.8 369.2,346.9 369.4,348.1 368.9,348.4 365.8,349.4 363.7,350.0 361.3,350.6 358.5,351.2 353.2,351.8 352.8,351.9 348.0,352.2ZM186.4,348.2 181.2,348.8 175.9,349.3 170.7,348.3 170.1,348.1 170.7,348.0 175.9,347.1 181.2,347.6 186.4,348.1 186.5,348.1 186.4,348.2ZM280.2,349.0 278.1,348.1 280.2,347.1 282.5,348.1 280.2,349.0ZM160.3,352.8 157.9,351.9 155.6,350.6 156.4,349.4 160.3,348.7 162.1,349.4 164.4,350.6 163.4,351.9 160.3,352.8ZM248.9,349.8 243.7,349.7 242.5,349.4 243.7,349.1 248.9,349.0 250.7,349.4 248.9,349.8ZM295.9,356.2 290.7,356.1 285.5,356.1 283.6,355.6 281.5,354.4 282.8,353.1 285.5,352.2 288.0,351.9 290.7,351.6 295.8,351.9 295.9,351.9 301.1,353.0 301.7,353.1 302.2,354.4 301.1,354.9 298.3,355.6 295.9,356.2ZM368.9,358.3 363.7,358.4 362.9,358.1 362.3,356.9 362.2,355.6 363.7,355.3 368.3,355.6 368.9,355.8 370.1,356.9 369.6,358.1 368.9,358.3ZM191.6,360.0 186.4,360.3 182.2,359.4 181.2,359.0 179.7,358.1 181.1,356.9 181.2,356.9 186.4,356.1 188.2,356.9 190.9,358.1 191.6,358.4 193.8,359.4 191.6,360.0ZM358.5,364.5 353.2,364.6 348.0,364.5 347.7,364.4 342.8,363.7 340.1,363.1 337.6,362.6 335.6,361.9 332.4,360.9 331.7,360.6 331.5,359.4 332.4,359.2 337.6,359.3 342.8,359.3 343.4,359.4 348.0,360.4 349.2,360.6 353.2,361.5 354.7,361.9 358.5,363.0 359.0,363.1 358.7,364.4 358.5,364.5ZM280.2,365.6 276.0,364.4 280.1,363.1 280.2,363.1 280.4,363.1 283.5,364.4 280.2,365.6ZM139.4,368.2 134.2,368.4 132.5,368.1 129.0,367.4 127.9,366.9 128.6,365.6 129.0,365.1 130.5,364.4 134.2,364.0 139.4,363.9 141.7,364.4 144.6,365.5 145.1,365.6 144.6,366.2 143.5,366.9 140.0,368.1 139.4,368.2ZM196.8,368.8 194.3,368.1 192.6,366.9 194.1,365.6 196.8,365.0 199.9,365.6 202.0,366.7 202.3,366.9 202.0,367.1 199.9,368.1 196.8,368.8ZM374.1,367.8 372.1,366.9 374.1,366.3 376.3,366.9 374.1,367.8ZM269.8,370.7 264.6,370.7 259.4,370.8 257.1,370.6 254.2,370.1 249.5,369.4 254.2,368.8 257.1,368.1 259.4,368.0 264.6,368.1 268.9,368.1 269.8,368.2 275.0,368.9 277.8,369.4 275.0,370.0 271.3,370.6 269.8,370.7ZM332.4,371.3 330.7,370.6 329.6,369.4 330.8,368.1 332.4,367.5 335.5,368.1 337.6,369.0 338.0,369.4 337.6,369.8 335.7,370.6 332.4,371.3ZM113.4,370.3 110.9,369.4 113.4,368.5 115.9,369.4 113.4,370.3ZM175.9,369.8 174.8,369.4 175.9,369.0 177.2,369.4 175.9,369.8ZM374.1,375.1 370.5,374.4 368.9,374.1 366.1,373.1 363.7,372.3 362.4,371.9 361.7,370.6 361.6,369.4 363.7,368.7 368.9,369.1 370.1,369.4 373.0,370.6 374.1,370.9 376.7,371.9 377.4,373.1 378.9,374.4 374.1,375.1ZM165.5,372.1 160.3,373.0 157.0,371.9 160.3,370.7 165.5,371.8 166.0,371.9 165.5,372.1ZM186.4,374.5 186.2,374.4 184.3,373.1 186.2,371.9 186.4,371.9 186.6,371.9 189.2,373.1 187.0,374.4 186.4,374.5ZM243.7,375.7 239.5,375.6 238.5,375.5 237.0,374.4 238.5,373.6 240.0,373.1 243.7,373.0 247.7,373.1 248.9,373.4 251.4,374.4 248.9,375.4 247.0,375.6 243.7,375.7ZM108.1,374.4 102.9,375.2 98.4,374.4 102.9,373.6 108.1,374.4 108.3,374.4 108.1,374.4ZM202.0,431.2 196.8,430.9 195.3,430.6 191.6,429.9 189.6,429.4 187.9,428.1 186.6,426.9 186.4,426.8 183.2,425.6 183.3,424.4 182.7,423.1 183.2,421.9 183.8,420.6 184.9,419.4 186.4,418.8 187.8,418.1 189.4,416.9 190.1,415.6 188.9,414.4 186.4,413.5 184.5,413.1 181.7,411.9 184.6,410.6 186.4,410.2 187.3,409.4 187.2,408.1 186.6,406.9 186.4,406.7 181.2,405.8 180.7,405.6 181.2,404.6 181.2,404.4 184.7,403.1 186.4,402.0 186.4,401.9 186.4,401.7 186.1,400.6 185.4,399.4 186.1,398.1 184.5,396.9 181.2,395.9 180.3,395.6 179.2,394.4 181.2,393.9 184.9,393.1 186.4,392.4 186.6,391.9 186.8,390.6 187.0,389.4 187.3,388.1 186.8,386.9 186.4,386.6 181.2,385.7 180.9,385.6 181.2,384.7 181.3,384.4 186.4,383.6 187.6,383.1 189.3,381.9 189.5,380.6 186.4,379.5 185.9,379.4 181.2,378.4 180.2,378.1 177.8,376.9 181.2,376.8 183.2,376.9 186.4,377.4 187.5,376.9 188.3,375.6 191.6,374.8 195.1,374.4 196.8,374.2 202.0,374.3 207.2,373.6 212.4,373.8 217.7,374.3 218.3,374.4 221.2,375.6 222.9,376.6 223.1,376.9 222.9,377.3 217.7,377.8 212.4,377.4 207.2,377.7 206.2,378.1 202.0,378.9 200.3,379.4 200.9,380.6 201.6,381.9 202.0,382.7 202.3,383.1 203.1,384.4 203.8,385.6 203.8,386.9 204.3,388.1 204.7,389.4 204.8,390.6 204.6,391.9 205.0,393.1 204.9,394.4 205.3,395.6 205.1,396.9 205.2,398.1 205.1,399.4 205.0,400.6 205.1,401.9 205.0,403.1 204.7,404.4 204.6,405.6 204.4,406.9 204.0,408.1 203.9,409.4 203.9,410.6 203.5,411.9 202.0,413.1 202.0,413.2 201.3,414.4 200.8,415.6 200.8,416.9 202.0,417.7 203.0,418.1 206.6,419.4 207.2,419.6 209.2,420.6 211.0,421.9 210.3,423.1 209.1,424.4 207.9,425.6 207.5,426.9 209.6,428.1 210.3,429.4 207.2,430.3 204.7,430.6 202.0,431.2ZM134.2,377.7 132.1,376.9 134.2,375.9 136.2,376.9 134.2,377.7ZM316.7,379.6 311.5,379.6 306.3,379.6 305.1,379.4 303.4,378.1 305.1,376.9 306.3,376.7 311.5,376.7 316.7,376.9 316.8,376.9 318.9,378.1 317.6,379.4 316.7,379.6ZM363.7,377.6 362.4,376.9 363.7,376.1 364.9,376.9 363.7,377.6ZM269.8,380.7 269.5,380.6 265.2,379.4 269.5,378.1 269.8,378.1 270.1,378.1 271.8,379.4 270.1,380.6 269.8,380.7ZM165.5,382.3 162.3,381.9 160.3,381.3 159.9,380.6 160.3,379.7 161.0,379.4 165.5,378.9 166.5,379.4 167.2,380.6 166.2,381.9 165.5,382.3ZM290.7,382.6 285.5,382.3 284.5,381.9 284.3,380.6 285.1,379.4 285.5,379.3 290.7,378.7 292.2,379.4 292.5,380.6 292.0,381.9 290.7,382.6ZM374.1,382.5 372.4,381.9 374.1,381.2 376.0,381.9 374.1,382.5ZM311.5,385.3 308.9,384.4 311.5,383.6 314.0,384.4 311.5,385.3ZM139.4,391.3 134.2,390.9 133.5,390.6 132.3,389.4 132.8,388.1 134.2,387.6 139.4,387.7 142.0,388.1 144.6,389.3 144.7,389.4 144.6,389.5 143.3,390.6 139.4,391.3ZM342.8,394.5 341.7,394.4 337.6,393.8 335.1,393.1 332.4,392.1 332.0,391.9 331.5,390.6 332.4,389.7 333.1,389.4 337.0,388.1 337.6,388.0 342.8,387.8 346.3,388.1 348.0,388.6 349.4,389.4 351.0,390.6 351.2,391.9 349.8,393.1 348.0,393.8 344.0,394.4 342.8,394.5ZM102.9,390.3 100.4,389.4 102.9,388.5 105.7,389.4 102.9,390.3ZM301.1,390.1 298.6,389.4 301.1,388.7 304.4,389.4 301.1,390.1ZM285.5,394.7 282.6,394.4 280.2,393.8 277.2,394.4 275.0,394.6 269.8,394.5 269.5,394.4 264.6,393.3 264.0,393.1 263.5,391.9 264.6,391.1 266.9,390.6 269.8,390.3 275.0,389.6 280.2,390.3 281.7,390.6 285.5,391.4 290.7,391.8 291.3,391.9 291.5,393.1 290.7,394.2 290.3,394.4 285.5,394.7ZM123.8,392.3 120.8,391.9 123.8,391.1 126.9,391.9 123.8,392.3ZM222.9,395.7 220.9,395.6 217.7,395.4 214.4,394.4 217.7,393.5 221.8,393.1 222.9,393.1 223.3,393.1 228.1,393.8 230.0,394.4 228.1,395.0 223.7,395.6 222.9,395.7ZM363.7,396.0 358.5,395.7 358.4,395.6 355.9,394.4 358.5,393.6 359.8,393.1 363.7,392.9 366.4,393.1 368.9,393.9 369.7,394.4 368.9,394.9 366.3,395.6 363.7,396.0ZM155.1,397.6 149.9,397.3 148.7,396.9 148.5,395.6 149.0,394.4 149.9,394.1 155.1,393.8 156.4,394.4 156.5,395.6 157.1,396.9 155.1,397.6ZM259.4,397.2 258.9,396.9 259.4,396.7 260.6,396.9 259.4,397.2ZM269.8,399.5 264.6,399.4 264.6,399.4 262.3,398.1 264.6,397.6 265.7,398.1 269.8,399.4 269.9,399.4 269.8,399.5ZM228.1,405.8 226.5,405.6 222.9,405.0 220.2,404.4 217.7,403.8 215.8,403.1 212.4,402.1 211.9,401.9 212.4,400.9 217.7,400.8 222.9,401.6 224.3,401.9 228.1,402.9 229.2,403.1 229.7,404.4 229.5,405.6 228.1,405.8ZM311.5,403.2 311.5,403.1 309.0,401.9 311.5,400.8 316.7,401.2 319.5,401.9 316.7,402.5 311.6,403.1 311.5,403.2ZM134.2,405.7 134.0,405.6 131.5,404.4 134.0,403.1 134.2,403.1 134.4,403.1 137.5,404.4 134.4,405.6 134.2,405.7ZM368.9,405.7 363.7,405.8 358.5,405.8 357.9,405.6 357.8,404.4 357.9,403.1 358.5,403.0 363.7,402.6 368.9,403.1 369.0,403.1 370.1,404.4 369.1,405.6 368.9,405.7ZM342.8,404.7 337.6,405.1 332.4,404.4 332.3,404.4 332.4,404.4 337.6,403.6 342.8,404.2 344.0,404.4 342.8,404.7ZM165.5,406.6 160.3,405.9 159.6,405.6 160.3,405.4 165.5,404.9 166.7,405.6 165.5,406.6ZM248.9,408.2 248.9,408.1 244.2,406.9 248.9,405.9 254.2,406.9 254.3,406.9 254.2,406.9 249.0,408.1 248.9,408.2ZM301.1,411.1 299.1,410.6 297.2,409.4 299.6,408.1 301.1,407.8 302.9,408.1 306.3,408.8 308.4,409.4 306.3,410.1 303.3,410.6 301.1,411.1ZM342.8,410.7 337.6,411.2 332.4,410.8 331.8,410.6 329.5,409.4 332.0,408.1 332.4,408.1 337.6,407.8 342.8,408.1 343.2,408.1 344.8,409.4 342.9,410.6 342.8,410.7ZM155.1,412.0 149.9,412.2 144.6,412.4 141.9,411.9 139.4,410.9 138.8,410.6 139.4,410.4 142.5,409.4 144.6,409.1 149.9,409.1 155.1,409.3 155.5,409.4 156.7,410.6 155.5,411.9 155.1,412.0ZM217.7,411.9 217.6,411.9 212.4,410.8 211.9,410.6 212.4,410.5 217.0,409.4 217.7,409.3 218.2,409.4 220.1,410.6 217.7,411.9 217.7,411.9ZM269.8,410.2 267.9,409.4 269.8,408.7 272.0,409.4 269.8,410.2ZM290.7,413.2 290.4,413.1 286.0,411.9 290.2,410.6 290.7,410.5 291.2,410.6 295.9,411.9 296.0,411.9 295.9,411.9 291.0,413.1 290.7,413.2ZM123.8,415.1 120.2,414.4 118.6,413.7 116.9,413.1 118.6,412.5 120.0,411.9 123.8,411.1 127.1,411.9 129.0,413.1 129.0,413.1 129.0,413.2 127.0,414.4 123.8,415.1ZM285.5,418.5 280.2,418.4 275.0,418.6 271.7,418.1 269.8,417.5 269.0,416.9 269.8,416.4 272.8,415.6 275.0,415.4 280.2,415.3 285.5,415.2 287.1,415.6 290.7,416.9 290.7,416.9 290.7,416.9 287.1,418.1 285.5,418.5ZM139.4,422.5 134.2,422.5 130.7,421.9 129.0,421.3 124.6,420.6 123.8,420.4 121.8,419.4 118.6,418.7 117.3,418.1 113.4,417.0 113.0,416.9 113.4,416.4 118.6,416.6 123.8,416.7 124.2,416.9 129.0,418.0 129.5,418.1 134.2,419.3 134.6,419.4 137.1,420.6 139.4,421.6 139.8,421.9 139.4,422.5ZM165.5,417.4 163.6,416.9 165.5,416.1 167.0,416.9 165.5,417.4ZM342.8,417.8 340.9,416.9 342.8,415.8 344.7,416.9 342.8,417.8ZM243.7,421.0 238.5,421.3 235.9,420.6 235.6,419.4 235.7,418.1 238.5,417.5 243.7,417.7 245.5,418.1 246.4,419.4 245.2,420.6 243.7,421.0ZM322.0,420.2 316.7,419.9 315.7,419.4 316.7,419.0 322.0,418.4 323.8,419.4 322.0,420.2ZM102.9,425.4 100.4,424.4 102.9,423.6 105.3,424.4 102.9,425.4ZM170.7,427.1 165.5,427.0 164.8,426.9 162.8,425.6 164.6,424.4 165.5,424.2 170.7,424.1 175.9,424.3 176.7,424.4 177.5,425.6 175.9,426.6 174.7,426.9 170.7,427.1ZM311.5,427.2 310.3,426.9 308.5,425.6 309.6,424.4 311.5,423.9 313.7,424.4 314.9,425.6 313.0,426.9 311.5,427.2ZM374.1,425.1 370.7,424.4 374.1,423.6 378.2,424.4 374.1,425.1ZM129.0,427.2 123.8,427.3 122.9,426.9 123.8,426.3 129.0,426.5 129.6,426.9 129.0,427.2ZM363.7,427.9 362.1,426.9 363.7,426.1 365.3,426.9 363.7,427.9ZM269.8,431.4 264.6,431.0 260.9,430.6 259.4,430.3 257.0,429.4 255.6,428.1 259.4,427.8 264.6,427.8 269.8,428.1 270.1,428.1 273.1,429.4 274.4,430.6 269.8,431.4ZM155.1,432.3 153.9,431.9 154.3,430.6 154.2,429.4 155.1,429.1 159.4,429.4 160.3,429.9 160.6,430.6 160.3,431.1 158.7,431.9 155.1,432.3ZM311.5,431.8 308.7,430.6 311.2,429.4 311.5,429.3 311.9,429.4 314.9,430.6 311.5,431.8ZM233.3,430.9 228.1,431.7 225.9,430.6 228.1,429.6 233.3,430.4 233.9,430.6 233.3,430.9ZM363.7,432.6 358.5,432.0 358.1,431.9 358.5,431.8 363.7,431.0 368.7,431.9 363.7,432.6ZM191.6,435.9 186.4,436.4 183.7,435.6 182.3,434.4 184.1,433.1 186.4,432.5 191.6,432.9 192.5,433.1 194.1,434.4 192.5,435.6 191.6,435.9ZM280.2,438.2 279.8,438.1 277.5,436.9 279.8,435.6 280.2,435.6 280.7,435.6 285.5,436.7 286.3,436.9 285.5,437.1 280.8,438.1 280.2,438.2ZM134.2,439.7 129.0,439.6 123.8,439.5 123.6,439.4 122.8,438.1 123.8,437.3 125.2,436.9 129.0,436.6 134.2,436.7 135.8,436.9 139.4,437.9 140.1,438.1 139.4,438.6 136.5,439.4 134.2,439.7ZM155.1,437.3 151.3,436.9 155.1,436.5 157.6,436.9 155.1,437.3ZM217.7,437.5 216.5,436.9 217.7,436.3 218.8,436.9 217.7,437.5ZM353.2,437.0 348.0,437.5 342.8,436.9 348.0,435.8 353.2,436.8 353.5,436.9 353.2,437.0ZM342.8,443.3 337.6,443.3 332.4,443.2 331.9,443.1 331.5,441.9 332.4,440.7 332.6,440.6 337.6,440.4 342.8,440.5 343.5,440.6 345.4,441.9 343.7,443.1 342.8,443.3ZM285.5,443.3 285.0,443.1 282.6,441.9 285.5,440.9 288.3,441.9 286.2,443.1 285.5,443.3ZM186.4,445.8 185.7,445.6 184.0,444.4 186.1,443.1 186.4,443.1 186.7,443.1 188.6,444.4 187.0,445.6 186.4,445.8ZM254.2,446.0 251.6,445.6 248.9,444.9 248.0,444.4 248.9,443.8 252.8,443.1 254.2,443.1 256.7,443.1 259.4,443.4 262.4,444.4 259.4,445.6 259.2,445.6 254.2,446.0ZM155.1,444.8 149.9,444.8 144.6,444.5 142.9,444.4 144.6,444.3 149.9,443.7 155.1,444.0 156.4,444.4 155.1,444.8ZM322.0,445.7 321.7,445.6 319.4,444.4 322.0,443.6 324.9,444.4 322.3,445.6 322.0,445.7ZM368.9,449.7 363.7,449.6 362.8,449.4 360.6,448.1 360.4,446.9 361.0,445.6 363.7,444.5 365.4,444.4 368.9,444.3 370.0,444.4 374.1,445.2 375.1,445.6 375.8,446.9 374.5,448.1 374.1,448.7 372.3,449.4 368.9,449.7ZM202.0,452.3 196.8,452.6 191.6,452.3 186.4,452.3 181.2,452.1 179.1,451.9 175.9,451.5 170.7,450.9 169.6,450.6 165.5,449.6 164.6,449.4 162.2,448.1 161.4,446.9 165.5,446.5 170.7,446.7 171.7,446.9 175.9,447.6 179.6,448.1 181.2,448.5 184.9,449.4 186.4,449.7 188.2,449.4 191.6,449.0 196.8,448.7 202.0,449.0 203.9,449.4 204.9,450.6 204.0,451.9 202.0,452.3ZM217.7,450.7 217.4,450.6 215.2,449.4 217.7,448.4 222.9,449.3 223.6,449.4 222.9,449.5 217.9,450.6 217.7,450.7ZM228.1,454.8 225.9,454.4 222.9,453.2 222.7,453.1 222.9,453.1 226.8,451.9 228.1,451.7 228.9,451.9 230.8,453.1 229.5,454.4 228.1,454.8ZM254.2,452.2 248.9,452.2 243.7,452.3 241.8,451.9 243.7,451.5 248.9,451.7 254.2,451.6 255.1,451.9 254.2,452.2ZM311.5,452.7 309.8,451.9 311.5,451.1 313.4,451.9 311.5,452.7ZM342.8,456.0 341.5,455.6 341.2,454.4 341.5,453.1 342.8,452.8 345.9,453.1 348.0,453.7 349.2,454.4 348.0,454.9 345.1,455.6 342.8,456.0ZM113.4,455.5 111.3,454.4 113.4,453.6 115.4,454.4 113.4,455.5ZM139.4,454.5 134.2,455.5 132.1,454.4 134.2,453.3 139.4,454.3 139.8,454.4 139.4,454.5ZM269.8,455.1 267.9,454.4 269.8,453.4 271.7,454.4 269.8,455.1ZM92.5,457.3 92.1,456.9 92.5,456.7 93.0,456.9 92.5,457.3ZM332.4,460.7 331.3,460.6 327.2,460.2 324.5,459.4 322.0,458.8 320.6,458.1 320.9,456.9 322.0,455.7 327.2,456.0 332.4,456.7 333.0,456.9 333.9,458.1 335.8,459.4 333.2,460.6 332.4,460.7ZM186.4,464.6 185.4,464.4 182.7,463.1 182.9,461.9 183.4,460.6 185.1,459.4 186.4,459.0 190.4,458.1 191.6,458.0 196.8,457.9 199.2,458.1 202.0,459.0 202.4,459.4 202.0,459.8 199.8,460.6 196.8,461.0 191.9,461.9 195.6,463.1 191.6,464.2 190.0,464.4 186.4,464.6ZM254.2,460.8 248.9,460.9 246.0,460.6 243.7,460.1 241.3,459.4 243.7,458.7 245.9,458.1 248.9,457.9 254.2,458.0 255.7,458.1 259.4,459.1 260.2,459.4 259.4,459.7 255.6,460.6 254.2,460.8ZM123.8,462.5 122.6,461.9 122.1,460.6 122.1,459.4 123.8,458.4 127.1,459.4 129.0,460.2 129.4,460.6 129.0,461.2 127.4,461.9 123.8,462.5ZM165.5,462.6 163.6,461.9 165.5,461.3 167.1,461.9 165.5,462.6ZM363.7,464.8 361.6,464.4 359.7,463.1 361.9,461.9 363.7,461.6 365.2,461.9 367.6,463.1 365.5,464.4 363.7,464.8ZM269.8,465.7 269.5,465.6 267.8,464.4 269.8,463.3 275.0,464.0 276.4,464.4 275.0,464.9 270.5,465.6 269.8,465.7ZM306.3,469.6 301.1,469.8 295.9,469.5 293.6,469.4 290.7,469.0 285.5,468.4 282.9,468.1 280.2,467.7 278.5,466.9 280.2,466.0 285.5,466.4 288.8,466.9 290.7,467.4 294.2,466.9 295.9,466.8 301.1,466.7 306.3,466.5 309.6,465.6 311.5,465.2 313.3,465.6 315.0,466.9 315.7,468.1 311.5,469.1 307.7,469.4 306.3,469.6ZM144.6,469.8 139.4,469.7 138.1,469.4 134.2,468.3 133.4,468.1 129.0,467.2 127.8,466.9 129.0,466.5 134.2,466.5 135.9,466.9 139.4,467.7 141.2,468.1 144.6,469.1 145.5,469.4 144.6,469.8ZM175.9,467.4 174.5,466.9 175.9,466.5 177.3,466.9 175.9,467.4ZM342.8,473.9 337.6,473.9 334.4,473.1 332.4,472.5 331.4,471.9 330.2,470.6 327.2,469.8 326.5,469.4 326.9,468.1 327.2,468.1 332.4,468.0 333.1,468.1 337.6,469.2 338.4,469.4 339.4,470.6 342.4,471.9 342.8,472.1 343.6,473.1 342.8,473.9ZM233.3,469.8 228.1,470.5 226.3,469.4 228.1,468.6 233.3,469.0 234.6,469.4 233.3,469.8ZM353.2,469.7 352.2,469.4 353.2,469.0 354.6,469.4 353.2,469.7ZM196.8,472.3 194.3,471.9 196.8,471.6 201.9,471.9 196.8,472.3ZM238.5,475.5 235.6,474.4 238.0,473.1 238.5,473.0 239.3,473.1 241.0,474.4 238.5,475.5ZM139.4,477.4 134.2,477.4 133.0,476.9 134.2,476.2 139.4,476.4 140.9,476.9 139.4,477.4ZM165.5,477.2 160.3,477.2 155.1,477.3 149.9,477.0 149.5,476.9 149.9,476.8 155.1,476.6 160.3,476.5 165.5,476.5 167.7,476.9 165.5,477.2ZM186.4,478.2 186.3,478.1 181.2,477.1 180.5,476.9 181.2,476.7 186.4,475.7 191.6,476.1 196.8,476.8 197.1,476.9 196.8,477.0 191.6,477.8 186.9,478.1 186.4,478.2ZM222.9,480.8 217.7,480.8 216.3,480.6 212.4,479.6 211.9,479.4 211.4,478.1 212.4,477.3 213.8,476.9 217.7,476.3 222.9,476.4 225.4,476.9 228.1,477.7 228.6,478.1 228.6,479.4 228.1,479.6 223.8,480.6 222.9,480.8ZM374.1,478.2 373.8,478.1 368.9,477.0 368.5,476.9 368.9,476.8 374.1,475.9 378.5,476.9 374.3,478.1 374.1,478.2ZM327.2,479.4 324.0,478.1 327.2,477.8 331.4,478.1 327.2,479.4ZM113.4,480.3 111.0,479.4 113.4,478.6 115.2,479.4 113.4,480.3ZM342.8,482.0 342.4,481.9 337.6,481.1 334.8,480.6 332.4,479.7 327.7,479.4 332.4,478.6 337.6,479.3 337.9,479.4 342.8,480.6 343.2,480.6 343.7,481.9 342.8,482.0ZM186.4,484.5 181.2,484.8 175.9,484.7 174.2,484.4 173.5,483.1 174.2,481.9 175.9,481.6 181.2,481.5 186.4,481.8 187.6,481.9 191.6,482.4 196.8,482.6 198.8,483.1 196.8,483.7 191.6,483.8 187.7,484.4 186.4,484.5ZM295.9,482.6 290.7,482.5 288.7,481.9 290.7,481.2 295.9,481.1 299.8,481.9 295.9,482.6ZM129.0,486.2 123.8,486.2 122.4,485.6 122.2,484.4 122.8,483.1 123.8,482.7 129.0,482.9 129.6,483.1 130.5,484.4 130.8,485.6 129.0,486.2ZM358.5,485.7 353.2,486.0 348.0,486.0 346.7,485.6 346.4,484.4 348.0,483.8 351.4,483.1 353.2,482.9 358.5,482.6 361.6,483.1 360.5,484.4 358.9,485.6 358.5,485.7ZM275.0,488.4 269.8,488.9 264.6,488.9 259.4,488.7 255.1,488.1 254.2,487.9 252.2,486.9 253.7,485.6 254.2,485.5 259.4,485.2 264.6,484.6 269.8,485.0 275.0,485.6 275.5,485.6 277.3,486.9 276.5,488.1 275.0,488.4ZM301.1,492.1 295.9,492.2 293.6,491.9 290.7,491.3 289.3,490.6 290.7,490.1 294.2,489.4 295.9,489.2 301.1,489.1 302.8,489.4 306.3,490.3 307.1,490.6 306.3,491.0 302.1,491.9 301.1,492.1ZM337.6,491.2 336.9,490.6 337.6,489.8 338.5,490.6 337.6,491.2ZM123.8,496.5 120.7,495.6 119.3,494.4 120.5,493.1 123.7,491.9 123.8,491.9 123.9,491.9 126.5,493.1 127.0,494.4 125.9,495.6 123.8,496.5ZM170.7,492.3 165.5,492.9 164.0,491.9 165.5,491.0 170.7,491.5 171.6,491.9 170.7,492.3ZM238.5,497.8 236.8,496.9 236.7,495.6 236.5,494.4 238.5,493.7 240.6,494.4 240.9,495.6 240.2,496.9 238.5,497.8ZM155.1,497.3 154.1,496.9 155.1,496.5 156.1,496.9 155.1,497.3ZM363.7,501.2 358.5,501.1 353.4,500.6 353.2,500.6 351.5,499.4 351.3,498.1 353.2,497.4 356.2,496.9 358.5,496.6 363.7,496.6 365.6,496.9 368.9,498.1 369.0,498.1 369.2,499.4 368.9,499.7 367.1,500.6 363.7,501.2ZM186.4,501.9 186.2,501.9 181.2,500.8 180.4,500.6 181.2,500.5 185.6,499.4 186.4,499.3 188.5,499.4 191.6,500.0 194.2,500.6 191.6,501.3 186.9,501.9 186.4,501.9ZM259.4,499.8 254.2,499.9 251.4,499.4 254.2,498.8 259.4,498.8 263.6,499.4 259.4,499.8ZM280.2,506.3 275.0,506.0 273.5,505.6 272.7,504.4 273.3,503.1 275.0,502.7 280.2,502.4 285.5,502.1 287.8,503.1 285.7,504.4 285.5,504.5 282.9,505.6 280.2,506.3ZM342.8,504.4 337.6,504.9 336.4,504.4 337.6,504.1 342.8,504.4 343.0,504.4 342.8,504.4ZM134.2,507.1 129.0,507.6 123.8,507.3 122.6,506.9 123.8,506.5 129.0,506.1 134.2,506.7 134.7,506.9 134.2,507.1ZM301.1,509.6 295.9,509.7 290.7,509.8 285.5,509.4 285.4,509.4 285.2,508.1 285.5,508.1 290.7,507.0 290.9,506.9 295.9,506.4 301.1,506.5 306.3,506.4 310.9,506.9 309.6,508.1 306.3,508.8 304.3,509.4 301.1,509.6ZM175.9,510.7 175.7,510.6 170.7,509.4 170.6,509.4 170.7,509.4 175.5,508.1 175.9,508.0 176.3,508.1 178.3,509.4 176.2,510.6 175.9,510.7ZM207.2,513.3 202.0,513.8 196.8,513.6 194.5,513.1 191.6,512.1 191.3,511.9 191.6,511.5 192.8,510.6 196.8,509.9 202.0,510.1 207.2,510.4 208.1,510.6 208.2,511.9 207.8,513.1 207.2,513.3ZM348.0,516.0 342.8,515.9 341.3,515.6 337.6,514.8 336.4,514.4 332.4,513.2 332.2,513.1 331.4,511.9 331.4,510.6 332.4,510.2 337.6,510.3 340.1,510.6 342.8,511.1 344.8,511.9 348.0,513.1 348.3,513.1 348.9,514.4 348.9,515.6 348.0,516.0ZM170.7,515.9 169.0,515.6 165.5,514.8 164.4,514.4 164.2,513.1 165.5,512.9 167.9,513.1 170.7,513.8 172.4,514.4 172.5,515.6 170.7,515.9ZM243.7,514.6 238.5,514.9 233.3,515.0 228.1,514.7 226.9,514.4 228.1,514.1 233.3,513.5 238.5,513.9 243.7,514.2 244.4,514.4 243.7,514.6ZM285.5,514.7 280.2,515.3 278.2,514.4 280.2,513.6 285.5,514.1 286.2,514.4 285.5,514.7ZM186.4,518.2 186.2,518.1 183.0,516.9 186.2,515.6 186.4,515.6 186.5,515.6 189.6,516.9 186.6,518.1 186.4,518.2Z" fill="none" stroke="#000" stroke-width="0.85" stroke-linejoin="round"/>
<path d="M228.1,329.4 227.9,329.4 227.4,328.1 228.1,326.9 228.1,326.9 228.1,326.9 228.7,328.1 228.3,329.4 228.1,329.4ZM374.1,330.9 373.0,330.6 373.4,329.4 373.5,328.1 374.1,328.0 374.7,328.1 375.4,329.4 375.0,330.6 374.1,330.9ZM186.4,339.7 184.2,339.4 186.4,339.1 187.5,339.4 186.4,339.7ZM353.2,344.5 352.9,344.4 353.2,344.2 354.0,344.4 353.2,344.5ZM368.9,371.1 368.0,370.6 368.9,370.6 369.1,370.6 368.9,371.1ZM374.1,372.6 371.1,371.9 374.1,371.8 374.3,371.9 374.1,372.6ZM196.8,416.1 195.5,415.6 193.3,414.4 191.6,413.9 189.5,413.1 187.8,411.9 188.8,410.6 189.6,409.4 189.4,408.1 189.3,406.9 188.1,405.6 187.1,404.4 188.2,403.1 188.3,401.9 188.6,400.6 188.1,399.4 188.5,398.1 188.4,396.9 186.7,395.6 187.5,394.4 188.1,393.1 189.0,391.9 188.9,390.6 189.1,389.4 189.7,388.1 189.2,386.9 188.3,385.6 189.1,384.4 191.6,383.3 191.9,383.1 195.5,381.9 195.7,380.6 196.8,380.4 197.2,380.6 197.2,381.9 199.0,383.1 199.5,384.4 200.7,385.6 200.9,386.9 202.0,388.1 202.0,388.1 202.6,389.4 202.7,390.6 202.5,391.9 203.1,393.1 202.7,394.4 203.5,395.6 203.2,396.9 203.4,398.1 203.2,399.4 202.9,400.6 202.9,401.9 202.9,403.1 202.6,404.4 202.4,405.6 202.1,406.9 202.0,407.1 201.3,408.1 201.3,409.4 201.1,410.6 200.7,411.9 199.9,413.1 198.5,414.4 197.5,415.6 196.8,416.1ZM301.1,409.5 301.0,409.4 301.1,409.3 301.5,409.4 301.1,409.5ZM123.8,414.5 123.4,414.4 122.8,413.1 123.6,411.9 123.8,411.9 124.0,411.9 124.4,413.1 124.2,414.4 123.8,414.5ZM238.5,420.3 238.2,419.4 238.5,418.2 240.5,419.4 238.5,420.3ZM196.8,425.8 195.8,425.6 191.6,424.4 191.6,424.4 191.5,423.1 189.9,421.9 190.9,420.6 191.6,420.3 196.8,420.0 202.0,420.5 202.3,420.6 205.5,421.9 203.7,423.1 202.0,424.0 199.6,424.4 197.1,425.6 196.8,425.8ZM207.2,429.6 202.0,430.1 196.8,430.0 194.0,429.4 194.6,428.1 196.8,427.2 202.0,427.4 205.6,428.1 207.2,428.9 207.8,429.4 207.2,429.6ZM186.4,434.6 186.1,434.4 186.4,434.3 187.0,434.4 186.4,434.6ZM170.7,449.5 170.2,449.4 169.2,448.1 170.7,448.0 172.8,448.1 173.2,449.4 170.7,449.5ZM196.8,451.7 194.6,450.6 196.1,449.4 196.8,449.4 197.4,449.4 199.3,450.6 196.8,451.7ZM181.2,450.7 175.9,450.8 175.0,450.6 175.9,449.9 181.2,450.5 181.9,450.6 181.2,450.7ZM311.5,467.7 311.2,466.9 311.5,466.8 311.7,466.9 311.5,467.7ZM280.2,505.3 278.1,504.4 280.2,503.4 281.1,504.4 280.2,505.3Z" fill="none" stroke="#000" stroke-width="0.85" stroke-linejoin="round"/>
<path d="M196.8,413.8 194.3,413.1 192.4,411.9 191.8,410.6 192.2,409.4 192.2,408.1 193.1,406.9 191.6,405.9 191.5,405.6 190.9,404.4 190.6,403.1 190.2,401.9 191.1,400.6 190.5,399.4 190.7,398.1 191.1,396.9 190.0,395.6 191.4,394.4 190.3,393.1 191.4,391.9 191.0,390.6 191.2,389.4 191.6,388.8 192.5,388.1 191.6,387.0 191.5,386.9 191.6,386.8 194.7,385.6 196.8,384.9 197.6,385.6 197.6,386.9 199.2,388.1 200.3,389.4 200.4,390.6 200.0,391.9 200.7,393.1 199.1,394.4 200.5,395.6 198.9,396.9 199.8,398.1 200.3,399.4 200.7,400.6 200.4,401.9 200.5,403.1 200.0,404.4 199.9,405.6 198.5,406.9 197.7,408.1 199.3,409.4 199.0,410.6 198.5,411.9 197.7,413.1 196.8,413.8Z" fill="none" stroke="#000" stroke-width="0.85" stroke-linejoin="round"/>
<path d="M196.8,393.6 194.7,393.1 195.8,391.9 194.9,390.6 195.1,389.4 196.8,388.5 197.8,389.4 197.8,390.6 197.4,391.9 197.7,393.1 196.8,393.6ZM196.8,406.0 195.9,405.6 195.7,404.4 194.8,403.1 194.5,401.9 194.5,400.6 196.8,399.7 198.3,400.6 197.5,401.9 197.8,403.1 197.4,404.4 197.3,405.6 196.8,406.0ZM196.8,410.7 196.7,410.6 195.9,409.4 196.8,409.1 197.3,409.4 196.8,410.6 196.8,410.7Z" fill="none" stroke="#000" stroke-width="0.85" stroke-linejoin="round"/>
</g>
<line x1="160.5" y1="117.4" x2="186.5" y2="117.4" stroke="#c4c4c4" stroke-width="1.8"/><line x1="161" y1="117.4" x2="186" y2="117.4" stroke="#f4f4f4" stroke-width="0.7"/>
<rect x="202.20" y="24.2" width="17.93" height="19.000000000000004" fill="#000033"/>
<rect x="219.83" y="24.2" width="17.93" height="19.000000000000004" fill="#000055"/>
<rect x="237.46" y="24.2" width="17.93" height="19.000000000000004" fill="#00007d"/>
<rect x="255.09" y="24.2" width="17.93" height="19.000000000000004" fill="#0000aa"/>
<rect x="272.72" y="24.2" width="17.93" height="19.000000000000004" fill="#0000e6"/>
<rect x="290.35" y="24.2" width="17.93" height="19.000000000000004" fill="#1e1eff"/>
<rect x="307.98" y="24.2" width="17.93" height="19.000000000000004" fill="#5c5cff"/>
<rect x="325.61" y="24.2" width="17.93" height="19.000000000000004" fill="#8f8fff"/>
<rect x="343.24" y="24.2" width="17.93" height="19.000000000000004" fill="#c6c6ff"/>
<rect x="360.87" y="24.2" width="17.93" height="19.000000000000004" fill="#ffffff"/>
<rect x="202.2" y="24.2" width="176.30" height="19.000000000000004" fill="none" stroke="#2b2b2b" stroke-width="1"/>
<line x1="202.20" y1="19.30" x2="202.20" y2="24.20" stroke="#2b2b2b" stroke-width="1.0" />
<text x="201.80" y="12.40" font-size="15.2" text-anchor="middle" textLength="21.00" lengthAdjust="spacingAndGlyphs" fill="#1a1a1a" >1.0</text>
<line x1="237.46" y1="19.30" x2="237.46" y2="24.20" stroke="#2b2b2b" stroke-width="1.0" />
<text x="237.06" y="12.40" font-size="15.2" text-anchor="middle" textLength="22.00" lengthAdjust="spacingAndGlyphs" fill="#1a1a1a" >0.8</text>
<line x1="272.72" y1="19.30" x2="272.72" y2="24.20" stroke="#2b2b2b" stroke-width="1.0" />
<text x="272.32" y="12.40" font-size="15.2" text-anchor="middle" textLength="22.00" lengthAdjust="spacingAndGlyphs" fill="#1a1a1a" >0.6</text>
<line x1="307.98" y1="19.30" x2="307.98" y2="24.20" stroke="#2b2b2b" stroke-width="1.0" />
<text x="307.58" y="12.40" font-size="15.2" text-anchor="middle" textLength="22.80" lengthAdjust="spacingAndGlyphs" fill="#1a1a1a" >0.4</text>
<line x1="343.24" y1="19.30" x2="343.24" y2="24.20" stroke="#2b2b2b" stroke-width="1.0" />
<text x="342.84" y="12.40" font-size="15.2" text-anchor="middle" textLength="22.50" lengthAdjust="spacingAndGlyphs" fill="#1a1a1a" >0.2</text>
<line x1="378.50" y1="19.30" x2="378.50" y2="24.20" stroke="#2b2b2b" stroke-width="1.0" />
<text x="378.10" y="12.40" font-size="15.2" text-anchor="middle" textLength="8.20" lengthAdjust="spacingAndGlyphs" fill="#1a1a1a" >0</text>
<text x="91.60" y="37.60" font-size="16.5" text-anchor="start" textLength="102.00" lengthAdjust="spacingAndGlyphs" fill="#1a1a1a" >δ<tspan font-style="italic">J</tspan>(<tspan font-style="italic">v</tspan>) (norm.)</text>
<text x="5.60" y="46.80" font-size="24.3" text-anchor="start" font-weight="bold" fill="#000" stroke="#000" stroke-width="1.1" stroke-linejoin="round">a</text>
<text x="6.00" y="300.70" font-size="24.8" text-anchor="start" font-weight="bold" fill="#000" stroke="#000" stroke-width="1.1" stroke-linejoin="round">b</text>
<text x="416.60" y="47.10" font-size="25.5" text-anchor="start" font-weight="bold" fill="#000" stroke="#000" stroke-width="1.1" stroke-linejoin="round">c</text>
<text x="416.40" y="213.40" font-size="24.8" text-anchor="start" font-weight="bold" fill="#000" stroke="#000" stroke-width="1.1" stroke-linejoin="round">d</text>
<text x="416.30" y="377.30" font-size="25.0" text-anchor="start" font-weight="bold" fill="#000" stroke="#000" stroke-width="1.1" stroke-linejoin="round">e</text>
<line x1="85.00" y1="50.50" x2="92.50" y2="50.50" stroke="#2b2b2b" stroke-width="1.0" />
<text x="76.60" y="55.70" font-size="15.5" text-anchor="end" textLength="42.00" lengthAdjust="spacingAndGlyphs" fill="#1a1a1a" >2,000</text>
<line x1="85.00" y1="100.50" x2="92.50" y2="100.50" stroke="#2b2b2b" stroke-width="1.0" />
<text x="76.60" y="105.70" font-size="15.5" text-anchor="end" textLength="38.50" lengthAdjust="spacingAndGlyphs" fill="#1a1a1a" >1,800</text>
<line x1="85.00" y1="150.50" x2="92.50" y2="150.50" stroke="#2b2b2b" stroke-width="1.0" />
<text x="76.60" y="155.70" font-size="15.5" text-anchor="end" textLength="38.50" lengthAdjust="spacingAndGlyphs" fill="#1a1a1a" >1,600</text>
<line x1="85.00" y1="200.50" x2="92.50" y2="200.50" stroke="#2b2b2b" stroke-width="1.0" />
<text x="76.60" y="205.70" font-size="15.5" text-anchor="end" textLength="38.50" lengthAdjust="spacingAndGlyphs" fill="#1a1a1a" >1,400</text>
<line x1="85.00" y1="250.50" x2="92.50" y2="250.50" stroke="#2b2b2b" stroke-width="1.0" />
<text x="76.60" y="255.70" font-size="15.5" text-anchor="end" textLength="38.50" lengthAdjust="spacingAndGlyphs" fill="#1a1a1a" >1,200</text>
<rect x="92.5" y="50.5" width="287.10" height="224.90" fill="none" stroke="#2b2b2b" stroke-width="1"/>
<line x1="196.80" y1="49.50" x2="196.80" y2="275.40" stroke="#1c1c1c" stroke-width="1.5" />
<text x="24.00" y="161.00" font-size="18.2" text-anchor="middle" textLength="142.50" lengthAdjust="spacingAndGlyphs" transform="rotate(-90 24.00 161.00)" fill="#1a1a1a" >Frequency (cm<tspan dy="-8" font-size="12">−1</tspan><tspan dy="8">)</tspan></text>
<line x1="85.00" y1="294.40" x2="92.50" y2="294.40" stroke="#2b2b2b" stroke-width="1.0" />
<text x="76.60" y="299.60" font-size="15.5" text-anchor="end" textLength="42.00" lengthAdjust="spacingAndGlyphs" fill="#1a1a1a" >2,000</text>
<line x1="85.00" y1="344.40" x2="92.50" y2="344.40" stroke="#2b2b2b" stroke-width="1.0" />
<text x="76.60" y="349.60" font-size="15.5" text-anchor="end" textLength="38.50" lengthAdjust="spacingAndGlyphs" fill="#1a1a1a" >1,800</text>
<line x1="85.00" y1="394.40" x2="92.50" y2="394.40" stroke="#2b2b2b" stroke-width="1.0" />
<text x="76.60" y="399.60" font-size="15.5" text-anchor="end" textLength="38.50" lengthAdjust="spacingAndGlyphs" fill="#1a1a1a" >1,600</text>
<line x1="85.00" y1="444.40" x2="92.50" y2="444.40" stroke="#2b2b2b" stroke-width="1.0" />
<text x="76.60" y="449.60" font-size="15.5" text-anchor="end" textLength="38.50" lengthAdjust="spacingAndGlyphs" fill="#1a1a1a" >1,400</text>
<line x1="85.00" y1="494.40" x2="92.50" y2="494.40" stroke="#2b2b2b" stroke-width="1.0" />
<text x="76.60" y="499.60" font-size="15.5" text-anchor="end" textLength="38.50" lengthAdjust="spacingAndGlyphs" fill="#1a1a1a" >1,200</text>
<rect x="92.5" y="294.4" width="287.10" height="224.90" fill="none" stroke="#2b2b2b" stroke-width="1"/>
<line x1="196.80" y1="293.40" x2="196.80" y2="519.30" stroke="#1c1c1c" stroke-width="1.5" />
<text x="24.00" y="406.30" font-size="18.2" text-anchor="middle" textLength="142.50" lengthAdjust="spacingAndGlyphs" transform="rotate(-90 24.00 406.30)" fill="#1a1a1a" >Frequency (cm<tspan dy="-8" font-size="12">−1</tspan><tspan dy="8">)</tspan></text>
<line x1="144.65" y1="267.90" x2="144.65" y2="275.40" stroke="#2b2b2b" stroke-width="1.0" />
<line x1="248.95" y1="267.90" x2="248.95" y2="275.40" stroke="#2b2b2b" stroke-width="1.0" />
<line x1="301.10" y1="267.90" x2="301.10" y2="275.40" stroke="#2b2b2b" stroke-width="1.0" />
<line x1="353.25" y1="267.90" x2="353.25" y2="275.40" stroke="#2b2b2b" stroke-width="1.0" />
<line x1="92.50" y1="519.30" x2="92.50" y2="525.80" stroke="#2b2b2b" stroke-width="1.0" />
<text x="92.50" y="544.30" font-size="15.4" text-anchor="middle" textLength="27.50" lengthAdjust="spacingAndGlyphs" fill="#1a1a1a" >−1.0</text>
<line x1="144.65" y1="519.30" x2="144.65" y2="525.80" stroke="#2b2b2b" stroke-width="1.0" />
<text x="144.60" y="544.30" font-size="15.4" text-anchor="middle" textLength="30.00" lengthAdjust="spacingAndGlyphs" fill="#1a1a1a" >−0.5</text>
<line x1="196.80" y1="519.30" x2="196.80" y2="525.80" stroke="#2b2b2b" stroke-width="1.0" />
<text x="196.90" y="544.30" font-size="15.4" text-anchor="middle" textLength="8.60" lengthAdjust="spacingAndGlyphs" fill="#1a1a1a" >0</text>
<line x1="248.95" y1="519.30" x2="248.95" y2="525.80" stroke="#2b2b2b" stroke-width="1.0" />
<text x="249.20" y="544.30" font-size="15.4" text-anchor="middle" textLength="22.00" lengthAdjust="spacingAndGlyphs" fill="#1a1a1a" >0.5</text>
<line x1="301.10" y1="519.30" x2="301.10" y2="525.80" stroke="#2b2b2b" stroke-width="1.0" />
<text x="300.70" y="544.30" font-size="15.4" text-anchor="middle" textLength="21.00" lengthAdjust="spacingAndGlyphs" fill="#1a1a1a" >1.0</text>
<line x1="353.25" y1="519.30" x2="353.25" y2="525.80" stroke="#2b2b2b" stroke-width="1.0" />
<text x="352.90" y="544.30" font-size="15.4" text-anchor="middle" textLength="20.50" lengthAdjust="spacingAndGlyphs" fill="#1a1a1a" >1.5</text>
<text x="236.30" y="569.30" font-size="18.2" text-anchor="middle" textLength="161.50" lengthAdjust="spacingAndGlyphs" fill="#1a1a1a" >IR–visible delay (ps)</text>
<text x="213.60" y="240.60" font-size="17.8" text-anchor="start" textLength="154.00" lengthAdjust="spacingAndGlyphs" fill="#1a1a1a" >IR precedes visible</text>
<line x1="210" y1="249.9" x2="367" y2="249.9" stroke="#000" stroke-width="2.2"/>
<path d="M203.8,249.9 L214,245.3 L211.5,249.9 L214,254.5 Z" fill="#000"/>
<path d="M372.8,249.9 L362.6,245.3 L365.1,249.9 L362.6,254.5 Z" fill="#000"/>
<rect x="448.7" y="36.5" width="235.70" height="152.70" fill="none" stroke="#2b2b2b" stroke-width="1"/>
<rect x="448.7" y="201.5" width="235.70" height="152.50" fill="none" stroke="#2b2b2b" stroke-width="1"/>
<rect x="448.7" y="366.4" width="235.70" height="152.90" fill="none" stroke="#2b2b2b" stroke-width="1"/>
<line x1="593.40" y1="36.50" x2="593.40" y2="189.20" stroke="#a8a8a8" stroke-width="1.1" />
<line x1="531.00" y1="201.50" x2="531.00" y2="354.00" stroke="#a8a8a8" stroke-width="1.1" />
<line x1="593.40" y1="201.50" x2="593.40" y2="354.00" stroke="#a8a8a8" stroke-width="1.1" />
<line x1="531.00" y1="366.40" x2="531.00" y2="519.30" stroke="#a8a8a8" stroke-width="1.1" />
<line x1="593.20" y1="366.40" x2="593.20" y2="519.30" stroke="#a8a8a8" stroke-width="1.1" />
<line x1="516.10" y1="182.70" x2="516.10" y2="189.20" stroke="#2b2b2b" stroke-width="1.0" />
<line x1="583.50" y1="182.70" x2="583.50" y2="189.20" stroke="#2b2b2b" stroke-width="1.0" />
<line x1="650.90" y1="182.70" x2="650.90" y2="189.20" stroke="#2b2b2b" stroke-width="1.0" />
<line x1="516.10" y1="347.50" x2="516.10" y2="354.00" stroke="#2b2b2b" stroke-width="1.0" />
<line x1="583.50" y1="347.50" x2="583.50" y2="354.00" stroke="#2b2b2b" stroke-width="1.0" />
<line x1="650.90" y1="347.50" x2="650.90" y2="354.00" stroke="#2b2b2b" stroke-width="1.0" />
<line x1="448.70" y1="519.30" x2="448.70" y2="525.80" stroke="#2b2b2b" stroke-width="1.0" />
<text x="448.20" y="545.70" font-size="15.5" text-anchor="middle" textLength="40.50" lengthAdjust="spacingAndGlyphs" fill="#1a1a1a" >1,500</text>
<line x1="516.10" y1="519.30" x2="516.10" y2="525.80" stroke="#2b2b2b" stroke-width="1.0" />
<text x="515.60" y="545.70" font-size="15.5" text-anchor="middle" textLength="40.50" lengthAdjust="spacingAndGlyphs" fill="#1a1a1a" >1,600</text>
<line x1="583.50" y1="519.30" x2="583.50" y2="525.80" stroke="#2b2b2b" stroke-width="1.0" />
<text x="583.00" y="545.70" font-size="15.5" text-anchor="middle" textLength="40.50" lengthAdjust="spacingAndGlyphs" fill="#1a1a1a" >1,700</text>
<line x1="650.90" y1="519.30" x2="650.90" y2="525.80" stroke="#2b2b2b" stroke-width="1.0" />
<text x="650.40" y="545.70" font-size="15.5" text-anchor="middle" textLength="40.50" lengthAdjust="spacingAndGlyphs" fill="#1a1a1a" >1,800</text>
<text x="547.30" y="570.50" font-size="18.2" text-anchor="middle" textLength="139.00" lengthAdjust="spacingAndGlyphs" fill="#1a1a1a" >Frequency (cm<tspan dy="-8" font-size="12">−1</tspan><tspan dy="8">)</tspan></text>
<text x="430.30" y="113.00" font-size="18.2" text-anchor="middle" textLength="102.80" lengthAdjust="spacingAndGlyphs" transform="rotate(-90 430.30 113.00)" fill="#1a1a1a" >VIPER signal</text>
<text x="430.30" y="280.00" font-size="18.2" text-anchor="middle" textLength="118.80" lengthAdjust="spacingAndGlyphs" transform="rotate(-90 430.30 280.00)" fill="#1a1a1a" >IR absorbance</text>
<text x="431.80" y="442.00" font-size="18.2" text-anchor="middle" textLength="109.80" lengthAdjust="spacingAndGlyphs" transform="rotate(-90 431.80 442.00)" fill="#1a1a1a" >Raman signal</text>
<path d="M448.70,349.90 L450.40,349.08 L452.10,348.66 L453.80,347.91 L455.25,348.27 L456.70,348.49 L458.15,348.30 L459.60,348.46 L461.06,348.92 L462.52,348.39 L463.98,348.25 L465.44,348.67 L466.90,348.18 L468.36,348.56 L469.82,348.42 L471.28,348.66 L472.74,348.44 L474.20,348.89 L475.53,348.87 L476.87,348.45 L478.20,348.42 L479.53,348.19 L480.87,347.58 L482.20,347.88 L483.90,348.03 L485.60,348.09 L487.30,348.17 L488.80,347.81 L490.30,346.58 L491.75,346.30 L493.20,345.97 L494.65,345.40 L496.10,345.09 L497.56,344.45 L499.02,344.45 L500.48,343.92 L501.94,343.98 L503.40,343.67 L504.85,343.22 L506.30,343.35 L507.75,343.50 L509.20,344.13 L510.68,343.76 L512.15,343.89 L513.62,343.66 L515.10,343.81 L516.57,343.19 L518.03,342.63 L519.50,342.26 L521.20,341.56 L522.90,341.08 L524.60,340.23 L526.30,339.87 L528.00,339.28 L529.70,338.84 L531.13,338.79 L532.57,338.60 L534.00,339.25 L535.47,339.69 L536.93,340.02 L538.40,340.15 L539.90,340.80 L541.40,341.00 L543.20,341.28 L545.00,340.95 L546.58,341.00 L548.15,341.09 L549.72,341.90 L551.30,342.24 L552.64,341.53 L553.98,341.95 L555.32,341.60 L556.66,341.34 L558.00,341.36 L559.42,341.40 L560.83,341.19 L562.25,340.33 L563.67,340.45 L565.08,339.76 L566.50,339.95 L568.25,338.53 L570.00,337.77 L571.75,336.84 L573.50,335.50 L574.90,334.35 L576.30,332.37 L578.00,329.67 L579.70,327.50 L581.40,324.57 L583.30,318.99 L585.20,313.44 L586.70,306.03 L588.20,298.16 L590.20,280.38 L591.50,260.76 L593.20,235.17 L594.70,220.92 L596.50,235.58 L598.30,273.01 L599.80,305.97 L601.60,328.71 L604.10,341.40 L606.00,344.52 L607.90,347.64 L609.48,348.01 L611.05,348.56 L612.62,348.58 L614.20,348.85 L615.65,348.95 L617.10,348.52 L618.55,348.46 L620.00,348.83 L621.43,348.61 L622.86,348.73 L624.29,348.46 L625.71,348.84 L627.14,349.06 L628.57,348.76 L630.00,349.28 L631.43,349.24 L632.86,348.78 L634.29,349.12 L635.71,348.95 L637.14,349.04 L638.57,348.75 L640.00,348.94 L641.43,349.04 L642.86,348.61 L644.29,348.71 L645.71,349.21 L647.14,349.48 L648.57,349.05 L650.00,349.27 L651.43,349.31 L652.86,349.06 L654.29,349.03 L655.71,348.94 L657.14,348.92 L658.57,349.02 L660.00,348.76 L661.43,348.86 L662.86,349.18 L664.29,348.70 L665.71,349.12 L667.14,349.28 L668.57,349.02 L670.00,349.01 L671.31,349.39 L672.62,348.98 L673.93,348.93 L675.24,349.08 L676.55,349.25 L677.85,348.81 L679.16,348.95 L680.47,348.94 L681.78,349.27 L683.09,348.98 L684.40,349.00 L684.4,354.0 L448.7,354.0 Z" fill="#b7bff7"/>
<path d="M448.70,349.90 L450.40,349.08 L452.10,348.66 L453.80,347.91 L455.25,348.27 L456.70,348.49 L458.15,348.30 L459.60,348.46 L461.06,348.92 L462.52,348.39 L463.98,348.25 L465.44,348.67 L466.90,348.18 L468.36,348.56 L469.82,348.42 L471.28,348.66 L472.74,348.44 L474.20,348.89 L475.53,348.87 L476.87,348.45 L478.20,348.42 L479.53,348.19 L480.87,347.58 L482.20,347.88 L483.90,348.03 L485.60,348.09 L487.30,348.17 L488.80,347.81 L490.30,346.58 L491.75,346.30 L493.20,345.97 L494.65,345.40 L496.10,345.09 L497.56,344.45 L499.02,344.45 L500.48,343.92 L501.94,343.98 L503.40,343.67 L504.85,343.22 L506.30,343.35 L507.75,343.50 L509.20,344.13 L510.68,343.76 L512.15,343.89 L513.62,343.66 L515.10,343.81 L516.57,343.19 L518.03,342.63 L519.50,342.26 L521.20,341.56 L522.90,341.08 L524.60,340.23 L526.30,339.87 L528.00,339.28 L529.70,338.84 L531.13,338.79 L532.57,338.60 L534.00,339.25 L535.47,339.69 L536.93,340.02 L538.40,340.15 L539.90,340.80 L541.40,341.00 L543.20,341.28 L545.00,340.95 L546.58,341.00 L548.15,341.09 L549.72,341.90 L551.30,342.24 L552.64,341.53 L553.98,341.95 L555.32,341.60 L556.66,341.34 L558.00,341.36 L559.42,341.40 L560.83,341.19 L562.25,340.33 L563.67,340.45 L565.08,339.76 L566.50,339.95 L568.25,338.53 L570.00,337.77 L571.75,336.84 L573.50,335.50 L574.90,334.35 L576.30,332.37 L578.00,329.67 L579.70,327.50 L581.40,324.57 L583.30,318.99 L585.20,313.44 L586.70,306.03 L588.20,298.16 L590.20,280.38 L591.50,260.76 L593.20,235.17 L594.70,220.92 L596.50,235.58 L598.30,273.01 L599.80,305.97 L601.60,328.71 L604.10,341.40 L606.00,344.52 L607.90,347.64 L609.48,348.01 L611.05,348.56 L612.62,348.58 L614.20,348.85 L615.65,348.95 L617.10,348.52 L618.55,348.46 L620.00,348.83 L621.43,348.61 L622.86,348.73 L624.29,348.46 L625.71,348.84 L627.14,349.06 L628.57,348.76 L630.00,349.28 L631.43,349.24 L632.86,348.78 L634.29,349.12 L635.71,348.95 L637.14,349.04 L638.57,348.75 L640.00,348.94 L641.43,349.04 L642.86,348.61 L644.29,348.71 L645.71,349.21 L647.14,349.48 L648.57,349.05 L650.00,349.27 L651.43,349.31 L652.86,349.06 L654.29,349.03 L655.71,348.94 L657.14,348.92 L658.57,349.02 L660.00,348.76 L661.43,348.86 L662.86,349.18 L664.29,348.70 L665.71,349.12 L667.14,349.28 L668.57,349.02 L670.00,349.01 L671.31,349.39 L672.62,348.98 L673.93,348.93 L675.24,349.08 L676.55,349.25 L677.85,348.81 L679.16,348.95 L680.47,348.94 L681.78,349.27 L683.09,348.98 L684.40,349.00" fill="none" stroke="#2e4ae8" stroke-width="1.6" stroke-linejoin="round"/>
<path d="M448.70,510.50 L450.45,512.09 L452.20,513.67 L453.62,512.65 L455.05,511.74 L456.47,510.44 L457.90,509.56 L459.34,506.28 L460.78,504.46 L462.22,502.69 L463.66,500.06 L465.10,498.04 L466.53,494.32 L467.95,491.87 L469.38,488.77 L470.80,486.25 L472.23,485.78 L473.67,484.66 L475.10,484.39 L476.53,483.02 L477.97,482.29 L479.40,480.69 L480.85,477.18 L482.30,475.03 L483.70,457.80 L485.10,441.83 L486.60,437.59 L488.00,441.45 L489.40,446.41 L490.83,452.38 L492.27,459.09 L493.70,466.63 L495.13,471.78 L496.57,476.40 L498.00,482.41 L499.45,485.49 L500.90,489.20 L502.35,487.28 L503.80,486.69 L505.80,495.01 L507.25,503.16 L508.70,510.93 L511.00,511.18 L513.20,497.45 L514.95,494.38 L516.70,491.51 L518.15,492.12 L519.60,493.08 L521.03,481.48 L522.47,468.89 L523.90,457.70 L525.33,443.92 L526.77,430.49 L528.20,417.65 L529.60,414.13 L531.00,410.80 L532.45,414.13 L533.90,417.53 L535.33,422.58 L536.77,429.36 L538.20,434.08 L539.62,440.60 L541.05,446.43 L542.48,451.24 L543.90,457.82 L545.34,460.21 L546.78,463.31 L548.22,465.54 L549.66,468.44 L551.10,471.45 L552.52,475.90 L553.95,478.67 L555.38,482.88 L556.80,486.67 L558.25,488.11 L559.70,488.88 L561.15,490.32 L562.60,491.93 L564.02,495.78 L565.45,498.62 L566.88,502.90 L568.30,506.53 L569.74,507.18 L571.18,506.85 L572.62,508.43 L574.06,508.07 L575.50,508.92 L576.92,507.80 L578.35,506.71 L579.78,504.65 L581.20,503.87 L582.65,501.30 L584.10,498.89 L585.00,501.20 L587.20,501.75 L589.40,495.74 L591.70,488.41 L593.90,480.91 L595.40,480.15 L597.60,483.23 L599.80,489.80 L602.00,497.54 L604.20,499.94 L606.40,507.90 L608.70,512.21 L610.17,514.07 L611.63,515.79 L613.10,516.85 L614.60,516.21 L616.10,515.21 L617.95,516.61 L619.80,516.09 L622.00,512.49 L623.50,511.02 L625.00,508.39 L626.45,508.65 L627.90,508.49 L629.40,506.69 L630.90,505.42 L633.10,506.17 L634.55,508.38 L636.00,509.91 L637.85,509.93 L639.70,508.57 L641.55,507.65 L643.40,507.15 L645.70,509.19 L647.90,506.32 L649.60,505.75 L651.30,505.79 L653.00,506.05 L654.50,506.04 L656.00,506.10 L657.50,506.49 L658.95,505.46 L660.40,504.96 L661.90,506.74 L663.40,507.81 L664.90,510.39 L666.40,513.20 L667.85,512.27 L669.30,511.25 L671.50,507.55 L673.00,509.36 L674.50,510.70 L676.00,508.90 L677.50,508.11 L678.95,507.35 L680.40,506.51 L681.73,505.68 L683.07,504.99 L684.40,503.90 L684.4,519.3 L448.7,519.3 Z" fill="#f08a32" fill-opacity="0.17"/>
<path d="M448.70,510.50 L450.45,512.09 L452.20,513.67 L453.62,512.65 L455.05,511.74 L456.47,510.44 L457.90,509.56 L459.34,506.28 L460.78,504.46 L462.22,502.69 L463.66,500.06 L465.10,498.04 L466.53,494.32 L467.95,491.87 L469.38,488.77 L470.80,486.25 L472.23,485.78 L473.67,484.66 L475.10,484.39 L476.53,483.02 L477.97,482.29 L479.40,480.69 L480.85,477.18 L482.30,475.03 L483.70,457.80 L485.10,441.83 L486.60,437.59 L488.00,441.45 L489.40,446.41 L490.83,452.38 L492.27,459.09 L493.70,466.63 L495.13,471.78 L496.57,476.40 L498.00,482.41 L499.45,485.49 L500.90,489.20 L502.35,487.28 L503.80,486.69 L505.80,495.01 L507.25,503.16 L508.70,510.93 L511.00,511.18 L513.20,497.45 L514.95,494.38 L516.70,491.51 L518.15,492.12 L519.60,493.08 L521.03,481.48 L522.47,468.89 L523.90,457.70 L525.33,443.92 L526.77,430.49 L528.20,417.65 L529.60,414.13 L531.00,410.80 L532.45,414.13 L533.90,417.53 L535.33,422.58 L536.77,429.36 L538.20,434.08 L539.62,440.60 L541.05,446.43 L542.48,451.24 L543.90,457.82 L545.34,460.21 L546.78,463.31 L548.22,465.54 L549.66,468.44 L551.10,471.45 L552.52,475.90 L553.95,478.67 L555.38,482.88 L556.80,486.67 L558.25,488.11 L559.70,488.88 L561.15,490.32 L562.60,491.93 L564.02,495.78 L565.45,498.62 L566.88,502.90 L568.30,506.53 L569.74,507.18 L571.18,506.85 L572.62,508.43 L574.06,508.07 L575.50,508.92 L576.92,507.80 L578.35,506.71 L579.78,504.65 L581.20,503.87 L582.65,501.30 L584.10,498.89 L585.00,501.20 L587.20,501.75 L589.40,495.74 L591.70,488.41 L593.90,480.91 L595.40,480.15 L597.60,483.23 L599.80,489.80 L602.00,497.54 L604.20,499.94 L606.40,507.90 L608.70,512.21 L610.17,514.07 L611.63,515.79 L613.10,516.85 L614.60,516.21 L616.10,515.21 L617.95,516.61 L619.80,516.09 L622.00,512.49 L623.50,511.02 L625.00,508.39 L626.45,508.65 L627.90,508.49 L629.40,506.69 L630.90,505.42 L633.10,506.17 L634.55,508.38 L636.00,509.91 L637.85,509.93 L639.70,508.57 L641.55,507.65 L643.40,507.15 L645.70,509.19 L647.90,506.32 L649.60,505.75 L651.30,505.79 L653.00,506.05 L654.50,506.04 L656.00,506.10 L657.50,506.49 L658.95,505.46 L660.40,504.96 L661.90,506.74 L663.40,507.81 L664.90,510.39 L666.40,513.20 L667.85,512.27 L669.30,511.25 L671.50,507.55 L673.00,509.36 L674.50,510.70 L676.00,508.90 L677.50,508.11 L678.95,507.35 L680.40,506.51 L681.73,505.68 L683.07,504.99 L684.40,503.90" fill="none" stroke="#ef8633" stroke-width="1.35" stroke-linejoin="round"/>
<clipPath id="cc"><rect x="448.7" y="36.5" width="235.70" height="152.70"/></clipPath>
<g clip-path="url(#cc)">
<path d="M448.70,166.00 L455.44,165.70 L462.18,166.60 L468.92,176.00 L475.66,187.70 L482.40,163.10 L489.14,169.70 L495.88,175.00 L502.62,171.70 L509.36,173.70 L516.10,161.00 L522.84,170.10 L529.58,170.70 L536.32,171.20 L543.06,165.00 L549.80,169.60 L556.54,161.20 L563.28,161.20 L570.02,152.20 L576.76,142.30 L583.50,141.40 L590.24,83.90 L596.98,55.70 L603.72,50.20 L610.46,115.00 L617.20,138.70 L623.94,127.80 L630.68,147.50 L637.42,163.20 L644.16,160.70 L650.90,160.10 L657.64,175.10 L664.38,167.60 L671.12,172.60 L677.86,185.10 L684.60,176.00" fill="none" stroke="#f43d44" stroke-width="1.5"/>
<rect x="445.00" y="162.50" width="7.4" height="7" fill="#f43d44"/>
<rect x="451.74" y="162.20" width="7.4" height="7" fill="#f43d44"/>
<rect x="458.48" y="163.10" width="7.4" height="7" fill="#f43d44"/>
<rect x="465.22" y="172.50" width="7.4" height="7" fill="#f43d44"/>
<rect x="471.96" y="184.20" width="7.4" height="7" fill="#f43d44"/>
<rect x="478.70" y="159.60" width="7.4" height="7" fill="#f43d44"/>
<rect x="485.44" y="166.20" width="7.4" height="7" fill="#f43d44"/>
<rect x="492.18" y="171.50" width="7.4" height="7" fill="#f43d44"/>
<rect x="498.92" y="168.20" width="7.4" height="7" fill="#f43d44"/>
<rect x="505.66" y="170.20" width="7.4" height="7" fill="#f43d44"/>
<rect x="512.40" y="157.50" width="7.4" height="7" fill="#f43d44"/>
<rect x="519.14" y="166.60" width="7.4" height="7" fill="#f43d44"/>
<rect x="525.88" y="167.20" width="7.4" height="7" fill="#f43d44"/>
<rect x="532.62" y="167.70" width="7.4" height="7" fill="#f43d44"/>
<rect x="539.36" y="161.50" width="7.4" height="7" fill="#f43d44"/>
<rect x="546.10" y="166.10" width="7.4" height="7" fill="#f43d44"/>
<rect x="552.84" y="157.70" width="7.4" height="7" fill="#f43d44"/>
<rect x="559.58" y="157.70" width="7.4" height="7" fill="#f43d44"/>
<rect x="566.32" y="148.70" width="7.4" height="7" fill="#f43d44"/>
<rect x="573.06" y="138.80" width="7.4" height="7" fill="#f43d44"/>
<rect x="579.80" y="137.90" width="7.4" height="7" fill="#f43d44"/>
<rect x="586.54" y="80.40" width="7.4" height="7" fill="#f43d44"/>
<rect x="593.28" y="52.20" width="7.4" height="7" fill="#f43d44"/>
<rect x="600.02" y="46.70" width="7.4" height="7" fill="#f43d44"/>
<rect x="606.76" y="111.50" width="7.4" height="7" fill="#f43d44"/>
<rect x="613.50" y="135.20" width="7.4" height="7" fill="#f43d44"/>
<rect x="620.24" y="124.30" width="7.4" height="7" fill="#f43d44"/>
<rect x="626.98" y="144.00" width="7.4" height="7" fill="#f43d44"/>
<rect x="633.72" y="159.70" width="7.4" height="7" fill="#f43d44"/>
<rect x="640.46" y="157.20" width="7.4" height="7" fill="#f43d44"/>
<rect x="647.20" y="156.60" width="7.4" height="7" fill="#f43d44"/>
<rect x="653.94" y="171.60" width="7.4" height="7" fill="#f43d44"/>
<rect x="660.68" y="164.10" width="7.4" height="7" fill="#f43d44"/>
<rect x="667.42" y="169.10" width="7.4" height="7" fill="#f43d44"/>
<rect x="674.16" y="181.60" width="7.4" height="7" fill="#f43d44"/>
<rect x="680.90" y="172.50" width="7.4" height="7" fill="#f43d44"/>
<path d="M448.70,165.30 L455.44,184.60 L462.18,180.20 L468.92,181.10 L475.66,183.30 L482.40,186.30 L489.14,178.00 L495.88,171.90 L502.62,185.90 L509.36,177.80 L516.10,185.50 L522.84,174.70 L529.58,180.90 L536.32,174.20 L543.06,174.70 L549.80,169.60 L556.54,179.30 L563.28,186.50 L570.02,174.70 L576.76,164.40 L583.50,137.50 L590.24,78.10 L596.98,50.20 L603.72,146.70 L610.46,157.30 L617.20,164.40 L623.94,162.00 L630.68,159.40 L637.42,177.00 L644.16,176.30 L650.90,181.40 L657.64,178.90 L664.38,178.90 L671.12,187.60 L677.86,176.30 L684.60,177.60" fill="none" stroke="#2342f7" stroke-width="1.5"/>
<circle cx="448.70" cy="165.30" r="4.1" fill="#2342f7"/>
<circle cx="455.44" cy="184.60" r="4.1" fill="#2342f7"/>
<circle cx="462.18" cy="180.20" r="4.1" fill="#2342f7"/>
<circle cx="468.92" cy="181.10" r="4.1" fill="#2342f7"/>
<circle cx="475.66" cy="183.30" r="4.1" fill="#2342f7"/>
<circle cx="482.40" cy="186.30" r="4.1" fill="#2342f7"/>
<circle cx="489.14" cy="178.00" r="4.1" fill="#2342f7"/>
<circle cx="495.88" cy="171.90" r="4.1" fill="#2342f7"/>
<circle cx="502.62" cy="185.90" r="4.1" fill="#2342f7"/>
<circle cx="509.36" cy="177.80" r="4.1" fill="#2342f7"/>
<circle cx="516.10" cy="185.50" r="4.1" fill="#2342f7"/>
<circle cx="522.84" cy="174.70" r="4.1" fill="#2342f7"/>
<circle cx="529.58" cy="180.90" r="4.1" fill="#2342f7"/>
<circle cx="536.32" cy="174.20" r="4.1" fill="#2342f7"/>
<circle cx="543.06" cy="174.70" r="4.1" fill="#2342f7"/>
<circle cx="549.80" cy="169.60" r="4.1" fill="#2342f7"/>
<circle cx="556.54" cy="179.30" r="4.1" fill="#2342f7"/>
<circle cx="563.28" cy="186.50" r="4.1" fill="#2342f7"/>
<circle cx="570.02" cy="174.70" r="4.1" fill="#2342f7"/>
<circle cx="576.76" cy="164.40" r="4.1" fill="#2342f7"/>
<circle cx="583.50" cy="137.50" r="4.1" fill="#2342f7"/>
<circle cx="590.24" cy="78.10" r="4.1" fill="#2342f7"/>
<circle cx="596.98" cy="50.20" r="4.1" fill="#2342f7"/>
<circle cx="603.72" cy="146.70" r="4.1" fill="#2342f7"/>
<circle cx="610.46" cy="157.30" r="4.1" fill="#2342f7"/>
<circle cx="617.20" cy="164.40" r="4.1" fill="#2342f7"/>
<circle cx="623.94" cy="162.00" r="4.1" fill="#2342f7"/>
<circle cx="630.68" cy="159.40" r="4.1" fill="#2342f7"/>
<circle cx="637.42" cy="177.00" r="4.1" fill="#2342f7"/>
<circle cx="644.16" cy="176.30" r="4.1" fill="#2342f7"/>
<circle cx="650.90" cy="181.40" r="4.1" fill="#2342f7"/>
<circle cx="657.64" cy="178.90" r="4.1" fill="#2342f7"/>
<circle cx="664.38" cy="178.90" r="4.1" fill="#2342f7"/>
<circle cx="671.12" cy="187.60" r="4.1" fill="#2342f7"/>
<circle cx="677.86" cy="176.30" r="4.1" fill="#2342f7"/>
<circle cx="684.60" cy="177.60" r="4.1" fill="#2342f7"/>
<path d="M448.70,175.40 L455.44,175.80 L462.18,173.60 L468.92,168.80 L475.66,175.40 L482.40,175.40 L489.14,175.00 L495.88,178.90 L502.62,178.50 L509.36,174.20 L516.10,176.80 L522.84,177.80 L529.58,179.90 L536.32,181.90 L543.06,167.10 L549.80,174.20 L556.54,175.80 L563.28,172.70 L570.02,181.90 L576.76,166.20 L583.50,182.10 L590.24,176.80 L596.98,180.40 L603.72,176.80 L610.46,177.70 L617.20,175.10 L623.94,173.20 L630.68,170.10 L637.42,168.80 L644.16,172.60 L650.90,176.30 L657.64,178.90 L664.38,177.00 L671.12,179.50 L677.86,177.60 L684.60,170.10" fill="none" stroke="#e3aa30" stroke-width="1.5"/>
<circle cx="448.70" cy="175.40" r="4.1" fill="#e3aa30"/>
<circle cx="455.44" cy="175.80" r="4.1" fill="#e3aa30"/>
<circle cx="462.18" cy="173.60" r="4.1" fill="#e3aa30"/>
<circle cx="468.92" cy="168.80" r="4.1" fill="#e3aa30"/>
<circle cx="475.66" cy="175.40" r="4.1" fill="#e3aa30"/>
<circle cx="482.40" cy="175.40" r="4.1" fill="#e3aa30"/>
<circle cx="489.14" cy="175.00" r="4.1" fill="#e3aa30"/>
<circle cx="495.88" cy="178.90" r="4.1" fill="#e3aa30"/>
<circle cx="502.62" cy="178.50" r="4.1" fill="#e3aa30"/>
<circle cx="509.36" cy="174.20" r="4.1" fill="#e3aa30"/>
<circle cx="516.10" cy="176.80" r="4.1" fill="#e3aa30"/>
<circle cx="522.84" cy="177.80" r="4.1" fill="#e3aa30"/>
<circle cx="529.58" cy="179.90" r="4.1" fill="#e3aa30"/>
<circle cx="536.32" cy="181.90" r="4.1" fill="#e3aa30"/>
<circle cx="543.06" cy="167.10" r="4.1" fill="#e3aa30"/>
<circle cx="549.80" cy="174.20" r="4.1" fill="#e3aa30"/>
<circle cx="556.54" cy="175.80" r="4.1" fill="#e3aa30"/>
<circle cx="563.28" cy="172.70" r="4.1" fill="#e3aa30"/>
<circle cx="570.02" cy="181.90" r="4.1" fill="#e3aa30"/>
<circle cx="576.76" cy="166.20" r="4.1" fill="#e3aa30"/>
<circle cx="583.50" cy="182.10" r="4.1" fill="#e3aa30"/>
<circle cx="590.24" cy="176.80" r="4.1" fill="#e3aa30"/>
<circle cx="596.98" cy="180.40" r="4.1" fill="#e3aa30"/>
<circle cx="603.72" cy="176.80" r="4.1" fill="#e3aa30"/>
<circle cx="610.46" cy="177.70" r="4.1" fill="#e3aa30"/>
<circle cx="617.20" cy="175.10" r="4.1" fill="#e3aa30"/>
<circle cx="623.94" cy="173.20" r="4.1" fill="#e3aa30"/>
<circle cx="630.68" cy="170.10" r="4.1" fill="#e3aa30"/>
<circle cx="637.42" cy="168.80" r="4.1" fill="#e3aa30"/>
<circle cx="644.16" cy="172.60" r="4.1" fill="#e3aa30"/>
<circle cx="650.90" cy="176.30" r="4.1" fill="#e3aa30"/>
<circle cx="657.64" cy="178.90" r="4.1" fill="#e3aa30"/>
<circle cx="664.38" cy="177.00" r="4.1" fill="#e3aa30"/>
<circle cx="671.12" cy="179.50" r="4.1" fill="#e3aa30"/>
<circle cx="677.86" cy="177.60" r="4.1" fill="#e3aa30"/>
<circle cx="684.60" cy="170.10" r="4.1" fill="#e3aa30"/>
</g>
<line x1="516.10" y1="182.70" x2="516.10" y2="189.20" stroke="#2b2b2b" stroke-width="1.0" />
<line x1="583.50" y1="182.70" x2="583.50" y2="189.20" stroke="#2b2b2b" stroke-width="1.0" />
<line x1="650.90" y1="182.70" x2="650.90" y2="189.20" stroke="#2b2b2b" stroke-width="1.0" />
<line x1="453.50" y1="63.30" x2="472.60" y2="63.30" stroke="#f43d44" stroke-width="1.5" />
<rect x="459.3" y="59.80" width="7.4" height="7" fill="#f43d44"/>
<text x="477.40" y="67.60" font-size="12.2" text-anchor="start" textLength="98.50" lengthAdjust="spacingAndGlyphs" fill="#1a1a1a" >PC-VIPER (FAPbBr<tspan dy="3" font-size="9">3</tspan><tspan dy="-3">)</tspan></text>
<line x1="453.50" y1="78.30" x2="472.60" y2="78.30" stroke="#2342f7" stroke-width="1.5" />
<circle cx="463" cy="78.30" r="4.1" fill="#2342f7"/>
<text x="477.40" y="82.60" font-size="12.2" text-anchor="start" textLength="96.00" lengthAdjust="spacingAndGlyphs" fill="#1a1a1a" >PL-VIPER (FAPbBr<tspan dy="3" font-size="9">3</tspan><tspan dy="-3">)</tspan></text>
<line x1="453.50" y1="93.30" x2="472.60" y2="93.30" stroke="#e3aa30" stroke-width="1.5" />
<circle cx="463" cy="93.30" r="4.1" fill="#e3aa30"/>
<text x="477.40" y="97.60" font-size="12.2" text-anchor="start" textLength="98.50" lengthAdjust="spacingAndGlyphs" fill="#1a1a1a" >PC-VIPER (CsPbBr<tspan dy="3" font-size="9">3</tspan><tspan dy="-3">)</tspan></text>
<text x="473.60" y="303.90" font-size="13.2" text-anchor="start" textLength="41.50" lengthAdjust="spacingAndGlyphs" fill="#1a1a1a" >δ<tspan dy="2.5" font-size="8.5">1</tspan><tspan dy="-2.5">(N–H)</tspan></text>
<path d="M513.1,310.1 L521.0,329.5" stroke="#000" stroke-width="2.6"/>
<path d="M524.4,336.8 L516.2,329.0 L524.8,325.6 Z" fill="#000"/>
<text x="612.30" y="265.30" font-size="13.2" text-anchor="start" textLength="52.80" lengthAdjust="spacingAndGlyphs" fill="#1a1a1a" ><tspan font-style="italic">v</tspan>(N–C=N)</text>
<path d="M613.7,254.0 L606.2,243.6" stroke="#000" stroke-width="2.6"/>
<path d="M602.4,238.2 L610.3,241.3 L603.6,246.2 Z" fill="#000"/>
<text x="464.20" y="395.40" font-size="13.2" text-anchor="start" textLength="43.00" lengthAdjust="spacingAndGlyphs" fill="#1a1a1a" >δ<tspan dy="2.5" font-size="8.5">2</tspan><tspan dy="-2.5">(N–H)</tspan></text>
<path d="M487,401.8 L487,424" stroke="#000" stroke-width="2.6"/>
<path d="M482.4,421.5 L491.6,421.5 L487,432.4 Z" fill="#000"/>
</svg></body></html>
